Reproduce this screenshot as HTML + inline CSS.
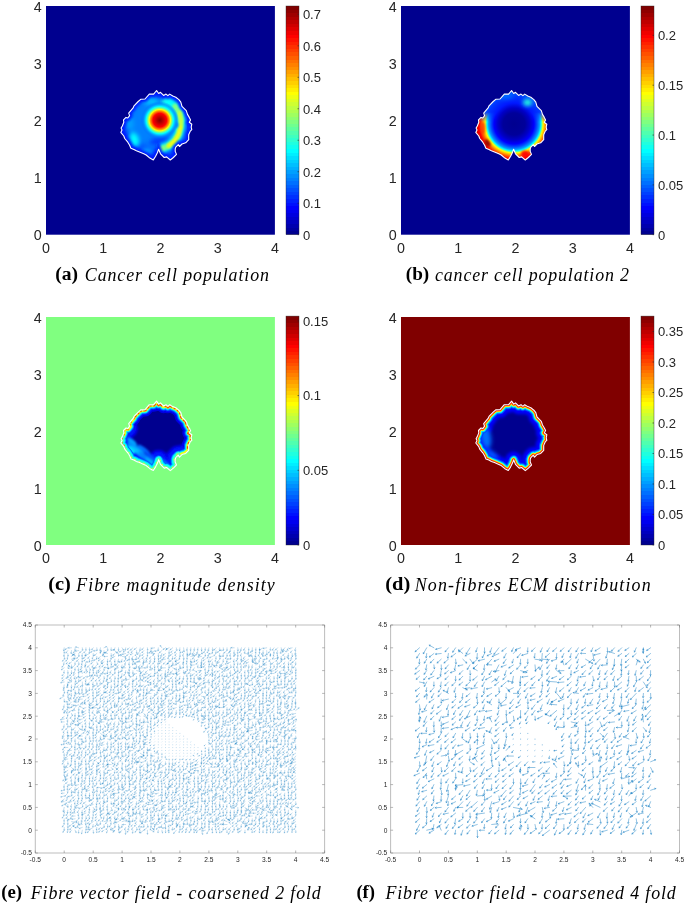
<!DOCTYPE html><html><head><meta charset="utf-8"><style>html,body{margin:0;padding:0;background:#fff;}svg{display:block}</style></head><body>
<svg width="685" height="904" viewBox="0 0 685 904">
<defs>
<linearGradient id="jet" x1="0" y1="0" x2="0" y2="1"><stop offset="0.00000" stop-color="#800000"/><stop offset="0.01562" stop-color="#800000"/><stop offset="0.01562" stop-color="#8f0000"/><stop offset="0.03125" stop-color="#8f0000"/><stop offset="0.03125" stop-color="#9f0000"/><stop offset="0.04688" stop-color="#9f0000"/><stop offset="0.04688" stop-color="#af0000"/><stop offset="0.06250" stop-color="#af0000"/><stop offset="0.06250" stop-color="#bf0000"/><stop offset="0.07812" stop-color="#bf0000"/><stop offset="0.07812" stop-color="#cf0000"/><stop offset="0.09375" stop-color="#cf0000"/><stop offset="0.09375" stop-color="#df0000"/><stop offset="0.10938" stop-color="#df0000"/><stop offset="0.10938" stop-color="#ef0000"/><stop offset="0.12500" stop-color="#ef0000"/><stop offset="0.12500" stop-color="#ff0000"/><stop offset="0.14062" stop-color="#ff0000"/><stop offset="0.14062" stop-color="#ff1000"/><stop offset="0.15625" stop-color="#ff1000"/><stop offset="0.15625" stop-color="#ff2000"/><stop offset="0.17188" stop-color="#ff2000"/><stop offset="0.17188" stop-color="#ff3000"/><stop offset="0.18750" stop-color="#ff3000"/><stop offset="0.18750" stop-color="#ff4000"/><stop offset="0.20312" stop-color="#ff4000"/><stop offset="0.20312" stop-color="#ff5000"/><stop offset="0.21875" stop-color="#ff5000"/><stop offset="0.21875" stop-color="#ff6000"/><stop offset="0.23438" stop-color="#ff6000"/><stop offset="0.23438" stop-color="#ff7000"/><stop offset="0.25000" stop-color="#ff7000"/><stop offset="0.25000" stop-color="#ff8000"/><stop offset="0.26562" stop-color="#ff8000"/><stop offset="0.26562" stop-color="#ff8f00"/><stop offset="0.28125" stop-color="#ff8f00"/><stop offset="0.28125" stop-color="#ff9f00"/><stop offset="0.29688" stop-color="#ff9f00"/><stop offset="0.29688" stop-color="#ffaf00"/><stop offset="0.31250" stop-color="#ffaf00"/><stop offset="0.31250" stop-color="#ffbf00"/><stop offset="0.32812" stop-color="#ffbf00"/><stop offset="0.32812" stop-color="#ffcf00"/><stop offset="0.34375" stop-color="#ffcf00"/><stop offset="0.34375" stop-color="#ffdf00"/><stop offset="0.35938" stop-color="#ffdf00"/><stop offset="0.35938" stop-color="#ffef00"/><stop offset="0.37500" stop-color="#ffef00"/><stop offset="0.37500" stop-color="#ffff00"/><stop offset="0.39062" stop-color="#ffff00"/><stop offset="0.39062" stop-color="#efff10"/><stop offset="0.40625" stop-color="#efff10"/><stop offset="0.40625" stop-color="#dfff20"/><stop offset="0.42188" stop-color="#dfff20"/><stop offset="0.42188" stop-color="#cfff30"/><stop offset="0.43750" stop-color="#cfff30"/><stop offset="0.43750" stop-color="#bfff40"/><stop offset="0.45312" stop-color="#bfff40"/><stop offset="0.45312" stop-color="#afff50"/><stop offset="0.46875" stop-color="#afff50"/><stop offset="0.46875" stop-color="#9fff60"/><stop offset="0.48438" stop-color="#9fff60"/><stop offset="0.48438" stop-color="#8fff70"/><stop offset="0.50000" stop-color="#8fff70"/><stop offset="0.50000" stop-color="#80ff80"/><stop offset="0.51562" stop-color="#80ff80"/><stop offset="0.51562" stop-color="#70ff8f"/><stop offset="0.53125" stop-color="#70ff8f"/><stop offset="0.53125" stop-color="#60ff9f"/><stop offset="0.54688" stop-color="#60ff9f"/><stop offset="0.54688" stop-color="#50ffaf"/><stop offset="0.56250" stop-color="#50ffaf"/><stop offset="0.56250" stop-color="#40ffbf"/><stop offset="0.57812" stop-color="#40ffbf"/><stop offset="0.57812" stop-color="#30ffcf"/><stop offset="0.59375" stop-color="#30ffcf"/><stop offset="0.59375" stop-color="#20ffdf"/><stop offset="0.60938" stop-color="#20ffdf"/><stop offset="0.60938" stop-color="#10ffef"/><stop offset="0.62500" stop-color="#10ffef"/><stop offset="0.62500" stop-color="#00ffff"/><stop offset="0.64062" stop-color="#00ffff"/><stop offset="0.64062" stop-color="#00efff"/><stop offset="0.65625" stop-color="#00efff"/><stop offset="0.65625" stop-color="#00dfff"/><stop offset="0.67188" stop-color="#00dfff"/><stop offset="0.67188" stop-color="#00cfff"/><stop offset="0.68750" stop-color="#00cfff"/><stop offset="0.68750" stop-color="#00bfff"/><stop offset="0.70312" stop-color="#00bfff"/><stop offset="0.70312" stop-color="#00afff"/><stop offset="0.71875" stop-color="#00afff"/><stop offset="0.71875" stop-color="#009fff"/><stop offset="0.73438" stop-color="#009fff"/><stop offset="0.73438" stop-color="#008fff"/><stop offset="0.75000" stop-color="#008fff"/><stop offset="0.75000" stop-color="#0080ff"/><stop offset="0.76562" stop-color="#0080ff"/><stop offset="0.76562" stop-color="#0070ff"/><stop offset="0.78125" stop-color="#0070ff"/><stop offset="0.78125" stop-color="#0060ff"/><stop offset="0.79688" stop-color="#0060ff"/><stop offset="0.79688" stop-color="#0050ff"/><stop offset="0.81250" stop-color="#0050ff"/><stop offset="0.81250" stop-color="#0040ff"/><stop offset="0.82812" stop-color="#0040ff"/><stop offset="0.82812" stop-color="#0030ff"/><stop offset="0.84375" stop-color="#0030ff"/><stop offset="0.84375" stop-color="#0020ff"/><stop offset="0.85938" stop-color="#0020ff"/><stop offset="0.85938" stop-color="#0010ff"/><stop offset="0.87500" stop-color="#0010ff"/><stop offset="0.87500" stop-color="#0000ff"/><stop offset="0.89062" stop-color="#0000ff"/><stop offset="0.89062" stop-color="#0000ef"/><stop offset="0.90625" stop-color="#0000ef"/><stop offset="0.90625" stop-color="#0000df"/><stop offset="0.92188" stop-color="#0000df"/><stop offset="0.92188" stop-color="#0000cf"/><stop offset="0.93750" stop-color="#0000cf"/><stop offset="0.93750" stop-color="#0000bf"/><stop offset="0.95312" stop-color="#0000bf"/><stop offset="0.95312" stop-color="#0000af"/><stop offset="0.96875" stop-color="#0000af"/><stop offset="0.96875" stop-color="#00009f"/><stop offset="0.98438" stop-color="#00009f"/><stop offset="0.98438" stop-color="#00008f"/><stop offset="1.00000" stop-color="#00008f"/></linearGradient>
<clipPath id="blob"><path d="M110.6,84.5 L112.7,87.5 L114.5,86.3 L117.6,89.4 L120.0,88.1 L121.9,89.7 L123.7,88.1 L126.8,90.0 L129.8,91.2 L132.9,93.6 L134.8,96.1 L136.0,100.4 L140.3,104.7 L141.5,108.4 L143.3,111.4 L144.6,113.9 L143.3,116.3 L145.8,118.2 L145.2,121.2 L145.8,123.7 L144.3,125.1 L142.7,128.8 L142.7,133.7 L139.7,136.8 L136.0,138.0 L133.5,140.5 L132.3,138.6 L129.8,141.1 L129.2,142.9 L129.2,145.4 L130.5,148.4 L127.4,151.5 L124.3,154.0 L120.6,150.9 L118.2,151.5 L114.5,147.8 L112.6,143.2 L111.5,146.5 L109.5,150.5 L107.3,153.9 L103.9,152.1 L100.2,149.0 L97.8,147.8 L93.5,146.0 L90.4,144.8 L87.9,143.5 L84.9,142.3 L83.6,139.2 L81.8,136.2 L78.7,132.5 L77.8,130.0 L74.8,126.4 L76.0,123.9 L75.1,122.1 L76.3,120.0 L77.8,116.3 L77.5,113.9 L80.0,111.4 L81.8,112.0 L83.6,109.6 L82.7,107.1 L87.3,101.6 L88.0,99.8 L92.2,95.5 L94.7,93.3 L99.0,93.0 L103.3,88.1 L107.6,88.1 Z"/></clipPath>
<filter id="b1" x="-20%" y="-20%" width="140%" height="140%"><feGaussianBlur stdDeviation="1"/></filter>
<filter id="b2" x="-30%" y="-30%" width="160%" height="160%"><feGaussianBlur stdDeviation="2"/></filter>
<filter id="b3" x="-30%" y="-30%" width="160%" height="160%"><feGaussianBlur stdDeviation="3"/></filter>
<filter id="b05" x="-20%" y="-20%" width="140%" height="140%"><feGaussianBlur stdDeviation="0.6"/></filter>
<radialGradient id="coreA" cx="0.5" cy="0.5" r="0.5"><stop offset="0" stop-color="#800000"/><stop offset="0.14" stop-color="#b00000"/><stop offset="0.36" stop-color="#ff0000"/><stop offset="0.43" stop-color="#ff5000"/><stop offset="0.5" stop-color="#ffa000"/><stop offset="0.56" stop-color="#ffff00"/><stop offset="0.63" stop-color="#80ff80"/><stop offset="0.72" stop-color="#00ffff"/><stop offset="0.86" stop-color="#0090ff" stop-opacity="0.7"/><stop offset="1" stop-color="#0060ff" stop-opacity="0"/></radialGradient>
<radialGradient id="coreB" cx="0.5" cy="0.5" r="0.5"><stop offset="0" stop-color="#00008f"/><stop offset="0.4" stop-color="#0000a0"/><stop offset="0.7" stop-color="#0010e0"/><stop offset="1" stop-color="#0030ff" stop-opacity="0"/></radialGradient>
</defs>
<rect width="685" height="904" fill="#fff"/>
<rect x="46" y="6" width="228.9" height="228.7" fill="#00008f"/>
<rect x="286" y="6" width="13" height="228.7" fill="url(#jet)" stroke="#262626" stroke-width="0.5" stroke-opacity="0.8"/>
<text x="41.6" y="240.30" font-family="Liberation Sans, sans-serif" font-size="14.3" fill="#262626" text-anchor="end">0</text>
<text x="46.00" y="252.60" font-family="Liberation Sans, sans-serif" font-size="14.3" fill="#262626" text-anchor="middle">0</text>
<text x="41.6" y="183.12" font-family="Liberation Sans, sans-serif" font-size="14.3" fill="#262626" text-anchor="end">1</text>
<text x="103.22" y="252.60" font-family="Liberation Sans, sans-serif" font-size="14.3" fill="#262626" text-anchor="middle">1</text>
<text x="41.6" y="125.95" font-family="Liberation Sans, sans-serif" font-size="14.3" fill="#262626" text-anchor="end">2</text>
<text x="160.45" y="252.60" font-family="Liberation Sans, sans-serif" font-size="14.3" fill="#262626" text-anchor="middle">2</text>
<text x="41.6" y="68.78" font-family="Liberation Sans, sans-serif" font-size="14.3" fill="#262626" text-anchor="end">3</text>
<text x="217.68" y="252.60" font-family="Liberation Sans, sans-serif" font-size="14.3" fill="#262626" text-anchor="middle">3</text>
<text x="41.6" y="11.60" font-family="Liberation Sans, sans-serif" font-size="14.3" fill="#262626" text-anchor="end">4</text>
<text x="274.90" y="252.60" font-family="Liberation Sans, sans-serif" font-size="14.3" fill="#262626" text-anchor="middle">4</text>
<line x1="297.5" x2="299" y1="234.70" y2="234.70" stroke="#262626" stroke-width="0.6"/>
<text x="302.9" y="239.50" font-family="Liberation Sans, sans-serif" font-size="13" fill="#262626">0</text>
<line x1="297.5" x2="299" y1="203.22" y2="203.22" stroke="#262626" stroke-width="0.6"/>
<text x="302.9" y="208.02" font-family="Liberation Sans, sans-serif" font-size="13" fill="#262626">0.1</text>
<line x1="297.5" x2="299" y1="171.74" y2="171.74" stroke="#262626" stroke-width="0.6"/>
<text x="302.9" y="176.54" font-family="Liberation Sans, sans-serif" font-size="13" fill="#262626">0.2</text>
<line x1="297.5" x2="299" y1="140.26" y2="140.26" stroke="#262626" stroke-width="0.6"/>
<text x="302.9" y="145.06" font-family="Liberation Sans, sans-serif" font-size="13" fill="#262626">0.3</text>
<line x1="297.5" x2="299" y1="108.78" y2="108.78" stroke="#262626" stroke-width="0.6"/>
<text x="302.9" y="113.58" font-family="Liberation Sans, sans-serif" font-size="13" fill="#262626">0.4</text>
<line x1="297.5" x2="299" y1="77.30" y2="77.30" stroke="#262626" stroke-width="0.6"/>
<text x="302.9" y="82.10" font-family="Liberation Sans, sans-serif" font-size="13" fill="#262626">0.5</text>
<line x1="297.5" x2="299" y1="45.82" y2="45.82" stroke="#262626" stroke-width="0.6"/>
<text x="302.9" y="50.62" font-family="Liberation Sans, sans-serif" font-size="13" fill="#262626">0.6</text>
<line x1="297.5" x2="299" y1="14.34" y2="14.34" stroke="#262626" stroke-width="0.6"/>
<text x="302.9" y="19.14" font-family="Liberation Sans, sans-serif" font-size="13" fill="#262626">0.7</text>
<rect x="401" y="6" width="228.9" height="228.7" fill="#00008f"/>
<rect x="641" y="6" width="13" height="228.7" fill="url(#jet)" stroke="#262626" stroke-width="0.5" stroke-opacity="0.8"/>
<text x="396.6" y="240.30" font-family="Liberation Sans, sans-serif" font-size="14.3" fill="#262626" text-anchor="end">0</text>
<text x="401.00" y="252.60" font-family="Liberation Sans, sans-serif" font-size="14.3" fill="#262626" text-anchor="middle">0</text>
<text x="396.6" y="183.12" font-family="Liberation Sans, sans-serif" font-size="14.3" fill="#262626" text-anchor="end">1</text>
<text x="458.23" y="252.60" font-family="Liberation Sans, sans-serif" font-size="14.3" fill="#262626" text-anchor="middle">1</text>
<text x="396.6" y="125.95" font-family="Liberation Sans, sans-serif" font-size="14.3" fill="#262626" text-anchor="end">2</text>
<text x="515.45" y="252.60" font-family="Liberation Sans, sans-serif" font-size="14.3" fill="#262626" text-anchor="middle">2</text>
<text x="396.6" y="68.78" font-family="Liberation Sans, sans-serif" font-size="14.3" fill="#262626" text-anchor="end">3</text>
<text x="572.67" y="252.60" font-family="Liberation Sans, sans-serif" font-size="14.3" fill="#262626" text-anchor="middle">3</text>
<text x="396.6" y="11.60" font-family="Liberation Sans, sans-serif" font-size="14.3" fill="#262626" text-anchor="end">4</text>
<text x="629.90" y="252.60" font-family="Liberation Sans, sans-serif" font-size="14.3" fill="#262626" text-anchor="middle">4</text>
<line x1="652.5" x2="654" y1="234.70" y2="234.70" stroke="#262626" stroke-width="0.6"/>
<text x="657.9" y="239.50" font-family="Liberation Sans, sans-serif" font-size="13" fill="#262626">0</text>
<line x1="652.5" x2="654" y1="184.87" y2="184.87" stroke="#262626" stroke-width="0.6"/>
<text x="657.9" y="189.67" font-family="Liberation Sans, sans-serif" font-size="13" fill="#262626">0.05</text>
<line x1="652.5" x2="654" y1="135.05" y2="135.05" stroke="#262626" stroke-width="0.6"/>
<text x="657.9" y="139.85" font-family="Liberation Sans, sans-serif" font-size="13" fill="#262626">0.1</text>
<line x1="652.5" x2="654" y1="85.22" y2="85.22" stroke="#262626" stroke-width="0.6"/>
<text x="657.9" y="90.02" font-family="Liberation Sans, sans-serif" font-size="13" fill="#262626">0.15</text>
<line x1="652.5" x2="654" y1="35.40" y2="35.40" stroke="#262626" stroke-width="0.6"/>
<text x="657.9" y="40.20" font-family="Liberation Sans, sans-serif" font-size="13" fill="#262626">0.2</text>
<rect x="46" y="317" width="228.9" height="228" fill="#80ff80"/>
<rect x="286" y="316.1" width="13" height="228.9" fill="url(#jet)" stroke="#262626" stroke-width="0.5" stroke-opacity="0.8"/>
<text x="41.6" y="550.60" font-family="Liberation Sans, sans-serif" font-size="14.3" fill="#262626" text-anchor="end">0</text>
<text x="46.00" y="562.90" font-family="Liberation Sans, sans-serif" font-size="14.3" fill="#262626" text-anchor="middle">0</text>
<text x="41.6" y="493.60" font-family="Liberation Sans, sans-serif" font-size="14.3" fill="#262626" text-anchor="end">1</text>
<text x="103.22" y="562.90" font-family="Liberation Sans, sans-serif" font-size="14.3" fill="#262626" text-anchor="middle">1</text>
<text x="41.6" y="436.60" font-family="Liberation Sans, sans-serif" font-size="14.3" fill="#262626" text-anchor="end">2</text>
<text x="160.45" y="562.90" font-family="Liberation Sans, sans-serif" font-size="14.3" fill="#262626" text-anchor="middle">2</text>
<text x="41.6" y="379.60" font-family="Liberation Sans, sans-serif" font-size="14.3" fill="#262626" text-anchor="end">3</text>
<text x="217.68" y="562.90" font-family="Liberation Sans, sans-serif" font-size="14.3" fill="#262626" text-anchor="middle">3</text>
<text x="41.6" y="322.60" font-family="Liberation Sans, sans-serif" font-size="14.3" fill="#262626" text-anchor="end">4</text>
<text x="274.90" y="562.90" font-family="Liberation Sans, sans-serif" font-size="14.3" fill="#262626" text-anchor="middle">4</text>
<line x1="297.5" x2="299" y1="545.00" y2="545.00" stroke="#262626" stroke-width="0.6"/>
<text x="302.9" y="549.80" font-family="Liberation Sans, sans-serif" font-size="13" fill="#262626">0</text>
<line x1="297.5" x2="299" y1="470.29" y2="470.29" stroke="#262626" stroke-width="0.6"/>
<text x="302.9" y="475.09" font-family="Liberation Sans, sans-serif" font-size="13" fill="#262626">0.05</text>
<line x1="297.5" x2="299" y1="395.59" y2="395.59" stroke="#262626" stroke-width="0.6"/>
<text x="302.9" y="400.39" font-family="Liberation Sans, sans-serif" font-size="13" fill="#262626">0.1</text>
<line x1="297.5" x2="299" y1="320.88" y2="320.88" stroke="#262626" stroke-width="0.6"/>
<text x="302.9" y="325.68" font-family="Liberation Sans, sans-serif" font-size="13" fill="#262626">0.15</text>
<rect x="401" y="317" width="228.9" height="228" fill="#800000"/>
<rect x="641" y="316.1" width="13" height="228.9" fill="url(#jet)" stroke="#262626" stroke-width="0.5" stroke-opacity="0.8"/>
<text x="396.6" y="550.60" font-family="Liberation Sans, sans-serif" font-size="14.3" fill="#262626" text-anchor="end">0</text>
<text x="401.00" y="562.90" font-family="Liberation Sans, sans-serif" font-size="14.3" fill="#262626" text-anchor="middle">0</text>
<text x="396.6" y="493.60" font-family="Liberation Sans, sans-serif" font-size="14.3" fill="#262626" text-anchor="end">1</text>
<text x="458.23" y="562.90" font-family="Liberation Sans, sans-serif" font-size="14.3" fill="#262626" text-anchor="middle">1</text>
<text x="396.6" y="436.60" font-family="Liberation Sans, sans-serif" font-size="14.3" fill="#262626" text-anchor="end">2</text>
<text x="515.45" y="562.90" font-family="Liberation Sans, sans-serif" font-size="14.3" fill="#262626" text-anchor="middle">2</text>
<text x="396.6" y="379.60" font-family="Liberation Sans, sans-serif" font-size="14.3" fill="#262626" text-anchor="end">3</text>
<text x="572.67" y="562.90" font-family="Liberation Sans, sans-serif" font-size="14.3" fill="#262626" text-anchor="middle">3</text>
<text x="396.6" y="322.60" font-family="Liberation Sans, sans-serif" font-size="14.3" fill="#262626" text-anchor="end">4</text>
<text x="629.90" y="562.90" font-family="Liberation Sans, sans-serif" font-size="14.3" fill="#262626" text-anchor="middle">4</text>
<line x1="652.5" x2="654" y1="545.00" y2="545.00" stroke="#262626" stroke-width="0.6"/>
<text x="657.9" y="549.80" font-family="Liberation Sans, sans-serif" font-size="13" fill="#262626">0</text>
<line x1="652.5" x2="654" y1="514.50" y2="514.50" stroke="#262626" stroke-width="0.6"/>
<text x="657.9" y="519.30" font-family="Liberation Sans, sans-serif" font-size="13" fill="#262626">0.05</text>
<line x1="652.5" x2="654" y1="483.99" y2="483.99" stroke="#262626" stroke-width="0.6"/>
<text x="657.9" y="488.79" font-family="Liberation Sans, sans-serif" font-size="13" fill="#262626">0.1</text>
<line x1="652.5" x2="654" y1="453.49" y2="453.49" stroke="#262626" stroke-width="0.6"/>
<text x="657.9" y="458.29" font-family="Liberation Sans, sans-serif" font-size="13" fill="#262626">0.15</text>
<line x1="652.5" x2="654" y1="422.99" y2="422.99" stroke="#262626" stroke-width="0.6"/>
<text x="657.9" y="427.79" font-family="Liberation Sans, sans-serif" font-size="13" fill="#262626">0.2</text>
<line x1="652.5" x2="654" y1="392.48" y2="392.48" stroke="#262626" stroke-width="0.6"/>
<text x="657.9" y="397.28" font-family="Liberation Sans, sans-serif" font-size="13" fill="#262626">0.25</text>
<line x1="652.5" x2="654" y1="361.98" y2="361.98" stroke="#262626" stroke-width="0.6"/>
<text x="657.9" y="366.78" font-family="Liberation Sans, sans-serif" font-size="13" fill="#262626">0.3</text>
<line x1="652.5" x2="654" y1="331.47" y2="331.47" stroke="#262626" stroke-width="0.6"/>
<text x="657.9" y="336.27" font-family="Liberation Sans, sans-serif" font-size="13" fill="#262626">0.35</text>
<g transform="translate(46,6)">
<g clip-path="url(#blob)">
<path d="M110.6,84.5 L112.7,87.5 L114.5,86.3 L117.6,89.4 L120.0,88.1 L121.9,89.7 L123.7,88.1 L126.8,90.0 L129.8,91.2 L132.9,93.6 L134.8,96.1 L136.0,100.4 L140.3,104.7 L141.5,108.4 L143.3,111.4 L144.6,113.9 L143.3,116.3 L145.8,118.2 L145.2,121.2 L145.8,123.7 L144.3,125.1 L142.7,128.8 L142.7,133.7 L139.7,136.8 L136.0,138.0 L133.5,140.5 L132.3,138.6 L129.8,141.1 L129.2,142.9 L129.2,145.4 L130.5,148.4 L127.4,151.5 L124.3,154.0 L120.6,150.9 L118.2,151.5 L114.5,147.8 L112.6,143.2 L111.5,146.5 L109.5,150.5 L107.3,153.9 L103.9,152.1 L100.2,149.0 L97.8,147.8 L93.5,146.0 L90.4,144.8 L87.9,143.5 L84.9,142.3 L83.6,139.2 L81.8,136.2 L78.7,132.5 L77.8,130.0 L74.8,126.4 L76.0,123.9 L75.1,122.1 L76.3,120.0 L77.8,116.3 L77.5,113.9 L80.0,111.4 L81.8,112.0 L83.6,109.6 L82.7,107.1 L87.3,101.6 L88.0,99.8 L92.2,95.5 L94.7,93.3 L99.0,93.0 L103.3,88.1 L107.6,88.1 Z" fill="#0040ff"/>
<g filter="url(#b3)">
<ellipse cx="109.0" cy="117.0" rx="27" ry="25" fill="#0080ff" opacity="1" transform="rotate(0 109.0 117.0)"/>
</g>
<g filter="url(#b2)">
<ellipse cx="114.0" cy="135.0" rx="11" ry="3.5" fill="#0038ff" opacity="1" transform="rotate(-8 114.0 135.0)"/>
<ellipse cx="88.5" cy="133.5" rx="4.5" ry="7.5" fill="#00ffff" opacity="1" transform="rotate(-20 88.5 133.5)"/>
<ellipse cx="105.0" cy="95.5" rx="8" ry="3.5" fill="#00c0ff" opacity="1" transform="rotate(0 105.0 95.5)"/>
<ellipse cx="84.0" cy="118.0" rx="4" ry="7" fill="#00a0ff" opacity="1" transform="rotate(0 84.0 118.0)"/>
<ellipse cx="101.0" cy="145.0" rx="6" ry="2.5" fill="#00b0ff" opacity="1" transform="rotate(0 101.0 145.0)"/>
<ellipse cx="122.0" cy="98.0" rx="7" ry="4.5" fill="#20ffe0" opacity="1" transform="rotate(30 122.0 98.0)"/>
</g>
<g filter="url(#b2)">
<path d="M122.5,96.5 L129.0,100.5 L133.5,107.0 L135.0,114.0 L134.5,121.0 L132.5,128.5 L128.5,135.0 L122.5,140.0 L116.0,142.5" fill="none" stroke="#00ffff" stroke-width="9" stroke-linecap="round" stroke-linejoin="round"/>
</g>
<g filter="url(#b1)">
<path d="M129.0,100.5 L133.5,107.0 L135.0,114.0 L134.5,121.0 L132.5,128.5 L128.5,135.0 L122.5,140.0 L116.0,142.5" fill="none" stroke="#80ff80" stroke-width="5.5" stroke-linecap="round" stroke-linejoin="round"/>
</g>
<g filter="url(#b1)">
<path d="M133.5,107.0 L135.0,114.0 L134.5,121.0 L132.5,128.5 L128.5,135.0 L122.5,140.0" fill="none" stroke="#c8ff38" stroke-width="3.6" stroke-linecap="round" stroke-linejoin="round"/>
</g>
<g filter="url(#b1)">
<path d="M134.5,121.0 L132.5,128.5 L128.5,135.0 L122.5,140.0" fill="none" stroke="#f8ff08" stroke-width="2.4" stroke-linecap="round" stroke-linejoin="round"/>
</g>
<g filter="url(#b1)">
<ellipse cx="130.3" cy="119.0" rx="2.2" ry="3" fill="#0090ff" opacity="1" transform="rotate(0 130.3 119.0)"/>
</g>
<circle cx="113.8" cy="114.2" r="19" fill="url(#coreA)"/>
<path d="M110.6,84.5 L112.7,87.5 L114.5,86.3 L117.6,89.4 L120.0,88.1 L121.9,89.7 L123.7,88.1 L126.8,90.0 L129.8,91.2 L132.9,93.6 L134.8,96.1 L136.0,100.4 L140.3,104.7 L141.5,108.4 L143.3,111.4 L144.6,113.9 L143.3,116.3 L145.8,118.2 L145.2,121.2 L145.8,123.7 L144.3,125.1 L142.7,128.8 L142.7,133.7 L139.7,136.8 L136.0,138.0 L133.5,140.5 L132.3,138.6 L129.8,141.1 L129.2,142.9 L129.2,145.4 L130.5,148.4 L127.4,151.5 L124.3,154.0 L120.6,150.9 L118.2,151.5 L114.5,147.8 L112.6,143.2 L111.5,146.5 L109.5,150.5 L107.3,153.9 L103.9,152.1 L100.2,149.0 L97.8,147.8 L93.5,146.0 L90.4,144.8 L87.9,143.5 L84.9,142.3 L83.6,139.2 L81.8,136.2 L78.7,132.5 L77.8,130.0 L74.8,126.4 L76.0,123.9 L75.1,122.1 L76.3,120.0 L77.8,116.3 L77.5,113.9 L80.0,111.4 L81.8,112.0 L83.6,109.6 L82.7,107.1 L87.3,101.6 L88.0,99.8 L92.2,95.5 L94.7,93.3 L99.0,93.0 L103.3,88.1 L107.6,88.1 Z" fill="none" stroke="#0018ff" stroke-width="5.5" opacity="0.9" filter="url(#b1)"/>
</g>
<path d="M110.6,84.5 L112.7,87.5 L114.5,86.3 L117.6,89.4 L120.0,88.1 L121.9,89.7 L123.7,88.1 L126.8,90.0 L129.8,91.2 L132.9,93.6 L134.8,96.1 L136.0,100.4 L140.3,104.7 L141.5,108.4 L143.3,111.4 L144.6,113.9 L143.3,116.3 L145.8,118.2 L145.2,121.2 L145.8,123.7 L144.3,125.1 L142.7,128.8 L142.7,133.7 L139.7,136.8 L136.0,138.0 L133.5,140.5 L132.3,138.6 L129.8,141.1 L129.2,142.9 L129.2,145.4 L130.5,148.4 L127.4,151.5 L124.3,154.0 L120.6,150.9 L118.2,151.5 L114.5,147.8 L112.6,143.2 L111.5,146.5 L109.5,150.5 L107.3,153.9 L103.9,152.1 L100.2,149.0 L97.8,147.8 L93.5,146.0 L90.4,144.8 L87.9,143.5 L84.9,142.3 L83.6,139.2 L81.8,136.2 L78.7,132.5 L77.8,130.0 L74.8,126.4 L76.0,123.9 L75.1,122.1 L76.3,120.0 L77.8,116.3 L77.5,113.9 L80.0,111.4 L81.8,112.0 L83.6,109.6 L82.7,107.1 L87.3,101.6 L88.0,99.8 L92.2,95.5 L94.7,93.3 L99.0,93.0 L103.3,88.1 L107.6,88.1 Z" fill="none" stroke="#fff" stroke-width="1.1" stroke-linejoin="round"/>
</g>
<g transform="translate(401,6)">
<g clip-path="url(#blob)">
<radialGradient id="radB0" gradientUnits="userSpaceOnUse" cx="113" cy="118" r="40"><stop offset="0.000" stop-color="#00008f"/><stop offset="0.275" stop-color="#00009a"/><stop offset="0.400" stop-color="#0000c8"/><stop offset="0.525" stop-color="#0018ff"/><stop offset="0.700" stop-color="#0038ff"/><stop offset="0.825" stop-color="#0060ff"/><stop offset="1.000" stop-color="#0080ff"/></radialGradient>
<radialGradient id="radB1" gradientUnits="userSpaceOnUse" cx="113" cy="118" r="40"><stop offset="0.000" stop-color="#00008f"/><stop offset="0.275" stop-color="#00009a"/><stop offset="0.400" stop-color="#0000c8"/><stop offset="0.500" stop-color="#0000ff"/><stop offset="0.575" stop-color="#0050ff"/><stop offset="0.637" stop-color="#00a0ff"/><stop offset="0.675" stop-color="#00ffff"/><stop offset="0.700" stop-color="#80ff80"/><stop offset="0.725" stop-color="#ffff00"/><stop offset="0.800" stop-color="#ff7000"/><stop offset="0.875" stop-color="#ff0000"/><stop offset="0.988" stop-color="#c00000"/><stop offset="1.050" stop-color="#900000"/></radialGradient>
<linearGradient id="mB" gradientUnits="userSpaceOnUse" x1="0" y1="106" x2="0" y2="116"><stop offset="0" stop-color="#fff" stop-opacity="0"/><stop offset="1" stop-color="#fff"/></linearGradient>
<mask id="maskB" maskUnits="userSpaceOnUse" x="0" y="0" width="229" height="229"><rect width="229" height="229" fill="url(#mB)"/></mask>
<path d="M110.6,84.5 L112.7,87.5 L114.5,86.3 L117.6,89.4 L120.0,88.1 L121.9,89.7 L123.7,88.1 L126.8,90.0 L129.8,91.2 L132.9,93.6 L134.8,96.1 L136.0,100.4 L140.3,104.7 L141.5,108.4 L143.3,111.4 L144.6,113.9 L143.3,116.3 L145.8,118.2 L145.2,121.2 L145.8,123.7 L144.3,125.1 L142.7,128.8 L142.7,133.7 L139.7,136.8 L136.0,138.0 L133.5,140.5 L132.3,138.6 L129.8,141.1 L129.2,142.9 L129.2,145.4 L130.5,148.4 L127.4,151.5 L124.3,154.0 L120.6,150.9 L118.2,151.5 L114.5,147.8 L112.6,143.2 L111.5,146.5 L109.5,150.5 L107.3,153.9 L103.9,152.1 L100.2,149.0 L97.8,147.8 L93.5,146.0 L90.4,144.8 L87.9,143.5 L84.9,142.3 L83.6,139.2 L81.8,136.2 L78.7,132.5 L77.8,130.0 L74.8,126.4 L76.0,123.9 L75.1,122.1 L76.3,120.0 L77.8,116.3 L77.5,113.9 L80.0,111.4 L81.8,112.0 L83.6,109.6 L82.7,107.1 L87.3,101.6 L88.0,99.8 L92.2,95.5 L94.7,93.3 L99.0,93.0 L103.3,88.1 L107.6,88.1 Z" fill="url(#radB0)"/>
<path d="M110.6,84.5 L112.7,87.5 L114.5,86.3 L117.6,89.4 L120.0,88.1 L121.9,89.7 L123.7,88.1 L126.8,90.0 L129.8,91.2 L132.9,93.6 L134.8,96.1 L136.0,100.4 L140.3,104.7 L141.5,108.4 L143.3,111.4 L144.6,113.9 L143.3,116.3 L145.8,118.2 L145.2,121.2 L145.8,123.7 L144.3,125.1 L142.7,128.8 L142.7,133.7 L139.7,136.8 L136.0,138.0 L133.5,140.5 L132.3,138.6 L129.8,141.1 L129.2,142.9 L129.2,145.4 L130.5,148.4 L127.4,151.5 L124.3,154.0 L120.6,150.9 L118.2,151.5 L114.5,147.8 L112.6,143.2 L111.5,146.5 L109.5,150.5 L107.3,153.9 L103.9,152.1 L100.2,149.0 L97.8,147.8 L93.5,146.0 L90.4,144.8 L87.9,143.5 L84.9,142.3 L83.6,139.2 L81.8,136.2 L78.7,132.5 L77.8,130.0 L74.8,126.4 L76.0,123.9 L75.1,122.1 L76.3,120.0 L77.8,116.3 L77.5,113.9 L80.0,111.4 L81.8,112.0 L83.6,109.6 L82.7,107.1 L87.3,101.6 L88.0,99.8 L92.2,95.5 L94.7,93.3 L99.0,93.0 L103.3,88.1 L107.6,88.1 Z" fill="url(#radB1)" mask="url(#maskB)"/>
<g filter="url(#b2)">
<ellipse cx="126.5" cy="96.5" rx="4.5" ry="3.5" fill="#20ffe0" opacity="1" transform="rotate(0 126.5 96.5)"/>
<ellipse cx="105.0" cy="90.0" rx="8" ry="3" fill="#0080ff" opacity="0.7" transform="rotate(0 105.0 90.0)"/>
</g>
<g filter="url(#b1)">
<ellipse cx="86.5" cy="137.0" rx="2.5" ry="4" fill="#900000" opacity="0.9" transform="rotate(-30 86.5 137.0)"/>
<ellipse cx="124.0" cy="148.0" rx="4" ry="3.5" fill="#ff0000" opacity="0.9" transform="rotate(0 124.0 148.0)"/>
<ellipse cx="82.0" cy="122.0" rx="2.5" ry="6" fill="#ff3000" opacity="0.7" transform="rotate(0 82.0 122.0)"/>
</g>
</g>
<path d="M110.6,84.5 L112.7,87.5 L114.5,86.3 L117.6,89.4 L120.0,88.1 L121.9,89.7 L123.7,88.1 L126.8,90.0 L129.8,91.2 L132.9,93.6 L134.8,96.1 L136.0,100.4 L140.3,104.7 L141.5,108.4 L143.3,111.4 L144.6,113.9 L143.3,116.3 L145.8,118.2 L145.2,121.2 L145.8,123.7 L144.3,125.1 L142.7,128.8 L142.7,133.7 L139.7,136.8 L136.0,138.0 L133.5,140.5 L132.3,138.6 L129.8,141.1 L129.2,142.9 L129.2,145.4 L130.5,148.4 L127.4,151.5 L124.3,154.0 L120.6,150.9 L118.2,151.5 L114.5,147.8 L112.6,143.2 L111.5,146.5 L109.5,150.5 L107.3,153.9 L103.9,152.1 L100.2,149.0 L97.8,147.8 L93.5,146.0 L90.4,144.8 L87.9,143.5 L84.9,142.3 L83.6,139.2 L81.8,136.2 L78.7,132.5 L77.8,130.0 L74.8,126.4 L76.0,123.9 L75.1,122.1 L76.3,120.0 L77.8,116.3 L77.5,113.9 L80.0,111.4 L81.8,112.0 L83.6,109.6 L82.7,107.1 L87.3,101.6 L88.0,99.8 L92.2,95.5 L94.7,93.3 L99.0,93.0 L103.3,88.1 L107.6,88.1 Z" fill="none" stroke="#fff" stroke-width="1.1" stroke-linejoin="round"/>
</g>
<g transform="translate(46,316.6)">
<g clip-path="url(#blob)">
<path d="M110.6,84.5 L112.7,87.5 L114.5,86.3 L117.6,89.4 L120.0,88.1 L121.9,89.7 L123.7,88.1 L126.8,90.0 L129.8,91.2 L132.9,93.6 L134.8,96.1 L136.0,100.4 L140.3,104.7 L141.5,108.4 L143.3,111.4 L144.6,113.9 L143.3,116.3 L145.8,118.2 L145.2,121.2 L145.8,123.7 L144.3,125.1 L142.7,128.8 L142.7,133.7 L139.7,136.8 L136.0,138.0 L133.5,140.5 L132.3,138.6 L129.8,141.1 L129.2,142.9 L129.2,145.4 L130.5,148.4 L127.4,151.5 L124.3,154.0 L120.6,150.9 L118.2,151.5 L114.5,147.8 L112.6,143.2 L111.5,146.5 L109.5,150.5 L107.3,153.9 L103.9,152.1 L100.2,149.0 L97.8,147.8 L93.5,146.0 L90.4,144.8 L87.9,143.5 L84.9,142.3 L83.6,139.2 L81.8,136.2 L78.7,132.5 L77.8,130.0 L74.8,126.4 L76.0,123.9 L75.1,122.1 L76.3,120.0 L77.8,116.3 L77.5,113.9 L80.0,111.4 L81.8,112.0 L83.6,109.6 L82.7,107.1 L87.3,101.6 L88.0,99.8 L92.2,95.5 L94.7,93.3 L99.0,93.0 L103.3,88.1 L107.6,88.1 Z" fill="#00008f"/>
<g filter="url(#b05)">
<path d="M110.6,84.5 L112.7,87.5 L114.5,86.3 L117.6,89.4 L120.0,88.1 L121.9,89.7 L123.7,88.1 L126.8,90.0 L129.8,91.2 L132.9,93.6 L134.8,96.1 L136.0,100.4 L140.3,104.7 L141.5,108.4 L143.3,111.4 L144.6,113.9 L143.3,116.3 L145.8,118.2 L145.2,121.2 L145.8,123.7 L144.3,125.1 L142.7,128.8 L142.7,133.7 L139.7,136.8 L136.0,138.0 L133.5,140.5 L132.3,138.6 L129.8,141.1 L129.2,142.9 L129.2,145.4 L130.5,148.4 L127.4,151.5 L124.3,154.0 L120.6,150.9 L118.2,151.5 L114.5,147.8 L112.6,143.2 L111.5,146.5 L109.5,150.5 L107.3,153.9 L103.9,152.1 L100.2,149.0 L97.8,147.8 L93.5,146.0 L90.4,144.8 L87.9,143.5 L84.9,142.3 L83.6,139.2 L81.8,136.2 L78.7,132.5 L77.8,130.0 L74.8,126.4 L76.0,123.9 L75.1,122.1 L76.3,120.0 L77.8,116.3 L77.5,113.9 L80.0,111.4 L81.8,112.0 L83.6,109.6 L82.7,107.1 L87.3,101.6 L88.0,99.8 L92.2,95.5 L94.7,93.3 L99.0,93.0 L103.3,88.1 L107.6,88.1 Z" fill="none" stroke="#0000e0" stroke-width="14" stroke-linejoin="round"/>
<path d="M110.6,84.5 L112.7,87.5 L114.5,86.3 L117.6,89.4 L120.0,88.1 L121.9,89.7 L123.7,88.1 L126.8,90.0 L129.8,91.2 L132.9,93.6 L134.8,96.1 L136.0,100.4 L140.3,104.7 L141.5,108.4 L143.3,111.4 L144.6,113.9 L143.3,116.3 L145.8,118.2 L145.2,121.2 L145.8,123.7 L144.3,125.1 L142.7,128.8 L142.7,133.7 L139.7,136.8 L136.0,138.0 L133.5,140.5 L132.3,138.6 L129.8,141.1 L129.2,142.9 L129.2,145.4 L130.5,148.4 L127.4,151.5 L124.3,154.0 L120.6,150.9 L118.2,151.5 L114.5,147.8 L112.6,143.2 L111.5,146.5 L109.5,150.5 L107.3,153.9 L103.9,152.1 L100.2,149.0 L97.8,147.8 L93.5,146.0 L90.4,144.8 L87.9,143.5 L84.9,142.3 L83.6,139.2 L81.8,136.2 L78.7,132.5 L77.8,130.0 L74.8,126.4 L76.0,123.9 L75.1,122.1 L76.3,120.0 L77.8,116.3 L77.5,113.9 L80.0,111.4 L81.8,112.0 L83.6,109.6 L82.7,107.1 L87.3,101.6 L88.0,99.8 L92.2,95.5 L94.7,93.3 L99.0,93.0 L103.3,88.1 L107.6,88.1 Z" fill="none" stroke="#0010ff" stroke-width="11" stroke-linejoin="round"/>
</g>
<g filter="url(#b1)">
<path d="M136.0,138.0 L133.5,140.5 L132.3,138.6 L129.8,141.1 L129.2,142.9 L129.2,145.4 L130.5,148.4 L127.4,151.5 L124.3,154.0 L120.6,150.9 L118.2,151.5 L114.5,147.8 L112.6,143.2 L111.5,146.5 L109.5,150.5 L107.3,153.9 L103.9,152.1 L100.2,149.0 L97.8,147.8 L93.5,146.0 L90.4,144.8 L87.9,143.5 L84.9,142.3 L83.6,139.2 L81.8,136.2 L78.7,132.5 L77.8,130.0 L74.8,126.4 L76.0,123.9 L75.1,122.1 L76.3,120.0 L77.8,116.3 L77.5,113.9 L80.0,111.4 L81.8,112.0" fill="none" stroke="#0000e8" stroke-width="20" stroke-linecap="round" stroke-linejoin="round"/>
<path d="M136.0,138.0 L133.5,140.5 L132.3,138.6 L129.8,141.1 L129.2,142.9 L129.2,145.4 L130.5,148.4 L127.4,151.5 L124.3,154.0 L120.6,150.9 L118.2,151.5 L114.5,147.8 L112.6,143.2 L111.5,146.5 L109.5,150.5 L107.3,153.9 L103.9,152.1 L100.2,149.0 L97.8,147.8 L93.5,146.0 L90.4,144.8 L87.9,143.5 L84.9,142.3 L83.6,139.2 L81.8,136.2 L78.7,132.5 L77.8,130.0 L74.8,126.4 L76.0,123.9 L75.1,122.1 L76.3,120.0 L77.8,116.3 L77.5,113.9 L80.0,111.4 L81.8,112.0" fill="none" stroke="#0018ff" stroke-width="15" stroke-linecap="round" stroke-linejoin="round"/>
</g>
<g filter="url(#b1)">
<ellipse cx="90.0" cy="132.0" rx="11" ry="3" fill="#0090ff" opacity="1" transform="rotate(38 90.0 132.0)"/>
<ellipse cx="94.0" cy="137.0" rx="12" ry="2.5" fill="#00c0ff" opacity="1" transform="rotate(38 94.0 137.0)"/>
<ellipse cx="101.0" cy="142.0" rx="11" ry="2.5" fill="#0080ff" opacity="1" transform="rotate(38 101.0 142.0)"/>
<ellipse cx="106.0" cy="146.0" rx="8" ry="2.2" fill="#00b0ff" opacity="1" transform="rotate(38 106.0 146.0)"/>
<ellipse cx="86.0" cy="125.0" rx="6" ry="2.2" fill="#00a0ff" opacity="1" transform="rotate(38 86.0 125.0)"/>
<ellipse cx="98.0" cy="133.0" rx="8" ry="2" fill="#0070ff" opacity="1" transform="rotate(38 98.0 133.0)"/>
<ellipse cx="111.0" cy="146.0" rx="7" ry="2" fill="#0060ff" opacity="1" transform="rotate(38 111.0 146.0)"/>
<ellipse cx="119.0" cy="146.0" rx="5" ry="1.8" fill="#0070ff" opacity="1" transform="rotate(38 119.0 146.0)"/>
<ellipse cx="84.0" cy="133.0" rx="6" ry="2.5" fill="#00e0ff" opacity="1" transform="rotate(38 84.0 133.0)"/>
<ellipse cx="104.0" cy="139.0" rx="8" ry="1.6" fill="#0050ff" opacity="1" transform="rotate(38 104.0 139.0)"/>
</g>
<g filter="url(#b05)">
<path d="M110.6,84.5 L112.7,87.5 L114.5,86.3 L117.6,89.4 L120.0,88.1 L121.9,89.7 L123.7,88.1 L126.8,90.0 L129.8,91.2 L132.9,93.6 L134.8,96.1 L136.0,100.4 L140.3,104.7 L141.5,108.4 L143.3,111.4 L144.6,113.9 L143.3,116.3 L145.8,118.2 L145.2,121.2 L145.8,123.7 L144.3,125.1 L142.7,128.8 L142.7,133.7 L139.7,136.8 L136.0,138.0 L133.5,140.5 L132.3,138.6 L129.8,141.1 L129.2,142.9 L129.2,145.4 L130.5,148.4 L127.4,151.5 L124.3,154.0 L120.6,150.9 L118.2,151.5 L114.5,147.8 L112.6,143.2 L111.5,146.5 L109.5,150.5 L107.3,153.9 L103.9,152.1 L100.2,149.0 L97.8,147.8 L93.5,146.0 L90.4,144.8 L87.9,143.5 L84.9,142.3 L83.6,139.2 L81.8,136.2 L78.7,132.5 L77.8,130.0 L74.8,126.4 L76.0,123.9 L75.1,122.1 L76.3,120.0 L77.8,116.3 L77.5,113.9 L80.0,111.4 L81.8,112.0 L83.6,109.6 L82.7,107.1 L87.3,101.6 L88.0,99.8 L92.2,95.5 L94.7,93.3 L99.0,93.0 L103.3,88.1 L107.6,88.1 Z" fill="none" stroke="#0060ff" stroke-width="9" stroke-linejoin="round"/>
<path d="M110.6,84.5 L112.7,87.5 L114.5,86.3 L117.6,89.4 L120.0,88.1 L121.9,89.7 L123.7,88.1 L126.8,90.0 L129.8,91.2 L132.9,93.6 L134.8,96.1 L136.0,100.4 L140.3,104.7 L141.5,108.4 L143.3,111.4 L144.6,113.9 L143.3,116.3 L145.8,118.2 L145.2,121.2 L145.8,123.7 L144.3,125.1 L142.7,128.8 L142.7,133.7 L139.7,136.8 L136.0,138.0 L133.5,140.5 L132.3,138.6 L129.8,141.1 L129.2,142.9 L129.2,145.4 L130.5,148.4 L127.4,151.5 L124.3,154.0 L120.6,150.9 L118.2,151.5 L114.5,147.8 L112.6,143.2 L111.5,146.5 L109.5,150.5 L107.3,153.9 L103.9,152.1 L100.2,149.0 L97.8,147.8 L93.5,146.0 L90.4,144.8 L87.9,143.5 L84.9,142.3 L83.6,139.2 L81.8,136.2 L78.7,132.5 L77.8,130.0 L74.8,126.4 L76.0,123.9 L75.1,122.1 L76.3,120.0 L77.8,116.3 L77.5,113.9 L80.0,111.4 L81.8,112.0 L83.6,109.6 L82.7,107.1 L87.3,101.6 L88.0,99.8 L92.2,95.5 L94.7,93.3 L99.0,93.0 L103.3,88.1 L107.6,88.1 Z" fill="none" stroke="#00c0ff" stroke-width="7.4" stroke-linejoin="round"/>
<path d="M110.6,84.5 L112.7,87.5 L114.5,86.3 L117.6,89.4 L120.0,88.1 L121.9,89.7 L123.7,88.1 L126.8,90.0 L129.8,91.2 L132.9,93.6 L134.8,96.1 L136.0,100.4 L140.3,104.7 L141.5,108.4 L143.3,111.4 L144.6,113.9 L143.3,116.3 L145.8,118.2 L145.2,121.2 L145.8,123.7 L144.3,125.1 L142.7,128.8 L142.7,133.7 L139.7,136.8 L136.0,138.0 L133.5,140.5 L132.3,138.6 L129.8,141.1 L129.2,142.9 L129.2,145.4 L130.5,148.4 L127.4,151.5 L124.3,154.0 L120.6,150.9 L118.2,151.5 L114.5,147.8 L112.6,143.2 L111.5,146.5 L109.5,150.5 L107.3,153.9 L103.9,152.1 L100.2,149.0 L97.8,147.8 L93.5,146.0 L90.4,144.8 L87.9,143.5 L84.9,142.3 L83.6,139.2 L81.8,136.2 L78.7,132.5 L77.8,130.0 L74.8,126.4 L76.0,123.9 L75.1,122.1 L76.3,120.0 L77.8,116.3 L77.5,113.9 L80.0,111.4 L81.8,112.0 L83.6,109.6 L82.7,107.1 L87.3,101.6 L88.0,99.8 L92.2,95.5 L94.7,93.3 L99.0,93.0 L103.3,88.1 L107.6,88.1 Z" fill="none" stroke="#00ffff" stroke-width="6.2" stroke-linejoin="round"/>
</g>
<g filter="url(#b05)">
<path d="M76.3,120.0 L77.8,116.3 L77.5,113.9 L80.0,111.4 L81.8,112.0 L83.6,109.6 L82.7,107.1 L87.3,101.6 L88.0,99.8 L92.2,95.5 L94.7,93.3 L99.0,93.0 L103.3,88.1 L107.6,88.1 L110.6,84.5 L112.7,87.5 L114.5,86.3 L117.6,89.4 L120.0,88.1 L121.9,89.7 L123.7,88.1 L126.8,90.0 L129.8,91.2 L132.9,93.6 L134.8,96.1 L136.0,100.4 L140.3,104.7 L141.5,108.4 L143.3,111.4 L144.6,113.9 L143.3,116.3 L145.8,118.2 L145.2,121.2 L145.8,123.7 L144.3,125.1 L142.7,128.8 L142.7,133.7 L139.7,136.8 L136.0,138.0 L133.5,140.5 L132.3,138.6" fill="none" stroke="#80ff80" stroke-width="5.2" stroke-linecap="round" stroke-linejoin="round"/>
<path d="M76.3,120.0 L77.8,116.3 L77.5,113.9 L80.0,111.4 L81.8,112.0 L83.6,109.6 L82.7,107.1 L87.3,101.6 L88.0,99.8 L92.2,95.5 L94.7,93.3 L99.0,93.0 L103.3,88.1 L107.6,88.1 L110.6,84.5 L112.7,87.5 L114.5,86.3 L117.6,89.4 L120.0,88.1 L121.9,89.7 L123.7,88.1 L126.8,90.0 L129.8,91.2 L132.9,93.6 L134.8,96.1 L136.0,100.4 L140.3,104.7 L141.5,108.4 L143.3,111.4 L144.6,113.9 L143.3,116.3 L145.8,118.2 L145.2,121.2 L145.8,123.7 L144.3,125.1 L142.7,128.8 L142.7,133.7 L139.7,136.8 L136.0,138.0 L133.5,140.5 L132.3,138.6" fill="none" stroke="#ffff00" stroke-width="4" stroke-linecap="round" stroke-linejoin="round"/>
</g>
<g filter="url(#b05)">
<path d="M132.3,138.6 L129.8,141.1 L129.2,142.9 L129.2,145.4 L130.5,148.4 L127.4,151.5 L124.3,154.0 L120.6,150.9 L118.2,151.5 L114.5,147.8 L112.6,143.2 L111.5,146.5 L109.5,150.5 L107.3,153.9 L103.9,152.1 L100.2,149.0 L97.8,147.8 L93.5,146.0 L90.4,144.8 L87.9,143.5 L84.9,142.3 L83.6,139.2 L81.8,136.2 L78.7,132.5 L77.8,130.0 L74.8,126.4 L76.0,123.9 L75.1,122.1 L76.3,120.0" fill="none" stroke="#40ffc0" stroke-width="4.2" stroke-linecap="round" stroke-linejoin="round"/>
</g>
<path d="M88.0,99.8 L92.2,95.5 L94.7,93.3 L99.0,93.0 L103.3,88.1 L107.6,88.1 L110.6,84.5 L112.7,87.5 L114.5,86.3 L117.6,89.4 L120.0,88.1 L121.9,89.7 L123.7,88.1 L126.8,90.0 L129.8,91.2 L132.9,93.6 L134.8,96.1 L136.0,100.4 L140.3,104.7 L141.5,108.4 L143.3,111.4 L144.6,113.9 L143.3,116.3 L145.8,118.2 L145.2,121.2 L145.8,123.7 L144.3,125.1 L142.7,128.8 L142.7,133.7" fill="none" stroke="#ff4000" stroke-width="3.6" stroke-dasharray="2.5 1.5" filter="url(#b05)"/>
<path d="M77.8,130.0 L74.8,126.4 L76.0,123.9 L75.1,122.1 L76.3,120.0 L77.8,116.3 L77.5,113.9 L80.0,111.4 L81.8,112.0 L83.6,109.6 L82.7,107.1 L87.3,101.6 L88.0,99.8" fill="none" stroke="#ff8000" stroke-width="3.4" stroke-dasharray="1.5 3" filter="url(#b05)"/>
<path d="M132.3,138.6 L129.8,141.1 L129.2,142.9 L129.2,145.4 L130.5,148.4 L127.4,151.5 L124.3,154.0 L120.6,150.9 L118.2,151.5 L114.5,147.8 L112.6,143.2 L111.5,146.5 L109.5,150.5 L107.3,153.9 L103.9,152.1 L100.2,149.0 L97.8,147.8 L93.5,146.0 L90.4,144.8 L87.9,143.5 L84.9,142.3 L83.6,139.2 L81.8,136.2 L78.7,132.5 L77.8,130.0" fill="none" stroke="#e0ff20" stroke-width="3.2" stroke-dasharray="1.5 3.5" filter="url(#b05)"/>
<path d="M110.6,84.5 L112.7,87.5 L114.5,86.3 L117.6,89.4 L120.0,88.1 L121.9,89.7 L123.7,88.1 L126.8,90.0 L129.8,91.2 L132.9,93.6 L134.8,96.1 L136.0,100.4 L140.3,104.7 L141.5,108.4 L143.3,111.4 L144.6,113.9 L143.3,116.3 L145.8,118.2 L145.2,121.2 L145.8,123.7 L144.3,125.1 L142.7,128.8 L142.7,133.7 L139.7,136.8 L136.0,138.0 L133.5,140.5 L132.3,138.6 L129.8,141.1 L129.2,142.9 L129.2,145.4 L130.5,148.4 L127.4,151.5 L124.3,154.0 L120.6,150.9 L118.2,151.5 L114.5,147.8 L112.6,143.2 L111.5,146.5 L109.5,150.5 L107.3,153.9 L103.9,152.1 L100.2,149.0 L97.8,147.8 L93.5,146.0 L90.4,144.8 L87.9,143.5 L84.9,142.3 L83.6,139.2 L81.8,136.2 L78.7,132.5 L77.8,130.0 L74.8,126.4 L76.0,123.9 L75.1,122.1 L76.3,120.0 L77.8,116.3 L77.5,113.9 L80.0,111.4 L81.8,112.0 L83.6,109.6 L82.7,107.1 L87.3,101.6 L88.0,99.8 L92.2,95.5 L94.7,93.3 L99.0,93.0 L103.3,88.1 L107.6,88.1 Z" fill="none" stroke="#80ff80" stroke-width="1.4"/>
</g>
<path d="M110.6,84.5 L112.7,87.5 L114.5,86.3 L117.6,89.4 L120.0,88.1 L121.9,89.7 L123.7,88.1 L126.8,90.0 L129.8,91.2 L132.9,93.6 L134.8,96.1 L136.0,100.4 L140.3,104.7 L141.5,108.4 L143.3,111.4 L144.6,113.9 L143.3,116.3 L145.8,118.2 L145.2,121.2 L145.8,123.7 L144.3,125.1 L142.7,128.8 L142.7,133.7 L139.7,136.8 L136.0,138.0 L133.5,140.5 L132.3,138.6 L129.8,141.1 L129.2,142.9 L129.2,145.4 L130.5,148.4 L127.4,151.5 L124.3,154.0 L120.6,150.9 L118.2,151.5 L114.5,147.8 L112.6,143.2 L111.5,146.5 L109.5,150.5 L107.3,153.9 L103.9,152.1 L100.2,149.0 L97.8,147.8 L93.5,146.0 L90.4,144.8 L87.9,143.5 L84.9,142.3 L83.6,139.2 L81.8,136.2 L78.7,132.5 L77.8,130.0 L74.8,126.4 L76.0,123.9 L75.1,122.1 L76.3,120.0 L77.8,116.3 L77.5,113.9 L80.0,111.4 L81.8,112.0 L83.6,109.6 L82.7,107.1 L87.3,101.6 L88.0,99.8 L92.2,95.5 L94.7,93.3 L99.0,93.0 L103.3,88.1 L107.6,88.1 Z" fill="none" stroke="#fff" stroke-width="1.1" stroke-linejoin="round"/>
</g>
<g transform="translate(401,316.6)">
<g clip-path="url(#blob)">
<path d="M110.6,84.5 L112.7,87.5 L114.5,86.3 L117.6,89.4 L120.0,88.1 L121.9,89.7 L123.7,88.1 L126.8,90.0 L129.8,91.2 L132.9,93.6 L134.8,96.1 L136.0,100.4 L140.3,104.7 L141.5,108.4 L143.3,111.4 L144.6,113.9 L143.3,116.3 L145.8,118.2 L145.2,121.2 L145.8,123.7 L144.3,125.1 L142.7,128.8 L142.7,133.7 L139.7,136.8 L136.0,138.0 L133.5,140.5 L132.3,138.6 L129.8,141.1 L129.2,142.9 L129.2,145.4 L130.5,148.4 L127.4,151.5 L124.3,154.0 L120.6,150.9 L118.2,151.5 L114.5,147.8 L112.6,143.2 L111.5,146.5 L109.5,150.5 L107.3,153.9 L103.9,152.1 L100.2,149.0 L97.8,147.8 L93.5,146.0 L90.4,144.8 L87.9,143.5 L84.9,142.3 L83.6,139.2 L81.8,136.2 L78.7,132.5 L77.8,130.0 L74.8,126.4 L76.0,123.9 L75.1,122.1 L76.3,120.0 L77.8,116.3 L77.5,113.9 L80.0,111.4 L81.8,112.0 L83.6,109.6 L82.7,107.1 L87.3,101.6 L88.0,99.8 L92.2,95.5 L94.7,93.3 L99.0,93.0 L103.3,88.1 L107.6,88.1 Z" fill="#00008f"/>
<g filter="url(#b1)">
<path d="M110.6,84.5 L112.7,87.5 L114.5,86.3 L117.6,89.4 L120.0,88.1 L121.9,89.7 L123.7,88.1 L126.8,90.0 L129.8,91.2 L132.9,93.6 L134.8,96.1 L136.0,100.4 L140.3,104.7 L141.5,108.4 L143.3,111.4 L144.6,113.9 L143.3,116.3 L145.8,118.2 L145.2,121.2 L145.8,123.7 L144.3,125.1 L142.7,128.8 L142.7,133.7 L139.7,136.8 L136.0,138.0 L133.5,140.5 L132.3,138.6 L129.8,141.1 L129.2,142.9 L129.2,145.4 L130.5,148.4 L127.4,151.5 L124.3,154.0 L120.6,150.9 L118.2,151.5 L114.5,147.8 L112.6,143.2 L111.5,146.5 L109.5,150.5 L107.3,153.9 L103.9,152.1 L100.2,149.0 L97.8,147.8 L93.5,146.0 L90.4,144.8 L87.9,143.5 L84.9,142.3 L83.6,139.2 L81.8,136.2 L78.7,132.5 L77.8,130.0 L74.8,126.4 L76.0,123.9 L75.1,122.1 L76.3,120.0 L77.8,116.3 L77.5,113.9 L80.0,111.4 L81.8,112.0 L83.6,109.6 L82.7,107.1 L87.3,101.6 L88.0,99.8 L92.2,95.5 L94.7,93.3 L99.0,93.0 L103.3,88.1 L107.6,88.1 Z" fill="none" stroke="#0000c8" stroke-width="18" stroke-linejoin="round"/>
<path d="M110.6,84.5 L112.7,87.5 L114.5,86.3 L117.6,89.4 L120.0,88.1 L121.9,89.7 L123.7,88.1 L126.8,90.0 L129.8,91.2 L132.9,93.6 L134.8,96.1 L136.0,100.4 L140.3,104.7 L141.5,108.4 L143.3,111.4 L144.6,113.9 L143.3,116.3 L145.8,118.2 L145.2,121.2 L145.8,123.7 L144.3,125.1 L142.7,128.8 L142.7,133.7 L139.7,136.8 L136.0,138.0 L133.5,140.5 L132.3,138.6 L129.8,141.1 L129.2,142.9 L129.2,145.4 L130.5,148.4 L127.4,151.5 L124.3,154.0 L120.6,150.9 L118.2,151.5 L114.5,147.8 L112.6,143.2 L111.5,146.5 L109.5,150.5 L107.3,153.9 L103.9,152.1 L100.2,149.0 L97.8,147.8 L93.5,146.0 L90.4,144.8 L87.9,143.5 L84.9,142.3 L83.6,139.2 L81.8,136.2 L78.7,132.5 L77.8,130.0 L74.8,126.4 L76.0,123.9 L75.1,122.1 L76.3,120.0 L77.8,116.3 L77.5,113.9 L80.0,111.4 L81.8,112.0 L83.6,109.6 L82.7,107.1 L87.3,101.6 L88.0,99.8 L92.2,95.5 L94.7,93.3 L99.0,93.0 L103.3,88.1 L107.6,88.1 Z" fill="none" stroke="#0000ff" stroke-width="14" stroke-linejoin="round"/>
</g>
<g filter="url(#b2)">
<ellipse cx="85.0" cy="121.0" rx="5" ry="11" fill="#0070ff" opacity="1" transform="rotate(-10 85.0 121.0)"/>
<ellipse cx="91.0" cy="138.0" rx="7" ry="3" fill="#0060ff" opacity="1" transform="rotate(35 91.0 138.0)"/>
</g>
<g filter="url(#b05)">
<path d="M110.6,84.5 L112.7,87.5 L114.5,86.3 L117.6,89.4 L120.0,88.1 L121.9,89.7 L123.7,88.1 L126.8,90.0 L129.8,91.2 L132.9,93.6 L134.8,96.1 L136.0,100.4 L140.3,104.7 L141.5,108.4 L143.3,111.4 L144.6,113.9 L143.3,116.3 L145.8,118.2 L145.2,121.2 L145.8,123.7 L144.3,125.1 L142.7,128.8 L142.7,133.7 L139.7,136.8 L136.0,138.0 L133.5,140.5 L132.3,138.6 L129.8,141.1 L129.2,142.9 L129.2,145.4 L130.5,148.4 L127.4,151.5 L124.3,154.0 L120.6,150.9 L118.2,151.5 L114.5,147.8 L112.6,143.2 L111.5,146.5 L109.5,150.5 L107.3,153.9 L103.9,152.1 L100.2,149.0 L97.8,147.8 L93.5,146.0 L90.4,144.8 L87.9,143.5 L84.9,142.3 L83.6,139.2 L81.8,136.2 L78.7,132.5 L77.8,130.0 L74.8,126.4 L76.0,123.9 L75.1,122.1 L76.3,120.0 L77.8,116.3 L77.5,113.9 L80.0,111.4 L81.8,112.0 L83.6,109.6 L82.7,107.1 L87.3,101.6 L88.0,99.8 L92.2,95.5 L94.7,93.3 L99.0,93.0 L103.3,88.1 L107.6,88.1 Z" fill="none" stroke="#0040ff" stroke-width="9.5" stroke-linejoin="round"/>
<path d="M110.6,84.5 L112.7,87.5 L114.5,86.3 L117.6,89.4 L120.0,88.1 L121.9,89.7 L123.7,88.1 L126.8,90.0 L129.8,91.2 L132.9,93.6 L134.8,96.1 L136.0,100.4 L140.3,104.7 L141.5,108.4 L143.3,111.4 L144.6,113.9 L143.3,116.3 L145.8,118.2 L145.2,121.2 L145.8,123.7 L144.3,125.1 L142.7,128.8 L142.7,133.7 L139.7,136.8 L136.0,138.0 L133.5,140.5 L132.3,138.6 L129.8,141.1 L129.2,142.9 L129.2,145.4 L130.5,148.4 L127.4,151.5 L124.3,154.0 L120.6,150.9 L118.2,151.5 L114.5,147.8 L112.6,143.2 L111.5,146.5 L109.5,150.5 L107.3,153.9 L103.9,152.1 L100.2,149.0 L97.8,147.8 L93.5,146.0 L90.4,144.8 L87.9,143.5 L84.9,142.3 L83.6,139.2 L81.8,136.2 L78.7,132.5 L77.8,130.0 L74.8,126.4 L76.0,123.9 L75.1,122.1 L76.3,120.0 L77.8,116.3 L77.5,113.9 L80.0,111.4 L81.8,112.0 L83.6,109.6 L82.7,107.1 L87.3,101.6 L88.0,99.8 L92.2,95.5 L94.7,93.3 L99.0,93.0 L103.3,88.1 L107.6,88.1 Z" fill="none" stroke="#00a0ff" stroke-width="7.6" stroke-linejoin="round"/>
<path d="M110.6,84.5 L112.7,87.5 L114.5,86.3 L117.6,89.4 L120.0,88.1 L121.9,89.7 L123.7,88.1 L126.8,90.0 L129.8,91.2 L132.9,93.6 L134.8,96.1 L136.0,100.4 L140.3,104.7 L141.5,108.4 L143.3,111.4 L144.6,113.9 L143.3,116.3 L145.8,118.2 L145.2,121.2 L145.8,123.7 L144.3,125.1 L142.7,128.8 L142.7,133.7 L139.7,136.8 L136.0,138.0 L133.5,140.5 L132.3,138.6 L129.8,141.1 L129.2,142.9 L129.2,145.4 L130.5,148.4 L127.4,151.5 L124.3,154.0 L120.6,150.9 L118.2,151.5 L114.5,147.8 L112.6,143.2 L111.5,146.5 L109.5,150.5 L107.3,153.9 L103.9,152.1 L100.2,149.0 L97.8,147.8 L93.5,146.0 L90.4,144.8 L87.9,143.5 L84.9,142.3 L83.6,139.2 L81.8,136.2 L78.7,132.5 L77.8,130.0 L74.8,126.4 L76.0,123.9 L75.1,122.1 L76.3,120.0 L77.8,116.3 L77.5,113.9 L80.0,111.4 L81.8,112.0 L83.6,109.6 L82.7,107.1 L87.3,101.6 L88.0,99.8 L92.2,95.5 L94.7,93.3 L99.0,93.0 L103.3,88.1 L107.6,88.1 Z" fill="none" stroke="#00ffff" stroke-width="6.2" stroke-linejoin="round"/>
<path d="M110.6,84.5 L112.7,87.5 L114.5,86.3 L117.6,89.4 L120.0,88.1 L121.9,89.7 L123.7,88.1 L126.8,90.0 L129.8,91.2 L132.9,93.6 L134.8,96.1 L136.0,100.4 L140.3,104.7 L141.5,108.4 L143.3,111.4 L144.6,113.9 L143.3,116.3 L145.8,118.2 L145.2,121.2 L145.8,123.7 L144.3,125.1 L142.7,128.8 L142.7,133.7 L139.7,136.8 L136.0,138.0 L133.5,140.5 L132.3,138.6 L129.8,141.1 L129.2,142.9 L129.2,145.4 L130.5,148.4 L127.4,151.5 L124.3,154.0 L120.6,150.9 L118.2,151.5 L114.5,147.8 L112.6,143.2 L111.5,146.5 L109.5,150.5 L107.3,153.9 L103.9,152.1 L100.2,149.0 L97.8,147.8 L93.5,146.0 L90.4,144.8 L87.9,143.5 L84.9,142.3 L83.6,139.2 L81.8,136.2 L78.7,132.5 L77.8,130.0 L74.8,126.4 L76.0,123.9 L75.1,122.1 L76.3,120.0 L77.8,116.3 L77.5,113.9 L80.0,111.4 L81.8,112.0 L83.6,109.6 L82.7,107.1 L87.3,101.6 L88.0,99.8 L92.2,95.5 L94.7,93.3 L99.0,93.0 L103.3,88.1 L107.6,88.1 Z" fill="none" stroke="#ffff00" stroke-width="4.6" stroke-linejoin="round"/>
<path d="M110.6,84.5 L112.7,87.5 L114.5,86.3 L117.6,89.4 L120.0,88.1 L121.9,89.7 L123.7,88.1 L126.8,90.0 L129.8,91.2 L132.9,93.6 L134.8,96.1 L136.0,100.4 L140.3,104.7 L141.5,108.4 L143.3,111.4 L144.6,113.9 L143.3,116.3 L145.8,118.2 L145.2,121.2 L145.8,123.7 L144.3,125.1 L142.7,128.8 L142.7,133.7 L139.7,136.8 L136.0,138.0 L133.5,140.5 L132.3,138.6 L129.8,141.1 L129.2,142.9 L129.2,145.4 L130.5,148.4 L127.4,151.5 L124.3,154.0 L120.6,150.9 L118.2,151.5 L114.5,147.8 L112.6,143.2 L111.5,146.5 L109.5,150.5 L107.3,153.9 L103.9,152.1 L100.2,149.0 L97.8,147.8 L93.5,146.0 L90.4,144.8 L87.9,143.5 L84.9,142.3 L83.6,139.2 L81.8,136.2 L78.7,132.5 L77.8,130.0 L74.8,126.4 L76.0,123.9 L75.1,122.1 L76.3,120.0 L77.8,116.3 L77.5,113.9 L80.0,111.4 L81.8,112.0 L83.6,109.6 L82.7,107.1 L87.3,101.6 L88.0,99.8 L92.2,95.5 L94.7,93.3 L99.0,93.0 L103.3,88.1 L107.6,88.1 Z" fill="none" stroke="#ff6000" stroke-width="3.3" stroke-linejoin="round"/>
<path d="M110.6,84.5 L112.7,87.5 L114.5,86.3 L117.6,89.4 L120.0,88.1 L121.9,89.7 L123.7,88.1 L126.8,90.0 L129.8,91.2 L132.9,93.6 L134.8,96.1 L136.0,100.4 L140.3,104.7 L141.5,108.4 L143.3,111.4 L144.6,113.9 L143.3,116.3 L145.8,118.2 L145.2,121.2 L145.8,123.7 L144.3,125.1 L142.7,128.8 L142.7,133.7 L139.7,136.8 L136.0,138.0 L133.5,140.5 L132.3,138.6 L129.8,141.1 L129.2,142.9 L129.2,145.4 L130.5,148.4 L127.4,151.5 L124.3,154.0 L120.6,150.9 L118.2,151.5 L114.5,147.8 L112.6,143.2 L111.5,146.5 L109.5,150.5 L107.3,153.9 L103.9,152.1 L100.2,149.0 L97.8,147.8 L93.5,146.0 L90.4,144.8 L87.9,143.5 L84.9,142.3 L83.6,139.2 L81.8,136.2 L78.7,132.5 L77.8,130.0 L74.8,126.4 L76.0,123.9 L75.1,122.1 L76.3,120.0 L77.8,116.3 L77.5,113.9 L80.0,111.4 L81.8,112.0 L83.6,109.6 L82.7,107.1 L87.3,101.6 L88.0,99.8 L92.2,95.5 L94.7,93.3 L99.0,93.0 L103.3,88.1 L107.6,88.1 Z" fill="none" stroke="#e00000" stroke-width="2" stroke-linejoin="round"/>
<path d="M110.6,84.5 L112.7,87.5 L114.5,86.3 L117.6,89.4 L120.0,88.1 L121.9,89.7 L123.7,88.1 L126.8,90.0 L129.8,91.2 L132.9,93.6 L134.8,96.1 L136.0,100.4 L140.3,104.7 L141.5,108.4 L143.3,111.4 L144.6,113.9 L143.3,116.3 L145.8,118.2 L145.2,121.2 L145.8,123.7 L144.3,125.1 L142.7,128.8 L142.7,133.7 L139.7,136.8 L136.0,138.0 L133.5,140.5 L132.3,138.6 L129.8,141.1 L129.2,142.9 L129.2,145.4 L130.5,148.4 L127.4,151.5 L124.3,154.0 L120.6,150.9 L118.2,151.5 L114.5,147.8 L112.6,143.2 L111.5,146.5 L109.5,150.5 L107.3,153.9 L103.9,152.1 L100.2,149.0 L97.8,147.8 L93.5,146.0 L90.4,144.8 L87.9,143.5 L84.9,142.3 L83.6,139.2 L81.8,136.2 L78.7,132.5 L77.8,130.0 L74.8,126.4 L76.0,123.9 L75.1,122.1 L76.3,120.0 L77.8,116.3 L77.5,113.9 L80.0,111.4 L81.8,112.0 L83.6,109.6 L82.7,107.1 L87.3,101.6 L88.0,99.8 L92.2,95.5 L94.7,93.3 L99.0,93.0 L103.3,88.1 L107.6,88.1 Z" fill="none" stroke="#900000" stroke-width="1" stroke-linejoin="round"/>
</g>
</g>
<path d="M110.6,84.5 L112.7,87.5 L114.5,86.3 L117.6,89.4 L120.0,88.1 L121.9,89.7 L123.7,88.1 L126.8,90.0 L129.8,91.2 L132.9,93.6 L134.8,96.1 L136.0,100.4 L140.3,104.7 L141.5,108.4 L143.3,111.4 L144.6,113.9 L143.3,116.3 L145.8,118.2 L145.2,121.2 L145.8,123.7 L144.3,125.1 L142.7,128.8 L142.7,133.7 L139.7,136.8 L136.0,138.0 L133.5,140.5 L132.3,138.6 L129.8,141.1 L129.2,142.9 L129.2,145.4 L130.5,148.4 L127.4,151.5 L124.3,154.0 L120.6,150.9 L118.2,151.5 L114.5,147.8 L112.6,143.2 L111.5,146.5 L109.5,150.5 L107.3,153.9 L103.9,152.1 L100.2,149.0 L97.8,147.8 L93.5,146.0 L90.4,144.8 L87.9,143.5 L84.9,142.3 L83.6,139.2 L81.8,136.2 L78.7,132.5 L77.8,130.0 L74.8,126.4 L76.0,123.9 L75.1,122.1 L76.3,120.0 L77.8,116.3 L77.5,113.9 L80.0,111.4 L81.8,112.0 L83.6,109.6 L82.7,107.1 L87.3,101.6 L88.0,99.8 L92.2,95.5 L94.7,93.3 L99.0,93.0 L103.3,88.1 L107.6,88.1 Z" fill="none" stroke="#fff" stroke-width="1.1" stroke-linejoin="round"/>
</g>
<path d="M64.2 830.2l-1.3 2.1m0-.7l0 .7l.7-.4M64.2 827.4l0 2.9m-.5-.7l.5 .7l.4-.7M64.2 824.5l-1.9 2.4m.1-.9l-.1 .9l.8-.3M64.2 821.6l-.2 2.5m-.3-.7l.3 .7l.4-.6M64.2 818.8l-.2 2.4m-.3-.6l.3 .6l.4-.6M64.2 816l-2.1 2m.2-.8l-.2 .8l.8-.2M64.2 813.1l-.5 2.6m-.3-.8l.3 .8l.5-.6M64.2 810.2l0 2.3m-.4-.6l.4 .6l.4-.6M64.2 807.4l-1 4.3m-.3-.9l.3 .9l.6-.6M64.2 804.5l-2.4 1.3m.4-.7l-.4 .7l.8 0M64.2 801.7l-3.1 .2m.7-.5l-.7 .5l.8 .4M64.2 798.9l-2 2.3m.1-.9l-.1 .9l.9-.3M64.2 796l-3.4 1m.6-.7l-.6 .7l.9 .2M64.2 793.1l-2.9 .3m.7-.5l-.7 .5l.8 .4M64.2 790.3l-3.2 .5m.7-.6l-.7 .6l.8 .3M64.2 787.5l0 2.8m-.4-.7l.4 .7l.4-.7M64.2 784.6l-.3 2.7m-.3-.7l.3 .7l.5-.7M64.2 781.8l1.9-2.1m-.2 .8l.2-.8l-.8 .2M64.2 778.9l-1.3 2m0-.7l0 .7l.6-.3M64.2 776l1.7 2.6m-.8-.4l.8 .4l0-.9M64.2 773.2l0 2.4m-.4-.6l.4 .6l.4-.6M64.2 770.4l.1 2.4m-.4-.6l.4 .6l.3-.6M64.2 767.5l0 2.4m-.4-.6l.4 .6l.4-.6M64.2 764.6l-.2 2.6m-.3-.7l.3 .7l.4-.6M64.2 761.8l-2 2.3m.2-.9l-.2 .9l.9-.3M64.2 759l-1.4 2.5m0-.9l0 .9l.8-.4M64.2 756.1l0 2.4m-.4-.6l.4 .6l.4-.6M64.2 753.2l-.1 2.3m-.3-.6l.3 .6l.4-.6M64.2 750.4l-1.2 2.1m0-.7l0 .7l.6-.4M64.2 747.5l-1.6 2.3m.1-.8l-.1 .8l.8-.3M64.2 744.7l-3.2-.1m.8-.4l-.8 .4l.7 .5M64.2 741.9l-.4 2.4m-.3-.7l.3 .7l.5-.5M64.2 739l-.3 2.7m-.3-.7l.3 .7l.5-.6M64.2 736.1l-1.9 2.4m.1-.9l-.1 .9l.8-.3M64.2 733.3l-1.8 3.6m-.1-.9l.1 .9l.8-.5M64.2 730.5l-.9 2.2m-.1-.7l.1 .7l.6-.4M64.2 727.6l-2.3 2.2m.2-.9l-.2 .9l.9-.2M64.2 724.8l-.5 2.5m-.3-.7l.3 .7l.5-.6M64.2 721.9l-3.2 .1m.8-.5l-.8 .5l.8 .4M64.2 719l-3.7 .7m.7-.6l-.7 .6l.8 .3M64.2 716.2l-1.9 2m.2-.8l-.2 .8l.8-.2M64.2 713.4l1.1-2.8m.1 .9l-.1-.9l-.7 .5M64.2 710.5l-.2 2.5m-.4-.7l.4 .7l.4-.6M64.2 707.6l-1.8 2.2m.1-.8l-.1 .8l.8-.3M64.2 704.8l-.5 2.5m-.3-.7l.3 .7l.5-.6M64.2 702l3.1-.3m-.7 .5l.7-.5l-.8-.4M64.2 699.1l.2 2.7m-.5-.7l.5 .7l.4-.7M64.2 696.2l-4.3 2.5m.4-.8l-.4 .8l.9 0M64.2 693.4l-1.3 2.4m0-.8l0 .8l.7-.4M64.2 690.5l.3 2.5m-.5-.6l.5 .6l.3-.7M64.2 687.7l-.8 2.7m-.2-.8l.2 .8l.6-.6M64.2 684.9l-.5 3.6m-.4-.8l.4 .8l.6-.7M64.2 682l-3.5 .7m.7-.6l-.7 .6l.8 .3M64.2 679.1l-1.9 1.9m.2-.8l-.2 .8l.8-.2M64.2 676.3l-2.4 2.3m.2-.9l-.2 .9l.9-.2M64.2 673.5l-2.2 2.2m.2-.9l-.2 .9l.9-.2M64.2 670.6l-.3 2.4m-.3-.7l.3 .7l.4-.6M64.2 667.8l-2.8 2m.4-.8l-.4 .8l.9-.1M64.2 664.9l-2.3 2.2m.2-.9l-.2 .9l.9-.2M64.2 662l-.6 2.5m-.2-.7l.2 .7l.5-.5M64.2 659.2l-1.7 2m.1-.8l-.1 .8l.8-.3M64.2 656.4l.5 2.7m-.6-.6l.6 .6l.3-.8M64.2 653.5l-.3 2.7m-.4-.7l.4 .7l.5-.7M64.2 650.6l0 2.3m-.3-.6l.3 .6l.4-.6M64.2 647.8l-.5 2.9m-.3-.8l.3 .8l.6-.7M67.8 830.2l-.4 2.3m-.3-.6l.3 .6l.4-.5M67.8 827.4l.1 2.5m-.4-.6l.4 .6l.4-.7M67.8 824.5l.2 2.9m-.5-.7l.5 .7l.4-.8M67.8 821.6l0 2.7m-.4-.7l.4 .7l.4-.7M67.8 818.8l-.3 2.3m-.3-.6l.3 .6l.4-.5M67.8 816l-1.7 2.5m0-.9l0 .9l.8-.4M67.8 813.1l-1.7 2.4m.1-.9l-.1 .9l.8-.4M67.8 810.2l-.4 2.9m-.4-.8l.4 .8l.6-.7M67.8 807.4l-3.1-3.4m.9 .3l-.9-.3l.2 .9M67.8 804.5l0 2.7m-.4-.7l.4 .7l.4-.7M67.8 801.7l-2.1 2.1m.2-.9l-.2 .9l.9-.2M67.8 798.9l-1.9 1.7m.2-.7l-.2 .7l.8-.2M67.8 796l-.9 2.3m-.1-.7l.1 .7l.6-.5M67.8 793.1l-3 3.2m.2-.9l-.2 .9l.9-.2M67.8 790.3l-.2 2.3m-.3-.6l.3 .6l.4-.6M67.8 787.5l-.6 2.2m-.2-.7l.2 .7l.5-.5M67.8 784.6l-.4 2.3m-.3-.6l.3 .6l.5-.5M67.8 781.8l-2.2 1.7m.3-.8l-.3 .8l.8-.1M67.8 778.9l-2.7 .9m.6-.7l-.6 .7l.8 .2M67.8 776l-3.3 .9m.6-.6l-.6 .6l.9 .3M67.8 773.2l-.9 2.5m-.2-.8l.2 .8l.6-.5M67.8 770.4l-2.8 1.8m.4-.8l-.4 .8l.9 0M67.8 767.5l-3.1 .2m.7-.5l-.7 .5l.8 .4M67.8 764.6l-2 2.2m.2-.9l-.2 .9l.9-.3M67.8 761.8l.2 2.3m-.4-.6l.4 .6l.3-.6M67.8 759l-3.3 .8m.6-.6l-.6 .6l.9 .3M67.8 756.1l-2.4 2m.3-.8l-.3 .8l.9-.1M67.8 753.2l-1.4 2.2m0-.8l0 .8l.7-.4M67.8 750.4l-.6 2.9m-.3-.8l.3 .8l.6-.7M67.8 747.5l-3.7-.1m.8-.4l-.8 .4l.8 .5M67.8 744.7l1.1-2.5m.1 .8l-.1-.8l-.7 .5M67.8 741.9l-1.7 1.9m.1-.7l-.1 .7l.7-.2M67.8 739l-2.2 2.4m.2-.9l-.2 .9l.9-.3M67.8 736.1l.1 2.6m-.4-.6l.4 .6l.4-.7M67.8 733.3l-.2 3m-.4-.8l.4 .8l.5-.7M67.8 730.5l-.4 2.4m-.3-.7l.3 .7l.5-.6M67.8 727.6l-2.1 1.9m.2-.8l-.2 .8l.8-.2M67.8 724.8l.2 2.3m-.4-.6l.4 .6l.3-.6M67.8 721.9l-1 2.7m-.2-.8l.2 .8l.7-.5M67.8 719l-.5 2.5m-.3-.7l.3 .7l.5-.6M67.8 716.2l-1.4 2.4m0-.8l0 .8l.7-.4M67.8 713.4l-.2 2.4m-.3-.6l.3 .6l.4-.6M67.8 710.5l-1.4 2.6m0-.9l0 .9l.8-.5M67.8 707.6l-.9 2.3m-.1-.7l.1 .7l.6-.4M67.8 704.8l-.2 2.7m-.4-.7l.4 .7l.5-.7M67.8 702l-.5 2.6m-.3-.8l.3 .8l.5-.6M67.8 699.1l1.9 1.9m-.8-.2l.8 .2l-.2-.8M67.8 696.2l2-2.3m-.1 .9l.1-.9l-.9 .3M67.8 693.4l.3 4.4m-.5-.7l.5 .7l.4-.8M67.8 690.5l-.4 2.5m-.3-.7l.3 .7l.5-.6M67.8 687.7l-.3-2.8m.5 .7l-.5-.7l-.3 .8M67.8 684.9l-1 2.7m-.2-.8l.2 .8l.7-.5M67.8 682l-.1 2.8m-.4-.7l.4 .7l.5-.7M67.8 679.1l2.4 1.3m-.8 0l.8 0l-.4-.7M67.8 676.3l-1.7 2.2m.1-.8l-.1 .8l.8-.3M67.8 673.5l.1 4.2m-.5-.8l.5 .8l.4-.8M67.8 670.6l.2 2.6m-.5-.6l.5 .6l.3-.7M67.8 667.8l.9-2.6m.2 .8l-.2-.8l-.6 .5M67.8 664.9l2.1 1.7m-.8-.1l.8 .1l-.3-.8M67.8 662l-1.6 1.9m.1-.7l-.1 .7l.7-.2M67.8 659.2l-2 1.9m.2-.8l-.2 .8l.8-.2M67.8 656.4l-.5 2.3m-.2-.7l.2 .7l.5-.5M67.8 653.5l.3 2.5m-.4-.6l.4 .6l.3-.7M67.8 650.6l-1.9 2.4m.1-.9l-.1 .9l.8-.3M67.8 647.8l-2.8 1.8m.4-.8l-.4 .8l.9 0M71.5 830.2l-1.7 2.2m.1-.8l-.1 .8l.8-.3M71.5 827.4l-1.7 2.4m0-.9l0 .9l.8-.4M71.5 824.5l-2.1 1.7m.3-.8l-.3 .8l.8-.1M71.5 821.6l5.6 .9m-.8 .3l.8-.3l-.7-.6M71.5 818.8l-3.5 .9m.6-.6l-.6 .6l.9 .3M71.5 816l-.7 2.6m-.2-.8l.2 .8l.6-.6M71.5 813.1l-1.2 2.1m0-.7l0 .7l.6-.4M71.5 810.2l-1.3 2.7m-.1-.9l.1 .9l.8-.5M71.5 807.4l-1.1 2.3m-.1-.7l.1 .7l.6-.4M71.5 804.5l-.6 2.3m-.2-.7l.2 .7l.5-.5M71.5 801.7l-2.9 .6m.6-.6l-.6 .6l.8 .3M71.5 798.9l-1.3 2.2m0-.8l0 .8l.7-.4M71.5 796l-3.2 .6m.7-.6l-.7 .6l.8 .3M71.5 793.1l.3 2.6m-.5-.6l.5 .6l.3-.7M71.5 790.3l0 2.5m-.4-.6l.4 .6l.4-.7M71.5 787.5l-2.6 2.2m.3-.9l-.3 .9l.9-.2M71.5 784.6l-3.1 .5m.7-.6l-.7 .6l.8 .3M71.5 781.8l.2 2.4m-.4-.6l.4 .6l.3-.6M71.5 778.9l-.4 2.4m-.3-.7l.3 .7l.5-.6M71.5 776l-1 2.1m-.1-.7l.1 .7l.6-.4M71.5 773.2l.4-2.3m.2 .7l-.2-.7l-.5 .5M71.5 770.4l0 2.5m-.4-.6l.4 .6l.4-.6M71.5 767.5l2.4 2.2m-.9-.2l.9 .2l-.2-.9M71.5 764.6l-1.7 1.9m.1-.7l-.1 .7l.7-.2M71.5 761.8l-.8 3.8m-.3-.8l.3 .8l.6-.7M71.5 759l-.1 2.4m-.3-.6l.3 .6l.4-.6M71.5 756.1l.1 2.9m-.5-.7l.5 .7l.4-.8M71.5 753.2l-2 2m.2-.8l-.2 .8l.8-.2M71.5 750.4l-3.3 .4m.7-.6l-.7 .6l.8 .4M71.5 747.5l-2.4 2.3m.2-.9l-.2 .9l.9-.2M71.5 744.7l.2 2.5m-.4-.6l.4 .6l.3-.7M71.5 741.9l-1.7 2.6m0-.9l0 .9l.8-.4M71.5 739l-.1 2.3m-.3-.6l.3 .6l.4-.6M71.5 736.1l-3.6-.3m.8-.4l-.8 .4l.7 .5M71.5 733.3l-.1 2.9m-.4-.7l.4 .7l.5-.7M71.5 730.5l-.3 2.8m-.4-.8l.4 .8l.5-.7M71.5 727.6l.2 2.5m-.4-.6l.4 .6l.3-.7M71.5 724.8l-1.8 2.2m.1-.8l-.1 .8l.8-.3M71.5 721.9l-.8 2.7m-.2-.8l.2 .8l.6-.6M71.5 719l1.9 2.5m-.8-.3l.8 .3l-.1-.9M71.5 716.2l-1.3 2.2m0-.8l0 .8l.7-.4M71.5 713.4l1 2.3m-.6-.4l.6 .4l.1-.8M71.5 710.5l-2.7 1.9m.4-.8l-.4 .8l.9-.1M71.5 707.6l-3.1 .2m.7-.5l-.7 .5l.8 .4M71.5 704.8l2.8 .6m-.8 .3l.8-.3l-.6-.6M71.5 702l-2.7 2.7m.2-.9l-.2 .9l.9-.2M71.5 699.1l-3.1-.2m.8-.4l-.8 .4l.7 .5M71.5 696.2l-1.3 2.3m0-.8l0 .8l.7-.4M71.5 693.4l-.3 2.3m-.3-.6l.3 .6l.4-.5M71.5 690.5l-3.5 0m.8-.5l-.8 .5l.8 .5M71.5 687.7l-.5 4.2m-.4-.8l.4 .8l.6-.7M71.5 684.9l-.1 2.8m-.4-.7l.4 .7l.5-.7M71.5 682l-3.1 .4m.7-.5l-.7 .5l.8 .4M71.5 679.1l-.3 2.3m-.3-.6l.3 .6l.4-.5M71.5 676.3l-1.2 2.1m0-.7l0 .7l.6-.3M71.5 673.5l-1.8 2.3m.1-.9l-.1 .9l.8-.3M71.5 670.6l0 3m-.5-.8l.5 .8l.5-.8M71.5 667.8l-3.4 .5m.7-.6l-.7 .6l.8 .4M71.5 664.9l.2 2.4m-.4-.6l.4 .6l.3-.7M71.5 662l-2.5 1.6m.4-.8l-.4 .8l.9 0M71.5 659.2l2.7-1m-.5 .7l.5-.7l-.9-.2M71.5 656.4l2.3-2.4m-.2 .9l.2-.9l-.9 .2M71.5 653.5l3.6 1.9m-.9 0l.9 0l-.5-.8M71.5 650.6l-.4 2.8m-.3-.8l.3 .8l.5-.7M71.5 647.8l-3.2 .1m.8-.5l-.8 .5l.8 .4M75.1 830.2l1.1 2.4m-.7-.5l.7 .5l.1-.8M75.1 827.4l-2.4-1.5m.8 0l-.8 0l.4 .7M75.1 824.5l-1.8 1.8m.2-.8l-.2 .8l.8-.2M75.1 821.6l-2.5 2.1m.3-.9l-.3 .9l.9-.1M75.1 818.8l-3.2 .5m.7-.6l-.7 .6l.8 .3M75.1 816l-2.9 0m.7-.5l-.7 .5l.8 .4M75.1 813.1l-2.9-.2m.8-.4l-.8 .4l.7 .5M75.1 810.2l-1 2.1m-.1-.7l.1 .7l.6-.4M75.1 807.4l-1.1 2.7m-.1-.9l.1 .9l.7-.5M75.1 804.5l-.1 2.8m-.4-.7l.4 .7l.5-.7M75.1 801.7l-.5 2.3m-.2-.7l.2 .7l.5-.5M75.1 798.9l-1.9 2.1m.2-.8l-.2 .8l.8-.3M75.1 796l-2.5 2.1m.3-.9l-.3 .9l.9-.1M75.1 793.1l-2.5-1.2m.8-.1l-.8 .1l.5 .7M75.1 790.3l-.2 2.3m-.3-.6l.3 .6l.4-.6M75.1 787.5l-.1 2.8m-.4-.7l.4 .7l.4-.7M75.1 784.6l-3.5 .9m.6-.6l-.6 .6l.9 .3M75.1 781.8l-.2 2.4m-.3-.7l.3 .7l.4-.6M75.1 778.9l-.2 3.9m-.4-.8l.4 .8l.5-.7M75.1 776l.3 2.5m-.5-.6l.5 .6l.3-.7M75.1 773.2l-2.1 1.9m.2-.8l-.2 .8l.8-.2M75.1 770.4l-2.9 .3m.7-.5l-.7 .5l.8 .4M75.1 767.5l.4 2.7m-.5-.6l.5 .6l.3-.7M75.1 764.6l.2 2.7m-.5-.7l.5 .7l.4-.7M75.1 761.8l.1 2.6m-.4-.7l.4 .7l.4-.7M75.1 759l-.1 3m-.4-.8l.4 .8l.5-.7M75.1 756.1l-3.8 .1m.8-.5l-.8 .5l.8 .4M75.1 753.2l-1.8 2.3m.1-.9l-.1 .9l.8-.3M75.1 750.4l-.6 2.5m-.2-.7l.2 .7l.5-.6M75.1 747.5l-.2 2.4m-.3-.6l.3 .6l.4-.6M75.1 744.7l-.4 3m-.3-.8l.3 .8l.6-.7M75.1 741.9l.6 2.3m-.5-.5l.5 .5l.2-.7M75.1 739l-.1 2.5m-.4-.7l.4 .7l.4-.6M75.1 736.1l-4.1 2.8m.4-.8l-.4 .8l.9-.1M75.1 733.3l.3 2.7m-.5-.7l.5 .7l.3-.7M75.1 730.5l-.1 2.6m-.4-.7l.4 .7l.4-.6M75.1 727.6l-2.4 2.3m.2-.9l-.2 .9l.9-.2M75.1 724.8l3.3 .8m-.9 .3l.9-.3l-.6-.6M75.1 721.9l-2.8 1.8m.4-.8l-.4 .8l.9 0M75.1 719l-1.3 2.4m0-.8l0 .8l.7-.4M75.1 716.2l-.2 3m-.4-.8l.4 .8l.5-.7M75.1 713.4l-.2 2.8m-.4-.8l.4 .8l.5-.7M75.1 710.5l-3.1 .2m.7-.5l-.7 .5l.8 .4M75.1 707.6l-1.4 2.2m0-.8l0 .8l.7-.3M75.1 704.8l-4.2 2.6m.4-.8l-.4 .8l.9 0M75.1 702l.9-2.5m.2 .8l-.2-.8l-.6 .5M75.1 699.1l-1 2.9m-.2-.9l.2 .9l.7-.6M75.1 696.2l-1.6 2.4m0-.9l0 .9l.8-.4M75.1 693.4l-.5 2.7m-.3-.8l.3 .8l.5-.6M75.1 690.5l.1 2.5m-.4-.6l.4 .6l.4-.6M75.1 687.7l-1.9 2.2m.2-.9l-.2 .9l.8-.3M75.1 684.9l-.5 2.6m-.3-.8l.3 .8l.5-.6M75.1 682l.2 2.7m-.5-.7l.5 .7l.4-.7M75.1 679.1l.8 2.9m-.6-.6l.6 .6l.3-.9M75.1 676.3l-.9 2.5m-.2-.8l.2 .8l.6-.5M75.1 673.5l-1.9 1.9m.2-.8l-.2 .8l.8-.2M75.1 670.6l-1.5 2.7m0-.9l0 .9l.8-.4M75.1 667.8l-.2 2.3m-.3-.6l.3 .6l.4-.6M75.1 664.9l-3.6 3.4m.2-.9l-.2 .9l.9-.2M75.1 662l-.1 2.4m-.3-.6l.3 .6l.4-.6M75.1 659.2l-2.7 1.2m.5-.7l-.5 .7l.9 .1M75.1 656.4l-.4 2.5m-.3-.7l.3 .7l.5-.6M75.1 653.5l-2.9 1.9m.4-.8l-.4 .8l.9 0M75.1 650.6l-1.6 2.1m.1-.8l-.1 .8l.7-.3M75.1 647.8l-.1 2.7m-.4-.7l.4 .7l.5-.7M78.7 830.2l-.1 2.9m-.4-.8l.4 .8l.5-.7M78.7 827.4l-3.6 .3m.7-.5l-.7 .5l.8 .4M78.7 824.5l-1.5 2.1m.1-.8l-.1 .8l.7-.3M78.7 821.6l-.3 2.8m-.4-.8l.4 .8l.5-.7M78.7 818.8l-2.6 2.8m.2-.9l-.2 .9l.9-.2M78.7 816l.1 2.7m-.4-.7l.4 .7l.4-.7M78.7 813.1l-.5 2.6m-.3-.7l.3 .7l.5-.6M78.7 810.2l-1.4 2.4m0-.8l0 .8l.7-.4M78.7 807.4l-3.3 .6m.7-.6l-.7 .6l.8 .3M78.7 804.5l-2.5 1.4m.4-.8l-.4 .8l.9 0M78.7 801.7l-1.5 2.1m.1-.8l-.1 .8l.7-.3M78.7 798.9l-1.3 2.6m-.1-.9l.1 .9l.7-.5M78.7 796l-.1 3m-.4-.8l.4 .8l.5-.7M78.7 793.1l-.9 2.6m-.2-.8l.2 .8l.6-.5M78.7 790.3l-.6 2.8m-.3-.8l.3 .8l.6-.6M78.7 787.5l-2.5 2.2m.3-.9l-.3 .9l.9-.2M78.7 784.6l-3.4 1m.6-.7l-.6 .7l.9 .2M78.7 781.8l-.7-2.9m.6 .6l-.6-.6l-.3 .9M78.7 778.9l-.3 2.6m-.3-.7l.3 .7l.5-.6M78.7 776l-.1 2.9m-.4-.8l.4 .8l.5-.7M78.7 773.2l-2.6 2m.3-.8l-.3 .8l.9-.1M78.7 770.4l0 2.7m-.4-.7l.4 .7l.4-.7M78.7 767.5l-1.2 2.7m-.1-.9l.1 .9l.7-.5M78.7 764.6l-.1 2.7m-.4-.7l.4 .7l.4-.7M78.7 761.8l.1 2.3m-.4-.6l.4 .6l.3-.6M78.7 759l.8-2.3m.1 .7l-.1-.7l-.6 .5M78.7 756.1l-1.9 2.1m.2-.8l-.2 .8l.8-.3M78.7 753.2l-1.4 2.3m0-.8l0 .8l.7-.4M78.7 750.4l.4 2.7m-.5-.6l.5 .6l.3-.8M78.7 747.5l-1.8 1.8m.2-.7l-.2 .7l.7-.2M78.7 744.7l1.1 3.3m-.7-.6l.7 .6l.2-.9M78.7 741.9l-.8 2.6m-.2-.8l.2 .8l.6-.5M78.7 739l3.2 .2m-.8 .4l.8-.4l-.7-.5M78.7 736.1l-.9 2.2m-.1-.7l.1 .7l.6-.4M78.7 733.3l-2.3 1.7m.3-.8l-.3 .8l.9-.1M78.7 730.5l-1.8 2.4m.1-.9l-.1 .9l.8-.3M78.7 727.6l1.8 1.9m-.8-.2l.8 .2l-.2-.8M78.7 724.8l-3.8-.1m.8-.4l-.8 .4l.8 .5M78.7 721.9l-.4 2.8m-.3-.8l.3 .8l.5-.7M78.7 719l-1.3 2.6m-.1-.9l.1 .9l.7-.5M78.7 716.2l-1.2 2.7m-.1-.9l.1 .9l.7-.5M78.7 713.4l-.1 2.9m-.4-.8l.4 .8l.5-.7M78.7 710.5l-.1 2.7m-.4-.7l.4 .7l.4-.7M78.7 707.6l.1 2.6m-.4-.6l.4 .6l.4-.7M78.7 704.8l-3.4 1.2m.6-.7l-.6 .7l.9 .2M78.7 702l-3.4 0m.8-.5l-.8 .5l.8 .5M78.7 699.1l-.2 2.3m-.3-.6l.3 .6l.4-.6M78.7 696.2l-2.2 2m.3-.9l-.3 .9l.9-.2M78.7 693.4l-3.4 .4m.7-.6l-.7 .6l.8 .4M78.7 690.5l0 2.3m-.4-.6l.4 .6l.3-.6M78.7 687.7l.4 2.5m-.5-.6l.5 .6l.3-.7M78.7 684.9l-1.9 2.5m.1-.9l-.1 .9l.8-.3M78.7 682l-2.2 1.5m.3-.7l-.3 .7l.8 0M78.7 679.1l.1 2.5m-.4-.6l.4 .6l.3-.7M78.7 676.3l-2.7 2m.3-.8l-.3 .8l.9-.1M78.7 673.5l-.2 3.8m-.4-.8l.4 .8l.5-.7M78.7 670.6l-.2 2.5m-.3-.7l.3 .7l.4-.6M78.7 667.8l-.4 2.6m-.3-.7l.3 .7l.5-.6M78.7 664.9l-1.6 1.9m.1-.7l-.1 .7l.7-.2M78.7 662l.1 2.5m-.4-.6l.4 .6l.4-.7M78.7 659.2l-2.1 2.2m.2-.9l-.2 .9l.9-.2M78.7 656.4l-2 2m.2-.8l-.2 .8l.8-.2M78.7 653.5l.3 2.8m-.5-.7l.5 .7l.4-.8M78.7 650.6l-3.2 .5m.7-.6l-.7 .6l.8 .3M78.7 647.8l-3.1-.9m.9-.2l-.9 .2l.6 .7M82.3 830.2l-.7 3.6m-.3-.8l.3 .8l.6-.7M82.3 827.4l-3.1 1.2m.5-.7l-.5 .7l.9 .2M82.3 824.5l-3.3 .3m.7-.5l-.7 .5l.8 .4M82.3 821.6l-1.3 2.1m0-.8l0 .8l.7-.4M82.3 818.8l-1 2.7m-.1-.8l.1 .8l.7-.5M82.3 816l-.2 2.5m-.3-.7l.3 .7l.4-.6M82.3 813.1l-.2 2.4m-.3-.7l.3 .7l.4-.6M82.3 810.2l-.4 2.9m-.4-.8l.4 .8l.5-.7M82.3 807.4l-3.5 1.2m.6-.7l-.6 .7l.9 .2M82.3 804.5l.5 2.3m-.5-.5l.5 .5l.2-.7M82.3 801.7l-2.2 2.1m.2-.9l-.2 .9l.9-.2M82.3 798.9l-.9 2.1m-.1-.7l.1 .7l.6-.4M82.3 796l-.2 2.9m-.4-.8l.4 .8l.5-.7M82.3 793.1l-1 2.5m-.1-.8l.1 .8l.6-.5M82.3 790.3l-.8 2.2m-.1-.7l.1 .7l.6-.4M82.3 787.5l-.1 2.4m-.4-.6l.4 .6l.4-.6M82.3 784.6l-1.5 1.9m.1-.7l-.1 .7l.7-.3M82.3 781.8l-1.4 2.6m0-.9l0 .9l.8-.5M82.3 778.9l-.3 2.6m-.3-.7l.3 .7l.5-.6M82.3 776l-.8 2.2m-.1-.7l.1 .7l.5-.5M82.3 773.2l-.1 2.7m-.4-.7l.4 .7l.4-.7M82.3 770.4l-3.4 3m.3-.9l-.3 .9l.9-.2M82.3 767.5l-2.2 1.7m.3-.8l-.3 .8l.8-.1M82.3 764.6l-2.8 1m.6-.7l-.6 .7l.9 .2M82.3 761.8l-1.5 2.6m0-.9l0 .9l.8-.4M82.3 759l-.9 2.9m-.2-.9l.2 .9l.7-.6M82.3 756.1l-3.3 3.3m.2-.9l-.2 .9l.9-.2M82.3 753.2l-1.2 2.3m-.1-.8l.1 .8l.7-.4M82.3 750.4l-.7 2.3m-.2-.7l.2 .7l.5-.5M82.3 747.5l-2.3 1.6m.3-.8l-.3 .8l.8-.1M82.3 744.7l-3.5 .2m.7-.5l-.7 .5l.8 .4M82.3 741.9l-.7 2.2m-.2-.7l.2 .7l.5-.5M82.3 739l-.2 2.7m-.4-.7l.4 .7l.5-.7M82.3 736.1l-3.3-.3m.8-.4l-.8 .4l.7 .5M82.3 733.3l-2.7 3m.2-.9l-.2 .9l.9-.3M82.3 730.5l3.1-.5m-.7 .6l.7-.6l-.8-.3M82.3 727.6l-.5 2.5m-.3-.7l.3 .7l.5-.6M82.3 724.8l.1 2.3m-.4-.6l.4 .6l.3-.6M82.3 721.9l-2.9 1.9m.4-.8l-.4 .8l.9 0M82.3 719l-3 .8m.6-.6l-.6 .6l.9 .2M82.3 716.2l-3.5 0m.8-.5l-.8 .5l.8 .5M82.3 713.4l-.1-2.7m.4 .7l-.4-.7l-.4 .7M82.3 710.5l-.3 2.6m-.3-.7l.3 .7l.5-.6M82.3 707.6l-2.8-1.4m.9-.1l-.9 .1l.5 .8M82.3 704.8l.1-2.3m.3 .6l-.3-.6l-.4 .6M82.3 702l-1.6 2.4m.1-.9l-.1 .9l.8-.4M82.3 699.1l-3.7 .2m.7-.5l-.7 .5l.8 .4M82.3 696.2l-2.9 1.4m.5-.8l-.5 .8l.9 .1M82.3 693.4l-3.3 .6m.7-.6l-.7 .6l.8 .3M82.3 690.5l-.4 2.2m-.2-.6l.2 .6l.5-.5M82.3 687.7l-.4 2.7m-.3-.7l.3 .7l.5-.6M82.3 684.9l-2 2.1m.2-.9l-.2 .9l.8-.2M82.3 682l.2 4.4m-.5-.7l.5 .7l.4-.8M82.3 679.1l-2.5 1.8m.4-.8l-.4 .8l.9-.1M82.3 676.3l-2.9 1.4m.5-.7l-.5 .7l.9 .1M82.3 673.5l-1-2.5m.7 .5l-.7-.5l-.1 .8M82.3 670.6l-2.7 1.4m.5-.8l-.5 .8l.9 .1M82.3 667.8l-2 1.9m.2-.8l-.2 .8l.8-.2M82.3 664.9l-1.2 2.5m-.1-.8l.1 .8l.7-.5M82.3 662l-.8 2.7m-.2-.8l.2 .8l.6-.6M82.3 659.2l-.2 2.7m-.4-.7l.4 .7l.5-.7M82.3 656.4l-.1 2.4m-.4-.6l.4 .6l.4-.6M82.3 653.5l-.3 2.7m-.4-.7l.4 .7l.5-.7M82.3 650.6l-2.7 2m.3-.8l-.3 .8l.9-.1M82.3 647.8l.4 2.4m-.5-.5l.5 .5l.3-.7M85.9 830.2l-.4 2.8m-.3-.8l.3 .8l.5-.7M85.9 827.4l.3 2.5m-.5-.6l.5 .6l.3-.7M85.9 824.5l.6 2.6m-.6-.6l.6 .6l.2-.8M85.9 821.6l-.2 2.9m-.4-.8l.4 .8l.5-.7M85.9 818.8l-1.1 2.4m-.1-.8l.1 .8l.6-.4M85.9 816l.4 2.7m-.5-.6l.5 .6l.3-.8M85.9 813.1l-4 1.6m.5-.7l-.5 .7l.9 .1M85.9 810.2l-1.5 1.9m.1-.7l-.1 .7l.7-.3M85.9 807.4l-1.9 1.8m.2-.8l-.2 .8l.8-.2M85.9 804.5l.5 3.5m-.6-.7l.6 .7l.3-.8M85.9 801.7l-2.5 1.7m.4-.8l-.4 .8l.9 0M85.9 798.9l2.6-1.3m-.5 .7l.5-.7l-.9-.1M85.9 796l0 2.3m-.4-.6l.4 .6l.3-.6M85.9 793.1l-.5 2.9m-.3-.8l.3 .8l.6-.7M85.9 790.3l-1.4-2.6m.8 .4l-.8-.4l0 .9M85.9 787.5l-2.4 2m.3-.8l-.3 .8l.9-.1M85.9 784.6l-1.4 2.2m0-.8l0 .8l.7-.3M85.9 781.8l-2 1.8m.2-.8l-.2 .8l.8-.2M85.9 778.9l-1.8 2.5m.1-.9l-.1 .9l.8-.4M85.9 776l-.7 2.6m-.2-.8l.2 .8l.6-.6M85.9 773.2l.2 2.4m-.4-.6l.4 .6l.3-.7M85.9 770.4l-.1 3m-.4-.8l.4 .8l.5-.7M85.9 767.5l.2 2.6m-.5-.6l.5 .6l.3-.7M85.9 764.6l.3 4.4m-.5-.7l.5 .7l.4-.8M85.9 761.8l0 2.8m-.4-.7l.4 .7l.4-.7M85.9 759l-.4 2.7m-.3-.8l.3 .8l.5-.6M85.9 756.1l-2.1 1.7m.3-.8l-.3 .8l.8-.1M85.9 753.2l-.4 2.4m-.3-.7l.3 .7l.5-.6M85.9 750.4l-.3 2.6m-.3-.7l.3 .7l.5-.6M85.9 747.5l-2.6 1.5m.4-.8l-.4 .8l.9 0M85.9 744.7l-.2 2.7m-.4-.7l.4 .7l.5-.7M85.9 741.9l-3 .3m.7-.5l-.7 .5l.8 .4M85.9 739l0 2.5m-.4-.6l.4 .6l.4-.6M85.9 736.1l-.5 2.5m-.3-.7l.3 .7l.5-.6M85.9 733.3l1.9-2.3m-.1 .9l.1-.9l-.8 .3M85.9 730.5l-2.8 2.8m.2-.9l-.2 .9l.9-.2M85.9 727.6l-1.5 2.1m0-.8l0 .8l.7-.3M85.9 724.8l-.3 2.2m-.3-.6l.3 .6l.4-.5M85.9 721.9l-.9 2.3m-.1-.7l.1 .7l.6-.5M85.9 719l-1.2 2.1m0-.7l0 .7l.6-.3M85.9 716.2l-2.6 1.7m.4-.8l-.4 .8l.9 0M85.9 713.4l-3.3 1.5m.5-.7l-.5 .7l.9 .1M85.9 710.5l-2.9 1.9m.4-.8l-.4 .8l.9 0M85.9 707.6l-2.9 1.1m.6-.7l-.6 .7l.9 .2M85.9 704.8l-1.7-2.5m.8 .4l-.8-.4l.1 .9M85.9 702l-1.8 2m.2-.8l-.2 .8l.8-.2M85.9 699.1l-1.6 2.3m.1-.8l-.1 .8l.8-.3M85.9 696.2l-3 .2m.7-.5l-.7 .5l.8 .4M85.9 693.4l-3.2 1m.6-.7l-.6 .7l.9 .2M85.9 690.5l.3 2.5m-.5-.6l.5 .6l.3-.7M85.9 687.7l.3 2.6m-.5-.6l.5 .6l.3-.7M85.9 684.9l3.3-.7m-.7 .6l.7-.6l-.9-.3M85.9 682l-.4 2.3m-.3-.7l.3 .7l.5-.5M85.9 679.1l-.4 2.5m-.3-.7l.3 .7l.5-.6M85.9 676.3l-2.5 2.1m.3-.8l-.3 .8l.9-.1M85.9 673.5l1.6-2.3m-.1 .8l.1-.8l-.8 .3M85.9 670.6l-1.9 2.1m.2-.8l-.2 .8l.8-.2M85.9 667.8l.5 2.6m-.5-.6l.5 .6l.3-.7M85.9 664.9l-1.1 2.2m-.1-.7l.1 .7l.6-.4M85.9 662l-.8 3.9m-.3-.9l.3 .9l.6-.7M85.9 659.2l-1.9 1.8m.2-.8l-.2 .8l.8-.2M85.9 656.4l-2.6 2.1m.3-.8l-.3 .8l.9-.1M85.9 653.5l-1 2.4m-.1-.8l.1 .8l.6-.5M85.9 650.6l-2.1 2.2m.2-.9l-.2 .9l.9-.2M85.9 647.8l0 2.4m-.4-.6l.4 .6l.4-.6M89.5 830.2l-2.1 2.4m.2-.9l-.2 .9l.9-.3M89.5 827.4l-1.7 2.4m.1-.9l-.1 .9l.8-.4M89.5 824.5l-1.4 3.3m-.1-.9l.1 .9l.7-.5M89.5 821.6l-2 2.2m.2-.9l-.2 .9l.9-.3M89.5 818.8l-2.2 1.9m.3-.8l-.3 .8l.9-.2M89.5 816l-.2 2.7m-.4-.7l.4 .7l.5-.7M89.5 813.1l-1.7 2.5m.1-.9l-.1 .9l.8-.4M89.5 810.2l-.4 2.4m-.3-.7l.3 .7l.5-.5M89.5 807.4l-.2 2.7m-.4-.7l.4 .7l.5-.7M89.5 804.5l-2.1 2m.2-.8l-.2 .8l.8-.2M89.5 801.7l1.2-2.1m0 .7l0-.7l-.6 .3M89.5 798.9l-.3 2.4m-.3-.7l.3 .7l.5-.6M89.5 796l-.2 2.8m-.4-.8l.4 .8l.5-.7M89.5 793.1l0 3m-.4-.8l.4 .8l.5-.8M89.5 790.3l-3.5 1.1m.6-.7l-.6 .7l.9 .2M89.5 787.5l-3.3 2.7m.3-.9l-.3 .9l.9-.1M89.5 784.6l-1.7 2.2m.1-.8l-.1 .8l.8-.3M89.5 781.8l.1 2.9m-.5-.7l.5 .7l.4-.8M89.5 778.9l.1 2.5m-.4-.6l.4 .6l.4-.7M89.5 776l0 2.9m-.4-.7l.4 .7l.5-.7M89.5 773.2l-2.1 1.7m.3-.8l-.3 .8l.8-.1M89.5 770.4l-2.6 1.7m.4-.8l-.4 .8l.9 0M89.5 767.5l.5 2.4m-.5-.5l.5 .5l.2-.7M89.5 764.6l-.4 2.7m-.3-.8l.3 .8l.5-.6M89.5 761.8l-1.5 2.5m0-.9l0 .9l.8-.4M89.5 759l-.4 2.8m-.3-.8l.3 .8l.5-.7M89.5 756.1l.6 2.7m-.6-.6l.6 .6l.3-.8M89.5 753.2l-2.2 1.6m.3-.7l-.3 .7l.8-.1M89.5 750.4l.4 2.3m-.5-.5l.5 .5l.2-.7M89.5 747.5l-1.8 2.5m.1-.9l-.1 .9l.8-.3M89.5 744.7l-.3 2.3m-.3-.6l.3 .6l.4-.5M89.5 741.9l-.2 2.3m-.3-.6l.3 .6l.4-.6M89.5 739l1.3 2.6m-.7-.5l.7 .5l.1-.9M89.5 736.1l.3 2.5m-.5-.6l.5 .6l.3-.7M89.5 733.3l-2.5 1.6m.4-.8l-.4 .8l.9 0M89.5 730.5l-1 2.3m-.1-.7l.1 .7l.6-.4M89.5 727.6l2.8 .6m-.8 .3l.8-.3l-.6-.6M89.5 724.8l-.2 2.9m-.4-.8l.4 .8l.5-.7M89.5 721.9l-.1 2.4m-.3-.6l.3 .6l.4-.6M89.5 719l2.1 1.7m-.8-.1l.8 .1l-.3-.8M89.5 716.2l0 2.8m-.4-.7l.4 .7l.4-.7M89.5 713.4l.2 2.7m-.5-.7l.5 .7l.4-.7M89.5 710.5l-.4 2.2m-.2-.6l.2 .6l.4-.5M89.5 707.6l-.4 2.8m-.3-.8l.3 .8l.5-.7M89.5 704.8l-.3 2.9m-.4-.8l.4 .8l.5-.7M89.5 702l-.3 2.9m-.4-.8l.4 .8l.5-.7M89.5 699.1l-1.7 2.1m.1-.8l-.1 .8l.8-.3M89.5 696.2l-1.4 2m0-.7l0 .7l.7-.3M89.5 693.4l-2.5 1.7m.4-.8l-.4 .8l.9 0M89.5 690.5l-2.9 .9m.6-.7l-.6 .7l.9 .2M89.5 687.7l-.1 2.7m-.4-.7l.4 .7l.5-.7M89.5 684.9l-2.9 0m.7-.4l-.7 .4l.7 .5M89.5 682l-1.9 2.5m.1-.9l-.1 .9l.8-.3M89.5 679.1l2.4-3.6m0 .9l0-.9l-.8 .4M89.5 676.3l-2.9 .6m.7-.6l-.7 .6l.9 .3M89.5 673.5l.5 2.6m-.5-.6l.5 .6l.3-.7M89.5 670.6l.2 2.4m-.4-.6l.4 .6l.3-.7M89.5 667.8l.9 2.3m-.6-.5l.6 .5l.1-.7M89.5 664.9l-2 2.3m.2-.9l-.2 .9l.9-.3M89.5 662l-3-.1m.8-.4l-.8 .4l.8 .5M89.5 659.2l.1 2.5m-.4-.6l.4 .6l.3-.7M89.5 656.4l-1.6 2m.1-.8l-.1 .8l.7-.3M89.5 653.5l-4 2m.5-.8l-.5 .8l.9 .1M89.5 650.6l-.2 2.6m-.3-.7l.3 .7l.4-.6M89.5 647.8l.1 2.4m-.4-.6l.4 .6l.4-.6M93.2 830.2l.3 3m-.5-.7l.5 .7l.4-.8M93.2 827.4l-4 2.4m.4-.8l-.4 .8l.9 0M93.2 824.5l-.3 2.3m-.3-.6l.3 .6l.4-.5M93.2 821.6l-4.2 2.9m.4-.8l-.4 .8l.9-.1M93.2 818.8l-1.6 2.5m0-.9l0 .9l.8-.4M93.2 816l-.8 2.4m-.2-.7l.2 .7l.6-.5M93.2 813.1l0 2.4m-.4-.6l.4 .6l.4-.6M93.2 810.2l.1 2.4m-.4-.6l.4 .6l.3-.6M93.2 807.4l1.6 2.5m-.8-.4l.8 .4l0-.9M93.2 804.5l-3.3 .9m.6-.7l-.6 .7l.9 .2M93.2 801.7l-1.7 2.3m.1-.8l-.1 .8l.8-.3M93.2 798.9l-2.3 1.5m.4-.7l-.4 .7l.8 0M93.2 796l0 2.8m-.4-.7l.4 .7l.4-.7M93.2 793.1l.2 2.4m-.4-.6l.4 .6l.3-.7M93.2 790.3l-.7 2.3m-.2-.7l.2 .7l.5-.5M93.2 787.5l.5 2.8m-.6-.7l.6 .7l.3-.8M93.2 784.6l-.8 2.9m-.2-.9l.2 .9l.7-.6M93.2 781.8l-.1 2.4m-.3-.6l.3 .6l.4-.6M93.2 778.9l-1.3 2.7m-.1-.9l.1 .9l.7-.5M93.2 776l-.6 2.6m-.2-.8l.2 .8l.6-.6M93.2 773.2l-3 1.6m.5-.8l-.5 .8l.9 0M93.2 770.4l-1.8 2.4m.1-.9l-.1 .9l.8-.3M93.2 767.5l-2.1 2.3m.2-.9l-.2 .9l.9-.3M93.2 764.6l-1.6 1.9m.1-.7l-.1 .7l.7-.2M93.2 761.8l0 2.6m-.4-.7l.4 .7l.4-.7M93.2 759l-2.7 1.8m.4-.8l-.4 .8l.9-.1M93.2 756.1l-3.5 1.1m.6-.7l-.6 .7l.9 .2M93.2 753.2l-2.2 2.4m.2-.9l-.2 .9l.9-.2M93.2 750.4l0 4.2m-.5-.8l.5 .8l.5-.8M93.2 747.5l-1.9 2.3m.1-.9l-.1 .9l.8-.3M93.2 744.7l-.2 2.7m-.3-.7l.3 .7l.5-.6M93.2 741.9l-1.3 2.6m-.1-.9l.1 .9l.7-.5M93.2 739l0 2.3m-.4-.6l.4 .6l.4-.6M93.2 736.1l0 2.5m-.4-.7l.4 .7l.4-.6M93.2 733.3l0 2.6m-.4-.7l.4 .7l.4-.7M93.2 730.5l-.3 2.8m-.3-.8l.3 .8l.5-.7M93.2 727.6l.4 2.6m-.5-.6l.5 .6l.3-.7M93.2 724.8l-3.1 3.7m.1-.9l-.1 .9l.8-.3M93.2 721.9l.2 2.9m-.5-.7l.5 .7l.4-.8M93.2 719l-1.4 2.2m0-.8l0 .8l.7-.3M93.2 716.2l0 2.9m-.5-.7l.5 .7l.4-.7M93.2 713.4l1.8 2m-.8-.2l.8 .2l-.2-.8M93.2 710.5l-1 2.7m-.2-.9l.2 .9l.7-.5M93.2 707.6l-2.8 .7m.6-.6l-.6 .6l.8 .3M93.2 704.8l-3.6 .8m.6-.6l-.6 .6l.9 .3M93.2 702l-2.7 1.8m.4-.8l-.4 .8l.9 0M93.2 699.1l-.2 2.6m-.4-.7l.4 .7l.4-.7M93.2 696.2l.2 3m-.5-.7l.5 .7l.4-.8M93.2 693.4l-.4 2.6m-.3-.7l.3 .7l.5-.6M93.2 690.5l-.3 2.8m-.4-.7l.4 .7l.5-.7M93.2 687.7l-1.3 2.4m0-.8l0 .8l.7-.4M93.2 684.9l-.4 2.3m-.2-.7l.2 .7l.5-.5M93.2 682l-.5 2.8m-.3-.8l.3 .8l.6-.6M93.2 679.1l-2.2 1.8m.3-.8l-.3 .8l.8-.1M93.2 676.3l-.1 2.6m-.4-.7l.4 .7l.4-.6M93.2 673.5l-1.4 2.1m0-.8l0 .8l.7-.3M93.2 670.6l.3 2.5m-.5-.6l.5 .6l.3-.7M93.2 667.8l-.1 2.7m-.4-.7l.4 .7l.4-.7M93.2 664.9l-1.1 2.4m-.1-.8l.1 .8l.6-.4M93.2 662l-2.3 1.8m.3-.8l-.3 .8l.9-.1M93.2 659.2l-1.5 2m.1-.7l-.1 .7l.7-.3M93.2 656.4l-1 2.3m-.1-.7l.1 .7l.6-.4M93.2 653.5l.2 2.3m-.4-.6l.4 .6l.3-.6M93.2 650.6l-2.5 1.7m.4-.8l-.4 .8l.9-.1M93.2 647.8l-1.5 2m.1-.8l-.1 .8l.7-.3M96.8 830.2l0 2.5m-.4-.6l.4 .6l.4-.6M96.8 827.4l-.3 2.5m-.3-.7l.3 .7l.5-.6M96.8 824.5l-1.8 1.8m.2-.7l-.2 .7l.7-.2M96.8 821.6l.1 3m-.5-.8l.5 .8l.4-.8M96.8 818.8l-1.7 2m.1-.8l-.1 .8l.7-.3M96.8 816l-1.4 2m0-.7l0 .7l.7-.3M96.8 813.1l-1.3 2m0-.7l0 .7l.6-.3M96.8 810.2l-2.5 1.5m.4-.8l-.4 .8l.9 0M96.8 807.4l-.3 2.9m-.4-.8l.4 .8l.5-.7M96.8 804.5l-.7 2.7m-.2-.8l.2 .8l.6-.6M96.8 801.7l-.4 3m-.4-.8l.4 .8l.6-.7M96.8 798.9l1 2.7m-.7-.5l.7 .5l.2-.9M96.8 796l.4 2.6m-.5-.6l.5 .6l.3-.7M96.8 793.1l-.2 2.6m-.3-.7l.3 .7l.5-.6M96.8 790.3l-3 2.5m.3-.9l-.3 .9l.9-.1M96.8 787.5l.3 4.4m-.5-.7l.5 .7l.4-.8M96.8 784.6l-2.4 1.6m.4-.8l-.4 .8l.8 0M96.8 781.8l-.4 2.4m-.3-.7l.3 .7l.5-.6M96.8 778.9l-2.4 1.7m.4-.8l-.4 .8l.9-.1M96.8 776l-1.5 1.9m.1-.7l-.1 .7l.7-.3M96.8 773.2l.1-2.7m.4 .7l-.4-.7l-.4 .7M96.8 770.4l0 4.4m-.5-.8l.5 .8l.5-.8M96.8 767.5l.1 2.9m-.5-.7l.5 .7l.4-.8M96.8 764.6l-.1 2.4m-.3-.7l.3 .7l.4-.6M96.8 761.8l1.7 1.9m-.7-.2l.7 .2l-.2-.8M96.8 759l-2.8 1.9m.4-.8l-.4 .8l.9-.1M96.8 756.1l-2.4 1.7m.3-.8l-.3 .8l.9-.1M96.8 753.2l-2.8 .7m.6-.6l-.6 .6l.8 .3M96.8 750.4l-.4 2.9m-.3-.8l.3 .8l.6-.7M96.8 747.5l-.5 2.6m-.3-.8l.3 .8l.5-.6M96.8 744.7l-.4 2.6m-.3-.7l.3 .7l.5-.6M96.8 741.9l.4 3.6m-.5-.7l.5 .7l.4-.8M96.8 739l-.8 2.3m-.2-.7l.2 .7l.5-.5M96.8 736.1l-1.6 1.9m.1-.7l-.1 .7l.7-.2M96.8 733.3l-1.7 2.2m.1-.8l-.1 .8l.8-.3M96.8 730.5l-.4 2.8m-.3-.8l.3 .8l.5-.7M96.8 727.6l.2 2.9m-.5-.7l.5 .7l.4-.8M96.8 724.8l0 2.7m-.4-.7l.4 .7l.4-.7M96.8 721.9l2.9 1.6m-.9 0l.9 0l-.5-.8M96.8 719l-.8 2.6m-.2-.8l.2 .8l.6-.6M96.8 716.2l-1.4 2.2m0-.8l0 .8l.7-.4M96.8 713.4l2.8-1.3m-.5 .7l.5-.7l-.9-.1M96.8 710.5l.3 2.8m-.5-.7l.5 .7l.4-.8M96.8 707.6l-4.7 .5m.7-.6l-.7 .6l.8 .4M96.8 704.8l-4.3 2.8m.4-.8l-.4 .8l.9 0M96.8 702l-.3 2.9m-.4-.8l.4 .8l.5-.7M96.8 699.1l-.6 2.5m-.2-.7l.2 .7l.5-.5M96.8 696.2l-1.8 1.9m.2-.8l-.2 .8l.8-.2M96.8 693.4l.2 2.7m-.5-.7l.5 .7l.4-.7M96.8 690.5l0 2.7m-.4-.7l.4 .7l.4-.7M96.8 687.7l-1.8 1.9m.2-.8l-.2 .8l.8-.2M96.8 684.9l-3.2 1.2m.6-.7l-.6 .7l.9 .2M96.8 682l.2 2.3m-.4-.6l.4 .6l.3-.6M96.8 679.1l-1.5 2m.1-.7l-.1 .7l.7-.3M96.8 676.3l-2.6-1.3m.9-.1l-.9 .1l.5 .7M96.8 673.5l.6 2.8m-.6-.6l.6 .6l.3-.8M96.8 670.6l-.4 2.8m-.3-.8l.3 .8l.5-.6M96.8 667.8l-3.7 .4m.7-.5l-.7 .5l.8 .4M96.8 664.9l-2.4 3.5m0-.9l0 .9l.8-.4M96.8 662l1 2.5m-.6-.5l.6 .5l.1-.8M96.8 659.2l-3.1 1.2m.6-.7l-.6 .7l.9 .2M96.8 656.4l-.2 2.4m-.3-.6l.3 .6l.4-.6M96.8 653.5l-2.5 2m.3-.8l-.3 .8l.9-.1M96.8 650.6l-3.1 .3m.7-.5l-.7 .5l.8 .4M96.8 647.8l.2 2.7m-.5-.6l.5 .6l.3-.7M100.4 830.2l-1.6 2m.1-.8l-.1 .8l.7-.3M100.4 827.4l-1.7 2m.1-.8l-.1 .8l.8-.2M100.4 824.5l-2.9 .9m.6-.7l-.6 .7l.9 .2M100.4 821.6l-.1 2.5m-.4-.7l.4 .7l.4-.6M100.4 818.8l-2 2.2m.2-.9l-.2 .9l.9-.3M100.4 816l1.1 2.2m-.6-.4l.6 .4l.1-.7M100.4 813.1l0 2.7m-.4-.7l.4 .7l.4-.7M100.4 810.2l-.1 2.4m-.3-.6l.3 .6l.4-.6M100.4 807.4l-.5 2.4m-.2-.7l.2 .7l.5-.5M100.4 804.5l-.4 4.4m-.4-.8l.4 .8l.5-.7M100.4 801.7l-1.2 2.2m0-.7l0 .7l.6-.4M100.4 798.9l-3.8 .1m.8-.5l-.8 .5l.8 .5M100.4 796l-.8 2.5m-.2-.8l.2 .8l.6-.5M100.4 793.1l-1.5 2.5m0-.9l0 .9l.8-.4M100.4 790.3l.2 2.4m-.4-.6l.4 .6l.3-.6M100.4 787.5l-3.3 0m.8-.5l-.8 .5l.8 .5M100.4 784.6l3-1.5m-.5 .8l.5-.8l-.9-.1M100.4 781.8l0 2.6m-.4-.7l.4 .7l.4-.7M100.4 778.9l-1.5 2.2m.1-.8l-.1 .8l.7-.3M100.4 776l0 2.9m-.5-.8l.5 .8l.5-.8M100.4 773.2l0 2.7m-.4-.7l.4 .7l.4-.7M100.4 770.4l-1.2 2.3m0-.8l0 .8l.7-.4M100.4 767.5l-2.2 2.2m.2-.9l-.2 .9l.9-.2M100.4 764.6l-2.8 1.4m.5-.8l-.5 .8l.9 .1M100.4 761.8l-2.4 1.9m.3-.8l-.3 .8l.9-.1M100.4 759l.2 2.7m-.5-.7l.5 .7l.4-.7M100.4 756.1l-2.3 2.2m.2-.9l-.2 .9l.9-.2M100.4 753.2l.7 3.9m-.6-.7l.6 .7l.3-.8M100.4 750.4l0 2.8m-.4-.7l.4 .7l.4-.7M100.4 747.5l-1.8 2.2m.1-.8l-.1 .8l.8-.3M100.4 744.7l-1.9 2.5m.1-.9l-.1 .9l.8-.3M100.4 741.9l-.8 2.5m-.2-.8l.2 .8l.6-.5M100.4 739l-1.6 2.3m.1-.8l-.1 .8l.8-.3M100.4 736.1l0 2.6m-.4-.7l.4 .7l.4-.7M100.4 733.3l3.7 2.9m-.9-.1l.9 .1l-.3-.8M100.4 730.5l-2.1 1.8m.3-.8l-.3 .8l.8-.1M100.4 727.6l0 2.8m-.4-.7l.4 .7l.4-.7M100.4 724.8l.1 2.3m-.4-.6l.4 .6l.3-.6M100.4 721.9l-2.1 1.5m.3-.7l-.3 .7l.8-.1M100.4 719l-.6 2.6m-.2-.8l.2 .8l.6-.6M100.4 716.2l-.2 2.4m-.3-.6l.3 .6l.4-.6M100.4 713.4l.1 3m-.5-.8l.5 .8l.4-.8M100.4 710.5l-2.7 .9m.5-.7l-.5 .7l.8 .2M100.4 707.6l-3 1.5m.5-.8l-.5 .8l.9 .1M100.4 704.8l-.7 3.5m-.3-.8l.3 .8l.6-.7M100.4 702l-3.4 3.1m.3-.9l-.3 .9l.9-.2M100.4 699.1l0 2.5m-.4-.6l.4 .6l.4-.6M100.4 696.2l.1 3m-.5-.7l.5 .7l.4-.8M100.4 693.4l-2.5 2m.3-.8l-.3 .8l.9-.1M100.4 690.5l-2.2 1.9m.3-.8l-.3 .8l.9-.2M100.4 687.7l-2 1.7m.3-.7l-.3 .7l.8-.1M100.4 684.9l-3 1.5m.5-.8l-.5 .8l.9 .1M100.4 682l-.3 2.3m-.3-.6l.3 .6l.4-.5M100.4 679.1l-1.4 2m0-.7l0 .7l.7-.3M100.4 676.3l-2 1.8m.2-.8l-.2 .8l.8-.2M100.4 673.5l-.3 2.6m-.3-.7l.3 .7l.5-.6M100.4 670.6l-2.4 2.1m.3-.9l-.3 .9l.9-.2M100.4 667.8l-2.4 3.3m.1-.9l-.1 .9l.8-.3M100.4 664.9l-1.2 2.3m0-.8l0 .8l.7-.4M100.4 662l2.1 1.8m-.8-.1l.8 .1l-.3-.8M100.4 659.2l-2 1.6m.3-.7l-.3 .7l.8-.1M100.4 656.4l-2.2 2.4m.2-.9l-.2 .9l.9-.3M100.4 653.5l.9-2.8m.2 .9l-.2-.9l-.7 .6M100.4 650.6l-.2 2.4m-.3-.7l.3 .7l.4-.6M100.4 647.8l-.3 2.9m-.4-.8l.4 .8l.5-.7M104 830.2l-2.2 1.4m.4-.7l-.4 .7l.8 0M104 827.4l-2.6 1.2m.5-.7l-.5 .7l.9 .1M104 824.5l.2 2.8m-.5-.7l.5 .7l.4-.8M104 821.6l3.5-.9m-.6 .6l.6-.6l-.9-.3M104 818.8l-1.8 2.5m.1-.9l-.1 .9l.8-.4M104 816l-.5 2.5m-.2-.7l.2 .7l.5-.6M104 813.1l-2.9 1.4m.5-.7l-.5 .7l.9 .1M104 810.2l-3.3 .9m.6-.6l-.6 .6l.9 .3M104 807.4l-1 2.2m-.1-.7l.1 .7l.6-.4M104 804.5l-1.3 2.1m0-.7l0 .7l.7-.3M104 801.7l-.7 2.2m-.2-.7l.2 .7l.5-.5M104 798.9l-.2 2.8m-.4-.7l.4 .7l.5-.7M104 796l-1.7 2.5m.1-.9l-.1 .9l.8-.4M104 793.1l.2 2.7m-.5-.7l.5 .7l.4-.7M104 790.3l-1.3 2.6m-.1-.9l.1 .9l.8-.5M104 787.5l-3.2 .8m.6-.6l-.6 .6l.9 .3M104 784.6l.1 3.5m-.5-.8l.5 .8l.4-.8M104 781.8l-1.8 2.1m.1-.8l-.1 .8l.8-.3M104 778.9l-.4 2.5m-.3-.7l.3 .7l.5-.6M104 776l-.6 2.7m-.3-.8l.3 .8l.6-.6M104 773.2l.1 2.3m-.4-.6l.4 .6l.3-.6M104 770.4l.1 2.3m-.4-.6l.4 .6l.3-.6M104 767.5l3.1-2.8m-.3 .9l.3-.9l-.9 .2M104 764.6l-1 2.6m-.1-.8l.1 .8l.6-.5M104 761.8l-1.2 2.7m-.1-.9l.1 .9l.7-.5M104 759l.1 2.5m-.4-.6l.4 .6l.4-.7M104 756.1l.8 2.9m-.6-.6l.6 .6l.2-.9M104 753.2l.1 2.9m-.5-.7l.5 .7l.4-.7M104 750.4l-1.6 1.9m.1-.7l-.1 .7l.7-.2M104 747.5l-.3 3m-.4-.8l.4 .8l.5-.7M104 744.7l-2.9 .6m.6-.6l-.6 .6l.8 .3M104 741.9l-2.3 1.4m.4-.7l-.4 .7l.8 0M104 739l-3.4 .8m.6-.6l-.6 .6l.9 .3M104 736.1l0 2.9m-.4-.8l.4 .8l.5-.7M104 733.3l-.3 2.9m-.4-.8l.4 .8l.5-.7M104 730.5l-1 2.4m-.1-.8l.1 .8l.6-.5M104 727.6l-1.6 2.1m.1-.8l-.1 .8l.7-.3M104 724.8l1.5 2.5m-.8-.4l.8 .4l0-.9M104 721.9l-3.4 .1m.8-.5l-.8 .5l.8 .4M104 719l-3.2 1.1m.6-.7l-.6 .7l.9 .2M104 716.2l.2 2.3m-.4-.6l.4 .6l.3-.6M104 713.4l-.8 2.2m-.1-.7l.1 .7l.5-.4M104 710.5l3.3 1.3m-.9 .2l.9-.2l-.6-.7M104 707.6l.2 2.9m-.5-.7l.5 .7l.4-.8M104 704.8l-1.4 2.2m0-.8l0 .8l.7-.3M104 702l-.3 2.7m-.3-.7l.3 .7l.5-.6M104 699.1l.3 2.9m-.5-.7l.5 .7l.4-.8M104 696.2l-1.8 2.6m.1-.9l-.1 .9l.8-.4M104 693.4l-2.7 2.1m.3-.8l-.3 .8l.9-.1M104 690.5l0 2.4m-.4-.6l.4 .6l.4-.6M104 687.7l1.3-2.3m0 .8l0-.8l-.7 .4M104 684.9l-.3 2.6m-.3-.7l.3 .7l.5-.6M104 682l-2.7 1.9m.4-.8l-.4 .8l.9-.1M104 679.1l-.6 2.4m-.2-.7l.2 .7l.5-.5M104 676.3l.3 2.3m-.4-.5l.4 .5l.3-.6M104 673.5l-2.8 .5m.6-.6l-.6 .6l.8 .3M104 670.6l-1.6 2.3m.1-.8l-.1 .8l.8-.3M104 667.8l.1 2.5m-.4-.6l.4 .6l.4-.6M104 664.9l-2.1 1.8m.3-.8l-.3 .8l.8-.1M104 662l-2.7 1.4m.5-.8l-.5 .8l.9 .1M104 659.2l-2.4 2.2m.3-.9l-.3 .9l.9-.2M104 656.4l-1-2.6m.7 .5l-.7-.5l-.2 .8M104 653.5l-1.7 2.4m.1-.9l-.1 .9l.8-.3M104 650.6l.1 2.5m-.4-.6l.4 .6l.4-.7M104 647.8l2.6-1.2m-.5 .7l.5-.7l-.9-.1M107.6 830.2l-1 2.6m-.2-.8l.2 .8l.6-.5M107.6 827.4l-1.5 2.2m0-.8l0 .8l.7-.3M107.6 824.5l.1 2.4m-.4-.6l.4 .6l.3-.6M107.6 821.6l-2.1 2.1m.2-.8l-.2 .8l.8-.2M107.6 818.8l3-1m-.6 .7l.6-.7l-.9-.2M107.6 816l-.5 3.8m-.4-.8l.4 .8l.6-.7M107.6 813.1l-1.3 2.3m0-.8l0 .8l.7-.4M107.6 810.2l.2 3.9m-.5-.7l.5 .7l.4-.8M107.6 807.4l-.5 2.7m-.3-.8l.3 .8l.6-.6M107.6 804.5l-.7 2.7m-.2-.8l.2 .8l.6-.6M107.6 801.7l-3.6 .8m.7-.6l-.7 .6l.9 .3M107.6 798.9l-.4 2.7m-.3-.8l.3 .8l.5-.6M107.6 796l-.1 2.8m-.4-.7l.4 .7l.5-.7M107.6 793.1l-1.8 2.3m.1-.9l-.1 .9l.8-.3M107.6 790.3l-2.5 1.1m.5-.7l-.5 .7l.8 .1M107.6 787.5l-2.3 2.1m.3-.9l-.3 .9l.9-.2M107.6 784.6l-1.9 1.7m.2-.7l-.2 .7l.7-.1M107.6 781.8l0 3.5m-.5-.8l.5 .8l.5-.8M107.6 778.9l-2.4 2.1m.3-.9l-.3 .9l.9-.2M107.6 776l-1.9 2.3m.1-.9l-.1 .9l.8-.3M107.6 773.2l-2.9 .5m.7-.6l-.7 .6l.8 .3M107.6 770.4l-.2 2.7m-.4-.7l.4 .7l.5-.7M107.6 767.5l-2.6 1.9m.3-.8l-.3 .8l.9-.1M107.6 764.6l.3 2.6m-.5-.6l.5 .6l.3-.7M107.6 761.8l.1 3m-.5-.8l.5 .8l.4-.8M107.6 759l-.9 2.3m-.1-.7l.1 .7l.6-.4M107.6 756.1l-2.8 1.7m.4-.8l-.4 .8l.9 0M107.6 753.2l-.8 3.4m-.3-.9l.3 .9l.6-.6M107.6 750.4l-3 .1m.7-.5l-.7 .5l.8 .4M107.6 747.5l-1.2 2.3m-.1-.8l.1 .8l.7-.4M107.6 744.7l.2 2.8m-.5-.7l.5 .7l.4-.8M107.6 741.9l-.5 2.4m-.2-.7l.2 .7l.5-.5M107.6 739l2.9 .7m-.9 .3l.9-.3l-.6-.6M107.6 736.1l-2.8 .5m.7-.6l-.7 .6l.8 .3M107.6 733.3l-1.7 1.9m.2-.8l-.2 .8l.7-.2M107.6 730.5l-2.9 .8m.6-.7l-.6 .7l.9 .2M107.6 727.6l0 2.7m-.4-.7l.4 .7l.4-.7M107.6 724.8l.9 2.9m-.7-.6l.7 .6l.2-.9M107.6 721.9l-.9 2.3m-.1-.7l.1 .7l.6-.5M107.6 719l-2.9 .4m.7-.6l-.7 .6l.8 .3M107.6 716.2l-2.3 2m.3-.9l-.3 .9l.9-.2M107.6 713.4l-2.1 2.3m.2-.9l-.2 .9l.9-.3M107.6 710.5l.2 2.3m-.4-.6l.4 .6l.3-.6M107.6 707.6l.2 3.4m-.5-.7l.5 .7l.4-.8M107.6 704.8l-1.8 2.4m.1-.9l-.1 .9l.8-.3M107.6 702l-2 1.6m.3-.7l-.3 .7l.8-.1M107.6 699.1l0 3m-.4-.8l.4 .8l.5-.8M107.6 696.2l-2.6 1.3m.5-.7l-.5 .7l.9 .1M107.6 693.4l-3.1-1.2m.9-.1l-.9 .1l.5 .7M107.6 690.5l-2.3 1.9m.3-.8l-.3 .8l.9-.1M107.6 687.7l-2.7 1.3m.5-.7l-.5 .7l.9 .1M107.6 684.9l-.1 2.7m-.4-.7l.4 .7l.4-.7M107.6 682l-.2 2.9m-.4-.8l.4 .8l.5-.7M107.6 679.1l-1.5 2.4m0-.9l0 .9l.8-.4M107.6 676.3l-.8 3.8m-.3-.9l.3 .9l.6-.7M107.6 673.5l-3.1 .3m.7-.5l-.7 .5l.8 .4M107.6 670.6l-.2 2.9m-.4-.8l.4 .8l.5-.7M107.6 667.8l-3.2-.4m.8-.4l-.8 .4l.7 .6M107.6 664.9l.7 3.9m-.6-.7l.6 .7l.3-.8M107.6 662l-.3 2.9m-.4-.8l.4 .8l.5-.7M107.6 659.2l-.1 2.9m-.4-.8l.4 .8l.5-.7M107.6 656.4l-3.6 .2m.7-.5l-.7 .5l.8 .4M107.6 653.5l-3.3-.9m.9-.2l-.9 .2l.6 .7M107.6 650.6l-2.2 2.3m.2-.9l-.2 .9l.9-.2M107.6 647.8l.1 2.6m-.4-.6l.4 .6l.4-.7M111.2 830.2l3.3 .6m-.8 .3l.8-.3l-.7-.6M111.2 827.4l-.6 2.6m-.2-.8l.2 .8l.6-.6M111.2 824.5l-2 2.4m.1-.9l-.1 .9l.8-.3M111.2 821.6l-.4 2.6m-.3-.7l.3 .7l.5-.6M111.2 818.8l-1.1 2.3m-.1-.8l.1 .8l.7-.4M111.2 816l-1.8 2.1m.2-.8l-.2 .8l.8-.2M111.2 813.1l-2.3 1.5m.4-.8l-.4 .8l.8 0M111.2 810.2l-3.2 3.5m.2-.9l-.2 .9l.9-.2M111.2 807.4l.9 3.4m-.6-.6l.6 .6l.3-.9M111.2 804.5l3.5-.8m-.6 .6l.6-.6l-.9-.3M111.2 801.7l.1 2.3m-.4-.6l.4 .6l.3-.6M111.2 798.9l-.8-2.2m.5 .5l-.5-.5l-.1 .7M111.2 796l2.2-2.3m-.2 .9l.2-.9l-.9 .2M111.2 793.1l-.4 2.4m-.3-.7l.3 .7l.5-.5M111.2 790.3l-2.6 1.4m.4-.8l-.4 .8l.9 0M111.2 787.5l-2.5 1.3m.5-.7l-.5 .7l.8 .1M111.2 784.6l-.4 2.9m-.3-.8l.3 .8l.6-.7M111.2 781.8l-1.8 2.4m.1-.9l-.1 .9l.8-.3M111.2 778.9l-.4 2.6m-.3-.7l.3 .7l.5-.6M111.2 776l-.8 2.7m-.2-.8l.2 .8l.6-.6M111.2 773.2l-1.8 2.1m.1-.8l-.1 .8l.8-.3M111.2 770.4l-2.9 0m.8-.5l-.8 .5l.8 .5M111.2 767.5l1.8 2.1m-.8-.3l.8 .3l-.1-.8M111.2 764.6l-3.7-.1m.8-.5l-.8 .5l.8 .5M111.2 761.8l1.9 2.1m-.8-.2l.8 .2l-.2-.8M111.2 759l-2.1 1.8m.3-.8l-.3 .8l.8-.1M111.2 756.1l.8 2.7m-.6-.6l.6 .6l.2-.8M111.2 753.2l-1.9 2.5m.1-.9l-.1 .9l.8-.3M111.2 750.4l-.1 2.6m-.4-.7l.4 .7l.4-.7M111.2 747.5l-.9 2.2m-.1-.7l.1 .7l.6-.4M111.2 744.7l-.2 2.7m-.4-.7l.4 .7l.5-.7M111.2 741.9l-.1 2.8m-.4-.7l.4 .7l.5-.7M111.2 739l-.7-2.9m.6 .6l-.6-.6l-.3 .9M111.2 736.1l.2 2.4m-.4-.6l.4 .6l.3-.6M111.2 733.3l-.2 2.6m-.4-.7l.4 .7l.5-.7M111.2 730.5l-2.3 1.7m.3-.8l-.3 .8l.8-.1M111.2 727.6l-.2 2.3m-.3-.6l.3 .6l.4-.6M111.2 724.8l-3.3 .3m.7-.5l-.7 .5l.8 .4M111.2 721.9l-1.2 2.1m0-.7l0 .7l.6-.4M111.2 719l-3.3 1.3m.5-.7l-.5 .7l.9 .1M111.2 716.2l.5 2.9m-.6-.7l.6 .7l.3-.8M111.2 713.4l-.3 2.6m-.3-.7l.3 .7l.5-.6M111.2 710.5l1.8 1.8m-.7-.2l.7 .2l-.2-.7M111.2 707.6l-1.7 2m.1-.8l-.1 .8l.7-.3M111.2 704.8l.4 3.4m-.6-.7l.6 .7l.4-.8M111.2 702l-.8 2.2m-.1-.7l.1 .7l.6-.4M111.2 699.1l-2.5 2m.3-.8l-.3 .8l.9-.1M111.2 696.2l-1.7 2m.1-.8l-.1 .8l.7-.2M111.2 693.4l-2.2 2.1m.2-.9l-.2 .9l.9-.2M111.2 690.5l-2 2.2m.2-.9l-.2 .9l.9-.3M111.2 687.7l-.5 2.6m-.3-.7l.3 .7l.5-.6M111.2 684.9l.1 2.6m-.4-.6l.4 .6l.4-.7M111.2 682l-3.6 1m.6-.6l-.6 .6l.9 .2M111.2 679.1l.2 2.4m-.4-.6l.4 .6l.3-.7M111.2 676.3l-1.6 2.3m0-.8l0 .8l.8-.3M111.2 673.5l-4.2 2.5m.4-.8l-.4 .8l.9 0M111.2 670.6l-1.3 2.3m0-.8l0 .8l.7-.4M111.2 667.8l-3.5 .8m.7-.6l-.7 .6l.9 .3M111.2 664.9l0 2.4m-.4-.6l.4 .6l.4-.6M111.2 662l.2 2.7m-.5-.6l.5 .6l.4-.7M111.2 659.2l-1.5 2.4m0-.9l0 .9l.8-.4M111.2 656.4l-.2 2.7m-.4-.7l.4 .7l.5-.7M111.2 653.5l.1 2.7m-.4-.7l.4 .7l.4-.7M111.2 650.6l2.8-.9m-.6 .7l.6-.7l-.9-.2M111.2 647.8l-.1 2.5m-.4-.6l.4 .6l.4-.6M114.9 830.2l-1.9 2m.2-.8l-.2 .8l.8-.2M114.9 827.4l-3.1 1.7m.5-.8l-.5 .8l.9 0M114.9 824.5l.1 2.7m-.5-.7l.5 .7l.4-.7M114.9 821.6l-1.2 2.1m0-.7l0 .7l.6-.3M114.9 818.8l.2 3.9m-.5-.7l.5 .7l.4-.8M114.9 816l-.4 2.5m-.3-.7l.3 .7l.5-.6M114.9 813.1l-2.3 1.4m.4-.7l-.4 .7l.8 0M114.9 810.2l-.2 2.8m-.4-.8l.4 .8l.5-.7M114.9 807.4l4.1 1.4m-.9 .2l.9-.2l-.6-.7M114.9 804.5l-1.8 1.9m.2-.8l-.2 .8l.7-.2M114.9 801.7l-1.7 2m.1-.8l-.1 .8l.7-.2M114.9 798.9l-.1 2.4m-.4-.6l.4 .6l.4-.6M114.9 796l-2 2.3m.2-.9l-.2 .9l.9-.3M114.9 793.1l-1.3 2.6m-.1-.9l.1 .9l.7-.5M114.9 790.3l-2.9 1.4m.5-.8l-.5 .8l.9 .1M114.9 787.5l-2.1 2.3m.2-.9l-.2 .9l.9-.2M114.9 784.6l-4.3 2.1m.5-.8l-.5 .8l.9 .1M114.9 781.8l-.5 2.5m-.3-.7l.3 .7l.5-.6M114.9 778.9l-1.9 1.9m.2-.8l-.2 .8l.8-.2M114.9 776l-.3 2.3m-.3-.6l.3 .6l.4-.5M114.9 773.2l-2.1 2.4m.2-.9l-.2 .9l.9-.3M114.9 770.4l-.4 2.6m-.3-.7l.3 .7l.5-.6M114.9 767.5l2.5 1.6m-.9 0l.9 0l-.4-.8M114.9 764.6l-1.7 1.9m.1-.8l-.1 .8l.7-.2M114.9 761.8l-.4 3m-.4-.8l.4 .8l.6-.7M114.9 759l-2.4 1.6m.4-.8l-.4 .8l.9 0M114.9 756.1l-.7 2.2m-.2-.7l.2 .7l.5-.5M114.9 753.2l3.1-.1m-.8 .5l.8-.5l-.8-.4M114.9 750.4l-1.8 2m.1-.8l-.1 .8l.8-.2M114.9 747.5l-.1 2.3m-.3-.6l.3 .6l.4-.6M114.9 744.7l-1.9 2.3m.1-.9l-.1 .9l.8-.3M114.9 741.9l-1.8 1.7m.2-.7l-.2 .7l.7-.2M114.9 739l.5 2.3m-.5-.5l.5 .5l.2-.7M114.9 736.1l-2.1 2.5m.1-.9l-.1 .9l.9-.3M114.9 733.3l.6 3.7m-.6-.7l.6 .7l.3-.8M114.9 730.5l0 2.3m-.4-.6l.4 .6l.4-.6M114.9 727.6l-2.2 1.8m.3-.8l-.3 .8l.8-.1M114.9 724.8l-1.6 2.3m.1-.8l-.1 .8l.8-.3M114.9 721.9l-1.1 2.6m-.1-.8l.1 .8l.7-.5M114.9 719l-3.1 .4m.7-.6l-.7 .6l.8 .4M114.9 716.2l.2 2.3m-.4-.5l.4 .5l.3-.6M114.9 713.4l0 2.4m-.4-.6l.4 .6l.4-.6M114.9 710.5l-2.5 2.1m.3-.9l-.3 .9l.9-.1M114.9 707.6l-.6-2.4m.5 .5l-.5-.5l-.2 .7M114.9 704.8l-.1 2.7m-.4-.7l.4 .7l.4-.7M114.9 702l-.2 2.4m-.3-.6l.3 .6l.4-.6M114.9 699.1l-2.2 2.3m.2-.9l-.2 .9l.9-.2M114.9 696.2l-1.9 2.1m.2-.8l-.2 .8l.8-.2M114.9 693.4l-2.4 2.1m.3-.9l-.3 .9l.9-.1M114.9 690.5l-1.8 2.4m.1-.9l-.1 .9l.8-.3M114.9 687.7l-1.8 2.6m.1-.9l-.1 .9l.8-.4M114.9 684.9l-.2 2.7m-.4-.7l.4 .7l.5-.7M114.9 682l-.5 2.6m-.3-.8l.3 .8l.5-.6M114.9 679.1l-.8 2.4m-.2-.7l.2 .7l.6-.5M114.9 676.3l.2 2.5m-.4-.6l.4 .6l.3-.7M114.9 673.5l-2.7 1.6m.4-.8l-.4 .8l.9 0M114.9 670.6l0 2.8m-.4-.7l.4 .7l.4-.7M114.9 667.8l-.2 2.4m-.3-.7l.3 .7l.4-.6M114.9 664.9l-2.4 2.1m.3-.9l-.3 .9l.9-.2M114.9 662l.1 3m-.5-.7l.5 .7l.4-.8M114.9 659.2l-.2 2.7m-.4-.7l.4 .7l.5-.7M114.9 656.4l-2.5 1.2m.4-.7l-.4 .7l.8 .1M114.9 653.5l-2 1.8m.2-.8l-.2 .8l.8-.1M114.9 650.6l1.6 2m-.7-.3l.7 .3l-.1-.8M114.9 647.8l-.8 2.4m-.2-.7l.2 .7l.6-.5M118.5 830.2l.8 2.8m-.6-.6l.6 .6l.2-.9M118.5 827.4l.2 2.5m-.4-.6l.4 .6l.3-.7M118.5 824.5l.3 2.3m-.4-.5l.4 .5l.3-.6M118.5 821.6l-2.8 1.1m.5-.7l-.5 .7l.9 .2M118.5 818.8l-2.8 .6m.6-.6l-.6 .6l.8 .3M118.5 816l-2.7 3.9m0-.9l0 .9l.8-.4M118.5 813.1l-.8 2.5m-.2-.8l.2 .8l.6-.5M118.5 810.2l-2.6 2m.3-.8l-.3 .8l.9-.1M118.5 807.4l.1 2.4m-.4-.6l.4 .6l.3-.6M118.5 804.5l-2.3 1.4m.4-.7l-.4 .7l.8 0M118.5 801.7l-.1 2.9m-.4-.8l.4 .8l.5-.7M118.5 798.9l-2.3 1.6m.3-.8l-.3 .8l.9-.1M118.5 796l-.2 2.6m-.3-.7l.3 .7l.5-.6M118.5 793.1l-5.1 .6m.7-.6l-.7 .6l.8 .4M118.5 790.3l.3 2.7m-.5-.7l.5 .7l.4-.7M118.5 787.5l-.6 2.7m-.3-.8l.3 .8l.6-.6M118.5 784.6l.3 2.7m-.5-.7l.5 .7l.3-.8M118.5 781.8l-1.3 2.2m0-.8l0 .8l.7-.4M118.5 778.9l-2.9 .4m.7-.5l-.7 .5l.8 .4M118.5 776l-.2 2.4m-.3-.7l.3 .7l.4-.6M118.5 773.2l-.5 2.5m-.3-.7l.3 .7l.5-.6M118.5 770.4l-1.9 2.4m.1-.9l-.1 .9l.8-.3M118.5 767.5l-2 2.3m.2-.9l-.2 .9l.9-.3M118.5 764.6l-2.4 1.3m.4-.7l-.4 .7l.8 .1M118.5 761.8l-1.1 2.4m-.1-.8l.1 .8l.7-.5M118.5 759l.2-2.4m.3 .6l-.3-.6l-.4 .6M118.5 756.1l-3.3 .8m.6-.6l-.6 .6l.9 .3M118.5 753.2l-1.8 1.9m.2-.8l-.2 .8l.8-.2M118.5 750.4l.1 2.6m-.4-.7l.4 .7l.4-.7M118.5 747.5l-.6 2.9m-.3-.8l.3 .8l.6-.7M118.5 744.7l-.2 2.9m-.4-.8l.4 .8l.5-.7M118.5 741.9l-.4 2.5m-.3-.7l.3 .7l.5-.6M118.5 739l-2.7 2.1m.3-.8l-.3 .8l.9-.1M118.5 736.1l-.5 2.6m-.3-.7l.3 .7l.5-.6M118.5 733.3l-2.4 2.1m.3-.9l-.3 .9l.9-.2M118.5 730.5l-3.1 1.2m.6-.7l-.6 .7l.9 .2M118.5 727.6l-1.3 2.7m-.1-.9l.1 .9l.8-.5M118.5 724.8l-1.7 2.5m.1-.9l-.1 .9l.8-.4M118.5 721.9l.3 2.7m-.5-.6l.5 .6l.3-.7M118.5 719l2.4 2.3m-.9-.2l.9 .2l-.2-.9M118.5 716.2l.5 2.9m-.6-.7l.6 .7l.3-.8M118.5 713.4l-2.4 2.1m.3-.9l-.3 .9l.9-.2M118.5 710.5l-2.4 1.9m.3-.8l-.3 .8l.9-.1M118.5 707.6l-.1 3m-.4-.8l.4 .8l.5-.7M118.5 704.8l-2.1 2m.2-.9l-.2 .9l.9-.2M118.5 702l-2.2 3.6m0-.9l0 .9l.8-.4M118.5 699.1l0 2.8m-.4-.7l.4 .7l.5-.7M118.5 696.2l.4 2.9m-.6-.7l.6 .7l.3-.8M118.5 693.4l-2.9 .2m.7-.5l-.7 .5l.8 .4M118.5 690.5l0 2.7m-.4-.7l.4 .7l.4-.7M118.5 687.7l-.7 2.7m-.2-.8l.2 .8l.6-.6M118.5 684.9l-1.9 2.1m.2-.8l-.2 .8l.8-.2M118.5 682l-.9 4.1m-.3-.9l.3 .9l.6-.7M118.5 679.1l-.5 2.8m-.3-.8l.3 .8l.6-.6M118.5 676.3l-.5 2.8m-.3-.8l.3 .8l.6-.7M118.5 673.5l-.1 2.3m-.3-.6l.3 .6l.4-.6M118.5 670.6l.1 2.4m-.4-.6l.4 .6l.3-.6M118.5 667.8l-3.4 1.2m.6-.7l-.6 .7l.9 .2M118.5 664.9l-1.6 2.5m0-.9l0 .9l.8-.4M118.5 662l-2.9 3.6m.1-.9l-.1 .9l.8-.3M118.5 659.2l-.4 2.6m-.3-.7l.3 .7l.5-.6M118.5 656.4l2.1-1.9m-.3 .8l.3-.8l-.8 .2M118.5 653.5l.2 2.3m-.4-.6l.4 .6l.3-.6M118.5 650.6l-1.5 2.7m0-.9l0 .9l.8-.4M118.5 647.8l0 2.5m-.4-.6l.4 .6l.4-.7M122.1 830.2l-2.2 2.2m.2-.9l-.2 .9l.9-.2M122.1 827.4l-3 .6m.7-.6l-.7 .6l.8 .3M122.1 824.5l-.3 2.6m-.3-.7l.3 .7l.5-.6M122.1 821.6l5-1.5m-.6 .7l.6-.7l-.9-.2M122.1 818.8l-2.3 1.8m.3-.8l-.3 .8l.9-.1M122.1 816l-.1 2.9m-.4-.8l.4 .8l.5-.7M122.1 813.1l-1.8 1.9m.2-.8l-.2 .8l.8-.2M122.1 810.2l3.6-.7m-.7 .6l.7-.6l-.8-.3M122.1 807.4l-.5 2.3m-.2-.7l.2 .7l.5-.5M122.1 804.5l-2 2.2m.2-.9l-.2 .9l.8-.3M122.1 801.7l-.1 2.3m-.3-.6l.3 .6l.4-.6M122.1 798.9l-.8 3.4m-.3-.9l.3 .9l.6-.6M122.1 796l-.8 2.9m-.2-.9l.2 .9l.6-.6M122.1 793.1l-.6 2.3m-.2-.7l.2 .7l.5-.5M122.1 790.3l-3.2-1.6m.9-.1l-.9 .1l.5 .8M122.1 787.5l.7 2.7m-.6-.6l.6 .6l.2-.8M122.1 784.6l-.3 2.7m-.3-.7l.3 .7l.5-.6M122.1 781.8l0 3.7m-.5-.8l.5 .8l.5-.8M122.1 778.9l-2.2 2.3m.2-.9l-.2 .9l.9-.2M122.1 776l0 2.7m-.4-.7l.4 .7l.4-.7M122.1 773.2l.1 2.6m-.4-.7l.4 .7l.4-.7M122.1 770.4l-2.1 2.2m.2-.9l-.2 .9l.9-.2M122.1 767.5l.5 2.8m-.6-.6l.6 .6l.3-.8M122.1 764.6l-.3 4.3m-.4-.8l.4 .8l.5-.7M122.1 761.8l.4 2.4m-.5-.6l.5 .6l.3-.7M122.1 759l-2.2 2.2m.2-.9l-.2 .9l.9-.2M122.1 756.1l-1.8 2.6m.1-.9l-.1 .9l.8-.4M122.1 753.2l0 2.4m-.4-.6l.4 .6l.4-.6M122.1 750.4l-.2 2.8m-.4-.7l.4 .7l.5-.7M122.1 747.5l-1.5 2m.1-.8l-.1 .8l.7-.3M122.1 744.7l-1.1 2.3m-.1-.8l.1 .8l.6-.4M122.1 741.9l-1.7 2.1m.1-.8l-.1 .8l.8-.3M122.1 739l-3.1-.1m.8-.4l-.8 .4l.8 .5M122.1 736.1l.6 2.6m-.6-.6l.6 .6l.2-.8M122.1 733.3l-1.9 1.9m.2-.8l-.2 .8l.8-.2M122.1 730.5l-.8 2.4m-.2-.7l.2 .7l.6-.5M122.1 727.6l-.1 2.8m-.4-.7l.4 .7l.4-.7M122.1 724.8l-.4 2.4m-.3-.7l.3 .7l.5-.5M122.1 721.9l.2 2.5m-.4-.6l.4 .6l.3-.7M122.1 719l.1 2.9m-.5-.7l.5 .7l.4-.8M122.1 716.2l-.5 2.9m-.3-.8l.3 .8l.6-.7M122.1 713.4l.2 2.7m-.5-.7l.5 .7l.4-.7M122.1 710.5l-1.2 2.2m-.1-.8l.1 .8l.6-.4M122.1 707.6l-1.8 2.5m.1-.9l-.1 .9l.8-.4M122.1 704.8l-2.3 2.1m.3-.9l-.3 .9l.9-.2M122.1 702l.2 2.5m-.5-.6l.5 .6l.3-.7M122.1 699.1l-3.2-1.3m.9-.1l-.9 .1l.5 .7M122.1 696.2l-.1 2.6m-.4-.7l.4 .7l.4-.7M122.1 693.4l.2 2.6m-.4-.6l.4 .6l.4-.7M122.1 690.5l-2.5 2.1m.3-.9l-.3 .9l.9-.1M122.1 687.7l-1.4 2.3m0-.8l0 .8l.7-.4M122.1 684.9l-1.5 2.2m0-.8l0 .8l.7-.3M122.1 682l-.4 2.4m-.3-.7l.3 .7l.5-.6M122.1 679.1l-.3 2.8m-.3-.8l.3 .8l.5-.7M122.1 676.3l-2.1 1.9m.2-.8l-.2 .8l.8-.2M122.1 673.5l-.8 3.9m-.3-.9l.3 .9l.6-.7M122.1 670.6l-2.3 1.4m.4-.7l-.4 .7l.8 0M122.1 667.8l-.4 3.7m-.4-.8l.4 .8l.5-.7M122.1 664.9l-.6 2.7m-.3-.8l.3 .8l.6-.6M122.1 662l-3.1 0m.8-.5l-.8 .5l.8 .5M122.1 659.2l-.7 2.6m-.2-.8l.2 .8l.6-.6M122.1 656.4l3.5 .6m-.8 .3l.8-.3l-.7-.6M122.1 653.5l-1.3 2.4m0-.8l0 .8l.7-.4M122.1 650.6l-2.6 1.4m.4-.8l-.4 .8l.9 0M122.1 647.8l1.6 2.4m-.8-.4l.8 .4l0-.9M125.7 830.2l-.2 4.1m-.4-.8l.4 .8l.5-.7M125.7 827.4l-1.1 2.3m-.1-.8l.1 .8l.6-.4M125.7 824.5l-3 .1m.8-.5l-.8 .5l.8 .4M125.7 821.6l3.2 0m-.8 .5l.8-.5l-.8-.5M125.7 818.8l-3.1 .3m.7-.5l-.7 .5l.8 .4M125.7 816l-2.1 2.3m.2-.9l-.2 .9l.9-.3M125.7 813.1l3.3 .3m-.8 .4l.8-.4l-.7-.5M125.7 810.2l-3.4 3m.3-.9l-.3 .9l.9-.2M125.7 807.4l-2.4 1.6m.4-.8l-.4 .8l.9 0M125.7 804.5l.3 2.5m-.5-.6l.5 .6l.3-.7M125.7 801.7l-3.2 .2m.7-.5l-.7 .5l.8 .4M125.7 798.9l-1.7 1.8m.2-.7l-.2 .7l.7-.2M125.7 796l.1 3m-.5-.8l.5 .8l.4-.8M125.7 793.1l-2.7 2.1m.3-.8l-.3 .8l.9-.1M125.7 790.3l-1.7 2.4m.1-.9l-.1 .9l.8-.4M125.7 787.5l-2.5 1.7m.4-.8l-.4 .8l.9-.1M125.7 784.6l-3.3 3.1m.3-.9l-.3 .9l.9-.2M125.7 781.8l-.5 2.8m-.3-.8l.3 .8l.6-.6M125.7 778.9l-1.1 2.8m-.2-.9l.2 .9l.7-.6M125.7 776l-.4 2.6m-.3-.7l.3 .7l.5-.6M125.7 773.2l-1.8 3.2m0-.9l0 .9l.8-.5M125.7 770.4l2.6 1.1m-.8 .1l.8-.1l-.5-.7M125.7 767.5l.5 2.9m-.6-.7l.6 .7l.3-.8M125.7 764.6l0 2.5m-.4-.6l.4 .6l.4-.6M125.7 761.8l.6-2.5m.2 .7l-.2-.7l-.5 .6M125.7 759l-.3 2.6m-.3-.7l.3 .7l.5-.6M125.7 756.1l-3.3 .5m.7-.6l-.7 .6l.8 .4M125.7 753.2l.2 2.3m-.4-.6l.4 .6l.3-.6M125.7 750.4l-2.1 1.7m.3-.8l-.3 .8l.8-.1M125.7 747.5l-.1 2.4m-.4-.6l.4 .6l.4-.6M125.7 744.7l-.2 2.7m-.4-.7l.4 .7l.5-.7M125.7 741.9l-.2 2.5m-.3-.7l.3 .7l.4-.6M125.7 739l-1.9-1.9m.8 .2l-.8-.2l.2 .8M125.7 736.1l-.3 2.8m-.4-.8l.4 .8l.5-.7M125.7 733.3l.3 2.5m-.5-.6l.5 .6l.3-.7M125.7 730.5l-1.8 2.4m.1-.9l-.1 .9l.8-.3M125.7 727.6l-1.9 2.5m.1-.9l-.1 .9l.8-.3M125.7 724.8l0 2.6m-.4-.7l.4 .7l.4-.7M125.7 721.9l-2.7 1.5m.4-.8l-.4 .8l.9 0M125.7 719l-.2 2.7m-.4-.7l.4 .7l.5-.7M125.7 716.2l.1 2.5m-.4-.6l.4 .6l.4-.7M125.7 713.4l-3 .5m.7-.6l-.7 .6l.8 .3M125.7 710.5l-.2 2.5m-.3-.7l.3 .7l.4-.6M125.7 707.6l-2.3 1.8m.3-.8l-.3 .8l.9-.1M125.7 704.8l2.6-1.1m-.5 .7l.5-.7l-.8-.1M125.7 702l.1 2.3m-.4-.6l.4 .6l.3-.6M125.7 699.1l-1.7 2.1m.1-.8l-.1 .8l.8-.3M125.7 696.2l-2.1 1.8m.3-.8l-.3 .8l.8-.1M125.7 693.4l-3 1.8m.4-.8l-.4 .8l.9 0M125.7 690.5l-1.9 1.9m.2-.8l-.2 .8l.8-.2M125.7 687.7l-.8-2.3m.5 .5l-.5-.5l-.2 .7M125.7 684.9l-.2 2.7m-.4-.7l.4 .7l.5-.7M125.7 682l-3.5 3.2m.3-.9l-.3 .9l.9-.2M125.7 679.1l-2.5 1.2m.5-.7l-.5 .7l.8 .1M125.7 676.3l.2 2.8m-.5-.7l.5 .7l.4-.7M125.7 673.5l-1.9 1.8m.2-.8l-.2 .8l.8-.2M125.7 670.6l-.4 2.5m-.3-.7l.3 .7l.5-.6M125.7 667.8l-3.7 0m.8-.5l-.8 .5l.8 .5M125.7 664.9l-2.2 2.1m.2-.9l-.2 .9l.9-.2M125.7 662l-.9 2.5m-.1-.8l.1 .8l.6-.5M125.7 659.2l-1.6 2.2m.1-.8l-.1 .8l.7-.3M125.7 656.4l0 2.7m-.4-.7l.4 .7l.4-.7M125.7 653.5l-3.3 .9m.6-.6l-.6 .6l.9 .2M125.7 650.6l-2.5 1.5m.4-.8l-.4 .8l.9 0M125.7 647.8l-.5 2.3m-.2-.7l.2 .7l.5-.5M129.3 830.2l-2.3 1.9m.3-.8l-.3 .8l.9-.1M129.3 827.4l-1.4 2.3m0-.8l0 .8l.7-.4M129.3 824.5l-.7 2.4m-.2-.7l.2 .7l.6-.5M129.3 821.6l.5 2.9m-.6-.7l.6 .7l.3-.8M129.3 818.8l-.3 2.5m-.3-.7l.3 .7l.5-.6M129.3 816l-.1 2.9m-.4-.7l.4 .7l.5-.7M129.3 813.1l-1 2.7m-.2-.8l.2 .8l.7-.5M129.3 810.2l-2 2.5m.1-.9l-.1 .9l.8-.3M129.3 807.4l-.8 2.3m-.2-.7l.2 .7l.6-.5M129.3 804.5l-.1 2.4m-.3-.6l.3 .6l.4-.6M129.3 801.7l-1.2 2.4m-.1-.8l.1 .8l.7-.4M129.3 798.9l-.2 2.6m-.4-.7l.4 .7l.4-.6M129.3 796l-.9 2.6m-.2-.8l.2 .8l.6-.5M129.3 793.1l-2 2.2m.2-.9l-.2 .9l.9-.3M129.3 790.3l-3 .7m.6-.6l-.6 .6l.9 .3M129.3 787.5l-.2 2.6m-.3-.7l.3 .7l.5-.6M129.3 784.6l.2 2.4m-.4-.6l.4 .6l.3-.7M129.3 781.8l.2 2.2m-.4-.5l.4 .5l.3-.6M129.3 778.9l-.1 2.9m-.4-.8l.4 .8l.5-.7M129.3 776l0 2.7m-.4-.7l.4 .7l.4-.7M129.3 773.2l-1 4.4m-.3-.9l.3 .9l.6-.7M129.3 770.4l-.4 2.4m-.3-.7l.3 .7l.5-.5M129.3 767.5l-1.6 2.1m.1-.8l-.1 .8l.7-.3M129.3 764.6l-2.1 1.9m.2-.8l-.2 .8l.8-.2M129.3 761.8l-.4 3.6m-.4-.8l.4 .8l.5-.7M129.3 759l-1.2 2.1m0-.7l0 .7l.6-.4M129.3 756.1l-2.6 1.9m.4-.8l-.4 .8l.9-.1M129.3 753.2l-.9 3.5m-.3-.9l.3 .9l.6-.6M129.3 750.4l-.8 2.6m-.2-.8l.2 .8l.6-.5M129.3 747.5l-2 1.9m.2-.8l-.2 .8l.8-.2M129.3 744.7l-.8 2.7m-.2-.8l.2 .8l.6-.6M129.3 741.9l-2.1 2.4m.2-.9l-.2 .9l.9-.3M129.3 739l-3.1 .8m.6-.6l-.6 .6l.9 .3M129.3 736.1l-.3 2.7m-.3-.7l.3 .7l.5-.6M129.3 733.3l-1.6 1.9m.1-.8l-.1 .8l.7-.2M129.3 730.5l-1.8 2.6m.1-.9l-.1 .9l.8-.4M129.3 727.6l-2.9 .6m.6-.6l-.6 .6l.8 .3M129.3 724.8l.1 3.4m-.5-.8l.5 .8l.4-.8M129.3 721.9l-3.6 .6m.7-.6l-.7 .6l.8 .3M129.3 719l-3.4-.2m.8-.4l-.8 .4l.7 .5M129.3 716.2l-1.2 2.2m0-.8l0 .8l.7-.4M129.3 713.4l-.2 2.9m-.4-.8l.4 .8l.5-.7M129.3 710.5l-.2 2.5m-.3-.7l.3 .7l.4-.6M129.3 707.6l-1.6 2.1m.1-.8l-.1 .8l.7-.3M129.3 704.8l-2.5 2m.3-.8l-.3 .8l.9-.1M129.3 702l-1.1 2.4m-.1-.8l.1 .8l.7-.4M129.3 699.1l-3 .7m.7-.6l-.7 .6l.9 .3M129.3 696.2l-1 2.3m-.1-.7l.1 .7l.6-.4M129.3 693.4l-.6 2.5m-.2-.7l.2 .7l.5-.6M129.3 690.5l-1.6 1.9m.1-.7l-.1 .7l.7-.2M129.3 687.7l-1.9 2m.2-.8l-.2 .8l.8-.2M129.3 684.9l-2 2.1m.2-.8l-.2 .8l.8-.2M129.3 682l-.4 2.6m-.3-.7l.3 .7l.5-.6M129.3 679.1l-3.5 1.1m.6-.7l-.6 .7l.9 .2M129.3 676.3l-1.5-4.2m.7 .6l-.7-.6l-.2 .9M129.3 673.5l0 2.5m-.4-.6l.4 .6l.4-.6M129.3 670.6l-.1 2.8m-.4-.7l.4 .7l.5-.7M129.3 667.8l-.2 2.8m-.4-.8l.4 .8l.5-.7M129.3 664.9l.5 2.8m-.6-.6l.6 .6l.3-.8M129.3 662l-.4 2.8m-.3-.8l.3 .8l.5-.7M129.3 659.2l-2.4 1.4m.4-.7l-.4 .7l.8 0M129.3 656.4l-.2 3.9m-.4-.8l.4 .8l.5-.8M129.3 653.5l-2.7 2.1m.3-.8l-.3 .8l.9-.1M129.3 650.6l-1.4 2.1m0-.8l0 .8l.7-.3M129.3 647.8l-2 1.6m.3-.7l-.3 .7l.8-.1M132.9 830.2l-.3 3m-.4-.8l.4 .8l.5-.7M132.9 827.4l-1.2 2.2m0-.7l0 .7l.6-.4M132.9 824.5l-1.9 1.8m.2-.8l-.2 .8l.8-.2M132.9 821.6l-3.4 .2m.7-.5l-.7 .5l.8 .4M132.9 818.8l-.4 2.5m-.3-.7l.3 .7l.5-.6M132.9 816l-3 .1m.7-.5l-.7 .5l.8 .4M132.9 813.1l-.2 2.4m-.3-.7l.3 .7l.4-.6M132.9 810.2l.3 2.6m-.5-.6l.5 .6l.3-.7M132.9 807.4l-.2 2.5m-.3-.7l.3 .7l.4-.6M132.9 804.5l-3.9 3.1m.3-.8l-.3 .8l.9-.1M132.9 801.7l-2.4 1.4m.4-.7l-.4 .7l.8 0M132.9 798.9l-3.2 .6m.7-.6l-.7 .6l.8 .3M132.9 796l-.2 2.7m-.4-.7l.4 .7l.5-.7M132.9 793.1l-1.9 2.4m.1-.9l-.1 .9l.8-.3M132.9 790.3l-2.6 1.6m.4-.8l-.4 .8l.9 0M132.9 787.5l3 .4m-.8 .4l.8-.4l-.7-.6M132.9 784.6l-3.4-.1m.8-.4l-.8 .4l.8 .5M132.9 781.8l.3 2.6m-.5-.6l.5 .6l.3-.7M132.9 778.9l-2.5 1.7m.4-.8l-.4 .8l.9-.1M132.9 776l-1.1 2.7m-.1-.9l.1 .9l.7-.5M132.9 773.2l-.9 2.8m-.2-.9l.2 .9l.7-.6M132.9 770.4l.6 2.3m-.5-.5l.5 .5l.2-.7M132.9 767.5l-3.1 1.5m.5-.8l-.5 .8l.9 .1M132.9 764.6l-.5 2.6m-.3-.7l.3 .7l.5-.6M132.9 761.8l-1.5 2.2m0-.8l0 .8l.7-.3M132.9 759l-1 2.6m-.1-.8l.1 .8l.7-.5M132.9 756.1l-.5 2.7m-.3-.8l.3 .8l.5-.6M132.9 753.2l-.7 2.3m-.2-.7l.2 .7l.5-.5M132.9 750.4l-3.4 .5m.7-.6l-.7 .6l.8 .4M132.9 747.5l-5.3-.3m.8-.4l-.8 .4l.7 .5M132.9 744.7l-1 2.8m-.2-.9l.2 .9l.7-.6M132.9 741.9l-.6 2.9m-.3-.8l.3 .8l.6-.7M132.9 739l1.3 2.4m-.7-.4l.7 .4l0-.8M132.9 736.1l.2 2.4m-.4-.6l.4 .6l.3-.6M132.9 733.3l-2.1 1.9m.3-.8l-.3 .8l.8-.2M132.9 730.5l-3.1 .6m.7-.6l-.7 .6l.8 .3M132.9 727.6l2 1.7m-.8-.1l.8 .1l-.3-.7M132.9 724.8l-2.6 1.8m.4-.8l-.4 .8l.9-.1M132.9 721.9l.1 2.5m-.4-.6l.4 .6l.4-.6M132.9 719l-1.8 2.6m.1-.9l-.1 .9l.8-.4M132.9 716.2l-1.9 1.9m.2-.8l-.2 .8l.8-.2M132.9 713.4l-1.3 2.8m-.1-.9l.1 .9l.7-.5M132.9 710.5l-2.2 2m.3-.9l-.3 .9l.9-.2M132.9 707.6l-1.4 2.7m-.1-.9l.1 .9l.8-.5M132.9 704.8l-2.9 .4m.7-.5l-.7 .5l.8 .4M132.9 702l.1 3m-.5-.7l.5 .7l.4-.8M132.9 699.1l-1.2 2.6m-.1-.8l.1 .8l.7-.5M132.9 696.2l-3.2 3.1m.2-.9l-.2 .9l.9-.2M132.9 693.4l-1.9 1.8m.2-.8l-.2 .8l.8-.2M132.9 690.5l-1.3 2.6m-.1-.9l.1 .9l.7-.5M132.9 687.7l.3 3.5m-.5-.7l.5 .7l.4-.8M132.9 684.9l-.4 2.2m-.3-.6l.3 .6l.4-.5M132.9 682l-.4 2.4m-.3-.7l.3 .7l.5-.6M132.9 679.1l-.2 2.8m-.4-.7l.4 .7l.5-.7M132.9 676.3l-3.1 .7m.6-.6l-.6 .6l.9 .3M132.9 673.5l.5 2.4m-.5-.5l.5 .5l.2-.7M132.9 670.6l0 2.8m-.4-.7l.4 .7l.4-.7M132.9 667.8l2.9 .7m-.9 .3l.9-.3l-.6-.6M132.9 664.9l2.3-2.2m-.2 .9l.2-.9l-.9 .2M132.9 662l-.4 2.7m-.3-.8l.3 .8l.5-.6M132.9 659.2l.6 2.8m-.6-.6l.6 .6l.3-.8M132.9 656.4l-1.1 2.7m-.1-.9l.1 .9l.7-.5M132.9 653.5l-2.6 1.2m.5-.7l-.5 .7l.9 .1M132.9 650.6l-1.7 2m.1-.8l-.1 .8l.8-.3M132.9 647.8l-2.4 2.3m.2-.9l-.2 .9l.9-.2M136.6 830.2l-1.5 2m.1-.7l-.1 .7l.7-.3M136.6 827.4l.5 2.6m-.5-.6l.5 .6l.3-.8M136.6 824.5l-2.3 1.7m.3-.8l-.3 .8l.9-.1M136.6 821.6l-1.4 2.1m0-.8l0 .8l.7-.3M136.6 818.8l-2.2 2.4m.2-.9l-.2 .9l.9-.3M136.6 816l-.5 2.6m-.3-.8l.3 .8l.5-.6M136.6 813.1l-3.5 .7m.7-.6l-.7 .6l.8 .3M136.6 810.2l-.3 2.6m-.3-.7l.3 .7l.5-.6M136.6 807.4l-3.7 2.4m.4-.8l-.4 .8l.9 0M136.6 804.5l-1.5 2.7m0-.9l0 .9l.8-.4M136.6 801.7l-.3 2.6m-.3-.7l.3 .7l.5-.6M136.6 798.9l-2.9-1.8m.9 0l-.9 0l.4 .8M136.6 796l-3.1 .8m.6-.6l-.6 .6l.9 .3M136.6 793.1l-2.7 1.5m.5-.8l-.5 .8l.9 0M136.6 790.3l-1.9 2.3m.1-.9l-.1 .9l.8-.3M136.6 787.5l-2.3 2.1m.3-.9l-.3 .9l.9-.2M136.6 784.6l-1.5 2.2m0-.8l0 .8l.7-.3M136.6 781.8l-2.8 .2m.7-.5l-.7 .5l.8 .4M136.6 778.9l-1.4 2.3m0-.8l0 .8l.7-.4M136.6 776l-.2 2.5m-.3-.7l.3 .7l.4-.6M136.6 773.2l-2 1.7m.2-.7l-.2 .7l.8-.1M136.6 770.4l-2 2m.2-.8l-.2 .8l.8-.2M136.6 767.5l-.2 2.7m-.4-.7l.4 .7l.5-.7M136.6 764.6l.6-2.9m.3 .8l-.3-.8l-.6 .7M136.6 761.8l-2.4 1.3m.4-.7l-.4 .7l.8 .1M136.6 759l-1.1 2.3m-.1-.8l.1 .8l.7-.4M136.6 756.1l-2.4 3.3m.1-.9l-.1 .9l.8-.4M136.6 753.2l-1.9 2.1m.2-.8l-.2 .8l.8-.3M136.6 750.4l-1.8 2.6m.1-.9l-.1 .9l.8-.4M136.6 747.5l-3.3 1.2m.6-.7l-.6 .7l.9 .2M136.6 744.7l-2.2 1.7m.3-.8l-.3 .8l.8-.1M136.6 741.9l-2.3 2.3m.2-.9l-.2 .9l.9-.2M136.6 739l-.3 2.7m-.3-.7l.3 .7l.5-.6M136.6 736.1l-3.4 2.9m.3-.9l-.3 .9l.9-.2M136.6 733.3l-.5 2.7m-.3-.8l.3 .8l.5-.6M136.6 730.5l-.6 2.9m-.3-.8l.3 .8l.6-.6M136.6 727.6l-.8 2.9m-.2-.9l.2 .9l.6-.6M136.6 724.8l-.3 2.4m-.3-.7l.3 .7l.5-.6M136.6 721.9l-.4 2.5m-.3-.7l.3 .7l.5-.6M136.6 719l-.3 2.6m-.3-.7l.3 .7l.5-.6M136.6 716.2l-.5 2.8m-.3-.8l.3 .8l.6-.7M136.6 713.4l.3 2.4m-.4-.6l.4 .6l.3-.7M136.6 710.5l-2.9-.5m.8-.3l-.8 .3l.7 .6M136.6 707.6l-1 2.5m-.1-.8l.1 .8l.6-.5M136.6 704.8l-2.3 2.1m.3-.9l-.3 .9l.9-.2M136.6 702l-1.9 1.8m.2-.8l-.2 .8l.8-.2M136.6 699.1l.6 3.9m-.6-.7l.6 .7l.3-.8M136.6 696.2l-.2 2.3m-.3-.6l.3 .6l.4-.6M136.6 693.4l1-3.9m.3 .9l-.3-.9l-.6 .6M136.6 690.5l1.6 1.9m-.7-.2l.7 .2l-.1-.7M136.6 687.7l-1.6 2.1m.1-.8l-.1 .8l.7-.3M136.6 684.9l-1.8 1.8m.2-.7l-.2 .7l.7-.2M136.6 682l.2 2.8m-.5-.7l.5 .7l.4-.7M136.6 679.1l-3.7 2m.5-.8l-.5 .8l.9 0M136.6 676.3l-.2 2.9m-.4-.8l.4 .8l.5-.7M136.6 673.5l-2.9 .8m.6-.7l-.6 .7l.9 .2M136.6 670.6l3.4 .7m-.8 .3l.8-.3l-.7-.6M136.6 667.8l-2.8 .6m.6-.6l-.6 .6l.8 .3M136.6 664.9l-.2 2.4m-.3-.6l.3 .6l.4-.6M136.6 662l-1.7 2.5m0-.9l0 .9l.8-.4M136.6 659.2l-4.7 .7m.7-.6l-.7 .6l.8 .3M136.6 656.4l-.7 3.4m-.3-.8l.3 .8l.6-.7M136.6 653.5l-1.4 2.2m0-.8l0 .8l.7-.4M136.6 650.6l.1 2.5m-.4-.6l.4 .6l.4-.6M136.6 647.8l-2.4 1.7m.4-.8l-.4 .8l.9-.1M140.2 830.2l-.7 2.7m-.2-.8l.2 .8l.6-.6M140.2 827.4l-1 2.5m-.1-.8l.1 .8l.6-.5M140.2 824.5l-1.6 2.6m0-.9l0 .9l.8-.4M140.2 821.6l2.3 2.3m-.9-.2l.9 .2l-.2-.9M140.2 818.8l.1 2.7m-.4-.7l.4 .7l.4-.7M140.2 816l-.4-2.5m.5 .6l-.5-.6l-.3 .7M140.2 813.1l-5.4 1.2m.7-.6l-.7 .6l.9 .3M140.2 810.2l-.3 2.4m-.3-.7l.3 .7l.4-.6M140.2 807.4l-2 2m.2-.8l-.2 .8l.8-.2M140.2 804.5l-2 2.4m.1-.9l-.1 .9l.8-.3M140.2 801.7l-2.3 1.9m.3-.8l-.3 .8l.9-.1M140.2 798.9l-1.2 2.1m0-.7l0 .7l.6-.4M140.2 796l0 2.9m-.4-.8l.4 .8l.5-.7M140.2 793.1l-.9 2.9m-.2-.9l.2 .9l.7-.6M140.2 790.3l-.4 3m-.3-.8l.3 .8l.6-.7M140.2 787.5l-.1 2.9m-.4-.8l.4 .8l.5-.7M140.2 784.6l-.1 2.8m-.4-.7l.4 .7l.5-.7M140.2 781.8l-.9 2.5m-.2-.8l.2 .8l.6-.5M140.2 778.9l-.4 2.6m-.3-.7l.3 .7l.5-.6M140.2 776l.7 3.9m-.6-.7l.6 .7l.3-.8M140.2 773.2l.1 2.5m-.4-.6l.4 .6l.4-.7M140.2 770.4l.1 2.9m-.5-.7l.5 .7l.4-.8M140.2 767.5l0 2.9m-.4-.8l.4 .8l.5-.7M140.2 764.6l-.2 3m-.4-.8l.4 .8l.5-.7M140.2 761.8l-3.7 .1m.8-.5l-.8 .5l.8 .4M140.2 759l-2.3 3.6m0-.9l0 .9l.8-.4M140.2 756.1l-2.1 2.4m.2-.9l-.2 .9l.9-.3M140.2 753.2l3.9 2.5m-.9 0l.9 0l-.4-.8M140.2 750.4l-2.9 .8m.6-.7l-.6 .7l.9 .2M140.2 747.5l-1.6 3.7m-.1-.9l.1 .9l.7-.5M140.2 744.7l0 2.6m-.4-.7l.4 .7l.4-.7M140.2 741.9l-2.2 2m.2-.9l-.2 .9l.9-.2M140.2 739l-.8 2.9m-.2-.9l.2 .9l.6-.6M140.2 736.1l-.3 2.8m-.4-.8l.4 .8l.5-.7M140.2 733.3l.3 2.9m-.5-.7l.5 .7l.4-.8M140.2 730.5l-.7 2.4m-.2-.7l.2 .7l.5-.5M140.2 727.6l-1.9 2.3m.1-.9l-.1 .9l.8-.3M140.2 724.8l-3.7-.1m.8-.4l-.8 .4l.8 .5M140.2 721.9l-.8 4.1m-.3-.8l.3 .8l.6-.7M140.2 719l-.5 2.2m-.2-.7l.2 .7l.5-.5M140.2 716.2l-3.1-1.6m.9-.1l-.9 .1l.5 .8M140.2 713.4l-3.3 .8m.6-.6l-.6 .6l.9 .3M140.2 710.5l-1.6 2.3m.1-.8l-.1 .8l.8-.3M140.2 707.6l-3 .2m.7-.5l-.7 .5l.8 .4M140.2 704.8l-.3 2.3m-.3-.6l.3 .6l.4-.5M140.2 702l-1.2 2.4m-.1-.8l.1 .8l.7-.4M140.2 699.1l-.5 2.6m-.3-.7l.3 .7l.5-.6M140.2 696.2l-.2-2.3m.4 .6l-.4-.6l-.3 .6M140.2 693.4l-1.4 3.5m-.1-.9l.1 .9l.7-.5M140.2 690.5l-2.9 .5m.7-.6l-.7 .6l.8 .3M140.2 687.7l.6 2.6m-.6-.6l.6 .6l.3-.8M140.2 684.9l-1.7 1.9m.1-.8l-.1 .8l.7-.2M140.2 682l-.2 4.4m-.4-.8l.4 .8l.5-.8M140.2 679.1l-1.6 2.2m.1-.8l-.1 .8l.7-.3M140.2 676.3l.2 2.3m-.4-.6l.4 .6l.3-.6M140.2 673.5l-.3 2.7m-.3-.7l.3 .7l.5-.6M140.2 670.6l.8 2.2m-.5-.5l.5 .5l.2-.7M140.2 667.8l-1 2.1m-.1-.7l.1 .7l.6-.4M140.2 664.9l-1.8 2.5m.1-.9l-.1 .9l.8-.3M140.2 662l-3.4-.2m.8-.4l-.8 .4l.7 .5M140.2 659.2l-1.5 2.6m0-.9l0 .9l.8-.4M140.2 656.4l-2.3 2.2m.2-.9l-.2 .9l.9-.2M140.2 653.5l-.5 2.9m-.3-.8l.3 .8l.6-.7M140.2 650.6l-2.8 3.9m.1-.9l-.1 .9l.8-.3M140.2 647.8l-.3 2.7m-.3-.7l.3 .7l.5-.6M143.8 830.2l-3.6 2.8m.3-.8l-.3 .8l.9-.1M143.8 827.4l-3-.7m.9-.3l-.9 .3l.6 .6M143.8 824.5l.1 2.3m-.4-.6l.4 .6l.3-.6M143.8 821.6l-2.3 2.1m.3-.9l-.3 .9l.9-.2M143.8 818.8l-1.9 3.3m0-.9l0 .9l.8-.4M143.8 816l-2.7 1.3m.5-.7l-.5 .7l.9 .1M143.8 813.1l-2.2 1.9m.3-.8l-.3 .8l.9-.1M143.8 810.2l3.7-.3m-.7 .5l.7-.5l-.8-.4M143.8 807.4l-.5 2.3m-.2-.7l.2 .7l.5-.5M143.8 804.5l-1.3 2.6m-.1-.9l.1 .9l.7-.5M143.8 801.7l-3.7 .2m.7-.5l-.7 .5l.8 .4M143.8 798.9l-2.3 2.3m.2-.9l-.2 .9l.9-.2M143.8 796l-1.7 2.4m.1-.9l-.1 .9l.8-.3M143.8 793.1l-.1 2.6m-.4-.7l.4 .7l.4-.7M143.8 790.3l-3.4 .8m.6-.6l-.6 .6l.9 .3M143.8 787.5l-.1 2.9m-.4-.8l.4 .8l.5-.7M143.8 784.6l-.7 2.2m-.2-.7l.2 .7l.5-.5M143.8 781.8l-.7 2.6m-.2-.8l.2 .8l.6-.6M143.8 778.9l3.2-.5m-.7 .6l.7-.6l-.8-.3M143.8 776l-2 1.7m.3-.7l-.3 .7l.8-.1M143.8 773.2l-1.7 2.6m0-.9l0 .9l.8-.4M143.8 770.4l2.9 1.2m-.9 .1l.9-.1l-.5-.7M143.8 767.5l-.1 3m-.4-.8l.4 .8l.5-.8M143.8 764.6l-2.5 2.2m.3-.9l-.3 .9l.9-.2M143.8 761.8l-2.9 .9m.6-.7l-.6 .7l.9 .2M143.8 759l-2.3-2.2m.9 .2l-.9-.2l.2 .9M143.8 756.1l-3.3 .9m.6-.7l-.6 .7l.9 .2M143.8 753.2l-.3 2.9m-.4-.8l.4 .8l.5-.7M143.8 750.4l-.1 2.5m-.4-.7l.4 .7l.4-.6M143.8 747.5l-2.4 1.9m.3-.8l-.3 .8l.9-.1M143.8 744.7l.2 2.9m-.5-.7l.5 .7l.4-.8M143.8 741.9l-.1 2.8m-.4-.7l.4 .7l.5-.7M143.8 739l-.8 2.9m-.3-.9l.3 .9l.6-.6M143.8 736.1l2.2 1.8m-.8-.1l.8 .1l-.3-.8M143.8 733.3l-.9 2.4m-.1-.8l.1 .8l.6-.5M143.8 730.5l-1.4 2m0-.7l0 .7l.7-.3M143.8 727.6l-2.9 1.6m.5-.8l-.5 .8l.9 0M143.8 724.8l-2.5 2.2m.3-.9l-.3 .9l.9-.1M143.8 721.9l-2.7 .8m.6-.6l-.6 .6l.8 .2M143.8 719l.2 2.7m-.5-.7l.5 .7l.4-.7M143.8 716.2l3.2 1.2m-.9 .2l.9-.2l-.6-.7M143.8 713.4l1.5 2m-.7-.3l.7 .3l-.1-.7M143.8 710.5l-2.3 2.1m.3-.9l-.3 .9l.9-.2M143.8 707.6l-1.2 2.7m-.1-.9l.1 .9l.7-.5M143.8 704.8l.4 2.6m-.5-.6l.5 .6l.3-.7M143.8 702l-2.7 1.6m.4-.8l-.4 .8l.9 0M143.8 699.1l-3.1 1.5m.5-.7l-.5 .7l.9 .1M143.8 696.2l-.4 2.6m-.3-.7l.3 .7l.5-.6M143.8 693.4l-.7 2.7m-.2-.8l.2 .8l.6-.6M143.8 690.5l-.2 2.4m-.3-.6l.3 .6l.4-.6M143.8 687.7l-.3 2.7m-.4-.7l.4 .7l.5-.7M143.8 684.9l-2.5 1.7m.4-.8l-.4 .8l.9-.1M143.8 682l-1.8-1.8m.7 .2l-.7-.2l.2 .7M143.8 679.1l-3.4 .9m.6-.6l-.6 .6l.9 .2M143.8 676.3l-.1 2.2m-.3-.6l.3 .6l.4-.6M143.8 673.5l-1.7 2.6m0-.9l0 .9l.8-.4M143.8 670.6l-3.6 3.2m.3-.9l-.3 .9l.9-.2M143.8 667.8l-5 .4m.7-.5l-.7 .5l.8 .4M143.8 664.9l-2.4 1.9m.3-.8l-.3 .8l.9-.1M143.8 662l-.8 2.4m-.2-.7l.2 .7l.6-.5M143.8 659.2l-.1 2.4m-.4-.6l.4 .6l.4-.6M143.8 656.4l-1.6 2.1m.1-.8l-.1 .8l.7-.3M143.8 653.5l-1.9 2.1m.2-.8l-.2 .8l.8-.3M143.8 650.6l-1.9 2.1m.2-.8l-.2 .8l.8-.3M143.8 647.8l-2 1.8m.2-.8l-.2 .8l.8-.1M147.4 830.2l.1 4m-.5-.8l.5 .8l.4-.8M147.4 827.4l-3.4 2.7m.3-.8l-.3 .8l.9-.1M147.4 824.5l.7 2.6m-.6-.6l.6 .6l.2-.8M147.4 821.6l-2.8 .6m.6-.6l-.6 .6l.8 .3M147.4 818.8l-1.9 2.2m.1-.9l-.1 .9l.8-.3M147.4 816l-.1 2.7m-.4-.7l.4 .7l.4-.7M147.4 813.1l-1.7 2.1m.1-.8l-.1 .8l.8-.3M147.4 810.2l-.1 2.8m-.4-.7l.4 .7l.5-.7M147.4 807.4l-.3 2.7m-.4-.7l.4 .7l.5-.7M147.4 804.5l-2.7 2m.3-.8l-.3 .8l.9-.1M147.4 801.7l-1.5 2.1m.1-.8l-.1 .8l.7-.3M147.4 798.9l2.7 1.6m-.9 0l.9 0l-.4-.8M147.4 796l.2 2.3m-.4-.5l.4 .5l.3-.6M147.4 793.1l.1 2.3m-.4-.6l.4 .6l.3-.6M147.4 790.3l-3.4 .7m.7-.6l-.7 .6l.8 .3M147.4 787.5l-1.9 2.3m.1-.9l-.1 .9l.8-.3M147.4 784.6l-.5 2.2m-.2-.6l.2 .6l.5-.5M147.4 781.8l-2 1.6m.2-.7l-.2 .7l.8-.1M147.4 778.9l-3.7 3.4m.2-.9l-.2 .9l.9-.2M147.4 776l-.6 2.7m-.3-.8l.3 .8l.6-.6M147.4 773.2l-2.4 1.8m.3-.8l-.3 .8l.9-.1M147.4 770.4l.4 2.4m-.5-.6l.5 .6l.3-.7M147.4 767.5l0 3.5m-.5-.8l.5 .8l.5-.8M147.4 764.6l-.1 2.8m-.4-.7l.4 .7l.5-.7M147.4 761.8l-.2 2.7m-.4-.7l.4 .7l.5-.6M147.4 759l-2.5 2.2m.3-.9l-.3 .9l.9-.1M147.4 756.1l-2.3 2.4m.2-.9l-.2 .9l.9-.2M147.4 753.2l0 2.7m-.4-.7l.4 .7l.4-.7M147.4 750.4l-.5 2.9m-.3-.8l.3 .8l.6-.7M147.4 747.5l.1 2.8m-.5-.7l.5 .7l.4-.7M147.4 744.7l-3.3-.6m.8-.3l-.8 .3l.7 .6M147.4 741.9l-2.8 1.2m.5-.7l-.5 .7l.9 .1M147.4 739l-2.8 .9m.6-.7l-.6 .7l.9 .2M147.4 736.1l-3.6 .9m.6-.6l-.6 .6l.9 .3M147.4 733.3l-.2 2.6m-.3-.7l.3 .7l.4-.6M147.4 730.5l-.6 2.7m-.3-.8l.3 .8l.6-.6M147.4 727.6l-.4 2.6m-.3-.7l.3 .7l.5-.6M147.4 724.8l.6 2.3m-.5-.5l.5 .5l.2-.7M147.4 721.9l-4.2 .8m.7-.6l-.7 .6l.8 .3M147.4 719l.7 3.9m-.6-.7l.6 .7l.3-.8M147.4 716.2l-.1 2.8m-.4-.7l.4 .7l.5-.7M147.4 713.4l.3 2.4m-.5-.6l.5 .6l.3-.7M147.4 710.5l2-2.5m-.1 .9l.1-.9l-.8 .3M147.4 707.6l2-1.9m-.2 .8l.2-.8l-.8 .2M147.4 704.8l-.3 2.4m-.3-.7l.3 .7l.4-.6M147.4 702l-1.6 2.4m0-.9l0 .9l.8-.4M147.4 699.1l-1.6 2.2m.1-.8l-.1 .8l.7-.3M147.4 696.2l-1.6 2.2m.1-.8l-.1 .8l.8-.3M147.4 693.4l-2.1 2.2m.2-.9l-.2 .9l.9-.2M147.4 690.5l-.7 2.8m-.3-.8l.3 .8l.6-.6M147.4 687.7l-.8 2.6m-.2-.8l.2 .8l.6-.5M147.4 684.9l-2.8 2m.4-.8l-.4 .8l.9-.1M147.4 682l3.5 .9m-.9 .3l.9-.3l-.6-.6M147.4 679.1l-2.2 2.2m.2-.9l-.2 .9l.9-.2M147.4 676.3l-2.5 1.4m.4-.7l-.4 .7l.9 0M147.4 673.5l-3.4 1m.6-.7l-.6 .7l.9 .2M147.4 670.6l-1.9 1.9m.2-.8l-.2 .8l.8-.2M147.4 667.8l-3 .1m.8-.5l-.8 .5l.8 .4M147.4 664.9l-.2 2.5m-.3-.7l.3 .7l.4-.6M147.4 662l-4.6 .8m.7-.6l-.7 .6l.8 .3M147.4 659.2l-1.5 2.2m.1-.8l-.1 .8l.7-.3M147.4 656.4l-1.3 2.7m-.1-.9l.1 .9l.8-.5M147.4 653.5l0 2.4m-.4-.6l.4 .6l.4-.6M147.4 650.6l.3 2.6m-.5-.6l.5 .6l.3-.7M147.4 647.8l.3 2.2m-.4-.5l.4 .5l.3-.6M151 830.2l3 1.6m-.9 .1l.9-.1l-.5-.8M151 827.4l-.7 2.6m-.2-.8l.2 .8l.6-.6M151 824.5l0 2.7m-.4-.7l.4 .7l.4-.7M151 821.6l.1 2.5m-.4-.6l.4 .6l.4-.7M151 818.8l-1.3 2.6m-.1-.9l.1 .9l.7-.5M151 816l0 2.3m-.4-.6l.4 .6l.4-.6M151 813.1l-.2 2.8m-.4-.8l.4 .8l.5-.7M151 810.2l-.3 2.3m-.3-.6l.3 .6l.4-.5M151 807.4l-1.6 2m.1-.7l-.1 .7l.7-.3M151 804.5l-3.2-.1m.8-.4l-.8 .4l.8 .5M151 801.7l-2.9 .9m.6-.7l-.6 .7l.9 .2M151 798.9l1.3 2.5m-.7-.4l.7 .4l0-.9M151 796l-3-1.7m.9 0l-.9 0l.4 .8M151 793.1l-.5 3.7m-.4-.8l.4 .8l.6-.7M151 790.3l.2 2.3m-.4-.6l.4 .6l.3-.6M151 787.5l-.5 2.3m-.2-.7l.2 .7l.5-.5M151 784.6l-2.1 2.4m.2-.9l-.2 .9l.9-.3M151 781.8l.7 2.9m-.6-.6l.6 .6l.3-.8M151 778.9l-1.9 2.5m.1-.9l-.1 .9l.8-.3M151 776l-2 1.8m.2-.8l-.2 .8l.8-.2M151 773.2l-.6 2.9m-.3-.8l.3 .8l.6-.7M151 770.4l-2.2 1.6m.3-.7l-.3 .7l.8-.1M151 767.5l.2 2.4m-.4-.6l.4 .6l.3-.7M151 764.6l-3.5 1.1m.6-.7l-.6 .7l.9 .2M151 761.8l.1 2.9m-.5-.7l.5 .7l.4-.8M151 759l-.5 2.3m-.2-.7l.2 .7l.5-.5M151 756.1l-.1 2.3m-.3-.6l.3 .6l.4-.6M151 753.2l0 2.7m-.4-.7l.4 .7l.4-.7M151 750.4l-3.2 0m.8-.5l-.8 .5l.8 .5M151 747.5l-1.6 2.7m0-.9l0 .9l.8-.4M151 744.7l-.8 1.1m0-.4l0 .4l.4-.2M151 741.9l-1.8 1.1m.3-.6l-.3 .6l.6 0M151 739l-1.1 1.2m.1-.5l-.1 .5l.5-.1M151 736.1l0 1.2m-.2-.3l.2 .3l.2-.3M151 733.3l.2 1.3m-.2-.3l.2 .3l.2-.4M151 730.5l-1.1 .9m.2-.4l-.2 .4l.4 0M151 727.6l.4 2.3m-.5-.5l.5 .5l.3-.7M151 724.8l-.3 2.9m-.4-.8l.4 .8l.5-.7M151 721.9l-.6 2.6m-.2-.8l.2 .8l.6-.6M151 719l-.4 2.7m-.3-.8l.3 .8l.5-.6M151 716.2l.2 2.7m-.5-.7l.5 .7l.4-.7M151 713.4l2.9 1.8m-.9 0l.9 0l-.4-.8M151 710.5l-2.6 2.1m.3-.8l-.3 .8l.9-.1M151 707.6l.1 2.6m-.4-.7l.4 .7l.4-.7M151 704.8l-2.2 1.7m.3-.8l-.3 .8l.8-.1M151 702l.4 2.5m-.5-.6l.5 .6l.3-.7M151 699.1l-.3 2.8m-.3-.8l.3 .8l.5-.7M151 696.2l-.6 2.8m-.3-.8l.3 .8l.6-.6M151 693.4l-5 .3m.7-.5l-.7 .5l.8 .4M151 690.5l-2.3 1.9m.3-.8l-.3 .8l.9-.1M151 687.7l-.1 3m-.4-.8l.4 .8l.5-.8M151 684.9l-3 .2m.7-.5l-.7 .5l.8 .4M151 682l-.4 2.6m-.3-.7l.3 .7l.5-.6M151 679.1l-3.7 3m.3-.8l-.3 .8l.9-.1M151 676.3l-3.6 2.2m.4-.8l-.4 .8l.9 0M151 673.5l-2.8 1.9m.4-.8l-.4 .8l.9-.1M151 670.6l1.4-2.4m0 .8l0-.8l-.7 .4M151 667.8l-1.2 2.3m-.1-.8l.1 .8l.7-.4M151 664.9l-1 2.7m-.2-.9l.2 .9l.7-.5M151 662l-2 1.8m.2-.8l-.2 .8l.8-.2M151 659.2l-1.2 2.5m-.1-.8l.1 .8l.7-.5M151 656.4l-1.4 2.1m0-.8l0 .8l.7-.3M151 653.5l3.3 .2m-.8 .4l.8-.4l-.7-.5M151 650.6l-1.8 2.6m.1-.9l-.1 .9l.8-.4M151 647.8l0 4.2m-.5-.8l.5 .8l.5-.8M154.6 830.2l-2.2-1.9m.9 .2l-.9-.2l.3 .8M154.6 827.4l-1 2.4m-.1-.8l.1 .8l.6-.5M154.6 824.5l-.1 2.5m-.4-.7l.4 .7l.4-.6M154.6 821.6l-2 2.5m.1-.9l-.1 .9l.8-.3M154.6 818.8l-2.7 1.4m.5-.8l-.5 .8l.9 .1M154.6 816l-2.4 2.1m.3-.9l-.3 .9l.9-.2M154.6 813.1l-.4 2.8m-.3-.8l.3 .8l.5-.7M154.6 810.2l-2.4 2.1m.3-.9l-.3 .9l.9-.2M154.6 807.4l-.5 2.8m-.3-.8l.3 .8l.6-.6M154.6 804.5l-1.6 3.9m-.1-.9l.1 .9l.7-.5M154.6 801.7l-2 2.4m.1-.9l-.1 .9l.9-.3M154.6 798.9l-2.6 2m.3-.8l-.3 .8l.9-.1M154.6 796l-3 .9m.6-.7l-.6 .7l.9 .2M154.6 793.1l-2.7 1m.5-.7l-.5 .7l.8 .2M154.6 790.3l-1.7 2m.1-.8l-.1 .8l.7-.3M154.6 787.5l0 2.7m-.4-.7l.4 .7l.4-.7M154.6 784.6l-2.1 2.1m.2-.9l-.2 .9l.9-.2M154.6 781.8l-2.5-1.9m.9 .1l-.9-.1l.3 .8M154.6 778.9l-1.8 1.8m.2-.7l-.2 .7l.7-.2M154.6 776l-1.6 2.1m.1-.8l-.1 .8l.7-.3M154.6 773.2l0 2.6m-.4-.7l.4 .7l.4-.7M154.6 770.4l-2 2.5m.1-.9l-.1 .9l.8-.3M154.6 767.5l.1 2.4m-.4-.6l.4 .6l.3-.6M154.6 764.6l.6 2.6m-.5-.6l.5 .6l.3-.8M154.6 761.8l-.8 4m-.3-.8l.3 .8l.6-.7M154.6 759l-1.6 2.5m0-.9l0 .9l.8-.4M154.6 756.1l-3-.1m.8-.4l-.8 .4l.8 .5M154.6 753.2l2.8-.6m-.6 .6l.6-.6l-.8-.3M154.6 750.4l-.2 1.3m-.1-.4l.1 .4l.3-.3M154.6 747.5l-.9 1.3m0-.5l0 .5l.4-.2M154.6 744.7l-.9 .9m.1-.4l-.1 .4l.4-.1M154.6 741.9l-.1 .1M154.6 739l-.1 .1M154.6 736.1l-.1 .2M154.6 733.3l0 .2M154.6 730.5l-.2 1.4m-.2-.4l.2 .4l.3-.3M154.6 727.6l-1 1m.1-.4l-.1 .4l.4-.1M154.6 724.8l-.9 1.1m.1-.4l-.1 .4l.4-.2M154.6 721.9l.3 3m-.5-.7l.5 .7l.4-.8M154.6 719l2.1-2.4m-.2 .9l.2-.9l-.9 .3M154.6 716.2l-.4 2.9m-.3-.8l.3 .8l.6-.7M154.6 713.4l3.5 .1m-.8 .5l.8-.5l-.8-.5M154.6 710.5l-1.4 2.3m0-.8l0 .8l.7-.4M154.6 707.6l-2.8 3.2m.2-.9l-.2 .9l.9-.3M154.6 704.8l-.2 2.8m-.4-.7l.4 .7l.5-.7M154.6 702l-1.2 2.1m0-.7l0 .7l.6-.4M154.6 699.1l-.5 2.3m-.2-.7l.2 .7l.5-.5M154.6 696.2l-2 2.1m.2-.8l-.2 .8l.8-.2M154.6 693.4l-.2 2.7m-.4-.7l.4 .7l.5-.7M154.6 690.5l-3-.6m.9-.3l-.9 .3l.7 .6M154.6 687.7l1.7-2.6m0 .9l0-.9l-.8 .4M154.6 684.9l-.3 2.5m-.3-.7l.3 .7l.5-.6M154.6 682l-1.2 2.2m0-.8l0 .8l.7-.4M154.6 679.1l-1.2 2.5m-.1-.8l.1 .8l.7-.5M154.6 676.3l-4.6 .1m.8-.5l-.8 .5l.8 .4M154.6 673.5l-.4 2.4m-.3-.7l.3 .7l.5-.6M154.6 670.6l.5 3.4m-.6-.7l.6 .7l.3-.8M154.6 667.8l-.1 2.3m-.3-.6l.3 .6l.4-.6M154.6 664.9l.1 2.8m-.5-.7l.5 .7l.4-.7M154.6 662l-1.9 1.8m.2-.8l-.2 .8l.8-.2M154.6 659.2l-.2 2.8m-.4-.8l.4 .8l.5-.7M154.6 656.4l0 3m-.5-.8l.5 .8l.5-.8M154.6 653.5l-1.8 1.9m.2-.8l-.2 .8l.8-.2M154.6 650.6l-2.9 2m.4-.8l-.4 .8l.9-.1M154.6 647.8l-3.2 .5m.7-.6l-.7 .6l.8 .3M158.3 830.2l-.3 2.5m-.3-.7l.3 .7l.5-.6M158.3 827.4l-2 1.9m.2-.8l-.2 .8l.8-.2M158.3 824.5l-3.6 .3m.7-.5l-.7 .5l.8 .4M158.3 821.6l-2.2 1.8m.3-.8l-.3 .8l.9-.1M158.3 818.8l.2 2.9m-.5-.7l.5 .7l.4-.8M158.3 816l1 3.4m-.7-.6l.7 .6l.2-.9M158.3 813.1l-.1 2.7m-.4-.7l.4 .7l.4-.7M158.3 810.2l-2.8 1.5m.5-.8l-.5 .8l.9 0M158.3 807.4l-2 1.8m.2-.8l-.2 .8l.8-.2M158.3 804.5l-3.4 1.1m.6-.7l-.6 .7l.9 .2M158.3 801.7l-2.4 4m0-.9l0 .9l.8-.4M158.3 798.9l-1.9 2.3m.1-.9l-.1 .9l.9-.3M158.3 796l3-1.2m-.5 .7l.5-.7l-.9-.1M158.3 793.1l-2.8 .8m.6-.6l-.6 .6l.8 .2M158.3 790.3l-3.1 .1m.8-.5l-.8 .5l.8 .4M158.3 787.5l.4 2.9m-.6-.7l.6 .7l.4-.8M158.3 784.6l-.5 2.3m-.2-.7l.2 .7l.5-.5M158.3 781.8l.1 2.4m-.4-.6l.4 .6l.4-.6M158.3 778.9l-.2 3m-.4-.8l.4 .8l.5-.7M158.3 776l-3.2 .8m.6-.6l-.6 .6l.9 .3M158.3 773.2l2.4-1.3m-.4 .7l.4-.7l-.8 0M158.3 770.4l-3.4 3.5m.2-.9l-.2 .9l.9-.2M158.3 767.5l-.3 2.4m-.3-.7l.3 .7l.4-.6M158.3 764.6l1.1 2.6m-.7-.5l.7 .5l.1-.8M158.3 761.8l-2.9 .3m.7-.5l-.7 .5l.8 .4M158.3 759l-1.2 2.2m0-.7l0 .7l.6-.4M158.3 756.1l-.1 2.4m-.3-.6l.3 .6l.4-.6M158.3 753.2l0 1.2m-.2-.3l.2 .3l.2-.3M158.3 750.4l-1.1 1.1m.1-.5l-.1 .5l.5-.1M158.3 747.5l-.1 .2M158.3 744.7l0 .2M158.3 741.9l0 .2M158.3 739l0 .2M158.3 736.1l.2 0M158.3 733.3l-.2 .1M158.3 730.5l0 .2M158.3 727.6l-.1 .1M158.3 724.8l-1 1.3m.1-.5l-.1 .5l.5-.2M158.3 721.9l-1.3 1.1m.2-.5l-.2 .5l.5-.1M158.3 719l0 2.5m-.4-.7l.4 .7l.4-.7M158.3 716.2l-2.3 1.8m.3-.8l-.3 .8l.9-.1M158.3 713.4l-2.1 2m.2-.8l-.2 .8l.9-.2M158.3 710.5l.1 2.6m-.4-.7l.4 .7l.4-.7M158.3 707.6l-.1 2.6m-.4-.7l.4 .7l.4-.7M158.3 704.8l-.3 2.3m-.3-.6l.3 .6l.4-.5M158.3 702l-2.3 2m.3-.9l-.3 .9l.9-.2M158.3 699.1l-.4 2.8m-.3-.8l.3 .8l.5-.7M158.3 696.2l-.8 2.6m-.2-.8l.2 .8l.6-.6M158.3 693.4l-2.8 1.5m.5-.8l-.5 .8l.9 0M158.3 690.5l-1.4 2.5m0-.9l0 .9l.8-.4M158.3 687.7l-.2 2.9m-.4-.8l.4 .8l.5-.7M158.3 684.9l-1.6 2m.1-.8l-.1 .8l.7-.3M158.3 682l-1.6 2.2m.1-.8l-.1 .8l.7-.3M158.3 679.1l-.2 2.4m-.3-.6l.3 .6l.4-.6M158.3 676.3l-.8 2.5m-.2-.8l.2 .8l.6-.5M158.3 673.5l-.5 2.4m-.2-.7l.2 .7l.5-.5M158.3 670.6l-1.4 2.5m0-.8l0 .8l.7-.4M158.3 667.8l.5 2.6m-.5-.6l.5 .6l.3-.8M158.3 664.9l-.6 2.3m-.2-.7l.2 .7l.5-.5M158.3 662l-.4 2.3m-.3-.7l.3 .7l.5-.5M158.3 659.2l.6 2.5m-.5-.6l.5 .6l.2-.7M158.3 656.4l.3 3m-.5-.7l.5 .7l.4-.8M158.3 653.5l.2 2.9m-.5-.7l.5 .7l.4-.8M158.3 650.6l-3.4 .7m.7-.6l-.7 .6l.8 .3M158.3 647.8l-.1 2.7m-.4-.7l.4 .7l.4-.7M161.9 830.2l.6 2.7m-.6-.6l.6 .6l.3-.8M161.9 827.4l-3.2-.1m.8-.4l-.8 .4l.8 .5M161.9 824.5l-.9 2.8m-.2-.9l.2 .9l.7-.6M161.9 821.6l-2.5 1.5m.4-.8l-.4 .8l.9 0M161.9 818.8l-3.6 .6m.7-.6l-.7 .6l.8 .3M161.9 816l.2 2.2m-.4-.5l.4 .5l.3-.6M161.9 813.1l-.2 2.5m-.3-.7l.3 .7l.4-.6M161.9 810.2l-3 .5m.7-.6l-.7 .6l.8 .3M161.9 807.4l-.5 2.4m-.2-.7l.2 .7l.5-.5M161.9 804.5l.2 2.8m-.5-.7l.5 .7l.4-.7M161.9 801.7l-2.1 1.6m.3-.7l-.3 .7l.8-.1M161.9 798.9l-.6 2.3m-.2-.7l.2 .7l.5-.5M161.9 796l-.4 2.4m-.3-.7l.3 .7l.5-.6M161.9 793.1l.4 2.6m-.5-.6l.5 .6l.3-.7M161.9 790.3l-.1 2.5m-.4-.6l.4 .6l.4-.6M161.9 787.5l.1 2.5m-.4-.6l.4 .6l.4-.7M161.9 784.6l-.3 2.3m-.3-.6l.3 .6l.4-.5M161.9 781.8l-.2 2.3m-.3-.6l.3 .6l.4-.6M161.9 778.9l-.8 2.9m-.2-.9l.2 .9l.6-.6M161.9 776l-2.1 1.8m.3-.8l-.3 .8l.8-.1M161.9 773.2l-1.5 2.1m.1-.8l-.1 .8l.7-.3M161.9 770.4l0 2.5m-.4-.6l.4 .6l.4-.6M161.9 767.5l-3.4 .8m.6-.6l-.6 .6l.9 .3M161.9 764.6l-3 .5m.7-.6l-.7 .6l.8 .3M161.9 761.8l-2.1 2.3m.2-.9l-.2 .9l.9-.3M161.9 759l-2.4 2.1m.3-.9l-.3 .9l.9-.2M161.9 756.1l0 1.2m-.2-.3l.2 .3l.2-.3M161.9 753.2l0 1.3m-.2-.3l.2 .3l.2-.3M161.9 750.4l-.2 0M161.9 747.5l-.2 .1M161.9 744.7l-.1 .1M161.9 741.9l-.1 .1M161.9 739l0 .2M161.9 736.1l-.2 .1M161.9 733.3l0 .2M161.9 730.5l-.1 .2M161.9 727.6l-.2 .1M161.9 724.8l-.2 .1M161.9 721.9l-.9 1m.1-.4l-.1 .4l.4-.1M161.9 719l-.1 1.1m-.1-.3l.1 .3l.2-.3M161.9 716.2l0-2.9m.4 .8l-.4-.8l-.5 .7M161.9 713.4l-1.2 2.3m0-.8l0 .8l.7-.4M161.9 710.5l-2.7 1.2m.5-.7l-.5 .7l.9 .1M161.9 707.6l-3.4 .4m.7-.5l-.7 .5l.8 .4M161.9 704.8l.2 2.8m-.5-.7l.5 .7l.4-.7M161.9 702l-1.8 2.3m.1-.9l-.1 .9l.8-.3M161.9 699.1l-.3 2.8m-.4-.8l.4 .8l.5-.7M161.9 696.2l-1 2.8m-.2-.9l.2 .9l.7-.6M161.9 693.4l-.1 2.5m-.4-.7l.4 .7l.4-.6M161.9 690.5l-3.4-.2m.8-.4l-.8 .4l.7 .5M161.9 687.7l2.1 2.2m-.9-.2l.9 .2l-.2-.9M161.9 684.9l-2.7 3.6m.1-.9l-.1 .9l.8-.3M161.9 682l-.6 2.2m-.2-.7l.2 .7l.5-.5M161.9 679.1l-2.5 1.9m.3-.8l-.3 .8l.9-.1M161.9 676.3l.1 2.3m-.4-.6l.4 .6l.3-.6M161.9 673.5l-1.6 2.4m0-.9l0 .9l.8-.4M161.9 670.6l-3.4 0m.8-.5l-.8 .5l.8 .5M161.9 667.8l-2.1 2.3m.2-.9l-.2 .9l.9-.3M161.9 664.9l-1 2.3m-.1-.7l.1 .7l.6-.4M161.9 662l-3 1.7m.4-.8l-.4 .8l.9 0M161.9 659.2l-1.6 2.3m.1-.9l-.1 .9l.8-.3M161.9 656.4l-1.8 2m.2-.8l-.2 .8l.8-.2M161.9 653.5l-1.1 2.8m-.2-.9l.2 .9l.7-.6M161.9 650.6l-2.5 2.1m.3-.9l-.3 .9l.9-.1M161.9 647.8l-1.7-2.3m.8 .3l-.8-.3l.1 .9M165.5 830.2l.1 2.5m-.4-.6l.4 .6l.4-.7M165.5 827.4l-3.1 .8m.6-.6l-.6 .6l.9 .3M165.5 824.5l0 4.5m-.5-.8l.5 .8l.5-.8M165.5 821.6l-1.3 2.4m0-.8l0 .8l.7-.4M165.5 818.8l-.3 2.3m-.3-.6l.3 .6l.4-.5M165.5 816l-.4 3m-.3-.8l.3 .8l.6-.7M165.5 813.1l-2.2 2.4m.2-.9l-.2 .9l.9-.3M165.5 810.2l-2.4 2.3m.2-.9l-.2 .9l.9-.2M165.5 807.4l-3.4 1m.6-.7l-.6 .7l.9 .2M165.5 804.5l-2.2 1.5m.3-.7l-.3 .7l.8 0M165.5 801.7l-3.6-.2m.8-.4l-.8 .4l.7 .5M165.5 798.9l-.7 2.5m-.2-.8l.2 .8l.6-.5M165.5 796l.9 2.2m-.6-.4l.6 .4l.1-.7M165.5 793.1l-.2 2.4m-.3-.6l.3 .6l.4-.6M165.5 790.3l.2 3.6m-.5-.7l.5 .7l.4-.8M165.5 787.5l3.1 .7m-.9 .3l.9-.3l-.6-.6M165.5 784.6l-.3 2.7m-.3-.7l.3 .7l.5-.6M165.5 781.8l-1.5 2.1m0-.8l0 .8l.7-.3M165.5 778.9l-2.2 1.7m.3-.8l-.3 .8l.8-.1M165.5 776l-2 2.2m.2-.9l-.2 .9l.9-.3M165.5 773.2l.1 3.4m-.5-.8l.5 .8l.4-.8M165.5 770.4l-.7 2.6m-.2-.8l.2 .8l.6-.5M165.5 767.5l.7 2.6m-.6-.6l.6 .6l.2-.8M165.5 764.6l-3.2 1.6m.5-.8l-.5 .8l.9 .1M165.5 761.8l.2 2.5m-.4-.6l.4 .6l.3-.7M165.5 759l1.5 .3m-.4 .1l.4-.1l-.3-.3M165.5 756.1l-.2 1.4m-.2-.4l.2 .4l.3-.3M165.5 753.2l-.1 .2M165.5 750.4l0 .2M165.5 747.5l0 .2M165.5 744.7l0 .2M165.5 741.9l-.2-.1M165.5 739l0 .2M165.5 736.1l0 .2M165.5 733.3l0 .2M165.5 730.5l-.1 .2M165.5 727.6l0 .2M165.5 724.8l.2-.1M165.5 721.9l-.1 .2M165.5 719l-.8 1.1m0-.4l0 .4l.4-.2M165.5 716.2l-.7 1.4m0-.5l0 .5l.4-.3M165.5 713.4l-.9 2.3m-.1-.7l.1 .7l.6-.5M165.5 710.5l-2 2.1m.2-.8l-.2 .8l.8-.2M165.5 707.6l-3.4 2.7m.3-.8l-.3 .8l.9-.1M165.5 704.8l-4.8 .4m.7-.5l-.7 .5l.8 .4M165.5 702l-2.6 1.7m.4-.8l-.4 .8l.9 0M165.5 699.1l-2.6 2m.3-.8l-.3 .8l.9-.1M165.5 696.2l-.1 2.9m-.4-.8l.4 .8l.5-.7M165.5 693.4l-.1 2.8m-.4-.7l.4 .7l.5-.7M165.5 690.5l-1 2.5m-.1-.8l.1 .8l.7-.5M165.5 687.7l-2.1 1.7m.3-.8l-.3 .8l.8-.1M165.5 684.9l.5 2.9m-.6-.7l.6 .7l.3-.8M165.5 682l-2 2.4m.1-.9l-.1 .9l.8-.3M165.5 679.1l-.3 2.3m-.3-.6l.3 .6l.4-.5M165.5 676.3l-.9 2.7m-.2-.8l.2 .8l.7-.5M165.5 673.5l-.4 2.8m-.3-.8l.3 .8l.5-.7M165.5 670.6l-.4 4.1m-.4-.8l.4 .8l.5-.7M165.5 667.8l-4.9 .2m.8-.5l-.8 .5l.8 .4M165.5 664.9l2.9-1.7m-.4 .8l.4-.8l-.9 0M165.5 662l-2.1 2m.2-.8l-.2 .8l.9-.2M165.5 659.2l-3.6 .6m.7-.6l-.7 .6l.8 .3M165.5 656.4l-2.4 1.9m.3-.8l-.3 .8l.9-.1M165.5 653.5l-2.4 1.7m.3-.8l-.3 .8l.9-.1M165.5 650.6l1.5-2m-.1 .7l.1-.7l-.7 .3M165.5 647.8l-2.4 1.7m.3-.8l-.3 .8l.9-.1M169.1 830.2l-.3 2.6m-.3-.7l.3 .7l.5-.6M169.1 827.4l-.8 3.7m-.3-.9l.3 .9l.6-.6M169.1 824.5l-.8 2.3m-.1-.7l.1 .7l.6-.5M169.1 821.6l-3.4 .5m.7-.6l-.7 .6l.8 .4M169.1 818.8l.1 2.9m-.5-.7l.5 .7l.4-.8M169.1 816l-3.6-.1m.8-.4l-.8 .4l.8 .5M169.1 813.1l-3.5 2.4m.4-.8l-.4 .8l.9 0M169.1 810.2l5.5-.9m-.7 .6l.7-.6l-.8-.3M169.1 807.4l-.5 2.8m-.3-.8l.3 .8l.6-.7M169.1 804.5l-.5 2.4m-.3-.7l.3 .7l.5-.5M169.1 801.7l-.2 2.3m-.3-.6l.3 .6l.4-.6M169.1 798.9l-.3 2.8m-.4-.8l.4 .8l.5-.7M169.1 796l-2.6 1.9m.3-.8l-.3 .8l.9-.1M169.1 793.1l-1.5 2.2m0-.8l0 .8l.7-.3M169.1 790.3l-.4 2.6m-.3-.7l.3 .7l.5-.6M169.1 787.5l-1.6 2.4m0-.9l0 .9l.8-.4M169.1 784.6l0 2.7m-.4-.7l.4 .7l.4-.7M169.1 781.8l-.5 2.9m-.3-.8l.3 .8l.6-.7M169.1 778.9l.3 3m-.5-.7l.5 .7l.4-.8M169.1 776l-1.9 1.9m.2-.8l-.2 .8l.8-.2M169.1 773.2l-2.5 1.9m.3-.8l-.3 .8l.9-.1M169.1 770.4l-.5 3m-.3-.8l.3 .8l.6-.7M169.1 767.5l-.3 2.7m-.3-.7l.3 .7l.5-.6M169.1 764.6l-.2 2.4m-.3-.7l.3 .7l.4-.6M169.1 761.8l.3 2.5m-.5-.6l.5 .6l.3-.7M169.1 759l.1 1.1m-.2-.3l.2 .3l.2-.3M169.1 756.1l-.1 .2M169.1 753.2l0 .2M169.1 750.4l-.2 .1M169.1 747.5l-.2 0M169.1 744.7l0 .2M169.1 741.9l0 .2M169.1 739l0 .2M169.1 736.1l-.1 .2M169.1 733.3l-.2 .1M169.1 730.5l0 .2M169.1 727.6l0 .2M169.1 724.8l0 .2M169.1 716.2l-.8 1.2m0-.4l0 .4l.4-.2M169.1 713.4l.2 2.8m-.5-.7l.5 .7l.4-.7M169.1 710.5l-.7 2.8m-.2-.8l.2 .8l.6-.6M169.1 707.6l-.3 2.3m-.3-.6l.3 .6l.4-.5M169.1 704.8l-1.2 2.1m0-.7l0 .7l.6-.3M169.1 702l.1 2.3m-.4-.6l.4 .6l.3-.6M169.1 699.1l-.6 2.2m-.2-.7l.2 .7l.5-.5M169.1 696.2l-3 .4m.7-.6l-.7 .6l.8 .4M169.1 693.4l-2.8 1.9m.4-.8l-.4 .8l.9 0M169.1 690.5l-3 1.4m.5-.8l-.5 .8l.9 .1M169.1 687.7l.3 2.4m-.4-.6l.4 .6l.3-.7M169.1 684.9l-2.2 1.8m.3-.8l-.3 .8l.8-.1M169.1 682l-1.1-2.2m.6 .4l-.6-.4l0 .7M169.1 679.1l0 2.8m-.4-.7l.4 .7l.4-.7M169.1 676.3l-3.6 .5m.7-.6l-.7 .6l.8 .3M169.1 673.5l-2 1.9m.2-.8l-.2 .8l.8-.2M169.1 670.6l-1.6 2.3m.1-.8l-.1 .8l.8-.3M169.1 667.8l-.8 2.3m-.1-.7l.1 .7l.6-.5M169.1 664.9l0 2.9m-.4-.7l.4 .7l.4-.7M169.1 662l-2 1.9m.2-.8l-.2 .8l.8-.2M169.1 659.2l0 2.6m-.4-.7l.4 .7l.4-.7M169.1 656.4l-1.3 2.3m0-.8l0 .8l.7-.4M169.1 653.5l-.2 2.9m-.4-.8l.4 .8l.5-.7M169.1 650.6l0 2.7m-.4-.7l.4 .7l.4-.7M169.1 647.8l-3 1.5m.5-.8l-.5 .8l.9 .1M172.7 830.2l2-1.6m-.3 .7l.3-.7l-.8 .1M172.7 827.4l-.6 2.5m-.2-.7l.2 .7l.5-.5M172.7 824.5l-2.8 1.2m.5-.7l-.5 .7l.9 .1M172.7 821.6l-.2 2.8m-.4-.7l.4 .7l.5-.7M172.7 818.8l-1.8 2.4m.1-.9l-.1 .9l.8-.3M172.7 816l-.4 2.9m-.4-.8l.4 .8l.5-.7M172.7 813.1l.2 2.5m-.4-.6l.4 .6l.3-.7M172.7 810.2l.2 2.6m-.5-.7l.5 .7l.4-.7M172.7 807.4l-2.9 1.8m.4-.8l-.4 .8l.9 0M172.7 804.5l-.1 2.8m-.4-.7l.4 .7l.5-.7M172.7 801.7l-2.2 2.1m.2-.9l-.2 .9l.9-.2M172.7 798.9l-.4 2.7m-.3-.8l.3 .8l.5-.6M172.7 796l-.9 2.4m-.2-.8l.2 .8l.6-.5M172.7 793.1l-1.5 2m.1-.7l-.1 .7l.7-.3M172.7 790.3l.3 2.7m-.5-.7l.5 .7l.4-.7M172.7 787.5l-3.3-.8m.9-.3l-.9 .3l.6 .6M172.7 784.6l-2.7 1.5m.5-.8l-.5 .8l.9 0M172.7 781.8l-.7 2.9m-.3-.9l.3 .9l.6-.6M172.7 778.9l-2.3 1.5m.4-.7l-.4 .7l.8 0M172.7 776l.3 3.6m-.5-.7l.5 .7l.4-.8M172.7 773.2l-.1 2.4m-.4-.6l.4 .6l.4-.6M172.7 770.4l3 1.2m-.9 .2l.9-.2l-.6-.7M172.7 767.5l-1.7 2.6m0-.9l0 .9l.8-.4M172.7 764.6l-.9 2.8m-.2-.9l.2 .9l.7-.6M172.7 761.8l-.3 2.6m-.3-.7l.3 .7l.5-.6M172.7 759l-.2 1.2m-.1-.3l.1 .3l.2-.3M172.7 756.1l0 .2M172.7 753.2l-.1 .1M172.7 750.4l0 .2M172.7 747.5l0 .2M172.7 744.7l0 .2M172.7 741.9l-.1 .1M172.7 739l-.2 .1M172.7 736.1l0 .2M172.7 733.3l-.1 .2M172.7 730.5l-.1 .2M172.7 727.6l0 .2M172.7 716.2l-1.2 .9m.2-.4l-.2 .4l.4 0M172.7 713.4l-2.7 .8m.6-.6l-.6 .6l.8 .2M172.7 710.5l-1.4 2.7m-.1-.9l.1 .9l.8-.5M172.7 707.6l-2 2.2m.2-.9l-.2 .9l.9-.3M172.7 704.8l-1.7 2.3m.1-.9l-.1 .9l.8-.3M172.7 702l-2.4 2m.3-.8l-.3 .8l.9-.1M172.7 699.1l-2 1.8m.2-.8l-.2 .8l.8-.2M172.7 696.2l0 2.5m-.4-.6l.4 .6l.4-.6M172.7 693.4l-2.8 .9m.6-.7l-.6 .7l.9 .2M172.7 690.5l.1 2.9m-.5-.7l.5 .7l.4-.8M172.7 687.7l-1.3 2.7m-.1-.9l.1 .9l.7-.5M172.7 684.9l-.2 2.5m-.3-.7l.3 .7l.5-.6M172.7 682l-.2 2.8m-.4-.7l.4 .7l.5-.7M172.7 679.1l-.6 2.5m-.2-.7l.2 .7l.6-.6M172.7 676.3l-2.1 2.3m.2-.9l-.2 .9l.9-.3M172.7 673.5l-3.5 .8m.6-.6l-.6 .6l.9 .3M172.7 670.6l-2.3 2.2m.2-.9l-.2 .9l.9-.2M172.7 667.8l2.5 1.2m-.8 .1l.8-.1l-.5-.7M172.7 664.9l-1.9 1.8m.2-.8l-.2 .8l.8-.2M172.7 662l.2 2.4m-.4-.6l.4 .6l.3-.7M172.7 659.2l-2.6 2.2m.3-.9l-.3 .9l.9-.1M172.7 656.4l-.3 2.7m-.3-.7l.3 .7l.5-.6M172.7 653.5l-2.7 2m.3-.8l-.3 .8l.9-.1M172.7 650.6l-1.8 1.8m.2-.7l-.2 .7l.7-.2M172.7 647.8l-2.6 2m.3-.8l-.3 .8l.9-.1M176.3 830.2l-2.7 3.3m.1-.9l-.1 .9l.8-.3M176.3 827.4l1.3-2.5m0 .8l0-.8l-.7 .4M176.3 824.5l.3 2.7m-.5-.6l.5 .6l.3-.7M176.3 821.6l.1 2.5m-.4-.6l.4 .6l.4-.7M176.3 818.8l-3.8 3m.3-.8l-.3 .8l.9-.1M176.3 816l-.3 2.7m-.3-.8l.3 .8l.5-.7M176.3 813.1l.7 2.9m-.6-.6l.6 .6l.3-.9M176.3 810.2l-2.6 1.6m.4-.8l-.4 .8l.9 0M176.3 807.4l.2 2.3m-.4-.6l.4 .6l.3-.6M176.3 804.5l-.4 2.6m-.3-.7l.3 .7l.5-.6M176.3 801.7l1.5-2.4m0 .8l0-.8l-.8 .4M176.3 798.9l-2.8 2m.3-.8l-.3 .8l.9-.1M176.3 796l-2 2.1m.2-.9l-.2 .9l.8-.2M176.3 793.1l-2 2.2m.2-.9l-.2 .9l.8-.3M176.3 790.3l-.3 2.4m-.3-.7l.3 .7l.4-.6M176.3 787.5l-.4 2.8m-.3-.8l.3 .8l.6-.7M176.3 784.6l-1.8 1.9m.2-.8l-.2 .8l.8-.2M176.3 781.8l.1 2.4m-.4-.6l.4 .6l.4-.6M176.3 778.9l-1.8 1.8m.2-.7l-.2 .7l.7-.2M176.3 776l0 2.9m-.4-.7l.4 .7l.4-.7M176.3 773.2l-1.1 2.6m-.1-.9l.1 .9l.7-.5M176.3 770.4l-3.7 0m.8-.5l-.8 .5l.8 .5M176.3 767.5l-1.9 2.2m.1-.8l-.1 .8l.8-.3M176.3 764.6l-2.9 .9m.6-.7l-.6 .7l.9 .2M176.3 761.8l-1.3 1.9m0-.7l0 .7l.6-.3M176.3 759l-1.3 .6m.2-.4l-.2 .4l.4 0M176.3 756.1l-.1 .2M176.3 753.2l-.1 .2M176.3 750.4l-.1 .2M176.3 747.5l0 .2M176.3 744.7l-.2 .1M176.3 741.9l-.2 .1M176.3 739l0 .2M176.3 736.1l-.1 .1M176.3 733.3l0 .2M176.3 730.5l.1 .1M176.3 716.2l-1.9 1.4m.3-.6l-.3 .6l.7-.1M176.3 713.4l-.6 1.4m-.1-.4l.1 .4l.4-.3M176.3 710.5l-.1 2.9m-.4-.8l.4 .8l.5-.7M176.3 707.6l-3.1 1.2m.5-.7l-.5 .7l.9 .1M176.3 704.8l-2.9-1.4m.9-.1l-.9 .1l.5 .7M176.3 702l-.3 2.3m-.3-.6l.3 .6l.4-.6M176.3 699.1l-.3 2.7m-.3-.7l.3 .7l.5-.6M176.3 696.2l-.4 2.3m-.3-.7l.3 .7l.5-.5M176.3 693.4l.1 2.9m-.5-.7l.5 .7l.4-.8M176.3 690.5l-2.8 .8m.6-.6l-.6 .6l.8 .2M176.3 687.7l0 2.3m-.4-.6l.4 .6l.4-.6M176.3 684.9l-.2 2.5m-.3-.7l.3 .7l.4-.6M176.3 682l-.5 2.8m-.3-.8l.3 .8l.6-.6M176.3 679.1l-.8 2.9m-.2-.9l.2 .9l.6-.6M176.3 676.3l-.8 2.3m-.2-.7l.2 .7l.6-.5M176.3 673.5l-3.4 .7m.7-.6l-.7 .6l.9 .3M176.3 670.6l.2 3.9m-.5-.8l.5 .8l.4-.8M176.3 667.8l-.2 2.2m-.3-.6l.3 .6l.4-.5M176.3 664.9l-4.8 .5m.7-.5l-.7 .5l.8 .4M176.3 662l-.2 2.8m-.4-.8l.4 .8l.5-.7M176.3 659.2l-.9 2.5m-.2-.8l.2 .8l.6-.5M176.3 656.4l-2 2.4m.1-.9l-.1 .9l.9-.3M176.3 653.5l-1.3 2.1m0-.7l0 .7l.7-.3M176.3 650.6l-1.7 2.4m.1-.9l-.1 .9l.8-.4M176.3 647.8l.6 2.6m-.6-.6l.6 .6l.3-.8M179.9 830.2l-.9 2.3m-.1-.7l.1 .7l.6-.4M179.9 827.4l.2 2.6m-.5-.6l.5 .6l.3-.7M179.9 824.5l0 2.6m-.4-.7l.4 .7l.4-.7M179.9 821.6l-2.8 3.8m.1-.9l-.1 .9l.8-.3M179.9 818.8l-3.2 .6m.7-.6l-.7 .6l.8 .3M179.9 816l-2 2.1m.2-.9l-.2 .9l.8-.2M179.9 813.1l-.3 2.5m-.3-.7l.3 .7l.5-.6M179.9 810.2l.5 3m-.6-.7l.6 .7l.3-.8M179.9 807.4l-1.5 2m.1-.8l-.1 .8l.7-.3M179.9 804.5l0 2.5m-.4-.6l.4 .6l.4-.6M179.9 801.7l-1.2 2.3m-.1-.8l.1 .8l.6-.4M179.9 798.9l.3 2.3m-.4-.5l.4 .5l.3-.6M179.9 796l.1 2.9m-.5-.7l.5 .7l.4-.7M179.9 793.1l-1.8 2.3m.1-.9l-.1 .9l.8-.3M179.9 790.3l-4.7 2.3m.5-.8l-.5 .8l.9 .1M179.9 787.5l-3.4 .9m.6-.6l-.6 .6l.9 .3M179.9 784.6l-.9 2.2m-.1-.7l.1 .7l.6-.4M179.9 781.8l-.5 2.6m-.3-.7l.3 .7l.5-.6M179.9 778.9l-.5 2.5m-.3-.7l.3 .7l.5-.6M179.9 776l-.1 2.5m-.4-.7l.4 .7l.4-.6M179.9 773.2l-.9 2.4m-.1-.8l.1 .8l.6-.5M179.9 770.4l-1.9 2.1m.2-.8l-.2 .8l.8-.3M179.9 767.5l.1 2.7m-.5-.7l.5 .7l.4-.7M179.9 764.6l-1.8 2.4m.1-.9l-.1 .9l.8-.3M179.9 761.8l-1.3 .9m.2-.4l-.2 .4l.5 0M179.9 759l0 1.1m-.2-.3l.2 .3l.2-.3M179.9 756.1l0 .2M179.9 753.2l-.1 .1M179.9 750.4l-.2 .1M179.9 747.5l0 .2M179.9 744.7l-.1 .1M179.9 741.9l-.1 .1M179.9 739l0 .2M179.9 736.1l-.1 .1M179.9 733.3l0 .2M179.9 716.2l-.3 1.5m-.1-.4l.1 .4l.3-.3M179.9 713.4l-.1 1.2m-.2-.3l.2 .3l.2-.3M179.9 710.5l-.1 2.9m-.4-.8l.4 .8l.5-.7M179.9 707.6l-.1 2.9m-.4-.8l.4 .8l.5-.7M179.9 704.8l0 3m-.5-.8l.5 .8l.5-.8M179.9 702l-.9-2.7m.7 .5l-.7-.5l-.2 .8M179.9 699.1l-2.2 2.4m.2-.9l-.2 .9l.9-.3M179.9 696.2l-.1 3m-.4-.8l.4 .8l.5-.7M179.9 693.4l-.3 2.8m-.3-.8l.3 .8l.5-.7M179.9 690.5l-3 .2m.7-.5l-.7 .5l.8 .4M179.9 687.7l0 2.3m-.3-.6l.3 .6l.4-.6M179.9 684.9l-.6-2.9m.6 .7l-.6-.7l-.3 .8M179.9 682l-1.4 2m.1-.7l-.1 .7l.7-.3M179.9 679.1l-3 1.7m.4-.8l-.4 .8l.9 0M179.9 676.3l-.4 2.8m-.3-.8l.3 .8l.5-.7M179.9 673.5l-3.2 1.7m.5-.8l-.5 .8l.9 .1M179.9 670.6l-4.1 2.8m.4-.8l-.4 .8l.9 0M179.9 667.8l-1.6 2.3m.1-.9l-.1 .9l.8-.3M179.9 664.9l0 2.5m-.4-.6l.4 .6l.4-.6M179.9 662l-2.4 1.6m.4-.8l-.4 .8l.9 0M179.9 659.2l-4.7 2.3m.5-.8l-.5 .8l.9 .1M179.9 656.4l-.6 2.4m-.2-.7l.2 .7l.5-.5M179.9 653.5l.1 3m-.5-.7l.5 .7l.4-.8M179.9 650.6l.5 2.3m-.5-.5l.5 .5l.2-.7M179.9 647.8l-.4 2.8m-.3-.8l.3 .8l.5-.7M183.6 830.2l-1.7 2.1m.1-.8l-.1 .8l.8-.3M183.6 827.4l-1.8 1.9m.2-.8l-.2 .8l.7-.2M183.6 824.5l-.5 2.8m-.3-.8l.3 .8l.5-.6M183.6 821.6l-.1 2.7m-.4-.7l.4 .7l.4-.7M183.6 818.8l-2.3 1.4m.4-.7l-.4 .7l.8 0M183.6 816l-2.3 2.1m.2-.9l-.2 .9l.9-.2M183.6 813.1l-.2 2.8m-.4-.7l.4 .7l.5-.7M183.6 810.2l-1.8 1.8m.2-.7l-.2 .7l.7-.2M183.6 807.4l-.5 2.2m-.2-.6l.2 .6l.5-.5M183.6 804.5l-2 1.8m.2-.8l-.2 .8l.8-.2M183.6 801.7l.3 2.3m-.4-.6l.4 .6l.3-.6M183.6 798.9l-.1 2.9m-.4-.8l.4 .8l.5-.7M183.6 796l-.3 2.8m-.4-.8l.4 .8l.5-.7M183.6 793.1l-.9 2.6m-.2-.8l.2 .8l.6-.5M183.6 790.3l-.6 2.2m-.2-.7l.2 .7l.5-.5M183.6 787.5l-1.7 2m.1-.8l-.1 .8l.7-.3M183.6 784.6l-.5 2.5m-.3-.7l.3 .7l.5-.6M183.6 781.8l-1.6 2.1m.1-.8l-.1 .8l.7-.3M183.6 778.9l-.1 2.4m-.3-.6l.3 .6l.4-.6M183.6 776l-.3 3m-.4-.8l.4 .8l.5-.7M183.6 773.2l-.1 2.8m-.4-.7l.4 .7l.5-.7M183.6 770.4l-2.8 2m.4-.8l-.4 .8l.9-.1M183.6 767.5l-.1 2.6m-.4-.7l.4 .7l.4-.7M183.6 764.6l-1.4 2.2m0-.8l0 .8l.7-.3M183.6 761.8l.2 1.3m-.2-.3l.2 .3l.2-.4M183.6 759l-1.6 .4m.4-.4l-.4 .4l.5 .1M183.6 756.1l-.1 .2M183.6 753.2l.2 .1M183.6 750.4l0 .2M183.6 747.5l0 .2M183.6 744.7l0 .2M183.6 741.9l0 .2M183.6 739l-.1 .2M183.6 736.1l0 .2M183.6 716.2l-1.4 .9m.2-.5l-.2 .5l.5 0M183.6 713.4l0 1.4m-.2-.4l.2 .4l.2-.4M183.6 710.5l-1.5 2.3m0-.8l0 .8l.7-.4M183.6 707.6l-1.7 2.2m.1-.8l-.1 .8l.8-.3M183.6 704.8l-2.2 1.8m.3-.8l-.3 .8l.8-.1M183.6 702l-3.6 .5m.7-.6l-.7 .6l.8 .4M183.6 699.1l-.3 2.9m-.4-.8l.4 .8l.5-.7M183.6 696.2l.1 2.3m-.4-.6l.4 .6l.3-.6M183.6 693.4l0 2.9m-.4-.8l.4 .8l.5-.8M183.6 690.5l-.1 2.7m-.4-.7l.4 .7l.5-.7M183.6 687.7l-1.8 1.9m.2-.8l-.2 .8l.7-.2M183.6 684.9l-.3 2.7m-.4-.7l.4 .7l.5-.7M183.6 682l-2.3 1.5m.4-.7l-.4 .7l.8 0M183.6 679.1l-1.6 2.7m0-.9l0 .9l.8-.4M183.6 676.3l-.4 2.9m-.3-.8l.3 .8l.5-.7M183.6 673.5l2.3-2.1m-.3 .9l.3-.9l-.9 .2M183.6 670.6l.1 2.4m-.4-.6l.4 .6l.3-.6M183.6 667.8l-3.6 .5m.7-.6l-.7 .6l.8 .3M183.6 664.9l-.4 3m-.4-.8l.4 .8l.6-.7M183.6 662l-.7 2.5m-.2-.7l.2 .7l.6-.5M183.6 659.2l-.4 3.9m-.4-.8l.4 .8l.5-.7M183.6 656.4l.2 2.9m-.5-.7l.5 .7l.4-.8M183.6 653.5l-.9 2.3m-.1-.7l.1 .7l.6-.5M183.6 650.6l-1.6 2.1m.1-.8l-.1 .8l.7-.3M183.6 647.8l.5 4.1m-.6-.7l.6 .7l.4-.8M187.2 830.2l-1.8 2.4m.1-.9l-.1 .9l.8-.3M187.2 827.4l-1.4 2.6m0-.9l0 .9l.8-.5M187.2 824.5l-3.5-.5m.8-.3l-.8 .3l.7 .6M187.2 821.6l.4 2.7m-.5-.6l.5 .6l.3-.8M187.2 818.8l-2.7 2.1m.3-.8l-.3 .8l.9-.1M187.2 816l-.1 4.4m-.5-.8l.5 .8l.5-.8M187.2 813.1l-1.9 1.7m.2-.7l-.2 .7l.8-.2M187.2 810.2l-1.8 2.4m.1-.9l-.1 .9l.8-.4M187.2 807.4l-2.5 2.1m.3-.9l-.3 .9l.9-.1M187.2 804.5l-1.3 2.2m0-.8l0 .8l.7-.4M187.2 801.7l-2 2.3m.2-.9l-.2 .9l.9-.3M187.2 798.9l-.7 4m-.3-.8l.3 .8l.6-.7M187.2 796l-2.9-.6m.8-.3l-.8 .3l.6 .6M187.2 793.1l-.1 2.5m-.3-.7l.3 .7l.4-.6M187.2 790.3l-1.5 2.7m0-.9l0 .9l.8-.5M187.2 787.5l-.4 2.4m-.3-.7l.3 .7l.5-.6M187.2 784.6l.1 2.6m-.4-.6l.4 .6l.4-.7M187.2 781.8l-1.3 2.3m0-.8l0 .8l.7-.4M187.2 778.9l-3.7 .2m.7-.5l-.7 .5l.8 .4M187.2 776l-.7 2.3m-.2-.7l.2 .7l.5-.5M187.2 773.2l-2.8 .7m.6-.6l-.6 .6l.8 .2M187.2 770.4l2.7 2.1m-.9-.1l.9 .1l-.3-.8M187.2 767.5l-1.9 1.9m.2-.8l-.2 .8l.8-.2M187.2 764.6l-.3 2.4m-.3-.7l.3 .7l.5-.6M187.2 761.8l.4 2.6m-.5-.6l.5 .6l.3-.7M187.2 759l-1.4 1m.2-.5l-.2 .5l.5 0M187.2 756.1l-.1 .2M187.2 753.2l0 .2M187.2 750.4l-.1 .2M187.2 747.5l-.1 .2M187.2 744.7l.1 .2M187.2 741.9l0 .2M187.2 739l.2 0M187.2 716.2l-1.3-.5m.4-.1l-.4 .1l.3 .3M187.2 713.4l-.9 2.3m-.1-.7l.1 .7l.6-.4M187.2 710.5l-1.7 1.8m.2-.7l-.2 .7l.7-.2M187.2 707.6l-.1 2.6m-.4-.7l.4 .7l.4-.7M187.2 704.8l-2.9 .5m.7-.6l-.7 .6l.8 .3M187.2 702l.6 4.3m-.6-.7l.6 .7l.3-.8M187.2 699.1l-.5 2.3m-.2-.7l.2 .7l.5-.5M187.2 696.2l-4.1 1.2m.6-.7l-.6 .7l.9 .2M187.2 693.4l-3.1-.2m.8-.4l-.8 .4l.7 .5M187.2 690.5l-1.6 1.9m.1-.7l-.1 .7l.7-.2M187.2 687.7l-2.1-1.9m.9 .2l-.9-.2l.3 .8M187.2 684.9l-.2 2.4m-.3-.6l.3 .6l.4-.6M187.2 682l.3 2.5m-.5-.6l.5 .6l.3-.7M187.2 679.1l-.4 2.7m-.3-.8l.3 .8l.5-.6M187.2 676.3l.3 2.9m-.5-.7l.5 .7l.4-.8M187.2 673.5l-.6 2.8m-.3-.8l.3 .8l.6-.6M187.2 670.6l-2.7 3.3m.1-.9l-.1 .9l.8-.3M187.2 667.8l.1 2.6m-.4-.6l.4 .6l.4-.7M187.2 664.9l-.1 2.5m-.4-.7l.4 .7l.4-.6M187.2 662l-.8 2.1m-.1-.7l.1 .7l.5-.4M187.2 659.2l-.6 2.7m-.3-.8l.3 .8l.6-.6M187.2 656.4l-.2 2.5m-.3-.7l.3 .7l.4-.6M187.2 653.5l.2 2.7m-.5-.7l.5 .7l.4-.7M187.2 650.6l.1 4.4m-.5-.8l.5 .8l.4-.8M187.2 647.8l-.4 2.5m-.3-.7l.3 .7l.5-.6M190.8 830.2l-1.7 2.4m.1-.9l-.1 .9l.8-.4M190.8 827.4l.2 2.8m-.5-.7l.5 .7l.4-.8M190.8 824.5l-1.1 2.3m-.1-.8l.1 .8l.6-.4M190.8 821.6l-1.7 3.9m-.1-.9l.1 .9l.7-.5M190.8 818.8l.2 2.3m-.4-.6l.4 .6l.3-.6M190.8 816l-.9 2.4m-.1-.7l.1 .7l.6-.5M190.8 813.1l-3.3 1.1m.6-.7l-.6 .7l.9 .2M190.8 810.2l-3 .1m.8-.5l-.8 .5l.8 .4M190.8 807.4l-2.4 1.8m.3-.8l-.3 .8l.9-.1M190.8 804.5l-.1 2.7m-.4-.7l.4 .7l.5-.7M190.8 801.7l.1 2.2m-.4-.6l.4 .6l.3-.6M190.8 798.9l-1.2 2.1m0-.7l0 .7l.6-.3M190.8 796l-3.2 1.2m.6-.7l-.6 .7l.9 .2M190.8 793.1l.1 3m-.5-.7l.5 .7l.4-.8M190.8 790.3l-.7 2.6m-.2-.8l.2 .8l.6-.5M190.8 787.5l-3.6 2.7m.3-.8l-.3 .8l.9-.1M190.8 784.6l-2.1-1.9m.8 .2l-.8-.2l.2 .8M190.8 781.8l-3 .2m.7-.5l-.7 .5l.8 .4M190.8 778.9l-2.7 1m.5-.7l-.5 .7l.9 .2M190.8 776l-2.8 1.9m.4-.8l-.4 .8l.9-.1M190.8 773.2l0 2.8m-.4-.7l.4 .7l.4-.7M190.8 770.4l-2.2 1.5m.3-.7l-.3 .7l.8 0M190.8 767.5l0 2.7m-.4-.7l.4 .7l.4-.7M190.8 764.6l-.2 2.5m-.3-.7l.3 .7l.4-.6M190.8 761.8l-.2 2.6m-.4-.7l.4 .7l.5-.6M190.8 759l-1.2 .7m.2-.4l-.2 .4l.4 0M190.8 756.1l0 .2M190.8 753.2l0 .2M190.8 750.4l-.2 0M190.8 747.5l-.2 .1M190.8 744.7l.1 .2M190.8 741.9l-.1 .2M190.8 716.2l1.5 .7m-.5 0l.5 0l-.3-.4M190.8 713.4l-2.1 3.1m.1-.9l-.1 .9l.8-.4M190.8 710.5l.1 2.3m-.4-.6l.4 .6l.3-.6M190.8 707.6l-3.4-.2m.8-.4l-.8 .4l.7 .5M190.8 704.8l0 2.7m-.4-.7l.4 .7l.4-.7M190.8 702l-1.9 2.3m.1-.9l-.1 .9l.8-.3M190.8 699.1l-1.9 2m.2-.8l-.2 .8l.8-.2M190.8 696.2l-1.3 2m0-.7l0 .7l.6-.3M190.8 693.4l.3 2.3m-.4-.6l.4 .6l.3-.6M190.8 690.5l-2 2.1m.2-.8l-.2 .8l.8-.2M190.8 687.7l-.6 2.3m-.2-.7l.2 .7l.5-.5M190.8 684.9l-.2 2.9m-.4-.8l.4 .8l.5-.7M190.8 682l3.7 .5m-.8 .3l.8-.3l-.7-.6M190.8 679.1l-.4 2.9m-.3-.8l.3 .8l.6-.7M190.8 676.3l.1 2.7m-.4-.7l.4 .7l.4-.7M190.8 673.5l-.4 2.8m-.3-.8l.3 .8l.5-.7M190.8 670.6l-2.2 3m.1-.9l-.1 .9l.8-.3M190.8 667.8l-1.1 2.5m-.1-.8l.1 .8l.7-.5M190.8 664.9l-.1 2.8m-.4-.7l.4 .7l.5-.7M190.8 662l-.1 2.5m-.4-.7l.4 .7l.4-.6M190.8 659.2l-.1 2.8m-.4-.7l.4 .7l.5-.7M190.8 656.4l4.3-.8m-.7 .6l.7-.6l-.8-.3M190.8 653.5l-2 1.8m.2-.8l-.2 .8l.8-.1M190.8 650.6l-.8 3.9m-.3-.9l.3 .9l.6-.7M190.8 647.8l-.3 2.6m-.3-.7l.3 .7l.5-.6M194.4 830.2l-.3 2.6m-.3-.7l.3 .7l.5-.6M194.4 827.4l-.6 2.6m-.3-.8l.3 .8l.5-.6M194.4 824.5l-3.7 .6m.7-.6l-.7 .6l.8 .3M194.4 821.6l-1.1 2.7m-.1-.9l.1 .9l.7-.5M194.4 818.8l0 3.4m-.5-.8l.5 .8l.5-.8M194.4 816l-2.5 1.9m.3-.8l-.3 .8l.9-.1M194.4 813.1l1.8-1.9m-.2 .8l.2-.8l-.8 .2M194.4 810.2l-2.1 2.2m.2-.9l-.2 .9l.9-.2M194.4 807.4l-3.1-.8m.9-.2l-.9 .2l.6 .6M194.4 804.5l-2 2m.2-.8l-.2 .8l.8-.2M194.4 801.7l-2.6 2m.3-.8l-.3 .8l.9-.1M194.4 798.9l-1.9 2.2m.1-.9l-.1 .9l.8-.3M194.4 796l-2.2 2.2m.2-.9l-.2 .9l.9-.2M194.4 793.1l-.5 2.4m-.2-.7l.2 .7l.5-.5M194.4 790.3l-1.8 1.9m.2-.8l-.2 .8l.8-.2M194.4 787.5l-1.8 2.3m.1-.9l-.1 .9l.8-.3M194.4 784.6l.2 2.5m-.4-.6l.4 .6l.3-.7M194.4 781.8l.2 2.6m-.5-.6l.5 .6l.3-.7M194.4 778.9l-.7 2.7m-.3-.8l.3 .8l.6-.6M194.4 776l.1 2.8m-.5-.7l.5 .7l.4-.7M194.4 773.2l-3.5 .2m.7-.5l-.7 .5l.8 .4M194.4 770.4l-.6 2.8m-.3-.8l.3 .8l.6-.6M194.4 767.5l-2.2 2m.3-.9l-.3 .9l.9-.2M194.4 764.6l-2.1 1.8m.3-.8l-.3 .8l.8-.1M194.4 761.8l-2.6 1.4m.4-.8l-.4 .8l.9 0M194.4 759l-.9 1m.1-.4l-.1 .4l.4-.1M194.4 756.1l-1.3-.7m.5 0l-.5 0l.2 .4M194.4 753.2l-.2 .1M194.4 750.4l-.2 .1M194.4 747.5l-.2 .1M194.4 744.7l0 .2M194.4 719l-1.1 1.1m.1-.4l-.1 .4l.4-.1M194.4 716.2l-.1 1.4m-.2-.4l.2 .4l.3-.3M194.4 713.4l-2.2 1.7m.3-.8l-.3 .8l.8-.1M194.4 710.5l-.8 4.4m-.3-.8l.3 .8l.6-.7M194.4 707.6l-2.8 1.8m.4-.8l-.4 .8l.9 0M194.4 704.8l3.3 .2m-.8 .4l.8-.4l-.7-.5M194.4 702l.1 2.7m-.4-.7l.4 .7l.4-.7M194.4 699.1l-2.2 1.7m.3-.8l-.3 .8l.8-.1M194.4 696.2l-1.4 2.6m0-.9l0 .9l.8-.5M194.4 693.4l-.6 2.7m-.2-.8l.2 .8l.6-.6M194.4 690.5l-2.1 2.1m.2-.9l-.2 .9l.9-.2M194.4 687.7l.1-2.3m.3 .6l-.3-.6l-.4 .6M194.4 684.9l-1.8 1.9m.2-.8l-.2 .8l.7-.2M194.4 682l2.4 2m-.9-.1l.9 .1l-.3-.8M194.4 679.1l-.3 2.3m-.3-.6l.3 .6l.4-.5M194.4 676.3l-.5 2.8m-.3-.8l.3 .8l.6-.6M194.4 673.5l-2.6 1.9m.4-.8l-.4 .8l.9-.1M194.4 670.6l2.4 1.4m-.8 0l.8 0l-.4-.7M194.4 667.8l-1.5 2.6m0-.9l0 .9l.8-.4M194.4 664.9l-3.3 .3m.7-.5l-.7 .5l.8 .4M194.4 662l-3.3 .2m.7-.5l-.7 .5l.8 .4M194.4 659.2l0 2.6m-.4-.7l.4 .7l.4-.7M194.4 656.4l-1.9 2.6m.1-.9l-.1 .9l.8-.3M194.4 653.5l-1.5 2.1m.1-.8l-.1 .8l.7-.3M194.4 650.6l-2.2 3.8m0-.9l0 .9l.8-.4M194.4 647.8l-.3 2.5m-.3-.7l.3 .7l.5-.6M198 830.2l-1.6 2.5m0-.9l0 .9l.8-.4M198 827.4l-2.5 3.3m.1-.9l-.1 .9l.8-.3M198 824.5l-2.5 2.2m.3-.9l-.3 .9l.9-.1M198 821.6l-.7 2.5m-.2-.8l.2 .8l.6-.5M198 818.8l-.8 2.2m-.1-.7l.1 .7l.5-.4M198 816l-.2 2.8m-.4-.7l.4 .7l.5-.7M198 813.1l-3.2 .8m.6-.6l-.6 .6l.9 .3M198 810.2l-1.4 2m.1-.7l-.1 .7l.7-.3M198 807.4l-1.4 2.2m0-.8l0 .8l.7-.4M198 804.5l-.3 2.3m-.3-.6l.3 .6l.4-.5M198 801.7l-3.5 1.1m.6-.7l-.6 .7l.9 .2M198 798.9l-.2 4.4m-.4-.8l.4 .8l.5-.7M198 796l.3 2.9m-.5-.7l.5 .7l.4-.8M198 793.1l1.6-2.5m0 .9l0-.9l-.8 .4M198 790.3l-2.7 2m.3-.8l-.3 .8l.9-.1M198 787.5l.4 3.8m-.5-.7l.5 .7l.4-.8M198 784.6l.2 2.6m-.5-.6l.5 .6l.3-.7M198 781.8l.3 2.5m-.5-.6l.5 .6l.3-.7M198 778.9l0 3m-.5-.8l.5 .8l.5-.8M198 776l.1 2.6m-.4-.6l.4 .6l.4-.7M198 773.2l.1-2.7m.4 .7l-.4-.7l-.4 .7M198 770.4l-3.5 .1m.8-.5l-.8 .5l.8 .5M198 767.5l-3.4 .8m.6-.6l-.6 .6l.9 .3M198 764.6l-3.1 .5m.7-.6l-.7 .6l.8 .3M198 761.8l-2.6 3.5m.1-.9l-.1 .9l.8-.3M198 759l-2.2 2.2m.2-.9l-.2 .9l.9-.2M198 756.1l1.7-.5m-.4 .4l.4-.4l-.5-.1M198 753.2l-.7 1m0-.4l0 .4l.3-.2M198 750.4l-.1 .1M198 747.5l.1 .2M198 721.9l1.1-1m-.1 .4l.1-.4l-.4 .1M198 719l-.2 1.1m-.1-.3l.1 .3l.2-.3M198 716.2l0 2.7m-.4-.7l.4 .7l.4-.7M198 713.4l-1 2.4m-.1-.8l.1 .8l.6-.4M198 710.5l-1.4 2.5m0-.9l0 .9l.8-.4M198 707.6l-.7 2.8m-.2-.8l.2 .8l.6-.6M198 704.8l-3 1.8m.4-.8l-.4 .8l.9 0M198 702l-1.9 2.2m.1-.8l-.1 .8l.8-.3M198 699.1l-.2 2.3m-.3-.6l.3 .6l.4-.6M198 696.2l-1.5 2.1m.1-.8l-.1 .8l.7-.3M198 693.4l-2.1 1.9m.2-.8l-.2 .8l.8-.2M198 690.5l-2.1 1.9m.2-.8l-.2 .8l.8-.2M198 687.7l-2.3 2.1m.3-.9l-.3 .9l.9-.2M198 684.9l-.5 2.6m-.3-.8l.3 .8l.5-.6M198 682l-2.6 1.6m.4-.8l-.4 .8l.9 0M198 679.1l3.1-.6m-.7 .6l.7-.6l-.8-.3M198 676.3l.1 2.3m-.4-.6l.4 .6l.3-.6M198 673.5l-2.1 2m.2-.8l-.2 .8l.8-.2M198 670.6l2.9 0m-.7 .5l.7-.5l-.7-.4M198 667.8l3.6-.4m-.7 .5l.7-.5l-.8-.4M198 664.9l-.4 2.3m-.2-.6l.2 .6l.5-.5M198 662l-2 2.3m.2-.9l-.2 .9l.9-.3M198 659.2l-1.8 1.9m.2-.8l-.2 .8l.8-.2M198 656.4l1.1-2.1m0 .7l0-.7l-.6 .4M198 653.5l-2.4 1.5m.4-.8l-.4 .8l.9 0M198 650.6l-1.2 2.7m-.1-.9l.1 .9l.7-.5M198 647.8l-.5 2.3m-.2-.7l.2 .7l.5-.5M201.6 830.2l1 4.2m-.6-.7l.6 .7l.3-.9M201.6 827.4l-2.1 2.4m.2-.9l-.2 .9l.9-.3M201.6 824.5l.1 3.6m-.5-.8l.5 .8l.4-.8M201.6 821.6l.6 2.6m-.6-.6l.6 .6l.2-.8M201.6 818.8l-2.8 .6m.6-.6l-.6 .6l.8 .3M201.6 816l0 2.8m-.4-.7l.4 .7l.4-.7M201.6 813.1l.2 2.8m-.5-.7l.5 .7l.4-.7M201.6 810.2l-2 1.7m.3-.7l-.3 .7l.8-.1M201.6 807.4l-.8 2.5m-.2-.8l.2 .8l.6-.5M201.6 804.5l-.3 2.4m-.3-.7l.3 .7l.5-.6M201.6 801.7l3.5-.5m-.7 .6l.7-.6l-.8-.4M201.6 798.9l.4 2.5m-.5-.6l.5 .6l.3-.7M201.6 796l.4 2.9m-.5-.7l.5 .7l.4-.8M201.6 793.1l-.2 2.4m-.3-.6l.3 .6l.4-.6M201.6 790.3l-2.7-1.7m.9 0l-.9 0l.4 .8M201.6 787.5l-1.6 2.3m.1-.8l-.1 .8l.8-.3M201.6 784.6l-.2 2.7m-.4-.7l.4 .7l.5-.7M201.6 781.8l-2.2 1.9m.3-.8l-.3 .8l.9-.2M201.6 778.9l.1 2.6m-.4-.7l.4 .7l.4-.7M201.6 776l0 2.9m-.4-.7l.4 .7l.4-.7M201.6 773.2l-2 1.7m.3-.7l-.3 .7l.8-.1M201.6 770.4l-.1 2.4m-.3-.6l.3 .6l.4-.6M201.6 767.5l.2 2.7m-.5-.7l.5 .7l.4-.7M201.6 764.6l-1.4 2.2m0-.8l0 .8l.7-.4M201.6 761.8l-.2 2.3m-.3-.6l.3 .6l.4-.6M201.6 759l-.3 4.4m-.4-.8l.4 .8l.5-.7M201.6 756.1l.1 2.8m-.5-.7l.5 .7l.4-.7M201.6 753.2l.2 1.4m-.3-.3l.3 .3l.2-.4M201.6 750.4l0 1.4m-.2-.3l.2 .3l.2-.4M201.6 724.8l-.2 1.5m-.2-.4l.2 .4l.3-.3M201.6 721.9l-.1 1.3m-.2-.3l.2 .3l.2-.3M201.6 719l3.7-.5m-.7 .6l.7-.6l-.8-.4M201.6 716.2l2.9 1.2m-.9 .1l.9-.1l-.5-.7M201.6 713.4l-.1 2.9m-.4-.7l.4 .7l.5-.7M201.6 710.5l-3.7 .6m.7-.6l-.7 .6l.8 .3M201.6 707.6l-.4 2.8m-.3-.8l.3 .8l.5-.7M201.6 704.8l.8-2.9m.2 .9l-.2-.9l-.6 .6M201.6 702l-3.2 .7m.6-.6l-.6 .6l.9 .3M201.6 699.1l-2.2 1.6m.3-.7l-.3 .7l.8-.1M201.6 696.2l2.7 .8m-.8 .2l.8-.2l-.6-.6M201.6 693.4l-2.7 1.8m.4-.8l-.4 .8l.9 0M201.6 690.5l.6 2.2m-.5-.5l.5 .5l.2-.7M201.6 687.7l-.4 2.4m-.3-.7l.3 .7l.5-.6M201.6 684.9l-3.2 1.6m.5-.8l-.5 .8l.9 .1M201.6 682l-2.1 2.3m.2-.9l-.2 .9l.9-.3M201.6 679.1l-2.9 .7m.6-.6l-.6 .6l.9 .3M201.6 676.3l-2.4 2m.3-.9l-.3 .9l.9-.2M201.6 673.5l-2 2.1m.2-.9l-.2 .9l.8-.2M201.6 670.6l-2.5 1.9m.3-.8l-.3 .8l.9-.1M201.6 667.8l-.8-2.7m.6 .6l-.6-.6l-.2 .8M201.6 664.9l.2 2.5m-.4-.6l.4 .6l.3-.7M201.6 662l-.2 2.7m-.4-.7l.4 .7l.5-.7M201.6 659.2l-.3 4.2m-.4-.8l.4 .8l.5-.7M201.6 656.4l-3.6 .7m.7-.6l-.7 .6l.8 .3M201.6 653.5l-2.5 2.2m.3-.9l-.3 .9l.9-.2M201.6 650.6l.6 3.4m-.6-.7l.6 .7l.3-.8M201.6 647.8l0 2.8m-.4-.7l.4 .7l.4-.7M205.3 830.2l-2.9 .7m.6-.6l-.6 .6l.9 .3M205.3 827.4l-3.2 1.6m.5-.8l-.5 .8l.9 .1M205.3 824.5l-.7 2.7m-.2-.8l.2 .8l.6-.6M205.3 821.6l-.7 2.7m-.2-.8l.2 .8l.6-.6M205.3 818.8l-1.7 2.1m.1-.8l-.1 .8l.8-.3M205.3 816l-.2 2.6m-.4-.7l.4 .7l.4-.6M205.3 813.1l-2.1 2.4m.2-.9l-.2 .9l.9-.3M205.3 810.2l-.3 2.9m-.4-.8l.4 .8l.5-.7M205.3 807.4l0 2.6m-.4-.7l.4 .7l.4-.7M205.3 804.5l.6 2.3m-.5-.5l.5 .5l.2-.7M205.3 801.7l-.9 2.2m-.1-.7l.1 .7l.6-.4M205.3 798.9l0 2.5m-.4-.6l.4 .6l.4-.6M205.3 796l-1.3-2.3m.7 .4l-.7-.4l0 .8M205.3 793.1l-3.5 .9m.6-.6l-.6 .6l.9 .3M205.3 790.3l.2 2.9m-.5-.7l.5 .7l.4-.8M205.3 787.5l-2.1 3.6m0-.9l0 .9l.8-.4M205.3 784.6l-.1 2.6m-.4-.7l.4 .7l.4-.7M205.3 781.8l.1 2.4m-.4-.6l.4 .6l.3-.6M205.3 778.9l-2.5 2.2m.3-.9l-.3 .9l.9-.2M205.3 776l-3.5-.3m.8-.4l-.8 .4l.7 .5M205.3 773.2l.4 2.4m-.5-.6l.5 .6l.3-.7M205.3 770.4l-1.8 1.9m.2-.8l-.2 .8l.8-.2M205.3 767.5l-1.7 2.5m0-.9l0 .9l.8-.4M205.3 764.6l-1.9 2.1m.2-.8l-.2 .8l.8-.2M205.3 761.8l-1.9 1.9m.2-.8l-.2 .8l.8-.2M205.3 759l-2.1 1.8m.3-.8l-.3 .8l.8-.1M205.3 756.1l-1.9 1.8m.2-.8l-.2 .8l.8-.2M205.3 753.2l.1 2.6m-.4-.7l.4 .7l.4-.7M205.3 750.4l-.2 1.4m-.2-.4l.2 .4l.3-.3M205.3 747.5l0 1.3m-.2-.3l.2 .3l.2-.3M205.3 744.7l-1.1 1.1m.1-.4l-.1 .4l.4-.1M205.3 730.5l-1.6 1.7m.1-.7l-.1 .7l.7-.2M205.3 727.6l.1 1.2m-.2-.3l.2 .3l.2-.3M205.3 724.8l-.8 1.1m0-.4l0 .4l.4-.1M205.3 721.9l-3.1 1m.6-.7l-.6 .7l.9 .2M205.3 719l-2.7 1.1m.5-.7l-.5 .7l.9 .1M205.3 716.2l-3-.3m.8-.4l-.8 .4l.7 .5M205.3 713.4l0 3m-.5-.8l.5 .8l.5-.8M205.3 710.5l-.7 2.5m-.2-.7l.2 .7l.6-.5M205.3 707.6l-3 0m.8-.5l-.8 .5l.8 .5M205.3 704.8l-.3 2.9m-.4-.8l.4 .8l.5-.7M205.3 702l-1.9 1.9m.2-.8l-.2 .8l.8-.2M205.3 699.1l-1.9 2.2m.1-.9l-.1 .9l.8-.3M205.3 696.2l-.9 2.5m-.1-.8l.1 .8l.6-.5M205.3 693.4l2.8 1.7m-.9 0l.9 0l-.4-.8M205.3 690.5l-.3 2.2m-.3-.6l.3 .6l.4-.5M205.3 687.7l-3.2 .3m.7-.5l-.7 .5l.8 .4M205.3 684.9l-.3 2.4m-.3-.7l.3 .7l.5-.6M205.3 682l-2.3 2.3m.2-.9l-.2 .9l.9-.2M205.3 679.1l-1.8 2m.2-.8l-.2 .8l.8-.2M205.3 676.3l-1.7 2.5m.1-.9l-.1 .9l.8-.4M205.3 673.5l-.1 2.4m-.3-.6l.3 .6l.4-.6M205.3 670.6l.2 2.8m-.5-.7l.5 .7l.4-.7M205.3 667.8l-.4 2.3m-.3-.7l.3 .7l.5-.5M205.3 664.9l-1.9 2.4m.1-.9l-.1 .9l.8-.3M205.3 662l-1.9 2.5m.1-.9l-.1 .9l.8-.3M205.3 659.2l-2.4 1.6m.4-.8l-.4 .8l.9 0M205.3 656.4l-2.6 2m.3-.8l-.3 .8l.9-.1M205.3 653.5l0 2.5m-.4-.6l.4 .6l.4-.6M205.3 650.6l-1.7 2.1m.1-.8l-.1 .8l.8-.3M205.3 647.8l-.2 2.4m-.3-.6l.3 .6l.4-.6M208.9 830.2l-2.1 3.5m0-.9l0 .9l.8-.4M208.9 827.4l.3 2.5m-.4-.6l.4 .6l.3-.7M208.9 824.5l.1 2.8m-.5-.7l.5 .7l.4-.7M208.9 821.6l.2 2.9m-.5-.7l.5 .7l.4-.8M208.9 818.8l-.2 2.8m-.4-.7l.4 .7l.5-.7M208.9 816l1.2-2.5m.1 .8l-.1-.8l-.7 .5M208.9 813.1l-1.9 2.3m.1-.9l-.1 .9l.8-.3M208.9 810.2l-1.9 2.5m.1-.9l-.1 .9l.8-.3M208.9 807.4l-.8 2.6m-.2-.8l.2 .8l.6-.6M208.9 804.5l-2.3 1.8m.3-.8l-.3 .8l.9-.1M208.9 801.7l-1.6 2.1m.1-.8l-.1 .8l.7-.3M208.9 798.9l.4 2.6m-.5-.6l.5 .6l.3-.7M208.9 796l0 2.6m-.4-.7l.4 .7l.4-.7M208.9 793.1l-1.5 1.9m.1-.7l-.1 .7l.7-.3M208.9 790.3l-1.8 2.3m.1-.9l-.1 .9l.8-.3M208.9 787.5l-1.6 2.7m0-.9l0 .9l.8-.4M208.9 784.6l0 2.5m-.4-.6l.4 .6l.4-.6M208.9 781.8l-3.5 .6m.7-.6l-.7 .6l.8 .3M208.9 778.9l-2.8 1.4m.5-.8l-.5 .8l.9 .1M208.9 776l-3.1 1.3m.5-.7l-.5 .7l.9 .1M208.9 773.2l-1.5 2.3m0-.8l0 .8l.7-.4M208.9 770.4l.3 2.7m-.5-.6l.5 .6l.3-.7M208.9 767.5l0 2.8m-.4-.7l.4 .7l.4-.7M208.9 764.6l-2.8-1.2m.9-.1l-.9 .1l.5 .7M208.9 761.8l2.1 2.4m-.9-.3l.9 .3l-.2-.9M208.9 759l-1.5 2.5m0-.9l0 .9l.8-.4M208.9 756.1l-2.4 2.1m.3-.9l-.3 .9l.9-.2M208.9 753.2l.2 2.6m-.5-.6l.5 .6l.3-.7M208.9 750.4l-.1 2.9m-.4-.8l.4 .8l.5-.7M208.9 747.5l-.3 2.9m-.4-.8l.4 .8l.5-.7M208.9 744.7l.7-1.3m0 .4l0-.4l-.4 .2M208.9 741.9l-.1 1.2m-.2-.3l.2 .3l.2-.3M208.9 739l.1 1.8m-.3-.4l.3 .4l.2-.5M208.9 736.1l-.1 1.2m-.2-.3l.2 .3l.2-.3M208.9 733.3l-.4 2m-.2-.6l.2 .6l.4-.4M208.9 730.5l-1.4 1.9m.1-.7l-.1 .7l.6-.3M208.9 727.6l-3.3 1.3m.5-.7l-.5 .7l.9 .2M208.9 724.8l-.1 2.7m-.4-.7l.4 .7l.4-.7M208.9 721.9l-.3 2.6m-.3-.7l.3 .7l.5-.6M208.9 719l.3 2.3m-.4-.6l.4 .6l.3-.6M208.9 716.2l-.3 3.7m-.4-.8l.4 .8l.5-.7M208.9 713.4l-.6 2.7m-.3-.8l.3 .8l.6-.6M208.9 710.5l.3 2.6m-.5-.6l.5 .6l.3-.7M208.9 707.6l-1.3 2.4m0-.8l0 .8l.7-.4M208.9 704.8l1.9 2.5m-.8-.3l.8 .3l-.1-.9M208.9 702l0 2.8m-.4-.7l.4 .7l.4-.7M208.9 699.1l-.6 2.5m-.2-.7l.2 .7l.6-.5M208.9 696.2l-1 2.9m-.2-.9l.2 .9l.7-.6M208.9 693.4l-2.4 2.2m.3-.9l-.3 .9l.9-.2M208.9 690.5l-.4 2.9m-.3-.8l.3 .8l.6-.7M208.9 687.7l-.6 2.7m-.3-.8l.3 .8l.6-.6M208.9 684.9l.3-2.7m.4 .7l-.4-.7l-.5 .7M208.9 682l-5.4 1.2m.6-.6l-.6 .6l.9 .3M208.9 679.1l-.7 2.2m-.2-.7l.2 .7l.5-.5M208.9 676.3l1.8-2.1m-.2 .8l.2-.8l-.8 .2M208.9 673.5l-2.6 1.8m.4-.8l-.4 .8l.9 0M208.9 670.6l-1.7 2.2m.1-.8l-.1 .8l.8-.3M208.9 667.8l-.4 3.4m-.4-.8l.4 .8l.5-.7M208.9 664.9l0 2.3m-.4-.6l.4 .6l.4-.6M208.9 662l.5 2.9m-.6-.7l.6 .7l.3-.8M208.9 659.2l-.5 2.8m-.3-.8l.3 .8l.6-.6M208.9 656.4l-1.8 1.8m.2-.8l-.2 .8l.8-.2M208.9 653.5l-1 2.6m-.2-.8l.2 .8l.7-.5M208.9 650.6l-1.9 2.1m.2-.8l-.2 .8l.8-.2M208.9 647.8l-.7 2.8m-.3-.8l.3 .8l.6-.6M212.5 830.2l-.1 2.8m-.4-.7l.4 .7l.5-.7M212.5 827.4l-.7 2.5m-.2-.8l.2 .8l.6-.6M212.5 824.5l3.5-.6m-.7 .6l.7-.6l-.8-.3M212.5 821.6l-3.1 .5m.7-.6l-.7 .6l.8 .3M212.5 818.8l-.3 2.8m-.3-.8l.3 .8l.5-.7M212.5 816l-2.1 2.4m.2-.9l-.2 .9l.9-.3M212.5 813.1l-2.1 1.9m.3-.8l-.3 .8l.8-.1M212.5 810.2l.2 2.3m-.4-.6l.4 .6l.3-.6M212.5 807.4l0 2.6m-.4-.7l.4 .7l.4-.7M212.5 804.5l-.5 2.6m-.3-.8l.3 .8l.5-.6M212.5 801.7l.1 2.3m-.4-.6l.4 .6l.3-.6M212.5 798.9l-.3 2.8m-.4-.8l.4 .8l.5-.7M212.5 796l0 2.4m-.4-.6l.4 .6l.4-.6M212.5 793.1l-.6-2.8m.6 .6l-.6-.6l-.3 .8M212.5 790.3l-3.3 .6m.7-.6l-.7 .6l.8 .3M212.5 787.5l-1.3 2m0-.7l0 .7l.6-.3M212.5 784.6l-.1 2.3m-.3-.6l.3 .6l.4-.6M212.5 781.8l0 2.8m-.4-.7l.4 .7l.4-.7M212.5 778.9l-1 2.6m-.2-.8l.2 .8l.7-.5M212.5 776l.2 2.4m-.4-.6l.4 .6l.3-.7M212.5 773.2l-1.2 2.3m-.1-.8l.1 .8l.7-.4M212.5 770.4l.3 2.3m-.4-.5l.4 .5l.3-.7M212.5 767.5l2.8-.7m-.6 .6l.6-.6l-.8-.2M212.5 764.6l-1.5 2.7m0-.9l0 .9l.8-.5M212.5 761.8l-.8 2.7m-.2-.8l.2 .8l.6-.6M212.5 759l-3.3 .3m.7-.5l-.7 .5l.8 .4M212.5 756.1l-3.1 2.4m.3-.8l-.3 .8l.9-.1M212.5 753.2l.1 2.4m-.4-.6l.4 .6l.3-.6M212.5 750.4l-1.7 2.1m.1-.8l-.1 .8l.8-.3M212.5 747.5l.6 2.3m-.5-.5l.5 .5l.2-.7M212.5 744.7l-.6 2.2m-.2-.7l.2 .7l.5-.5M212.5 741.9l-2 2.4m.1-.9l-.1 .9l.8-.3M212.5 739l0 2.6m-.4-.7l.4 .7l.4-.7M212.5 736.1l-1.9 2m.2-.8l-.2 .8l.8-.2M212.5 733.3l-.5 2.5m-.3-.7l.3 .7l.5-.6M212.5 730.5l-1.6 2.4m0-.9l0 .9l.8-.4M212.5 727.6l-.3 2.6m-.3-.7l.3 .7l.5-.6M212.5 724.8l.1 3m-.5-.7l.5 .7l.4-.8M212.5 721.9l-1.7 2m.1-.8l-.1 .8l.7-.2M212.5 719l.6 2.4m-.5-.5l.5 .5l.2-.7M212.5 716.2l-2.5 3m.1-.9l-.1 .9l.9-.3M212.5 713.4l.4 2.3m-.5-.5l.5 .5l.3-.7M212.5 710.5l-1.3 2.3m0-.8l0 .8l.7-.4M212.5 707.6l-2.1 2.3m.2-.9l-.2 .9l.9-.3M212.5 704.8l-.1 2.4m-.4-.6l.4 .6l.4-.6M212.5 702l-2.5 1.9m.3-.8l-.3 .8l.9-.1M212.5 699.1l-.3 2.6m-.3-.7l.3 .7l.5-.6M212.5 696.2l-2 1.7m.2-.7l-.2 .7l.8-.1M212.5 693.4l-1.9 1.9m.2-.8l-.2 .8l.8-.2M212.5 690.5l-1.7 2.4m.1-.9l-.1 .9l.8-.4M212.5 687.7l-1.3-2.6m.7 .5l-.7-.5l-.1 .9M212.5 684.9l.2 3m-.5-.7l.5 .7l.4-.8M212.5 682l-.3 2.4m-.3-.7l.3 .7l.4-.6M212.5 679.1l-.3 3m-.4-.8l.4 .8l.5-.7M212.5 676.3l.3-2.4m.3 .6l-.3-.6l-.4 .6M212.5 673.5l-.3 3m-.4-.8l.4 .8l.5-.7M212.5 670.6l-.5 2.9m-.3-.8l.3 .8l.6-.7M212.5 667.8l-.4 2.7m-.3-.7l.3 .7l.5-.6M212.5 664.9l-1.9 2.1m.2-.8l-.2 .8l.8-.2M212.5 662l-.4 2.6m-.3-.7l.3 .7l.5-.6M212.5 659.2l-2.7 2.6m.2-.9l-.2 .9l.9-.2M212.5 656.4l-2.8 1.3m.5-.7l-.5 .7l.9 .1M212.5 653.5l-3.4 .4m.7-.6l-.7 .6l.8 .4M212.5 650.6l-.2 2.3m-.3-.6l.3 .6l.4-.6M212.5 647.8l.3 2.7m-.5-.7l.5 .7l.3-.8M216.1 830.2l.4 2.6m-.5-.6l.5 .6l.3-.7M216.1 827.4l-.5 2.4m-.2-.7l.2 .7l.5-.5M216.1 824.5l-1 2.3m-.1-.7l.1 .7l.6-.4M216.1 821.6l-3.6 .8m.7-.6l-.7 .6l.9 .3M216.1 818.8l-1.1 2.1m0-.7l0 .7l.6-.4M216.1 816l.4 3.4m-.6-.7l.6 .7l.4-.8M216.1 813.1l-2 2.1m.2-.8l-.2 .8l.8-.2M216.1 810.2l-2 1.9m.2-.8l-.2 .8l.8-.2M216.1 807.4l-.1 2.6m-.4-.7l.4 .7l.4-.7M216.1 804.5l-.4 2.4m-.3-.7l.3 .7l.5-.6M216.1 801.7l-1.4 2.4m0-.8l0 .8l.7-.4M216.1 798.9l-2.4 1.5m.4-.8l-.4 .8l.8 0M216.1 796l-2.9 1m.6-.7l-.6 .7l.9 .2M216.1 793.1l-1.4 2.2m0-.8l0 .8l.7-.4M216.1 790.3l.1 3.8m-.5-.8l.5 .8l.5-.8M216.1 787.5l-.6 2.8m-.3-.8l.3 .8l.6-.6M216.1 784.6l-2.1 2.2m.2-.9l-.2 .9l.9-.2M216.1 781.8l-2.6 1.7m.4-.8l-.4 .8l.9 0M216.1 778.9l-.5 2.3m-.2-.7l.2 .7l.5-.5M216.1 776l-2 1.8m.2-.8l-.2 .8l.8-.2M216.1 773.2l-2 2.4m.1-.9l-.1 .9l.8-.3M216.1 770.4l-2.3 1.5m.4-.8l-.4 .8l.8 0M216.1 767.5l2.3-1.8m-.3 .8l.3-.8l-.9 .1M216.1 764.6l3.4 .2m-.8 .4l.8-.4l-.7-.5M216.1 761.8l-1 2.3m-.1-.8l.1 .8l.6-.4M216.1 759l-3.3-.9m.9-.2l-.9 .2l.6 .6M216.1 756.1l-.4 2.4m-.3-.7l.3 .7l.5-.6M216.1 753.2l-2.3 3.5m0-.9l0 .9l.8-.4M216.1 750.4l-.2 2.9m-.4-.8l.4 .8l.5-.7M216.1 747.5l-.5 2.9m-.3-.8l.3 .8l.6-.7M216.1 744.7l-.1 2.6m-.4-.7l.4 .7l.4-.7M216.1 741.9l.1 2.5m-.4-.6l.4 .6l.4-.7M216.1 739l-1.9 1.7m.2-.7l-.2 .7l.7-.1M216.1 736.1l.4 2.3m-.5-.5l.5 .5l.2-.7M216.1 733.3l-3.1 .4m.7-.6l-.7 .6l.8 .4M216.1 730.5l-.3 2.9m-.4-.8l.4 .8l.5-.7M216.1 727.6l-.5 2.5m-.3-.7l.3 .7l.5-.6M216.1 724.8l.2 2.5m-.4-.6l.4 .6l.4-.7M216.1 721.9l.3 2.4m-.4-.6l.4 .6l.3-.7M216.1 719l-1.6 4m-.2-.9l.2 .9l.7-.5M216.1 716.2l-2.9 .4m.7-.6l-.7 .6l.8 .3M216.1 713.4l-.2 2.7m-.4-.7l.4 .7l.5-.7M216.1 710.5l0 2.8m-.4-.7l.4 .7l.4-.7M216.1 707.6l-2.1 1.7m.3-.8l-.3 .8l.8-.1M216.1 704.8l.1 2.9m-.5-.7l.5 .7l.4-.8M216.1 702l-2.9 .5m.7-.6l-.7 .6l.8 .3M216.1 699.1l-1.4 2.4m0-.8l0 .8l.7-.4M216.1 696.2l-.5 2.9m-.3-.8l.3 .8l.6-.7M216.1 693.4l-2.8 3.4m.1-.9l-.1 .9l.8-.3M216.1 690.5l-2.9 .6m.7-.6l-.7 .6l.8 .3M216.1 687.7l-1.7 1.8m.2-.7l-.2 .7l.7-.2M216.1 684.9l.3 3.7m-.5-.7l.5 .7l.4-.8M216.1 682l-1 2.1m-.1-.7l.1 .7l.6-.4M216.1 679.1l-3 1.7m.5-.8l-.5 .8l.9 0M216.1 676.3l-1.5 2.2m.1-.8l-.1 .8l.7-.3M216.1 673.5l-1.3 2.3m0-.8l0 .8l.7-.4M216.1 670.6l-2 1.7m.3-.7l-.3 .7l.8-.1M216.1 667.8l-2.6-2.8m.9 .3l-.9-.3l.2 .9M216.1 664.9l-2.1 1.8m.3-.8l-.3 .8l.8-.1M216.1 662l.6 4.1m-.6-.7l.6 .7l.4-.8M216.1 659.2l-1 2.1m-.1-.7l.1 .7l.6-.4M216.1 656.4l-.2 2.3m-.3-.6l.3 .6l.4-.6M216.1 653.5l-2.3 2.3m.2-.9l-.2 .9l.9-.2M216.1 650.6l-.3 2.8m-.4-.8l.4 .8l.5-.7M216.1 647.8l-2.2 2.3m.2-.9l-.2 .9l.9-.2M219.7 830.2l.1 2.8m-.5-.7l.5 .7l.4-.7M219.7 827.4l-1.3 2m0-.7l0 .7l.6-.3M219.7 824.5l-2.1 2.3m.2-.9l-.2 .9l.9-.3M219.7 821.6l-1.9 2.4m.1-.9l-.1 .9l.8-.3M219.7 818.8l-2.9 1.7m.4-.8l-.4 .8l.9 0M219.7 816l-1.8 2.3m.1-.9l-.1 .9l.8-.3M219.7 813.1l-1.6 2.3m.1-.9l-.1 .9l.8-.4M219.7 810.2l.2 3.6m-.5-.7l.5 .7l.4-.8M219.7 807.4l-1.8 2.2m.1-.8l-.1 .8l.8-.3M219.7 804.5l.4 2.7m-.5-.6l.5 .6l.3-.7M219.7 801.7l-.1 4.1m-.4-.8l.4 .8l.5-.8M219.7 798.9l.7-3.5m.3 .8l-.3-.8l-.6 .7M219.7 796l-4.8 2.2m.5-.7l-.5 .7l.9 .1M219.7 793.1l-4.1 2.3m.4-.8l-.4 .8l.9 0M219.7 790.3l2.6-1m-.5 .7l.5-.7l-.8-.1M219.7 787.5l-3 .3m.7-.5l-.7 .5l.8 .4M219.7 784.6l-1.9 2.1m.2-.8l-.2 .8l.8-.3M219.7 781.8l-.6 2.6m-.3-.8l.3 .8l.5-.6M219.7 778.9l-.6 2.9m-.3-.8l.3 .8l.6-.6M219.7 776l-2.1 1.5m.3-.7l-.3 .7l.8-.1M219.7 773.2l-1.3 2.8m-.1-.9l.1 .9l.8-.5M219.7 770.4l-2.2 1.5m.3-.7l-.3 .7l.8-.1M219.7 767.5l-.2 2.5m-.3-.7l.3 .7l.4-.6M219.7 764.6l-1.9 2.4m.1-.9l-.1 .9l.8-.3M219.7 761.8l-1.7 2.1m.1-.8l-.1 .8l.8-.3M219.7 759l.5 2.8m-.6-.6l.6 .6l.3-.8M219.7 756.1l-.1 2.8m-.4-.7l.4 .7l.5-.7M219.7 753.2l-.1 2.4m-.3-.6l.3 .6l.4-.6M219.7 750.4l-.9 2.7m-.2-.8l.2 .8l.7-.6M219.7 747.5l-1.9 2.5m.1-.9l-.1 .9l.8-.3M219.7 744.7l-1.9 2.2m.1-.9l-.1 .9l.8-.3M219.7 741.9l0 2.4m-.4-.6l.4 .6l.4-.6M219.7 739l-2.5 1.9m.3-.8l-.3 .8l.9-.1M219.7 736.1l-.4 2.7m-.3-.8l.3 .8l.5-.6M219.7 733.3l-.8 2.4m-.2-.7l.2 .7l.6-.5M219.7 730.5l-.8 2.7m-.2-.8l.2 .8l.6-.6M219.7 727.6l-3.4 .5m.7-.6l-.7 .6l.8 .3M219.7 724.8l-1.6 2.2m.1-.8l-.1 .8l.8-.3M219.7 721.9l-2.7 1.5m.4-.8l-.4 .8l.9 0M219.7 719l-1.5 2.3m0-.8l0 .8l.8-.4M219.7 716.2l-.2 2.5m-.3-.7l.3 .7l.4-.6M219.7 713.4l-1.8 1.8m.2-.7l-.2 .7l.7-.2M219.7 710.5l-1.4 2.8m-.1-.9l.1 .9l.8-.5M219.7 707.6l-4.7-1.5m.9-.2l-.9 .2l.6 .7M219.7 704.8l-2.5 1.8m.4-.8l-.4 .8l.9-.1M219.7 702l-.6 2.5m-.2-.7l.2 .7l.6-.5M219.7 699.1l-2.6 1.3m.5-.7l-.5 .7l.9 .1M219.7 696.2l2.3-1.7m-.3 .8l.3-.8l-.9 .1M219.7 693.4l-.4 2.9m-.3-.8l.3 .8l.6-.7M219.7 690.5l-1.8 2.5m.1-.9l-.1 .9l.8-.4M219.7 687.7l-.4 2.8m-.3-.8l.3 .8l.5-.7M219.7 684.9l-1.9 1.9m.2-.8l-.2 .8l.8-.2M219.7 682l-2 2.4m.1-.9l-.1 .9l.8-.3M219.7 679.1l-.7 2.7m-.2-.8l.2 .8l.6-.6M219.7 676.3l-2.5 1.9m.3-.8l-.3 .8l.9-.1M219.7 673.5l-.7 3.8m-.3-.8l.3 .8l.6-.7M219.7 670.6l-2.6 1.4m.4-.8l-.4 .8l.9 0M219.7 667.8l3.1 1.6m-.9 .1l.9-.1l-.5-.8M219.7 664.9l0 2.9m-.4-.8l.4 .8l.5-.7M219.7 662l-2.5 1.3m.4-.7l-.4 .7l.8 0M219.7 659.2l-2.5 3m.1-.9l-.1 .9l.9-.3M219.7 656.4l.3 2.6m-.5-.6l.5 .6l.3-.7M219.7 653.5l-.3 2.7m-.3-.7l.3 .7l.5-.6M219.7 650.6l-2.3 1.8m.3-.8l-.3 .8l.9-.1M219.7 647.8l0 2.8m-.4-.7l.4 .7l.4-.7M223.3 830.2l-2.1 2m.2-.8l-.2 .8l.8-.2M223.3 827.4l-.1 2.6m-.4-.7l.4 .7l.4-.6M223.3 824.5l-2.9-.3m.8-.4l-.8 .4l.7 .5M223.3 821.6l-.1 2.6m-.4-.7l.4 .7l.4-.7M223.3 818.8l-1.6 1.9m.1-.7l-.1 .7l.7-.3M223.3 816l-3.1 .4m.7-.6l-.7 .6l.8 .4M223.3 813.1l.1 2.9m-.5-.7l.5 .7l.4-.8M223.3 810.2l-.3 2.8m-.4-.8l.4 .8l.5-.7M223.3 807.4l-1.8 2m.1-.8l-.1 .8l.8-.2M223.3 804.5l0 2.4m-.4-.6l.4 .6l.4-.6M223.3 801.7l-.4-2.3m.4 .5l-.4-.5l-.3 .6M223.3 798.9l-3.5 .6m.7-.6l-.7 .6l.8 .3M223.3 796l-.5 2.9m-.3-.8l.3 .8l.6-.7M223.3 793.1l-.6 2.9m-.3-.8l.3 .8l.6-.7M223.3 790.3l0 2.4m-.4-.6l.4 .6l.4-.6M223.3 787.5l-2.6 1.3m.5-.7l-.5 .7l.9 .1M223.3 784.6l-1.9 2.4m.1-.9l-.1 .9l.8-.3M223.3 781.8l2.6 2.2m-.9-.1l.9 .1l-.3-.9M223.3 778.9l.2 2.5m-.4-.6l.4 .6l.3-.7M223.3 776l-2.7 2m.3-.8l-.3 .8l.9-.1M223.3 773.2l2.1 2.1m-.9-.2l.9 .2l-.2-.9M223.3 770.4l-.3 2.6m-.3-.7l.3 .7l.5-.6M223.3 767.5l.3 2.8m-.5-.7l.5 .7l.4-.7M223.3 764.6l-1.6 2.6m0-.9l0 .9l.8-.4M223.3 761.8l-1.7 2.1m.1-.8l-.1 .8l.8-.3M223.3 759l-3.3 .8m.6-.6l-.6 .6l.9 .3M223.3 756.1l-.6 2.9m-.3-.8l.3 .8l.6-.7M223.3 753.2l-1.8 1.7m.2-.7l-.2 .7l.7-.2M223.3 750.4l-2.9-.9m.9-.2l-.9 .2l.6 .7M223.3 747.5l.1 2.4m-.4-.6l.4 .6l.3-.6M223.3 744.7l-1.7 2m.1-.8l-.1 .8l.7-.3M223.3 741.9l-2.2 2.1m.2-.9l-.2 .9l.9-.2M223.3 739l-1.6 2.2m.1-.8l-.1 .8l.7-.3M223.3 736.1l-3.6 .5m.7-.6l-.7 .6l.8 .4M223.3 733.3l-1.8 2.4m.1-.9l-.1 .9l.8-.3M223.3 730.5l-1.9 1.9m.2-.8l-.2 .8l.8-.2M223.3 727.6l-2.1 1.6m.3-.7l-.3 .7l.8-.1M223.3 724.8l-1.4 2.1m0-.7l0 .7l.7-.3M223.3 721.9l-.3 2.8m-.4-.8l.4 .8l.5-.7M223.3 719l-.1 2.8m-.4-.7l.4 .7l.5-.7M223.3 716.2l-.6 2.2m-.2-.7l.2 .7l.5-.5M223.3 713.4l-1.7 1.9m.1-.7l-.1 .7l.7-.2M223.3 710.5l-.1 2.7m-.4-.7l.4 .7l.4-.7M223.3 707.6l-4.4-.1m.8-.4l-.8 .4l.8 .5M223.3 704.8l.4 2.3m-.4-.5l.4 .5l.3-.7M223.3 702l.7 2.8m-.6-.6l.6 .6l.3-.8M223.3 699.1l0 2.5m-.4-.6l.4 .6l.4-.6M223.3 696.2l-1.9 2.2m.1-.8l-.1 .8l.8-.3M223.3 693.4l0 2.7m-.4-.7l.4 .7l.4-.7M223.3 690.5l-1.6 2.1m.1-.8l-.1 .8l.7-.3M223.3 687.7l-.4 2.3m-.2-.7l.2 .7l.5-.5M223.3 684.9l.6 2.8m-.6-.6l.6 .6l.3-.8M223.3 682l-1.1 2.7m-.1-.9l.1 .9l.7-.5M223.3 679.1l.4 2.3m-.4-.5l.4 .5l.3-.6M223.3 676.3l-.3 3m-.4-.8l.4 .8l.5-.7M223.3 673.5l-1.4 2.6m0-.9l0 .9l.8-.4M223.3 670.6l-1.5 2m.1-.7l-.1 .7l.7-.3M223.3 667.8l3.7 0m-.8 .5l.8-.5l-.8-.5M223.3 664.9l-2.6 1.6m.4-.8l-.4 .8l.9 0M223.3 662l-2.6 3.4m.1-.9l-.1 .9l.8-.3M223.3 659.2l-.1 2.5m-.4-.7l.4 .7l.4-.6M223.3 656.4l-3.2-.1m.8-.4l-.8 .4l.7 .5M223.3 653.5l-.2 2.8m-.4-.7l.4 .7l.5-.7M223.3 650.6l-3-.3m.8-.4l-.8 .4l.7 .5M223.3 647.8l.2 2.4m-.4-.6l.4 .6l.3-.6M227 830.2l0 2.4m-.4-.6l.4 .6l.4-.6M227 827.4l-2.2 1.9m.3-.8l-.3 .8l.9-.1M227 824.5l-4.6 .1m.8-.5l-.8 .5l.8 .5M227 821.6l-3.2-1.5m.9-.1l-.9 .1l.5 .7M227 818.8l2.7 1.6m-.9 0l.9 0l-.4-.8M227 816l-.9 2.6m-.2-.8l.2 .8l.6-.5M227 813.1l-1.7 2.6m0-.9l0 .9l.8-.4M227 810.2l-.3 2.7m-.3-.7l.3 .7l.5-.6M227 807.4l-1.8 2.1m.1-.8l-.1 .8l.8-.3M227 804.5l-.3 2.4m-.3-.7l.3 .7l.4-.6M227 801.7l-2.8 .5m.7-.6l-.7 .6l.8 .3M227 798.9l-1.8 2.5m.1-.9l-.1 .9l.8-.3M227 796l-1.4 2.5m0-.9l0 .9l.8-.4M227 793.1l3 2.7m-.9-.2l.9 .2l-.3-.9M227 790.3l-1.8 2m.1-.8l-.1 .8l.8-.2M227 787.5l-.2 2.3m-.3-.6l.3 .6l.4-.6M227 784.6l-2.4 1.8m.3-.8l-.3 .8l.9-.1M227 781.8l-.4-2.7m.5 .6l-.5-.6l-.3 .8M227 778.9l-2.4 1.2m.4-.7l-.4 .7l.8 .1M227 776l-.4 2.5m-.3-.7l.3 .7l.5-.6M227 773.2l-1.8 2m.1-.8l-.1 .8l.8-.2M227 770.4l-.9 2.7m-.2-.8l.2 .8l.6-.6M227 767.5l-.4 4.4m-.4-.8l.4 .8l.5-.7M227 764.6l-2.2 2.4m.2-.9l-.2 .9l.9-.3M227 761.8l-.1-2.7m.5 .7l-.5-.7l-.4 .7M227 759l0 2.6m-.4-.7l.4 .7l.4-.7M227 756.1l-.4 2.9m-.3-.8l.3 .8l.6-.7M227 753.2l-.3 3.6m-.4-.8l.4 .8l.5-.7M227 750.4l-.2 2.4m-.3-.6l.3 .6l.4-.6M227 747.5l-.1 2.3m-.3-.6l.3 .6l.4-.6M227 744.7l.1 2.8m-.4-.7l.4 .7l.4-.7M227 741.9l-1.5 2.2m0-.8l0 .8l.7-.3M227 739l-.3 2.4m-.3-.7l.3 .7l.4-.6M227 736.1l-3.4 .9m.6-.6l-.6 .6l.9 .3M227 733.3l-1.9 2.3m.1-.9l-.1 .9l.8-.3M227 730.5l-2.1 2.2m.2-.9l-.2 .9l.9-.2M227 727.6l0 2.6m-.4-.7l.4 .7l.4-.7M227 724.8l-2.8 .4m.7-.5l-.7 .5l.8 .3M227 721.9l-2.2 1.5m.3-.7l-.3 .7l.8 0M227 719l-1.8 2.5m.1-.9l-.1 .9l.8-.3M227 716.2l-3.1 .4m.7-.6l-.7 .6l.8 .4M227 713.4l-.4 2.3m-.2-.6l.2 .6l.5-.5M227 710.5l-.1 2.7m-.4-.7l.4 .7l.4-.7M227 707.6l0 2.6m-.4-.7l.4 .7l.4-.7M227 704.8l-3.5 2.5m.4-.8l-.4 .8l.9-.1M227 702l-1.1-2.4m.7 .5l-.7-.5l-.1 .8M227 699.1l-2.2 2.3m.2-.9l-.2 .9l.9-.2M227 696.2l-3.5 1.1m.6-.7l-.6 .7l.9 .2M227 693.4l.4 3m-.6-.7l.6 .7l.4-.8M227 690.5l-.1 3m-.4-.8l.4 .8l.5-.8M227 687.7l-2.5 2.1m.3-.9l-.3 .9l.9-.1M227 684.9l-1.2 2.7m-.1-.9l.1 .9l.7-.5M227 682l-.3 2.7m-.4-.7l.4 .7l.5-.7M227 679.1l-1.3 2.3m0-.8l0 .8l.7-.4M227 676.3l-3.1 .1m.8-.5l-.8 .5l.8 .4M227 673.5l-.2 3m-.4-.8l.4 .8l.5-.7M227 670.6l-3.3 .4m.7-.6l-.7 .6l.8 .4M227 667.8l-2.3 1.7m.3-.8l-.3 .8l.9-.1M227 664.9l.2 2.8m-.5-.7l.5 .7l.4-.8M227 662l-1.6 2.3m0-.8l0 .8l.8-.4M227 659.2l-.2 2.9m-.4-.8l.4 .8l.5-.7M227 656.4l-1.6 2.3m.1-.8l-.1 .8l.8-.3M227 653.5l.1 2.6m-.4-.7l.4 .7l.4-.7M227 650.6l-3.1 2.4m.3-.8l-.3 .8l.9-.1M227 647.8l0 2.7m-.4-.7l.4 .7l.4-.7M230.6 830.2l-2.2 4m0-.9l0 .9l.8-.5M230.6 827.4l-1.9 2.3m.1-.9l-.1 .9l.9-.3M230.6 824.5l-1.5-2.5m.8 .4l-.8-.4l0 .9M230.6 821.6l-1.9-2m.8 .2l-.8-.2l.2 .8M230.6 818.8l-3 .9m.6-.7l-.6 .7l.9 .2M230.6 816l.1 2.8m-.5-.7l.5 .7l.4-.7M230.6 813.1l-.3 2.8m-.4-.8l.4 .8l.5-.7M230.6 810.2l-.4 2.8m-.3-.8l.3 .8l.5-.7M230.6 807.4l2.8-2m-.4 .8l.4-.8l-.9 .1M230.6 804.5l.1 2.3m-.4-.6l.4 .6l.3-.6M230.6 801.7l-1.5 2m.1-.7l-.1 .7l.7-.3M230.6 798.9l-.2 2.7m-.4-.7l.4 .7l.5-.7M230.6 796l-.6 2.3m-.2-.7l.2 .7l.5-.5M230.6 793.1l4.5 1.5m-.9 .2l.9-.2l-.6-.7M230.6 790.3l-.9 2.1m-.1-.7l.1 .7l.6-.4M230.6 787.5l-3.7 .7m.7-.6l-.7 .6l.8 .3M230.6 784.6l-.1 2.3m-.3-.6l.3 .6l.4-.6M230.6 781.8l-.1 2.4m-.3-.6l.3 .6l.4-.6M230.6 778.9l-.2 2.5m-.3-.7l.3 .7l.4-.6M230.6 776l-3.1 2.7m.3-.9l-.3 .9l.9-.2M230.6 773.2l-.5 2.8m-.3-.8l.3 .8l.6-.6M230.6 770.4l-1.4 2.7m-.1-.9l.1 .9l.8-.5M230.6 767.5l-1.7 1.9m.1-.8l-.1 .8l.7-.2M230.6 764.6l.1 3.4m-.5-.8l.5 .8l.4-.8M230.6 761.8l-1.1 2.5m-.1-.8l.1 .8l.7-.5M230.6 759l-3.5 2m.4-.8l-.4 .8l.9 0M230.6 756.1l-.5 2.4m-.3-.7l.3 .7l.5-.5M230.6 753.2l-2 1.6m.3-.7l-.3 .7l.8-.1M230.6 750.4l-1.2 2.7m-.1-.9l.1 .9l.7-.5M230.6 747.5l-.2 2.3m-.3-.6l.3 .6l.4-.6M230.6 744.7l-.2 2.7m-.4-.7l.4 .7l.5-.7M230.6 741.9l-2 2.1m.2-.9l-.2 .9l.8-.2M230.6 739l-2 2.3m.2-.9l-.2 .9l.9-.3M230.6 736.1l-2.8 .6m.6-.6l-.6 .6l.8 .3M230.6 733.3l-1.7 2.6m0-.9l0 .9l.8-.4M230.6 730.5l-1.3 2.7m-.1-.9l.1 .9l.8-.5M230.6 727.6l-.4 2.2m-.2-.6l.2 .6l.5-.5M230.6 724.8l-3 .3m.7-.5l-.7 .5l.8 .4M230.6 721.9l-3 .3m.7-.5l-.7 .5l.8 .4M230.6 719l.1 2.3m-.4-.6l.4 .6l.3-.6M230.6 716.2l-1.2 2.1m0-.7l0 .7l.6-.4M230.6 713.4l-2.9 1m.6-.7l-.6 .7l.9 .2M230.6 710.5l-.2 2.4m-.3-.6l.3 .6l.4-.6M230.6 707.6l-1.7 2.5m.1-.9l-.1 .9l.8-.4M230.6 704.8l2.4 1.8m-.9-.1l.9 .1l-.3-.8M230.6 702l2.6-3.1m-.1 .9l.1-.9l-.8 .3M230.6 699.1l-1.7-2.1m.8 .3l-.8-.3l.1 .8M230.6 696.2l.1 2.9m-.5-.7l.5 .7l.4-.8M230.6 693.4l3.3-2.3m-.4 .8l.4-.8l-.9 .1M230.6 690.5l.1 2.9m-.5-.7l.5 .7l.4-.8M230.6 687.7l-3 .6m.7-.6l-.7 .6l.8 .3M230.6 684.9l-1.7 2.2m.1-.8l-.1 .8l.8-.3M230.6 682l-2.9 1.8m.4-.8l-.4 .8l.9 0M230.6 679.1l-.8 2.6m-.2-.8l.2 .8l.6-.5M230.6 676.3l-2.8 1.5m.5-.8l-.5 .8l.9 .1M230.6 673.5l.1 2.4m-.4-.6l.4 .6l.3-.6M230.6 670.6l-.7 2.8m-.3-.8l.3 .8l.6-.6M230.6 667.8l-2.9 1.9m.4-.8l-.4 .8l.9 0M230.6 664.9l.4 2.7m-.5-.6l.5 .6l.3-.7M230.6 662l-3.1 1.5m.5-.8l-.5 .8l.9 .1M230.6 659.2l-3.1-.2m.8-.4l-.8 .4l.7 .5M230.6 656.4l0 2.7m-.4-.7l.4 .7l.4-.7M230.6 653.5l-.8 2.5m-.2-.8l.2 .8l.6-.5M230.6 650.6l-2 2.5m.1-.9l-.1 .9l.8-.3M230.6 647.8l-.8 4.3m-.3-.8l.3 .8l.6-.7M234.2 830.2l-1.9 2.1m.2-.8l-.2 .8l.8-.2M234.2 827.4l-.1 2.6m-.4-.7l.4 .7l.4-.7M234.2 824.5l-2.1 2m.2-.8l-.2 .8l.9-.2M234.2 821.6l-2 1.8m.2-.8l-.2 .8l.8-.1M234.2 818.8l-2.5 1.2m.4-.7l-.4 .7l.8 .1M234.2 816l-.4 2.4m-.3-.7l.3 .7l.5-.6M234.2 813.1l-.2 2.4m-.3-.7l.3 .7l.4-.6M234.2 810.2l0 2.6m-.4-.7l.4 .7l.4-.7M234.2 807.4l-2.8 .7m.6-.6l-.6 .6l.8 .2M234.2 804.5l-.2 4m-.4-.8l.4 .8l.5-.7M234.2 801.7l-1.2 2.2m0-.7l0 .7l.7-.4M234.2 798.9l-.2 3m-.4-.8l.4 .8l.5-.7M234.2 796l-1.5 2m.1-.8l-.1 .8l.7-.3M234.2 793.1l-.9 2.6m-.2-.8l.2 .8l.6-.5M234.2 790.3l-1.8 2.2m.1-.9l-.1 .9l.8-.3M234.2 787.5l-1.2 2.2m0-.7l0 .7l.6-.4M234.2 784.6l-.8 2.9m-.2-.9l.2 .9l.6-.6M234.2 781.8l-3.2 .7m.7-.6l-.7 .6l.9 .3M234.2 778.9l.5 3.6m-.6-.7l.6 .7l.4-.8M234.2 776l-.3 2.3m-.3-.6l.3 .6l.4-.5M234.2 773.2l-1.7 2.1m.1-.8l-.1 .8l.8-.3M234.2 770.4l-2.2 1.8m.3-.8l-.3 .8l.8-.1M234.2 767.5l2 3.2m-.8-.4l.8 .4l0-.9M234.2 764.6l0 2.6m-.4-.7l.4 .7l.4-.7M234.2 761.8l-.2 2.9m-.4-.8l.4 .8l.5-.7M234.2 759l-.2 2.4m-.3-.7l.3 .7l.4-.6M234.2 756.1l-5.3-.7m.8-.4l-.8 .4l.7 .6M234.2 753.2l-2.1 2.3m.2-.9l-.2 .9l.9-.3M234.2 750.4l.3 2.9m-.5-.7l.5 .7l.4-.8M234.2 747.5l-3.4 .1m.8-.5l-.8 .5l.8 .4M234.2 744.7l2.6-2.2m-.3 .9l.3-.9l-.9 .1M234.2 741.9l-2.9 .4m.7-.5l-.7 .5l.8 .3M234.2 739l-.2 2.7m-.4-.7l.4 .7l.5-.7M234.2 736.1l-.5 2.8m-.3-.8l.3 .8l.6-.6M234.2 733.3l-1.8 2.1m.1-.8l-.1 .8l.8-.3M234.2 730.5l-.3 2.6m-.3-.7l.3 .7l.5-.6M234.2 727.6l-.1 2.5m-.3-.7l.3 .7l.4-.6M234.2 724.8l0 3.6m-.5-.8l.5 .8l.5-.8M234.2 721.9l-2 1.7m.3-.7l-.3 .7l.8-.1M234.2 719l-2 1.7m.3-.8l-.3 .8l.8-.1M234.2 716.2l-.5 2.7m-.3-.8l.3 .8l.5-.6M234.2 713.4l-2.5 2.9m.1-.9l-.1 .9l.9-.3M234.2 710.5l1 4.4m-.6-.6l.6 .6l.3-.9M234.2 707.6l-2.2 2.3m.2-.9l-.2 .9l.9-.2M234.2 704.8l-.5 2.3m-.2-.7l.2 .7l.5-.5M234.2 702l-2.8 3.5m.1-.9l-.1 .9l.8-.3M234.2 699.1l.9 2.9m-.7-.6l.7 .6l.2-.9M234.2 696.2l-.9 2.6m-.2-.8l.2 .8l.6-.5M234.2 693.4l.2 2.4m-.4-.6l.4 .6l.3-.7M234.2 690.5l-1.2 2.4m-.1-.8l.1 .8l.7-.4M234.2 687.7l-.2 2.9m-.4-.8l.4 .8l.5-.7M234.2 684.9l-.3 2.2m-.3-.6l.3 .6l.4-.5M234.2 682l0 2.3m-.4-.6l.4 .6l.3-.6M234.2 679.1l.3 2.9m-.5-.7l.5 .7l.4-.8M234.2 676.3l-1.4 2.7m0-.9l0 .9l.8-.5M234.2 673.5l-1.8 1.9m.2-.8l-.2 .8l.8-.2M234.2 670.6l2 1.9m-.8-.2l.8 .2l-.2-.8M234.2 667.8l.3 2.6m-.5-.6l.5 .6l.3-.7M234.2 664.9l-.8 2.7m-.2-.8l.2 .8l.6-.6M234.2 662l0 2.7m-.4-.7l.4 .7l.4-.7M234.2 659.2l-.7 2.7m-.2-.8l.2 .8l.6-.6M234.2 656.4l1.1-2.2m0 .7l0-.7l-.6 .4M234.2 653.5l-.4 2.9m-.3-.8l.3 .8l.6-.7M234.2 650.6l-.2 2.8m-.4-.8l.4 .8l.5-.7M234.2 647.8l-3.1-.1m.8-.5l-.8 .5l.8 .5M237.8 830.2l.4 2.7m-.5-.6l.5 .6l.3-.8M237.8 827.4l-.4 2.6m-.3-.7l.3 .7l.5-.6M237.8 824.5l-1.7 1.9m.1-.7l-.1 .7l.7-.2M237.8 821.6l-2.1 2.4m.2-.9l-.2 .9l.9-.3M237.8 818.8l0 2.8m-.4-.7l.4 .7l.4-.7M237.8 816l-3.3 .5m.7-.6l-.7 .6l.8 .3M237.8 813.1l-2.3 1.9m.3-.8l-.3 .8l.9-.1M237.8 810.2l-.7 2.6m-.2-.8l.2 .8l.6-.6M237.8 807.4l.1 3.5m-.5-.8l.5 .8l.4-.8M237.8 804.5l-2.3 2m.3-.9l-.3 .9l.9-.2M237.8 801.7l-1.6 2.6m0-.9l0 .9l.8-.4M237.8 798.9l.1 2.3m-.4-.6l.4 .6l.3-.6M237.8 796l.6 2.8m-.6-.6l.6 .6l.3-.8M237.8 793.1l-.6 2.4m-.2-.7l.2 .7l.5-.5M237.8 790.3l-.3 2.4m-.3-.7l.3 .7l.5-.6M237.8 787.5l-.4 2.7m-.3-.8l.3 .8l.5-.6M237.8 784.6l-2.7 1.7m.4-.8l-.4 .8l.9 0M237.8 781.8l-1.4 2.8m-.1-.9l.1 .9l.8-.5M237.8 778.9l0 2.5m-.4-.6l.4 .6l.4-.7M237.8 776l.1 2.4m-.4-.6l.4 .6l.3-.6M237.8 773.2l-.6 2.5m-.2-.7l.2 .7l.5-.6M237.8 770.4l.4 2.8m-.5-.7l.5 .7l.3-.8M237.8 767.5l0 2.3m-.4-.6l.4 .6l.4-.6M237.8 764.6l-1.7 2.5m.1-.9l-.1 .9l.8-.4M237.8 761.8l-3.2 .2m.7-.5l-.7 .5l.8 .4M237.8 759l-2.5 1.9m.3-.8l-.3 .8l.9-.1M237.8 756.1l-1.6 3.9m-.1-.9l.1 .9l.7-.5M237.8 753.2l-1.4 2.6m-.1-.9l.1 .9l.8-.5M237.8 750.4l3 .8m-.9 .2l.9-.2l-.6-.7M237.8 747.5l-.1 2.8m-.4-.7l.4 .7l.5-.7M237.8 744.7l-2.6-1m.8-.1l-.8 .1l.5 .7M237.8 741.9l-2.6 2m.3-.8l-.3 .8l.9-.1M237.8 739l-1.9 2.4m.1-.9l-.1 .9l.8-.3M237.8 736.1l-.7 2.6m-.2-.8l.2 .8l.6-.6M237.8 733.3l-1.3 2.5m0-.8l0 .8l.7-.4M237.8 730.5l-1.6 1.8m.1-.7l-.1 .7l.7-.2M237.8 727.6l-2.6 2m.3-.8l-.3 .8l.9-.1M237.8 724.8l-3.5 1m.6-.7l-.6 .7l.9 .2M237.8 721.9l-.2 2.3m-.3-.6l.3 .6l.4-.6M237.8 719l-2.4 1.5m.4-.8l-.4 .8l.8 0M237.8 716.2l-.2 2.2m-.3-.6l.3 .6l.4-.6M237.8 713.4l-.4 2.4m-.3-.7l.3 .7l.5-.6M237.8 710.5l-1.3 2.7m-.1-.9l.1 .9l.8-.5M237.8 707.6l0 2.8m-.4-.7l.4 .7l.4-.7M237.8 704.8l-3.6 .4m.7-.6l-.7 .6l.8 .4M237.8 702l-2.2 2m.3-.8l-.3 .8l.9-.2M237.8 699.1l-1.3 2.4m0-.8l0 .8l.7-.4M237.8 696.2l-1.9 1.8m.2-.8l-.2 .8l.8-.2M237.8 693.4l-2.4 1.3m.4-.7l-.4 .7l.8 0M237.8 690.5l1.4-2.7m.1 .9l-.1-.9l-.8 .5M237.8 687.7l-.6 2.7m-.3-.8l.3 .8l.6-.6M237.8 684.9l-3.1-.4m.8-.4l-.8 .4l.7 .6M237.8 682l.4 2.7m-.5-.6l.5 .6l.3-.7M237.8 679.1l-2 2.2m.2-.9l-.2 .9l.9-.2M237.8 676.3l-.1 2.3m-.3-.6l.3 .6l.4-.6M237.8 673.5l-.8 4.2m-.3-.8l.3 .8l.6-.7M237.8 670.6l-3.6 3.3m.3-.9l-.3 .9l.9-.2M237.8 667.8l0 3.9m-.5-.8l.5 .8l.5-.8M237.8 664.9l-1.1 2.8m-.2-.9l.2 .9l.7-.5M237.8 662l-.2 2.5m-.3-.7l.3 .7l.4-.6M237.8 659.2l-1.8 1.9m.2-.8l-.2 .8l.8-.2M237.8 656.4l-.5 2.8m-.3-.8l.3 .8l.6-.6M237.8 653.5l0 2.7m-.4-.7l.4 .7l.4-.7M237.8 650.6l-.2 2.6m-.4-.7l.4 .7l.5-.6M237.8 647.8l.2 2.8m-.5-.7l.5 .7l.4-.8M241.4 830.2l-2.1 1.7m.3-.8l-.3 .8l.8-.1M241.4 827.4l-3 1.8m.4-.8l-.4 .8l.9 0M241.4 824.5l-.3 2.4m-.3-.7l.3 .7l.5-.6M241.4 821.6l2 2m-.8-.2l.8 .2l-.2-.8M241.4 818.8l-2 2.3m.2-.9l-.2 .9l.9-.3M241.4 816l-.4 3.4m-.4-.8l.4 .8l.6-.7M241.4 813.1l-1.7 1.9m.1-.7l-.1 .7l.7-.2M241.4 810.2l-.1 2.7m-.4-.7l.4 .7l.5-.7M241.4 807.4l-.1 4.2m-.4-.8l.4 .8l.5-.8M241.4 804.5l.1 3.4m-.5-.8l.5 .8l.4-.8M241.4 801.7l.5 2.9m-.6-.7l.6 .7l.3-.8M241.4 798.9l-1.2 2.1m0-.7l0 .7l.6-.4M241.4 796l-.3 2.9m-.4-.8l.4 .8l.5-.7M241.4 793.1l-1.5 2.1m.1-.8l-.1 .8l.7-.3M241.4 790.3l-2 1.7m.3-.8l-.3 .8l.8-.1M241.4 787.5l0 2.5m-.4-.6l.4 .6l.4-.6M241.4 784.6l-1.9 2.3m.1-.9l-.1 .9l.8-.3M241.4 781.8l-3.3 .1m.8-.5l-.8 .5l.8 .4M241.4 778.9l-2.3 1.5m.3-.7l-.3 .7l.8 0M241.4 776l0 3.5m-.5-.8l.5 .8l.5-.8M241.4 773.2l.1 2.4m-.4-.6l.4 .6l.3-.6M241.4 770.4l-1.9 1.9m.2-.8l-.2 .8l.8-.2M241.4 767.5l-.4 2.5m-.3-.7l.3 .7l.5-.6M241.4 764.6l.2 4m-.5-.7l.5 .7l.4-.8M241.4 761.8l-.3 2.4m-.3-.7l.3 .7l.5-.6M241.4 759l-2.1 1.6m.3-.7l-.3 .7l.8-.1M241.4 756.1l-3.1 .3m.7-.5l-.7 .5l.8 .4M241.4 753.2l-3.3 1.5m.5-.7l-.5 .7l.9 .1M241.4 750.4l-1.8 2.4m.1-.9l-.1 .9l.8-.3M241.4 747.5l-3.1 2.6m.3-.9l-.3 .9l.9-.1M241.4 744.7l.3 2.9m-.5-.7l.5 .7l.4-.8M241.4 741.9l-1.3 3.5m-.2-.9l.2 .9l.7-.6M241.4 739l-3.2 0m.8-.5l-.8 .5l.8 .5M241.4 736.1l-.1 2.3m-.3-.6l.3 .6l.4-.6M241.4 733.3l-1.8 2.3m.1-.9l-.1 .9l.8-.3M241.4 730.5l.4 2.4m-.5-.6l.5 .6l.3-.7M241.4 727.6l-1.8 2.1m.1-.8l-.1 .8l.8-.3M241.4 724.8l-1.5-2.1m.7 .3l-.7-.3l0 .8M241.4 721.9l2-2.2m-.2 .9l.2-.9l-.9 .3M241.4 719l.2 2.3m-.4-.6l.4 .6l.3-.6M241.4 716.2l-.5 2.9m-.3-.8l.3 .8l.6-.7M241.4 713.4l-.2 2.5m-.3-.7l.3 .7l.4-.6M241.4 710.5l-1.7 2.4m.1-.9l-.1 .9l.8-.4M241.4 707.6l-.2 2.6m-.4-.7l.4 .7l.4-.6M241.4 704.8l-.9 2.3m-.1-.7l.1 .7l.6-.4M241.4 702l-2 2.1m.2-.9l-.2 .9l.8-.2M241.4 699.1l-3.2 .8m.6-.6l-.6 .6l.9 .3M241.4 696.2l-.4 2.5m-.3-.7l.3 .7l.5-.6M241.4 693.4l0 2.5m-.4-.6l.4 .6l.4-.6M241.4 690.5l-3.2 2.7m.3-.9l-.3 .9l.9-.1M241.4 687.7l-2.5 1.9m.3-.8l-.3 .8l.9-.1M241.4 684.9l-.2 2.8m-.4-.7l.4 .7l.5-.7M241.4 682l.1 2.3m-.4-.6l.4 .6l.3-.6M241.4 679.1l-2 2.3m.2-.9l-.2 .9l.9-.3M241.4 676.3l0 2.3m-.3-.6l.3 .6l.4-.6M241.4 673.5l-.2 2.6m-.4-.7l.4 .7l.4-.7M241.4 670.6l-2.3 2.3m.2-.9l-.2 .9l.9-.2M241.4 667.8l-.4 2.5m-.3-.7l.3 .7l.5-.6M241.4 664.9l-.6 2.5m-.2-.7l.2 .7l.5-.5M241.4 662l-1.5 2.4m0-.8l0 .8l.7-.4M241.4 659.2l0 2.5m-.4-.6l.4 .6l.4-.6M241.4 656.4l-.3 3.9m-.4-.8l.4 .8l.5-.7M241.4 653.5l-.9 2.3m-.1-.7l.1 .7l.6-.4M241.4 650.6l-2 1.9m.2-.8l-.2 .8l.8-.2M241.4 647.8l-.8 2.7m-.2-.8l.2 .8l.6-.6M245 830.2l-.1 2.8m-.4-.7l.4 .7l.5-.7M245 827.4l1.3-2.7m.1 .9l-.1-.9l-.7 .5M245 824.5l.5 2.3m-.5-.5l.5 .5l.2-.7M245 821.6l.1 2.4m-.4-.6l.4 .6l.3-.6M245 818.8l-2 3.5m0-.9l0 .9l.8-.4M245 816l-3.1-.5m.8-.3l-.8 .3l.7 .6M245 813.1l-.8 2.3m-.2-.7l.2 .7l.6-.5M245 810.2l1.2 4.2m-.7-.6l.7 .6l.2-.9M245 807.4l1.6 2m-.7-.3l.7 .3l-.1-.8M245 804.5l-2.3 2.1m.3-.9l-.3 .9l.9-.2M245 801.7l-2.3 1.8m.3-.8l-.3 .8l.9-.1M245 798.9l-1.4 2.5m0-.9l0 .9l.8-.4M245 796l-2.9 1.5m.5-.8l-.5 .8l.9 .1M245 793.1l-.2 2.7m-.4-.7l.4 .7l.5-.7M245 790.3l.4 2.8m-.5-.6l.5 .6l.3-.8M245 787.5l.1 2.7m-.5-.7l.5 .7l.4-.7M245 784.6l-1 2.6m-.2-.8l.2 .8l.7-.5M245 781.8l-.5 3.4m-.3-.8l.3 .8l.6-.7M245 778.9l-1.7 2.2m.1-.8l-.1 .8l.8-.3M245 776l-1.9 2.5m.1-.9l-.1 .9l.8-.3M245 773.2l-1.2 2.6m-.1-.9l.1 .9l.7-.5M245 770.4l-.2 3m-.4-.8l.4 .8l.5-.7M245 767.5l0 2.4m-.4-.6l.4 .6l.4-.6M245 764.6l2.3 2.1m-.9-.2l.9 .2l-.2-.9M245 761.8l.1 2.7m-.4-.7l.4 .7l.4-.7M245 759l-2.1 1.7m.3-.8l-.3 .8l.8-.1M245 756.1l-2.4 1.5m.4-.8l-.4 .8l.9 0M245 753.2l-.2 2.4m-.3-.7l.3 .7l.4-.6M245 750.4l-2.9-1.4m.9-.1l-.9 .1l.5 .8M245 747.5l-2.5 2m.3-.8l-.3 .8l.9-.1M245 744.7l-.6 2.8m-.3-.8l.3 .8l.6-.6M245 741.9l-2.8 1.8m.4-.8l-.4 .8l.9 0M245 739l.2 2.5m-.4-.6l.4 .6l.3-.7M245 736.1l-2.8 .2m.7-.5l-.7 .5l.8 .4M245 733.3l-1.5 2.3m0-.8l0 .8l.8-.4M245 730.5l-1.8 2.6m.1-.9l-.1 .9l.8-.4M245 727.6l2.8 1.6m-.9 0l.9 0l-.4-.8M245 724.8l-.3 2.8m-.4-.8l.4 .8l.5-.7M245 721.9l0 2.9m-.5-.8l.5 .8l.5-.8M245 719l-2.9 .7m.6-.6l-.6 .6l.9 .3M245 716.2l-1.9 1.9m.2-.8l-.2 .8l.8-.2M245 713.4l-1 2.3m-.1-.7l.1 .7l.6-.4M245 710.5l-.2 2.7m-.4-.7l.4 .7l.5-.7M245 707.6l-3.9 2.4m.4-.8l-.4 .8l.9 0M245 704.8l-.5 2.7m-.3-.8l.3 .8l.6-.6M245 702l-.4 2.4m-.3-.7l.3 .7l.5-.6M245 699.1l-2.1 1.7m.3-.8l-.3 .8l.8-.1M245 696.2l-.8 2.5m-.2-.8l.2 .8l.6-.5M245 693.4l-.1 3m-.4-.8l.4 .8l.5-.8M245 690.5l-.2 3m-.4-.8l.4 .8l.5-.7M245 687.7l-.3 2.9m-.4-.8l.4 .8l.5-.7M245 684.9l-1.6 2.5m0-.9l0 .9l.8-.4M245 682l.1 2.4m-.4-.6l.4 .6l.4-.6M245 679.1l-.3 2.3m-.3-.6l.3 .6l.4-.6M245 676.3l.7 2.8m-.6-.6l.6 .6l.2-.8M245 673.5l-.4 2.7m-.3-.8l.3 .8l.5-.6M245 670.6l-.3 2.2m-.3-.6l.3 .6l.4-.5M245 667.8l1.3-2.6m.1 .9l-.1-.9l-.7 .5M245 664.9l-1.5 2.7m0-.9l0 .9l.8-.5M245 662l-1.5 2.1m.1-.8l-.1 .8l.7-.3M245 659.2l-2.5 1.8m.3-.8l-.3 .8l.9-.1M245 656.4l-1.6 2.2m.1-.8l-.1 .8l.7-.3M245 653.5l3.4 .4m-.8 .4l.8-.4l-.7-.6M245 650.6l-.5 2.6m-.3-.8l.3 .8l.5-.6M245 647.8l-1.4 2.4m0-.8l0 .8l.7-.4M248.7 830.2l.2-2.9m.4 .8l-.4-.8l-.5 .7M248.7 827.4l-1.1 2.6m-.1-.8l.1 .8l.7-.5M248.7 824.5l-2.3 1.5m.4-.7l-.4 .7l.8 0M248.7 821.6l-2.1 1.9m.2-.8l-.2 .8l.8-.2M248.7 818.8l-.1 2.8m-.4-.7l.4 .7l.5-.7M248.7 816l-2.6 1.8m.4-.8l-.4 .8l.9-.1M248.7 813.1l.2 2.7m-.4-.7l.4 .7l.4-.7M248.7 810.2l-2.9 .6m.6-.6l-.6 .6l.8 .3M248.7 807.4l-.8 2.7m-.2-.8l.2 .8l.6-.6M248.7 804.5l0 2.3m-.4-.6l.4 .6l.4-.6M248.7 801.7l1.9 1.8m-.8-.2l.8 .2l-.2-.8M248.7 798.9l3.1-1.7m-.4 .8l.4-.8l-.9 0M248.7 796l.2 2.8m-.5-.7l.5 .7l.4-.8M248.7 793.1l3.1 .1m-.8 .4l.8-.4l-.8-.5M248.7 790.3l.1 2.9m-.5-.7l.5 .7l.4-.8M248.7 787.5l-2.3 2.3m.2-.9l-.2 .9l.9-.2M248.7 784.6l-2.9 2.5m.3-.9l-.3 .9l.9-.2M248.7 781.8l-.1 2.9m-.4-.8l.4 .8l.5-.7M248.7 778.9l.1 2.4m-.4-.6l.4 .6l.3-.6M248.7 776l-2.5 1.9m.3-.8l-.3 .8l.9-.1M248.7 773.2l.2 2.4m-.4-.6l.4 .6l.3-.6M248.7 770.4l.2 2.4m-.4-.6l.4 .6l.3-.6M248.7 767.5l-2.6 2m.3-.8l-.3 .8l.9-.1M248.7 764.6l-2.2 2.4m.2-.9l-.2 .9l.9-.3M248.7 761.8l.3 2.9m-.5-.7l.5 .7l.4-.8M248.7 759l0 2.6m-.4-.7l.4 .7l.4-.7M248.7 756.1l-2.9 .4m.7-.6l-.7 .6l.8 .3M248.7 753.2l-3.6 .7m.7-.6l-.7 .6l.8 .3M248.7 750.4l.2 2.3m-.4-.6l.4 .6l.3-.6M248.7 747.5l-.8 2.4m-.2-.8l.2 .8l.6-.5M248.7 744.7l2.4 1.7m-.9-.1l.9 .1l-.4-.8M248.7 741.9l-.1 2.3m-.3-.6l.3 .6l.4-.6M248.7 739l-2.3 1.9m.3-.8l-.3 .8l.9-.1M248.7 736.1l-.4 2.8m-.3-.8l.3 .8l.5-.7M248.7 733.3l-1.1-2.5m.7 .5l-.7-.5l-.1 .8M248.7 730.5l-2.3 1.5m.3-.7l-.3 .7l.8 0M248.7 727.6l-.5 2.8m-.3-.8l.3 .8l.6-.6M248.7 724.8l-.4 2.3m-.3-.7l.3 .7l.5-.5M248.7 721.9l-.3 2.5m-.3-.7l.3 .7l.5-.6M248.7 719l-.1 2.5m-.4-.7l.4 .7l.4-.6M248.7 716.2l-.5 2.9m-.3-.8l.3 .8l.6-.7M248.7 713.4l-1.8 2.4m.1-.9l-.1 .9l.8-.3M248.7 710.5l-4.1 2.9m.4-.8l-.4 .8l.9-.1M248.7 707.6l.2 2.6m-.5-.6l.5 .6l.3-.7M248.7 704.8l0 2.4m-.4-.6l.4 .6l.4-.6M248.7 702l-.5 2.6m-.3-.7l.3 .7l.5-.6M248.7 699.1l-1.5 2m.1-.7l-.1 .7l.7-.3M248.7 696.2l-1.8 2.2m.1-.8l-.1 .8l.8-.3M248.7 693.4l-.3 2.9m-.4-.8l.4 .8l.5-.7M248.7 690.5l-2.4 2m.3-.9l-.3 .9l.9-.1M248.7 687.7l0 2.5m-.4-.6l.4 .6l.4-.6M248.7 684.9l-2.8-1.6m.9 0l-.9 0l.4 .8M248.7 682l-1.6 2.6m0-.9l0 .9l.8-.4M248.7 679.1l.5 2.3m-.5-.5l.5 .5l.2-.7M248.7 676.3l-1.6 2m.1-.8l-.1 .8l.7-.3M248.7 673.5l-.6 2.9m-.3-.8l.3 .8l.6-.7M248.7 670.6l-.1 2.5m-.4-.6l.4 .6l.4-.6M248.7 667.8l-1 3.6m-.3-.9l.3 .9l.6-.6M248.7 664.9l.1 2.6m-.4-.7l.4 .7l.4-.7M248.7 662l-2.6 1.2m.5-.7l-.5 .7l.8 .1M248.7 659.2l-4 2.8m.4-.8l-.4 .8l.9-.1M248.7 656.4l3.4-.5m-.7 .6l.7-.6l-.8-.4M248.7 653.5l.4 2.8m-.5-.7l.5 .7l.3-.8M248.7 650.6l-.4 2.5m-.3-.7l.3 .7l.5-.6M248.7 647.8l0 2.3m-.3-.6l.3 .6l.4-.6M252.3 830.2l-.2 2.5m-.3-.7l.3 .7l.4-.6M252.3 827.4l-1.3 2.4m0-.8l0 .8l.7-.4M252.3 824.5l-2.9-.2m.8-.4l-.8 .4l.7 .5M252.3 821.6l-.8 2.6m-.2-.8l.2 .8l.6-.5M252.3 818.8l-.2 2.4m-.3-.6l.3 .6l.4-.6M252.3 816l-3.4 .2m.7-.5l-.7 .5l.8 .4M252.3 813.1l-2.9 .1m.7-.5l-.7 .5l.8 .4M252.3 810.2l-2.4 2.2m.3-.9l-.3 .9l.9-.2M252.3 807.4l-3 3.8m.1-.9l-.1 .9l.8-.3M252.3 804.5l-2.5 1.8m.4-.8l-.4 .8l.9-.1M252.3 801.7l-.1 2.4m-.3-.6l.3 .6l.4-.6M252.3 798.9l-2.4 1.6m.4-.8l-.4 .8l.8 0M252.3 796l0 2.5m-.4-.6l.4 .6l.4-.6M252.3 793.1l-3.7-.2m.8-.4l-.8 .4l.7 .5M252.3 790.3l-2.5 2.1m.3-.8l-.3 .8l.9-.1M252.3 787.5l0 3.9m-.5-.8l.5 .8l.5-.8M252.3 784.6l-2.6 2m.3-.8l-.3 .8l.9-.1M252.3 781.8l-2.1 2.3m.2-.9l-.2 .9l.9-.3M252.3 778.9l-2 2m.2-.8l-.2 .8l.8-.2M252.3 776l-2.2 1.7m.3-.8l-.3 .8l.8-.1M252.3 773.2l-2.2 2.1m.2-.9l-.2 .9l.9-.2M252.3 770.4l-1.4 2.6m-.1-.9l.1 .9l.8-.5M252.3 767.5l-.3 2.7m-.3-.7l.3 .7l.5-.6M252.3 764.6l.8-2.4m.2 .8l-.2-.8l-.6 .5M252.3 761.8l.4 2.5m-.5-.6l.5 .6l.3-.7M252.3 759l-2.5 2m.3-.8l-.3 .8l.9-.1M252.3 756.1l.1 2.7m-.4-.7l.4 .7l.4-.7M252.3 753.2l-.4 2.3m-.3-.7l.3 .7l.5-.5M252.3 750.4l0 2.5m-.4-.6l.4 .6l.4-.6M252.3 747.5l-.3 2.5m-.3-.7l.3 .7l.5-.6M252.3 744.7l-1.9 2.4m.1-.9l-.1 .9l.8-.3M252.3 741.9l-2 2.5m.1-.9l-.1 .9l.8-.3M252.3 739l.5-2.9m.3 .8l-.3-.8l-.6 .7M252.3 736.1l.4 2.9m-.6-.7l.6 .7l.3-.8M252.3 733.3l-2.1 1.8m.3-.8l-.3 .8l.8-.1M252.3 730.5l-5.2 .7m.7-.6l-.7 .6l.8 .4M252.3 727.6l-3 .5m.7-.6l-.7 .6l.8 .3M252.3 724.8l-.4 3.5m-.4-.8l.4 .8l.5-.7M252.3 721.9l1 3.8m-.6-.6l.6 .6l.3-.9M252.3 719l-2.9 .8m.6-.6l-.6 .6l.9 .3M252.3 716.2l2.9 .8m-.9 .3l.9-.3l-.6-.6M252.3 713.4l-2.9 .4m.7-.6l-.7 .6l.8 .3M252.3 710.5l-2.9-.9m.9-.2l-.9 .2l.6 .7M252.3 707.6l-1 2.1m-.1-.7l.1 .7l.6-.4M252.3 704.8l-2.9 1.2m.5-.7l-.5 .7l.9 .1M252.3 702l-2.2 1.8m.3-.8l-.3 .8l.9-.1M252.3 699.1l-2.6 1.5m.4-.8l-.4 .8l.9 0M252.3 696.2l-.1 2.3m-.3-.6l.3 .6l.4-.6M252.3 693.4l-2.3 2.3m.2-.9l-.2 .9l.9-.2M252.3 690.5l-2.9 1.6m.4-.8l-.4 .8l.9 0M252.3 687.7l1.8 2.1m-.8-.3l.8 .3l-.1-.8M252.3 684.9l-3 .6m.7-.6l-.7 .6l.8 .3M252.3 682l.1 2.9m-.5-.7l.5 .7l.4-.8M252.3 679.1l-1.6 1.8m.1-.7l-.1 .7l.7-.2M252.3 676.3l2.7 1m-.8 .2l.8-.2l-.6-.7M252.3 673.5l-1.9 2.5m.1-.9l-.1 .9l.8-.3M252.3 670.6l-.7 2.8m-.2-.8l.2 .8l.6-.6M252.3 667.8l-1.9 2.5m.1-.9l-.1 .9l.8-.3M252.3 664.9l-.3 2.6m-.3-.7l.3 .7l.5-.6M252.3 662l3.1 1.4m-.9 .1l.9-.1l-.5-.7M252.3 659.2l0 2.6m-.4-.7l.4 .7l.4-.7M252.3 656.4l.5 4.4m-.6-.7l.6 .7l.4-.8M252.3 653.5l-2.4 2.2m.3-.9l-.3 .9l.9-.2M252.3 650.6l-2 1.8m.2-.8l-.2 .8l.8-.1M252.3 647.8l-.1 3.8m-.4-.8l.4 .8l.5-.8M255.9 830.2l-1.9 2m.2-.8l-.2 .8l.8-.2M255.9 827.4l-2.2 1.6m.3-.7l-.3 .7l.8-.1M255.9 824.5l-2.3 1.4m.4-.7l-.4 .7l.8 0M255.9 821.6l-.5 3m-.3-.8l.3 .8l.6-.7M255.9 818.8l-1.8 2.3m.1-.9l-.1 .9l.8-.3M255.9 816l-.1 2.3m-.3-.6l.3 .6l.4-.6M255.9 813.1l-2.9 .2m.7-.5l-.7 .5l.8 .4M255.9 810.2l-3.6-.4m.8-.4l-.8 .4l.7 .5M255.9 807.4l.6 2.8m-.6-.6l.6 .6l.3-.8M255.9 804.5l.2 2.6m-.4-.6l.4 .6l.3-.7M255.9 801.7l-3.7 0m.8-.5l-.8 .5l.8 .5M255.9 798.9l-2.2 2m.3-.9l-.3 .9l.9-.2M255.9 796l-2 2m.2-.8l-.2 .8l.8-.2M255.9 793.1l-1.4 2.1m0-.7l0 .7l.7-.3M255.9 790.3l.1 2.9m-.5-.7l.5 .7l.4-.8M255.9 787.5l-1.4 2.1m0-.8l0 .8l.7-.3M255.9 784.6l-2.1 2.3m.2-.9l-.2 .9l.9-.2M255.9 781.8l.4 2.7m-.5-.6l.5 .6l.3-.7M255.9 778.9l-.6 2.8m-.3-.8l.3 .8l.6-.6M255.9 776l.1 2.3m-.4-.6l.4 .6l.3-.6M255.9 773.2l-1.1 2.1m-.1-.7l.1 .7l.6-.4M255.9 770.4l-3.9 2.9m.3-.8l-.3 .8l.9-.1M255.9 767.5l-3.1 1.5m.5-.8l-.5 .8l.9 .1M255.9 764.6l.3 2.3m-.4-.5l.4 .5l.3-.6M255.9 761.8l-.2 2.9m-.4-.8l.4 .8l.5-.7M255.9 759l-.3 2.8m-.3-.8l.3 .8l.5-.7M255.9 756.1l-.1 2.8m-.4-.7l.4 .7l.5-.7M255.9 753.2l-3.7-3.3m.9 .2l-.9-.2l.3 .9M255.9 750.4l-1.8 2.1m.1-.8l-.1 .8l.8-.3M255.9 747.5l-2.2 2.2m.2-.9l-.2 .9l.9-.2M255.9 744.7l1.2 2.8m-.7-.5l.7 .5l.1-.9M255.9 741.9l-1.6 2.2m.1-.8l-.1 .8l.8-.3M255.9 739l-3 2.9m.2-.9l-.2 .9l.9-.2M255.9 736.1l-.1 2.4m-.3-.6l.3 .6l.4-.6M255.9 733.3l-2.7 .9m.6-.6l-.6 .6l.8 .2M255.9 730.5l-.2 2.9m-.4-.8l.4 .8l.5-.7M255.9 727.6l.2 2.3m-.4-.6l.4 .6l.3-.6M255.9 724.8l-1.2 2.2m0-.7l0 .7l.6-.4M255.9 721.9l-.1 2.8m-.4-.7l.4 .7l.5-.7M255.9 719l5.6 .3m-.8 .4l.8-.4l-.7-.5M255.9 716.2l-1.8 2.2m.1-.8l-.1 .8l.8-.3M255.9 713.4l-2 1.9m.2-.8l-.2 .8l.8-.2M255.9 710.5l.1 2.6m-.4-.7l.4 .7l.4-.7M255.9 707.6l0 3m-.5-.8l.5 .8l.5-.8M255.9 704.8l-2.5 2m.3-.8l-.3 .8l.9-.1M255.9 702l-2.6 3.5m.1-.9l-.1 .9l.8-.3M255.9 699.1l-.5 2.4m-.2-.7l.2 .7l.5-.5M255.9 696.2l-3.1 .2m.7-.5l-.7 .5l.8 .4M255.9 693.4l.1 2.6m-.4-.7l.4 .7l.4-.7M255.9 690.5l-1.6 2.2m.1-.8l-.1 .8l.8-.3M255.9 687.7l-.3 2.8m-.3-.8l.3 .8l.5-.7M255.9 684.9l-1.6 2m.1-.8l-.1 .8l.7-.3M255.9 682l4 2.4m-.9 0l.9 0l-.4-.8M255.9 679.1l1.5 2.7m-.8-.4l.8 .4l0-.9M255.9 676.3l-4.2 2.4m.4-.8l-.4 .8l.9 0M255.9 673.5l-.4 2.8m-.3-.8l.3 .8l.5-.6M255.9 670.6l-.4 2.7m-.3-.8l.3 .8l.5-.6M255.9 667.8l-.3 2.3m-.3-.6l.3 .6l.4-.5M255.9 664.9l.1-2.3m.3 .6l-.3-.6l-.4 .6M255.9 662l-1.7-3.5m.8 .5l-.8-.5l-.1 .9M255.9 659.2l-3.2 3.3m.2-.9l-.2 .9l.9-.2M255.9 656.4l.1 2.4m-.4-.6l.4 .6l.3-.6M255.9 653.5l-.8 3.4m-.3-.9l.3 .9l.6-.6M255.9 650.6l-.3 2.4m-.3-.6l.3 .6l.4-.6M255.9 647.8l-.2 2.4m-.3-.6l.3 .6l.4-.6M259.5 830.2l-.1 2.5m-.4-.6l.4 .6l.4-.6M259.5 827.4l0 2.3m-.4-.6l.4 .6l.4-.6M259.5 824.5l-2 2m.2-.8l-.2 .8l.8-.2M259.5 821.6l-.1 2.4m-.3-.6l.3 .6l.4-.6M259.5 818.8l-.2 2.4m-.3-.6l.3 .6l.4-.6M259.5 816l-.5 4.1m-.4-.8l.4 .8l.6-.7M259.5 813.1l-2.4 1.7m.4-.8l-.4 .8l.9-.1M259.5 810.2l-1.9 2m.2-.8l-.2 .8l.8-.2M259.5 807.4l-2.8 .6m.6-.6l-.6 .6l.8 .3M259.5 804.5l-2.2 1.5m.3-.7l-.3 .7l.8-.1M259.5 801.7l-1.9 2m.2-.8l-.2 .8l.8-.2M259.5 798.9l1.2 2.5m-.7-.5l.7 .5l.1-.8M259.5 796l-3.2-.1m.8-.4l-.8 .4l.8 .5M259.5 793.1l1.1-2.1m0 .7l0-.7l-.6 .4M259.5 790.3l-1.9 2m.2-.8l-.2 .8l.8-.2M259.5 787.5l-.4 2.3m-.3-.7l.3 .7l.5-.5M259.5 784.6l-3.6 3.3m.2-.9l-.2 .9l.9-.2M259.5 781.8l-1.6 1.8m.1-.7l-.1 .7l.7-.2M259.5 778.9l-3.1 .8m.6-.6l-.6 .6l.9 .3M259.5 776l-.1 2.9m-.4-.8l.4 .8l.5-.7M259.5 773.2l-.5 2.4m-.2-.7l.2 .7l.5-.5M259.5 770.4l2.3 1.5m-.8 0l.8 0l-.4-.8M259.5 767.5l.3 2.5m-.5-.6l.5 .6l.3-.7M259.5 764.6l-.9 2.9m-.2-.9l.2 .9l.7-.6M259.5 761.8l-3.3 .7m.7-.6l-.7 .6l.8 .3M259.5 759l-.1 2.4m-.4-.6l.4 .6l.4-.6M259.5 756.1l-1.4-2.2m.7 .3l-.7-.3l0 .8M259.5 753.2l-1.4 2.4m0-.8l0 .8l.7-.4M259.5 750.4l.1 2.5m-.4-.6l.4 .6l.4-.6M259.5 747.5l.2 2.7m-.5-.7l.5 .7l.4-.7M259.5 744.7l-.6 2.5m-.2-.7l.2 .7l.5-.5M259.5 741.9l-2 3.3m0-.9l0 .9l.8-.4M259.5 739l-3.3 .8m.6-.6l-.6 .6l.9 .3M259.5 736.1l-3.2 .3m.7-.5l-.7 .5l.8 .4M259.5 733.3l-2.2 1.5m.3-.7l-.3 .7l.8-.1M259.5 730.5l-2.1 1.7m.3-.8l-.3 .8l.8-.1M259.5 727.6l.8 2.7m-.6-.6l.6 .6l.2-.8M259.5 724.8l-.9-2.8m.7 .6l-.7-.6l-.2 .9M259.5 721.9l-.1 2.4m-.3-.6l.3 .6l.4-.6M259.5 719l-1.7 2.5m0-.9l0 .9l.8-.4M259.5 716.2l2.5-1.4m-.4 .7l.4-.7l-.9 0M259.5 713.4l.3 2.5m-.5-.6l.5 .6l.3-.7M259.5 710.5l.1 2.7m-.4-.7l.4 .7l.4-.7M259.5 707.6l-.2 2.3m-.3-.6l.3 .6l.4-.6M259.5 704.8l-.3 2.6m-.3-.7l.3 .7l.5-.6M259.5 702l.1 2.6m-.4-.6l.4 .6l.4-.7M259.5 699.1l.3 2.8m-.5-.7l.5 .7l.3-.8M259.5 696.2l-1.6 2m.1-.8l-.1 .8l.7-.3M259.5 693.4l-3.8-.1m.8-.4l-.8 .4l.8 .5M259.5 690.5l-1.7 1.9m.1-.7l-.1 .7l.7-.2M259.5 687.7l.5 3m-.6-.7l.6 .7l.3-.8M259.5 684.9l-1.2 2.1m0-.7l0 .7l.6-.4M259.5 682l-2.7 2.8m.2-.9l-.2 .9l.9-.2M259.5 679.1l-1.6 2.1m.1-.8l-.1 .8l.7-.3M259.5 676.3l-2.2 2.3m.2-.9l-.2 .9l.9-.2M259.5 673.5l-.4 2.6m-.3-.7l.3 .7l.5-.6M259.5 670.6l-2.4 1.7m.4-.8l-.4 .8l.9-.1M259.5 667.8l-2.2 1.8m.3-.8l-.3 .8l.8-.1M259.5 664.9l0 2.4m-.4-.6l.4 .6l.4-.6M259.5 662l-2.6 2m.3-.8l-.3 .8l.9-.1M259.5 659.2l-.4 2.3m-.2-.7l.2 .7l.5-.5M259.5 656.4l1.3 2.3m-.7-.4l.7 .4l0-.8M259.5 653.5l-1.2 2.4m-.1-.8l.1 .8l.7-.4M259.5 650.6l0 2.5m-.4-.6l.4 .6l.4-.7M259.5 647.8l0 2.3m-.3-.6l.3 .6l.4-.6M263.1 830.2l-.1 2.5m-.3-.7l.3 .7l.4-.6M263.1 827.4l1.1-2.2m.1 .7l-.1-.7l-.6 .4M263.1 824.5l-.1 2.6m-.4-.7l.4 .7l.4-.6M263.1 821.6l0 2.6m-.4-.7l.4 .7l.4-.7M263.1 818.8l-2.9-.4m.8-.4l-.8 .4l.7 .5M263.1 816l-2 2m.2-.8l-.2 .8l.8-.2M263.1 813.1l-2.6 1.4m.5-.8l-.5 .8l.9 .1M263.1 810.2l-1.5 2.3m0-.8l0 .8l.8-.4M263.1 807.4l-3 1.3m.5-.7l-.5 .7l.9 .1M263.1 804.5l-.3 2.4m-.3-.7l.3 .7l.4-.6M263.1 801.7l-2.4 1.6m.4-.8l-.4 .8l.9 0M263.1 798.9l-.3 2.4m-.3-.7l.3 .7l.5-.6M263.1 796l-1.6 2.1m.1-.8l-.1 .8l.7-.3M263.1 793.1l-1.8 2m.1-.8l-.1 .8l.8-.2M263.1 790.3l.6-2.3m.2 .7l-.2-.7l-.5 .5M263.1 787.5l-1.9 2.2m.2-.9l-.2 .9l.8-.3M263.1 784.6l.1 2.6m-.4-.6l.4 .6l.4-.7M263.1 781.8l-1.8 2m.2-.8l-.2 .8l.8-.2M263.1 778.9l-.9 2.4m-.1-.8l.1 .8l.6-.5M263.1 776l-3.6 .4m.7-.5l-.7 .5l.8 .4M263.1 773.2l-.3 2.8m-.4-.8l.4 .8l.5-.7M263.1 770.4l.4 2.4m-.5-.6l.5 .6l.3-.7M263.1 767.5l-2.9 1.5m.5-.8l-.5 .8l.9 .1M263.1 764.6l-1.9 2.1m.2-.8l-.2 .8l.8-.3M263.1 761.8l-1.6 2.3m0-.8l0 .8l.8-.4M263.1 759l.1 2.6m-.4-.7l.4 .7l.4-.7M263.1 756.1l-2.7 .9m.5-.7l-.5 .7l.8 .2M263.1 753.2l-2.4 2m.3-.8l-.3 .8l.9-.1M263.1 750.4l-1.6 2.2m.1-.8l-.1 .8l.7-.3M263.1 747.5l-.2 2.8m-.4-.8l.4 .8l.5-.7M263.1 744.7l-.2 2.6m-.4-.7l.4 .7l.5-.6M263.1 741.9l-3.7-.1m.8-.4l-.8 .4l.8 .5M263.1 739l-1.3 2.2m0-.8l0 .8l.7-.4M263.1 736.1l-1.4 2.3m0-.8l0 .8l.7-.4M263.1 733.3l-.2 2.6m-.4-.7l.4 .7l.5-.6M263.1 730.5l.3 2.7m-.5-.7l.5 .7l.3-.7M263.1 727.6l-3.2 .1m.8-.5l-.8 .5l.8 .4M263.1 724.8l.3 2.5m-.5-.6l.5 .6l.3-.7M263.1 721.9l-2.8 1m.6-.7l-.6 .7l.9 .2M263.1 719l.9 2.6m-.6-.5l.6 .5l.2-.8M263.1 716.2l-2.1 2.1m.2-.9l-.2 .9l.9-.2M263.1 713.4l-3.8 0m.8-.5l-.8 .5l.8 .5M263.1 710.5l-.1 2.3m-.3-.6l.3 .6l.4-.6M263.1 707.6l-.1 2.8m-.4-.7l.4 .7l.5-.7M263.1 704.8l.3 2.7m-.5-.6l.5 .6l.3-.7M263.1 702l-2.3 2.3m.2-.9l-.2 .9l.9-.2M263.1 699.1l-.4 2.7m-.3-.8l.3 .8l.5-.6M263.1 696.2l-.2 2.5m-.3-.7l.3 .7l.4-.6M263.1 693.4l-.1 2.7m-.4-.7l.4 .7l.4-.7M263.1 690.5l-.1 3.8m-.4-.8l.4 .8l.5-.8M263.1 687.7l-3.2 3.2m.2-.9l-.2 .9l.9-.2M263.1 684.9l-2.9 1.7m.4-.8l-.4 .8l.9 0M263.1 682l-.5 2.9m-.3-.8l.3 .8l.6-.7M263.1 679.1l-.1 2.6m-.4-.7l.4 .7l.4-.6M263.1 676.3l-3.4 .3m.7-.5l-.7 .5l.8 .4M263.1 673.5l-3.5 0m.8-.5l-.8 .5l.8 .5M263.1 670.6l-2.1 1.7m.3-.8l-.3 .8l.8-.1M263.1 667.8l.2 2.9m-.5-.7l.5 .7l.4-.8M263.1 664.9l-2.2 2.2m.2-.9l-.2 .9l.9-.2M263.1 662l.1 2.7m-.4-.7l.4 .7l.4-.7M263.1 659.2l.2 2.7m-.5-.7l.5 .7l.4-.7M263.1 656.4l-1.5-2.7m.8 .5l-.8-.5l0 .9M263.1 653.5l-.2 2.9m-.4-.8l.4 .8l.5-.7M263.1 650.6l0 2.8m-.4-.7l.4 .7l.4-.7M263.1 647.8l-3.7 2.3m.4-.8l-.4 .8l.9 0M266.7 830.2l0 2.9m-.4-.7l.4 .7l.4-.7M266.7 827.4l.4 3m-.6-.7l.6 .7l.4-.8M266.7 824.5l.1 2.7m-.4-.7l.4 .7l.4-.7M266.7 821.6l-3.4 .8m.6-.6l-.6 .6l.9 .3M266.7 818.8l.2 2.8m-.5-.7l.5 .7l.4-.8M266.7 816l-2.5 2.1m.3-.9l-.3 .9l.9-.1M266.7 813.1l.2 2.8m-.5-.7l.5 .7l.4-.8M266.7 810.2l-3.5-.1m.8-.5l-.8 .5l.8 .5M266.7 807.4l-4.7 2.2m.5-.8l-.5 .8l.9 .1M266.7 804.5l-.1 2.8m-.4-.7l.4 .7l.5-.7M266.7 801.7l1 4.3m-.6-.6l.6 .6l.3-.9M266.7 798.9l0 2.7m-.4-.7l.4 .7l.4-.7M266.7 796l-.6 2.7m-.3-.8l.3 .8l.6-.6M266.7 793.1l.2 2.5m-.5-.6l.5 .6l.3-.7M266.7 790.3l-1.6 1.9m.1-.7l-.1 .7l.7-.2M266.7 787.5l2.4-2m-.3 .9l.3-.9l-.9 .1M266.7 784.6l-1.5 2.5m0-.9l0 .9l.8-.4M266.7 781.8l-2 2.5m.1-.9l-.1 .9l.8-.3M266.7 778.9l2.9-.1m-.7 .5l.7-.5l-.8-.4M266.7 776l.4 3.5m-.5-.7l.5 .7l.4-.8M266.7 773.2l-.1 2.8m-.4-.7l.4 .7l.5-.7M266.7 770.4l-2.4 2m.3-.8l-.3 .8l.9-.1M266.7 767.5l-1.8 1.9m.2-.8l-.2 .8l.8-.2M266.7 764.6l-1.8 2.2m.1-.9l-.1 .9l.8-.3M266.7 761.8l-.6 3.4m-.3-.8l.3 .8l.6-.7M266.7 759l.6 2.9m-.6-.7l.6 .7l.3-.8M266.7 756.1l-1.2 2.2m0-.8l0 .8l.7-.4M266.7 753.2l-1.6-2.4m.8 .4l-.8-.4l.1 .9M266.7 750.4l-.4 2.6m-.3-.7l.3 .7l.5-.6M266.7 747.5l-.8 2.2m-.1-.7l.1 .7l.6-.5M266.7 744.7l.1-2.9m.4 .7l-.4-.7l-.5 .7M266.7 741.9l-.4 2.2m-.2-.6l.2 .6l.5-.5M266.7 739l-.2 2.6m-.3-.7l.3 .7l.5-.6M266.7 736.1l-1.7 2.5m.1-.9l-.1 .9l.8-.4M266.7 733.3l-.6-2.3m.5 .5l-.5-.5l-.2 .7M266.7 730.5l-2.3 1.8m.3-.8l-.3 .8l.9-.1M266.7 727.6l2.1-2.3m-.2 .9l.2-.9l-.9 .3M266.7 724.8l-2 1.9m.2-.8l-.2 .8l.8-.2M266.7 721.9l-1.6 2.3m.1-.8l-.1 .8l.8-.3M266.7 719l-.8 2.9m-.2-.9l.2 .9l.7-.6M266.7 716.2l-.6 3m-.3-.8l.3 .8l.6-.7M266.7 713.4l-2 2.5m.1-.9l-.1 .9l.8-.3M266.7 710.5l.4 2.3m-.5-.5l.5 .5l.3-.7M266.7 707.6l.6 2.7m-.6-.6l.6 .6l.3-.8M266.7 704.8l3 .6m-.8 .3l.8-.3l-.7-.6M266.7 702l-4.5 2m.5-.7l-.5 .7l.9 .1M266.7 699.1l-.4 2.6m-.3-.7l.3 .7l.5-.6M266.7 696.2l-.6 2.6m-.2-.8l.2 .8l.6-.6M266.7 693.4l-.2 2.5m-.3-.7l.3 .7l.4-.6M266.7 690.5l-.1 2.3m-.3-.6l.3 .6l.4-.6M266.7 687.7l-3.4 1.2m.6-.7l-.6 .7l.9 .2M266.7 684.9l-.3 3.8m-.4-.8l.4 .8l.5-.7M266.7 682l-.1 2.7m-.4-.7l.4 .7l.4-.7M266.7 679.1l-2.1 2.4m.2-.9l-.2 .9l.9-.3M266.7 676.3l-.4 2.3m-.3-.7l.3 .7l.5-.5M266.7 673.5l-2.3 1.4m.4-.7l-.4 .7l.8 0M266.7 670.6l-.2 2.7m-.4-.7l.4 .7l.5-.7M266.7 667.8l-2.6 1.3m.5-.7l-.5 .7l.9 .1M266.7 664.9l-3.2 .1m.8-.5l-.8 .5l.8 .4M266.7 662l-2.6 2m.3-.8l-.3 .8l.9-.1M266.7 659.2l-2.9 .3m.7-.5l-.7 .5l.8 .4M266.7 656.4l.2 2.7m-.5-.7l.5 .7l.4-.7M266.7 653.5l-1.7 2.5m0-.9l0 .9l.8-.4M266.7 650.6l.3 4.4m-.5-.7l.5 .7l.4-.8M266.7 647.8l-3.5 .7m.7-.6l-.7 .6l.8 .3M270.4 830.2l.1 2.5m-.4-.6l.4 .6l.4-.7M270.4 827.4l.1 2.4m-.4-.6l.4 .6l.3-.6M270.4 824.5l-1.6 2.1m.1-.8l-.1 .8l.7-.3M270.4 821.6l-1.1 2.1m-.1-.7l.1 .7l.6-.4M270.4 818.8l.4 2.6m-.5-.6l.5 .6l.3-.7M270.4 816l2-4.1m.1 .9l-.1-.9l-.8 .5M270.4 813.1l-2.7-1.4m.9-.1l-.9 .1l.5 .8M270.4 810.2l0 2.7m-.4-.7l.4 .7l.4-.7M270.4 807.4l-1.1 2.4m-.1-.8l.1 .8l.6-.5M270.4 804.5l-2.5 3.4m.1-.9l-.1 .9l.8-.4M270.4 801.7l-.7 2.4m-.2-.7l.2 .7l.5-.5M270.4 798.9l-.4 2.7m-.3-.8l.3 .8l.5-.6M270.4 796l-2.3-1.7m.8 .1l-.8-.1l.3 .8M270.4 793.1l.4 2.7m-.5-.6l.5 .6l.3-.7M270.4 790.3l.4 2.6m-.5-.6l.5 .6l.3-.7M270.4 787.5l-2 1.9m.2-.8l-.2 .8l.8-.2M270.4 784.6l-.3 2.8m-.3-.8l.3 .8l.5-.7M270.4 781.8l-2.6 2.1m.3-.8l-.3 .8l.9-.1M270.4 778.9l-.3 2.4m-.3-.7l.3 .7l.4-.6M270.4 776l-3.4 2.6m.3-.8l-.3 .8l.9-.1M270.4 773.2l-.3 2.8m-.4-.8l.4 .8l.5-.7M270.4 770.4l-.2 3m-.4-.8l.4 .8l.5-.7M270.4 767.5l-.1 2.3m-.3-.6l.3 .6l.4-.6M270.4 764.6l-3.1 .2m.7-.5l-.7 .5l.8 .4M270.4 761.8l0 2.4m-.4-.6l.4 .6l.4-.6M270.4 759l-2.3 1.5m.4-.7l-.4 .7l.8 0M270.4 756.1l.5 2.8m-.6-.6l.6 .6l.3-.8M270.4 753.2l-2 2m.2-.8l-.2 .8l.8-.2M270.4 750.4l-3.1 .2m.7-.5l-.7 .5l.8 .4M270.4 747.5l-3.3 1.1m.6-.7l-.6 .7l.9 .2M270.4 744.7l0 2.8m-.4-.7l.4 .7l.4-.7M270.4 741.9l-4.1-1.3m.9-.2l-.9 .2l.6 .7M270.4 739l.2 2.8m-.5-.7l.5 .7l.4-.7M270.4 736.1l-2 2m.2-.8l-.2 .8l.8-.2M270.4 733.3l-1.2 2.3m0-.8l0 .8l.7-.4M270.4 730.5l-2.2 2.4m.2-.9l-.2 .9l.9-.2M270.4 727.6l.2 3m-.5-.7l.5 .7l.4-.8M270.4 724.8l-.6 2.7m-.3-.8l.3 .8l.6-.6M270.4 721.9l-2.8 1.7m.4-.8l-.4 .8l.9 0M270.4 719l.9 2.6m-.6-.5l.6 .5l.2-.8M270.4 716.2l0 2.6m-.4-.7l.4 .7l.4-.7M270.4 713.4l-.7 2.9m-.3-.9l.3 .9l.6-.6M270.4 710.5l-2.4 1.6m.4-.8l-.4 .8l.9 0M270.4 707.6l-2.6 2m.3-.8l-.3 .8l.9-.1M270.4 704.8l-3.6 .6m.7-.6l-.7 .6l.8 .3M270.4 702l-2.5-1.5m.9 0l-.9 0l.4 .8M270.4 699.1l-.1 2.6m-.4-.7l.4 .7l.4-.7M270.4 696.2l-1.4 2.2m0-.8l0 .8l.7-.4M270.4 693.4l-.8 2.4m-.1-.7l.1 .7l.6-.5M270.4 690.5l.2 2.6m-.4-.6l.4 .6l.4-.7M270.4 687.7l-2 2m.2-.8l-.2 .8l.8-.2M270.4 684.9l-2.4 3.7m0-.9l0 .9l.8-.4M270.4 682l-.1 2.9m-.4-.8l.4 .8l.5-.7M270.4 679.1l-.5 2.7m-.3-.8l.3 .8l.5-.6M270.4 676.3l-1.9 2.4m.1-.9l-.1 .9l.8-.3M270.4 673.5l-2 2.4m.1-.9l-.1 .9l.8-.3M270.4 670.6l-5 1.1m.7-.6l-.7 .6l.9 .3M270.4 667.8l-.8 2.9m-.2-.9l.2 .9l.7-.6M270.4 664.9l.2 2.6m-.5-.6l.5 .6l.3-.7M270.4 662l.3 2.4m-.4-.6l.4 .6l.3-.6M270.4 659.2l-1.4 2.3m0-.8l0 .8l.7-.4M270.4 656.4l.1-2.3m.3 .6l-.3-.6l-.4 .6M270.4 653.5l-.2 2.5m-.3-.7l.3 .7l.4-.6M270.4 650.6l-2 2.4m.1-.9l-.1 .9l.9-.3M270.4 647.8l-.2 2.3m-.3-.6l.3 .6l.4-.5M274 830.2l-1.2 2.8m-.1-.9l.1 .9l.7-.5M274 827.4l-.1 2.4m-.4-.6l.4 .6l.4-.6M274 824.5l.7 2.5m-.6-.6l.6 .6l.2-.8M274 821.6l-.9 2.9m-.2-.9l.2 .9l.7-.6M274 818.8l.1 3.6m-.5-.8l.5 .8l.4-.8M274 816l-1.9 2.2m.2-.9l-.2 .9l.8-.3M274 813.1l-1.5 2.7m0-.9l0 .9l.8-.5M274 810.2l-2.8 .5m.6-.6l-.6 .6l.8 .3M274 807.4l-.6 2.7m-.3-.8l.3 .8l.6-.6M274 804.5l.2 2.7m-.5-.7l.5 .7l.4-.7M274 801.7l-.6 2.6m-.2-.8l.2 .8l.6-.6M274 798.9l-.1 2.7m-.4-.7l.4 .7l.5-.7M274 796l1.5 2.2m-.7-.3l.7 .3l-.1-.8M274 793.1l-.8 2.6m-.2-.8l.2 .8l.6-.5M274 790.3l3.2-1.5m-.5 .7l.5-.7l-.9-.1M274 787.5l-.1-2.8m.5 .7l-.5-.7l-.4 .7M274 784.6l-1.9 2.1m.2-.8l-.2 .8l.8-.2M274 781.8l-.5 2.5m-.3-.7l.3 .7l.5-.6M274 778.9l1.1-2.2m.1 .7l-.1-.7l-.6 .4M274 776l0 2.6m-.4-.7l.4 .7l.4-.7M274 773.2l0 2.5m-.4-.6l.4 .6l.4-.6M274 770.4l-2.2 3.4m0-.9l0 .9l.8-.4M274 767.5l-1.1 2.6m-.1-.8l.1 .8l.7-.5M274 764.6l-1.3 2.5m0-.9l0 .9l.7-.4M274 761.8l-.1 2.4m-.3-.6l.3 .6l.4-.6M274 759l3.6-.2m-.7 .5l.7-.5l-.8-.4M274 756.1l-.4 2.7m-.3-.7l.3 .7l.5-.6M274 753.2l-.3 2.9m-.4-.8l.4 .8l.5-.7M274 750.4l-1.9 2.3m.1-.9l-.1 .9l.8-.3M274 747.5l-.3 2.5m-.3-.7l.3 .7l.5-.6M274 744.7l-.8 4m-.3-.8l.3 .8l.6-.7M274 741.9l3.2-.4m-.7 .6l.7-.6l-.8-.4M274 739l-.3 2.5m-.3-.7l.3 .7l.5-.6M274 736.1l-1.6 2m.1-.8l-.1 .8l.7-.3M274 733.3l-.7 2.6m-.2-.8l.2 .8l.6-.6M274 730.5l-.5 2.6m-.3-.7l.3 .7l.5-.6M274 727.6l.7 2.7m-.6-.6l.6 .6l.2-.8M274 724.8l-2.1 2.4m.2-.9l-.2 .9l.9-.3M274 721.9l.2 2.9m-.5-.7l.5 .7l.4-.8M274 719l-.5 2.6m-.3-.7l.3 .7l.5-.6M274 716.2l0 2.9m-.4-.7l.4 .7l.4-.7M274 713.4l-.3 2.4m-.3-.7l.3 .7l.5-.6M274 710.5l-2.4 2m.3-.9l-.3 .9l.9-.1M274 707.6l-2 1.7m.3-.8l-.3 .8l.8-.1M274 704.8l-.4 2.4m-.3-.7l.3 .7l.5-.6M274 702l-2.9 1.5m.5-.8l-.5 .8l.9 .1M274 699.1l-.8 2.6m-.2-.8l.2 .8l.6-.5M274 696.2l-.3 2.9m-.4-.8l.4 .8l.5-.7M274 693.4l-2.9 .6m.7-.6l-.7 .6l.8 .3M274 690.5l-.3 2.5m-.3-.7l.3 .7l.5-.6M274 687.7l-1.5 2.1m.1-.8l-.1 .8l.7-.3M274 684.9l.5 2.3m-.5-.5l.5 .5l.2-.7M274 682l-2.8 .4m.7-.5l-.7 .5l.8 .3M274 679.1l-.1 2.9m-.4-.8l.4 .8l.5-.7M274 676.3l.1 2.3m-.4-.6l.4 .6l.3-.6M274 673.5l-3.2-.1m.8-.4l-.8 .4l.8 .5M274 670.6l-3.2 1.1m.6-.7l-.6 .7l.9 .2M274 667.8l-3.5 2.8m.3-.8l-.3 .8l.9-.1M274 664.9l.2 2.3m-.4-.6l.4 .6l.3-.6M274 662l-2.4 2.1m.3-.9l-.3 .9l.9-.2M274 659.2l4.4-1.9m-.5 .7l.5-.7l-.9-.1M274 656.4l-1.5 2.7m0-.9l0 .9l.8-.4M274 653.5l-.6 2.3m-.2-.7l.2 .7l.5-.5M274 650.6l-.1 2.6m-.4-.7l.4 .7l.4-.6M274 647.8l-1.8 2.4m.1-.9l-.1 .9l.8-.3M277.6 830.2l.4 2.6m-.5-.6l.5 .6l.3-.7M277.6 827.4l-2 2.3m.1-.9l-.1 .9l.9-.3M277.6 824.5l-.1 2.7m-.4-.7l.4 .7l.5-.7M277.6 821.6l-1.2 2.1m0-.7l0 .7l.6-.4M277.6 818.8l-.1 3m-.4-.8l.4 .8l.5-.7M277.6 816l-2.3-1.4m.8 0l-.8 0l.4 .7M277.6 813.1l-1.1 2.3m-.1-.8l.1 .8l.7-.4M277.6 810.2l-.6 2.4m-.2-.7l.2 .7l.5-.5M277.6 807.4l-3.1 .6m.7-.6l-.7 .6l.8 .3M277.6 804.5l-2 2.3m.2-.9l-.2 .9l.9-.3M277.6 801.7l-.2 2.6m-.3-.7l.3 .7l.4-.6M277.6 798.9l-.3 2.8m-.4-.8l.4 .8l.5-.7M277.6 796l-2.7 1.3m.5-.7l-.5 .7l.9 .1M277.6 793.1l-.3 2.8m-.4-.8l.4 .8l.5-.7M277.6 790.3l-1.8 2.3m.1-.9l-.1 .9l.8-.3M277.6 787.5l-2 1.7m.3-.7l-.3 .7l.8-.1M277.6 784.6l-3 .5m.7-.6l-.7 .6l.8 .3M277.6 781.8l-.4 2.8m-.3-.8l.3 .8l.5-.7M277.6 778.9l-.3 3.5m-.4-.8l.4 .8l.5-.7M277.6 776l-2.9 0m.7-.5l-.7 .5l.7 .4M277.6 773.2l0 2.7m-.4-.7l.4 .7l.4-.7M277.6 770.4l-2.7 1.9m.4-.8l-.4 .8l.9-.1M277.6 767.5l-2.1 1.6m.3-.7l-.3 .7l.8-.1M277.6 764.6l-1.7 2.2m.1-.8l-.1 .8l.8-.3M277.6 761.8l-.1 2.9m-.4-.8l.4 .8l.5-.7M277.6 759l-1 2.8m-.2-.9l.2 .9l.7-.6M277.6 756.1l-2.2 2.2m.2-.9l-.2 .9l.9-.2M277.6 753.2l.1 2.3m-.4-.6l.4 .6l.3-.6M277.6 750.4l-.8 2.3m-.1-.7l.1 .7l.6-.5M277.6 747.5l-5.4-.3m.8-.4l-.8 .4l.7 .5M277.6 744.7l-.8 2.6m-.2-.8l.2 .8l.6-.5M277.6 741.9l-1.4-2.4m.7 .4l-.7-.4l0 .8M277.6 739l-2.8 1m.6-.7l-.6 .7l.9 .2M277.6 736.1l0 2.5m-.4-.7l.4 .7l.4-.7M277.6 733.3l-1.8 2.5m.1-.9l-.1 .9l.8-.3M277.6 730.5l1.9 1.9m-.8-.2l.8 .2l-.2-.8M277.6 727.6l-.5 2.5m-.3-.7l.3 .7l.5-.6M277.6 724.8l-1.7 2.1m.1-.8l-.1 .8l.8-.3M277.6 721.9l-2 2.2m.2-.9l-.2 .9l.9-.3M277.6 719l-3.2-.1m.8-.4l-.8 .4l.8 .5M277.6 716.2l0 2.3m-.3-.6l.3 .6l.4-.6M277.6 713.4l3 0m-.8 .5l.8-.5l-.8-.5M277.6 710.5l-.1 2.7m-.4-.7l.4 .7l.4-.7M277.6 707.6l.6 2.2m-.5-.5l.5 .5l.2-.7M277.6 704.8l.4 2.8m-.5-.7l.5 .7l.3-.8M277.6 702l0 2.7m-.4-.7l.4 .7l.4-.7M277.6 699.1l.1 2.3m-.4-.6l.4 .6l.3-.6M277.6 696.2l2.8 1.1m-.9 .1l.9-.1l-.5-.7M277.6 693.4l-1 2.7m-.2-.9l.2 .9l.7-.6M277.6 690.5l.1 2.4m-.4-.6l.4 .6l.3-.6M277.6 687.7l-3.1 1m.6-.7l-.6 .7l.9 .2M277.6 684.9l-2.4 1.8m.3-.8l-.3 .8l.9-.1M277.6 682l.1 2.4m-.4-.6l.4 .6l.4-.6M277.6 679.1l-.4 2.7m-.3-.7l.3 .7l.5-.6M277.6 676.3l-.4 2.3m-.2-.7l.2 .7l.5-.5M277.6 673.5l.2 2.5m-.4-.6l.4 .6l.3-.7M277.6 670.6l-2.6 2m.3-.8l-.3 .8l.9-.1M277.6 667.8l-2.4 2m.3-.8l-.3 .8l.9-.1M277.6 664.9l-.7 2.5m-.2-.7l.2 .7l.6-.5M277.6 662l-.5 2.5m-.3-.7l.3 .7l.5-.6M277.6 659.2l-1.6 2.1m.1-.8l-.1 .8l.7-.3M277.6 656.4l0 2.7m-.4-.7l.4 .7l.4-.7M277.6 653.5l-.3 2.3m-.3-.6l.3 .6l.4-.5M277.6 650.6l-.7 2.9m-.3-.9l.3 .9l.6-.6M277.6 647.8l-2.1 2.2m.2-.9l-.2 .9l.9-.2M281.2 830.2l-1.7 2.4m.1-.9l-.1 .9l.8-.4M281.2 827.4l-2.1 2.2m.2-.9l-.2 .9l.9-.3M281.2 824.5l-2.8 .6m.6-.6l-.6 .6l.8 .3M281.2 821.6l-.3 2.6m-.3-.7l.3 .7l.5-.6M281.2 818.8l-.2 2.6m-.4-.7l.4 .7l.5-.6M281.2 816l0 2.6m-.4-.7l.4 .7l.4-.7M281.2 813.1l-.5 2.3m-.2-.7l.2 .7l.5-.5M281.2 810.2l-1.3 2.5m0-.9l0 .9l.7-.4M281.2 807.4l-2.1 2m.2-.9l-.2 .9l.9-.2M281.2 804.5l-.4 2.7m-.3-.8l.3 .8l.5-.6M281.2 801.7l-1.3 2.6m-.1-.9l.1 .9l.7-.5M281.2 798.9l-3 1m.6-.7l-.6 .7l.9 .2M281.2 796l-.1 3m-.4-.8l.4 .8l.5-.7M281.2 793.1l-1.6 1.9m.1-.7l-.1 .7l.7-.2M281.2 790.3l3.3-.3m-.7 .5l.7-.5l-.8-.4M281.2 787.5l2.5-1.5m-.4 .8l.4-.8l-.9 0M281.2 784.6l-.7 2.9m-.3-.9l.3 .9l.6-.6M281.2 781.8l.4 2.8m-.5-.6l.5 .6l.3-.8M281.2 778.9l.1 2.2m-.4-.6l.4 .6l.3-.6M281.2 776l-1.4 2.7m-.1-.9l.1 .9l.8-.5M281.2 773.2l1.8 2.1m-.8-.3l.8 .3l-.1-.8M281.2 770.4l-.6 2.6m-.2-.8l.2 .8l.6-.6M281.2 767.5l-1.1-2.3m.6 .4l-.6-.4l-.1 .8M281.2 764.6l-.3 2.9m-.4-.8l.4 .8l.5-.7M281.2 761.8l-.7 2.8m-.3-.8l.3 .8l.6-.6M281.2 759l-3.8 2.8m.3-.8l-.3 .8l.9-.1M281.2 756.1l-2.2 2.4m.2-.9l-.2 .9l.9-.3M281.2 753.2l-3.1 1.2m.6-.7l-.6 .7l.9 .2M281.2 750.4l-2 2.3m.2-.9l-.2 .9l.9-.3M281.2 747.5l-2.6 2.9m.2-.9l-.2 .9l.9-.3M281.2 744.7l-3.6-.5m.8-.3l-.8 .3l.7 .6M281.2 741.9l-.4 2.8m-.3-.8l.3 .8l.5-.7M281.2 739l.3 2.3m-.4-.6l.4 .6l.3-.6M281.2 736.1l3.5 .7m-.8 .3l.8-.3l-.7-.6M281.2 733.3l-2.1 1.8m.3-.8l-.3 .8l.8-.1M281.2 730.5l-.7 2.6m-.2-.8l.2 .8l.6-.6M281.2 727.6l-.3 2.4m-.3-.7l.3 .7l.5-.6M281.2 724.8l-3.3 1m.6-.7l-.6 .7l.9 .2M281.2 721.9l-1.2 2.7m-.1-.9l.1 .9l.7-.5M281.2 719l-2.8 .6m.6-.6l-.6 .6l.8 .3M281.2 716.2l.5 2.7m-.5-.6l.5 .6l.3-.8M281.2 713.4l0 2.4m-.4-.6l.4 .6l.4-.6M281.2 710.5l-1.5 2.5m0-.9l0 .9l.8-.4M281.2 707.6l-1.4 2.1m0-.8l0 .8l.7-.3M281.2 704.8l-1.5 2.1m0-.8l0 .8l.7-.3M281.2 702l-.7 2.7m-.2-.8l.2 .8l.6-.6M281.2 699.1l-.2 4.4m-.4-.8l.4 .8l.5-.8M281.2 696.2l-1.6 2.3m.1-.8l-.1 .8l.8-.3M281.2 693.4l-2.2 2.1m.2-.9l-.2 .9l.9-.2M281.2 690.5l-2.4 2.1m.3-.9l-.3 .9l.9-.2M281.2 687.7l-3 .3m.7-.5l-.7 .5l.8 .4M281.2 684.9l-3 .1m.7-.5l-.7 .5l.8 .4M281.2 682l0 2.5m-.4-.6l.4 .6l.4-.6M281.2 679.1l0 2.7m-.4-.7l.4 .7l.4-.7M281.2 676.3l-2.2 1.5m.3-.7l-.3 .7l.8 0M281.2 673.5l-1.9 4.1m-.1-.9l.1 .9l.7-.5M281.2 670.6l-2.1 1.9m.3-.8l-.3 .8l.8-.2M281.2 667.8l3.3-.5m-.7 .6l.7-.6l-.8-.3M281.2 664.9l-1.5 2m.1-.7l-.1 .7l.7-.3M281.2 662l-2.5 1.8m.4-.8l-.4 .8l.9-.1M281.2 659.2l0 2.5m-.4-.7l.4 .7l.4-.6M281.2 656.4l-.1 2.7m-.4-.7l.4 .7l.4-.7M281.2 653.5l2-2.1m-.2 .9l.2-.9l-.8 .2M281.2 650.6l-.8 2.7m-.2-.8l.2 .8l.6-.6M281.2 647.8l.5 2.5m-.5-.6l.5 .6l.3-.7M284.8 830.2l-.4 2.8m-.3-.8l.3 .8l.5-.7M284.8 827.4l-1.9 2.1m.1-.8l-.1 .8l.8-.3M284.8 824.5l.2 3m-.5-.7l.5 .7l.4-.8M284.8 821.6l-.4 2.5m-.3-.7l.3 .7l.5-.6M284.8 818.8l-2.3 2m.3-.9l-.3 .9l.9-.2M284.8 816l-3.8 2.7m.4-.8l-.4 .8l.9-.1M284.8 813.1l-.1 2.8m-.4-.8l.4 .8l.5-.7M284.8 810.2l.5 2.8m-.6-.6l.6 .6l.3-.8M284.8 807.4l-.2 2.8m-.4-.8l.4 .8l.5-.7M284.8 804.5l1.6-2.1m-.1 .8l.1-.8l-.7 .3M284.8 801.7l-2.3 2.4m.2-.9l-.2 .9l.9-.2M284.8 798.9l-3.3 1.2m.6-.7l-.6 .7l.9 .2M284.8 796l-.3 2.9m-.4-.8l.4 .8l.5-.7M284.8 793.1l-.5 2.7m-.3-.8l.3 .8l.5-.6M284.8 790.3l-3-.7m.9-.3l-.9 .3l.6 .6M284.8 787.5l-2.8 .9m.6-.7l-.6 .7l.8 .2M284.8 784.6l-.1 2.3m-.3-.6l.3 .6l.4-.6M284.8 781.8l-.5 2.8m-.3-.8l.3 .8l.6-.6M284.8 778.9l-.4 2.9m-.3-.8l.3 .8l.5-.7M284.8 776l1.7 2.6m-.8-.4l.8 .4l0-.9M284.8 773.2l-5.6-.2m.8-.4l-.8 .4l.8 .5M284.8 770.4l-.3 2.7m-.3-.7l.3 .7l.5-.6M284.8 767.5l2.1-1.8m-.3 .8l.3-.8l-.8 .1M284.8 764.6l-3.4 1.3m.6-.7l-.6 .7l.9 .2M284.8 761.8l-1.4 2.1m0-.7l0 .7l.7-.3M284.8 759l.2 3m-.5-.7l.5 .7l.4-.8M284.8 756.1l-.9 2.6m-.2-.8l.2 .8l.6-.5M284.8 753.2l-2.2 1.8m.3-.8l-.3 .8l.8-.1M284.8 750.4l-1.8 2.3m.1-.9l-.1 .9l.8-.3M284.8 747.5l-2.6 1.8m.4-.8l-.4 .8l.9-.1M284.8 744.7l-1.9 2.1m.2-.8l-.2 .8l.8-.3M284.8 741.9l.2 2.7m-.5-.7l.5 .7l.4-.7M284.8 739l.3 2.4m-.5-.6l.5 .6l.3-.7M284.8 736.1l-.2 2.5m-.3-.7l.3 .7l.4-.6M284.8 733.3l.3 2.8m-.5-.7l.5 .7l.4-.8M284.8 730.5l-.4 2.8m-.3-.8l.3 .8l.5-.7M284.8 727.6l-3.3 .3m.7-.5l-.7 .5l.8 .4M284.8 724.8l-1.8 2.4m.1-.9l-.1 .9l.8-.3M284.8 721.9l-2 2m.2-.8l-.2 .8l.8-.2M284.8 719l-.7 3.9m-.3-.8l.3 .8l.6-.7M284.8 716.2l-1.9 1.9m.2-.8l-.2 .8l.8-.2M284.8 713.4l-3.1 1.7m.5-.8l-.5 .8l.9 0M284.8 710.5l.3 2.4m-.4-.6l.4 .6l.3-.7M284.8 707.6l2.9 1m-.9 .2l.9-.2l-.6-.7M284.8 704.8l.3 2.3m-.4-.5l.4 .5l.3-.6M284.8 702l.1 2.4m-.4-.6l.4 .6l.4-.6M284.8 699.1l-2-2.4m.8 .3l-.8-.3l.1 .9M284.8 696.2l0 2.9m-.5-.7l.5 .7l.4-.8M284.8 693.4l-.6 2.9m-.3-.8l.3 .8l.6-.6M284.8 690.5l-1.3 2.3m0-.8l0 .8l.7-.4M284.8 687.7l-3.1 .2m.7-.5l-.7 .5l.8 .4M284.8 684.9l-.3 2.6m-.3-.7l.3 .7l.5-.6M284.8 682l0 2.9m-.4-.7l.4 .7l.4-.7M284.8 679.1l-.1 2.4m-.3-.6l.3 .6l.4-.6M284.8 676.3l.2 2.7m-.5-.7l.5 .7l.4-.7M284.8 673.5l-5-.1m.8-.4l-.8 .4l.8 .5M284.8 670.6l.4 3.7m-.5-.7l.5 .7l.4-.8M284.8 667.8l-1.5 2.7m0-.9l0 .9l.8-.4M284.8 664.9l-1 2.2m-.1-.7l.1 .7l.6-.4M284.8 662l-1.2 2.1m0-.7l0 .7l.6-.4M284.8 659.2l-3.5 .6m.7-.6l-.7 .6l.8 .3M284.8 656.4l-.1 2.7m-.4-.7l.4 .7l.4-.7M284.8 653.5l-2 2m.2-.8l-.2 .8l.8-.2M284.8 650.6l-2.8 .5m.6-.6l-.6 .6l.8 .3M284.8 647.8l-1.8 2.4m.1-.9l-.1 .9l.8-.3M288.4 830.2l-1.1 2.1m-.1-.7l.1 .7l.6-.4M288.4 827.4l.1 2.2m-.4-.6l.4 .6l.3-.6M288.4 824.5l0 2.3m-.4-.6l.4 .6l.4-.6M288.4 821.6l-1.2 2.4m-.1-.8l.1 .8l.7-.4M288.4 818.8l-3.1 3.4m.2-.9l-.2 .9l.9-.3M288.4 816l-.5 3m-.3-.8l.3 .8l.6-.7M288.4 813.1l-1.6 2m.1-.8l-.1 .8l.7-.3M288.4 810.2l-.2 3.8m-.4-.8l.4 .8l.5-.7M288.4 807.4l-2.6-1.7m.9 0l-.9 0l.4 .8M288.4 804.5l-1.3 2.5m0-.8l0 .8l.7-.4M288.4 801.7l-.5 2.6m-.3-.7l.3 .7l.5-.6M288.4 798.9l-2.7 1.7m.4-.8l-.4 .8l.9 0M288.4 796l.3 2.8m-.5-.7l.5 .7l.4-.8M288.4 793.1l.1 2.9m-.5-.7l.5 .7l.4-.8M288.4 790.3l0 2.5m-.4-.6l.4 .6l.4-.6M288.4 787.5l-.8 2.7m-.2-.8l.2 .8l.6-.6M288.4 784.6l-.1 2.9m-.4-.8l.4 .8l.5-.7M288.4 781.8l-.1 2.4m-.3-.6l.3 .6l.4-.6M288.4 778.9l-2.5 2m.3-.8l-.3 .8l.9-.1M288.4 776l-2.9 .3m.7-.5l-.7 .5l.8 .4M288.4 773.2l-.1 2.3m-.3-.6l.3 .6l.4-.6M288.4 770.4l-.3 2.4m-.3-.7l.3 .7l.4-.6M288.4 767.5l.7 2.4m-.5-.5l.5 .5l.2-.7M288.4 764.6l2.6-1.5m-.4 .8l.4-.8l-.9 0M288.4 761.8l-2.8 1.3m.5-.8l-.5 .8l.9 .1M288.4 759l-.6 3.3m-.3-.8l.3 .8l.6-.7M288.4 756.1l-3.6 .8m.6-.6l-.6 .6l.9 .3M288.4 753.2l-1.4 3.5m-.1-.9l.1 .9l.7-.5M288.4 750.4l-1.8 2.4m.1-.9l-.1 .9l.8-.3M288.4 747.5l.3 2.5m-.5-.6l.5 .6l.3-.7M288.4 744.7l-1.3 2.3m0-.8l0 .8l.7-.4M288.4 741.9l-.3 2.6m-.3-.7l.3 .7l.5-.6M288.4 739l-.6 2.5m-.2-.7l.2 .7l.5-.6M288.4 736.1l.7 2.9m-.6-.6l.6 .6l.3-.9M288.4 733.3l-2.9 1.7m.4-.8l-.4 .8l.9 0M288.4 730.5l-3.7 .4m.7-.5l-.7 .5l.8 .4M288.4 727.6l-.4 2.2m-.2-.6l.2 .6l.5-.5M288.4 724.8l-3.5 3.2m.3-.9l-.3 .9l.9-.2M288.4 721.9l-.1 2.4m-.4-.6l.4 .6l.4-.6M288.4 719l0 2.5m-.4-.6l.4 .6l.4-.6M288.4 716.2l-2.4 2m.3-.8l-.3 .8l.9-.1M288.4 713.4l-1.6 2.3m.1-.8l-.1 .8l.8-.3M288.4 710.5l-.4 2.9m-.3-.8l.3 .8l.6-.7M288.4 707.6l-.2-2.7m.5 .7l-.5-.7l-.4 .7M288.4 704.8l-1.4 2.3m0-.8l0 .8l.7-.4M288.4 702l-2.1 2.2m.2-.9l-.2 .9l.9-.2M288.4 699.1l-1.9 2.6m.1-.9l-.1 .9l.8-.3M288.4 696.2l-.2 2.6m-.3-.7l.3 .7l.5-.6M288.4 693.4l-3.3 2.7m.3-.8l-.3 .8l.9-.1M288.4 690.5l1.5 2.5m-.8-.4l.8 .4l0-.9M288.4 687.7l-1.5 2.3m0-.8l0 .8l.7-.4M288.4 684.9l-2.6 2m.3-.8l-.3 .8l.9-.1M288.4 682l-1.3 2.8m-.1-.9l.1 .9l.7-.5M288.4 679.1l.5 2.6m-.5-.6l.5 .6l.3-.8M288.4 676.3l-3.3 1m.6-.7l-.6 .7l.9 .2M288.4 673.5l-4.2 1.9m.5-.7l-.5 .7l.9 .1M288.4 670.6l-2.1 2.4m.2-.9l-.2 .9l.9-.3M288.4 667.8l.3 2.4m-.5-.6l.5 .6l.3-.7M288.4 664.9l-.1 2.9m-.4-.8l.4 .8l.5-.7M288.4 662l.2 2.7m-.5-.7l.5 .7l.4-.7M288.4 659.2l-1.4-2.4m.7 .4l-.7-.4l0 .8M288.4 656.4l.2 2.7m-.5-.7l.5 .7l.4-.7M288.4 653.5l-.2 2.6m-.4-.7l.4 .7l.5-.6M288.4 650.6l-2.8 1m.6-.7l-.6 .7l.9 .2M288.4 647.8l-1.1 2.2m0-.7l0 .7l.6-.4M292.1 830.2l-.1 2.3m-.3-.6l.3 .6l.4-.6M292.1 827.4l.2 2.8m-.5-.7l.5 .7l.4-.7M292.1 824.5l-1.6 2.5m0-.9l0 .9l.8-.4M292.1 821.6l.1 2.5m-.4-.6l.4 .6l.3-.6M292.1 818.8l-3.5 .5m.7-.6l-.7 .6l.8 .4M292.1 816l-.1 2.4m-.3-.6l.3 .6l.4-.6M292.1 813.1l-2.1 1.9m.2-.8l-.2 .8l.8-.2M292.1 810.2l-2-2.1m.8 .2l-.8-.2l.2 .9M292.1 807.4l-.5 2.5m-.3-.7l.3 .7l.5-.6M292.1 804.5l-.3 2.8m-.3-.8l.3 .8l.5-.7M292.1 801.7l-1.9 1.9m.2-.8l-.2 .8l.8-.2M292.1 798.9l-2.9 .6m.6-.6l-.6 .6l.8 .3M292.1 796l-1.1 2.2m-.1-.7l.1 .7l.6-.4M292.1 793.1l-1.3 2.6m-.1-.9l.1 .9l.7-.5M292.1 790.3l-.3 2.9m-.4-.8l.4 .8l.5-.7M292.1 787.5l-2.8 1.2m.5-.7l-.5 .7l.9 .1M292.1 784.6l-.5 2.5m-.2-.7l.2 .7l.5-.6M292.1 781.8l-.5 2.5m-.3-.7l.3 .7l.5-.6M292.1 778.9l-1.8-1.9m.8 .2l-.8-.2l.2 .8M292.1 776l-3.7 .6m.7-.6l-.7 .6l.8 .3M292.1 773.2l.4 2.8m-.5-.7l.5 .7l.3-.8M292.1 770.4l-2 2.3m.2-.9l-.2 .9l.9-.3M292.1 767.5l-1.3 2.8m-.1-.9l.1 .9l.7-.5M292.1 764.6l-2.3 2.1m.3-.9l-.3 .9l.9-.2M292.1 761.8l-1.2 2.2m0-.7l0 .7l.6-.4M292.1 759l-1.9 1.8m.2-.8l-.2 .8l.8-.2M292.1 756.1l.2 2.9m-.5-.7l.5 .7l.4-.8M292.1 753.2l-2.4 2.2m.3-.9l-.3 .9l.9-.2M292.1 750.4l.4 2.5m-.5-.6l.5 .6l.3-.7M292.1 747.5l-2.2 2.3m.2-.9l-.2 .9l.9-.3M292.1 744.7l-.2 2.9m-.4-.8l.4 .8l.5-.7M292.1 741.9l-1 2.7m-.2-.9l.2 .9l.7-.6M292.1 739l3.2-.3m-.7 .5l.7-.5l-.8-.4M292.1 736.1l-3.2 1.5m.5-.7l-.5 .7l.9 .1M292.1 733.3l-1.2 2.3m0-.8l0 .8l.7-.4M292.1 730.5l-3.2 .6m.7-.6l-.7 .6l.8 .3M292.1 727.6l-.3 2.3m-.3-.6l.3 .6l.4-.6M292.1 724.8l1.6-2.2m-.1 .8l.1-.8l-.8 .3M292.1 721.9l-2.9 2.6m.3-.9l-.3 .9l.9-.2M292.1 719l-4.2 1.1m.6-.6l-.6 .6l.9 .3M292.1 716.2l.2 3m-.5-.7l.5 .7l.4-.8M292.1 713.4l-2.4 1.7m.4-.8l-.4 .8l.9-.1M292.1 710.5l-3.5 .2m.7-.5l-.7 .5l.8 .4M292.1 707.6l-2 2.3m.2-.9l-.2 .9l.9-.3M292.1 704.8l-.5 2.4m-.2-.7l.2 .7l.5-.5M292.1 702l-.2 2.3m-.3-.6l.3 .6l.4-.6M292.1 699.1l.4 2.6m-.5-.6l.5 .6l.3-.7M292.1 696.2l-3.3 .8m.6-.6l-.6 .6l.9 .3M292.1 693.4l2.1-3.6m0 .9l0-.9l-.8 .4M292.1 690.5l-1 2.3m-.1-.7l.1 .7l.6-.4M292.1 687.7l-3.6 .9m.6-.6l-.6 .6l.9 .3M292.1 684.9l-.3 2.6m-.3-.7l.3 .7l.5-.6M292.1 682l-1.2 2.6m-.1-.9l.1 .9l.7-.5M292.1 679.1l-2.2 2.3m.2-.9l-.2 .9l.9-.2M292.1 676.3l-.1 2.7m-.4-.7l.4 .7l.4-.7M292.1 673.5l-2.9 1.1m.6-.7l-.6 .7l.9 .2M292.1 670.6l.1 2.3m-.4-.6l.4 .6l.3-.6M292.1 667.8l-1.8 4.2m-.1-.9l.1 .9l.7-.5M292.1 664.9l0 2.7m-.4-.7l.4 .7l.4-.7M292.1 662l-1.5 2.5m0-.9l0 .9l.8-.4M292.1 659.2l-2.1 1.5m.3-.7l-.3 .7l.8-.1M292.1 656.4l-1.1 2.1m0-.7l0 .7l.6-.4M292.1 653.5l.4 3m-.6-.7l.6 .7l.4-.8M292.1 650.6l-1.5 1.9m.1-.7l-.1 .7l.7-.3M292.1 647.8l-2.8 .8m.6-.6l-.6 .6l.8 .2M295.7 830.2l.1 2.3m-.4-.6l.4 .6l.3-.6M295.7 827.4l-1.9 2.2m.1-.8l-.1 .8l.8-.3M295.7 824.5l-.2 2.5m-.3-.7l.3 .7l.4-.6M295.7 821.6l-2.7 1.9m.4-.8l-.4 .8l.9-.1M295.7 818.8l-2.3 2.2m.2-.9l-.2 .9l.9-.2M295.7 816l-3.3 2.4m.4-.8l-.4 .8l.9-.1M295.7 813.1l0 2.3m-.4-.6l.4 .6l.4-.6M295.7 810.2l0 2.6m-.4-.7l.4 .7l.4-.7M295.7 807.4l2.9 .3m-.8 .4l.8-.4l-.7-.5M295.7 804.5l-2.4 2m.3-.8l-.3 .8l.9-.1M295.7 801.7l.2 2.9m-.5-.7l.5 .7l.4-.8M295.7 798.9l-2.8 1m.6-.7l-.6 .7l.9 .2M295.7 796l0 2.7m-.4-.7l.4 .7l.4-.7M295.7 793.1l-.2 2.3m-.3-.6l.3 .6l.4-.6M295.7 790.3l-2.1 1.9m.3-.8l-.3 .8l.8-.2M295.7 787.5l.2 2.4m-.4-.6l.4 .6l.3-.6M295.7 784.6l-1.1 2.9m-.2-.9l.2 .9l.7-.6M295.7 781.8l-1.8 1.8m.2-.7l-.2 .7l.7-.2M295.7 778.9l-2 2.5m.1-.9l-.1 .9l.8-.3M295.7 776l-3.9 3.2m.3-.8l-.3 .8l.9-.1M295.7 773.2l-2.5-1.1m.8-.1l-.8 .1l.5 .7M295.7 770.4l-2.1 1.6m.3-.7l-.3 .7l.8-.1M295.7 767.5l-1.9 2.4m.1-.9l-.1 .9l.8-.3M295.7 764.6l-2.8 3.7m.1-.9l-.1 .9l.8-.3M295.7 761.8l-4.4 1.3m.6-.7l-.6 .7l.9 .2M295.7 759l-4.2 3m.4-.8l-.4 .8l.9-.1M295.7 756.1l-2.7 3.8m.1-.9l-.1 .9l.8-.4M295.7 753.2l-2.9 1.8m.4-.8l-.4 .8l.9 0M295.7 750.4l0-2.9m.4 .8l-.4-.8l-.5 .7M295.7 747.5l-2.1 1.8m.3-.8l-.3 .8l.8-.1M295.7 744.7l-.2 2.3m-.3-.6l.3 .6l.4-.6M295.7 741.9l-2.9 .9m.6-.7l-.6 .7l.9 .2M295.7 739l-1.3 2.1m0-.8l0 .8l.7-.3M295.7 736.1l.2 2.5m-.4-.6l.4 .6l.3-.7M295.7 733.3l-.1-3m.5 .7l-.5-.7l-.4 .8M295.7 730.5l-3.1-.3m.8-.4l-.8 .4l.7 .5M295.7 727.6l-2.1 2.4m.2-.9l-.2 .9l.9-.3M295.7 724.8l-2.3 1.9m.3-.8l-.3 .8l.9-.1M295.7 721.9l.6-2.9m.3 .9l-.3-.9l-.6 .7M295.7 719l-2.4 2.2m.3-.9l-.3 .9l.9-.2M295.7 716.2l-2.5 1.3m.4-.7l-.4 .7l.9 0M295.7 713.4l-3.4 .9m.6-.6l-.6 .6l.9 .3M295.7 710.5l3.4-2.7m-.3 .8l.3-.8l-.9 .1M295.7 707.6l-1.9 2.2m.1-.8l-.1 .8l.8-.3M295.7 704.8l-.2 2.5m-.3-.7l.3 .7l.4-.6M295.7 702l-.2 2.3m-.3-.6l.3 .6l.4-.5M295.7 699.1l-.4 4.3m-.4-.8l.4 .8l.5-.7M295.7 696.2l-2.8 1.9m.4-.8l-.4 .8l.9 0M295.7 693.4l-.7 2.6m-.2-.8l.2 .8l.6-.6M295.7 690.5l.1 2.3m-.4-.6l.4 .6l.3-.6M295.7 687.7l-2.5 1.5m.4-.8l-.4 .8l.9 0M295.7 684.9l-.2 4.1m-.4-.8l.4 .8l.5-.8M295.7 682l-2 2.2m.2-.9l-.2 .9l.9-.3M295.7 679.1l-2.1 2.4m.2-.9l-.2 .9l.9-.3M295.7 676.3l.2 2.9m-.5-.7l.5 .7l.4-.8M295.7 673.5l.1 2.5m-.4-.6l.4 .6l.4-.7M295.7 670.6l0 2.7m-.4-.7l.4 .7l.4-.7M295.7 667.8l.2 2.9m-.5-.7l.5 .7l.4-.8M295.7 664.9l-2.5 3.1m.1-.9l-.1 .9l.8-.3M295.7 662l-.1 2.5m-.4-.7l.4 .7l.4-.6M295.7 659.2l-3.4 3.4m.2-.9l-.2 .9l.9-.2M295.7 656.4l.3 2.7m-.5-.7l.5 .7l.3-.7M295.7 653.5l.1 2.7m-.5-.7l.5 .7l.4-.7M295.7 650.6l-.6 3.9m-.3-.8l.3 .8l.6-.7M295.7 647.8l-.7 2.8m-.3-.8l.3 .8l.6-.6" fill="none" stroke="#0072bd" stroke-width="0.32" stroke-opacity="0.75" stroke-linecap="round"/>
<path d="M35.3 625H324.6V853H35.3Z" fill="none" stroke="#a0a0a0" stroke-width="0.7"/>
<path d="M35.3 853v-2.5M35.3 625v2.5M35.3 853.0h2.5M324.6 853.0h-2.5M64.2 853v-2.5M64.2 625v2.5M35.3 830.2h2.5M324.6 830.2h-2.5M93.2 853v-2.5M93.2 625v2.5M35.3 807.4h2.5M324.6 807.4h-2.5M122.1 853v-2.5M122.1 625v2.5M35.3 784.6h2.5M324.6 784.6h-2.5M151.0 853v-2.5M151.0 625v2.5M35.3 761.8h2.5M324.6 761.8h-2.5M179.9 853v-2.5M179.9 625v2.5M35.3 739.0h2.5M324.6 739.0h-2.5M208.9 853v-2.5M208.9 625v2.5M35.3 716.2h2.5M324.6 716.2h-2.5M237.8 853v-2.5M237.8 625v2.5M35.3 693.4h2.5M324.6 693.4h-2.5M266.7 853v-2.5M266.7 625v2.5M35.3 670.6h2.5M324.6 670.6h-2.5M295.7 853v-2.5M295.7 625v2.5M35.3 647.8h2.5M324.6 647.8h-2.5M324.6 853v-2.5M324.6 625v2.5M35.3 625.0h2.5M324.6 625.0h-2.5" stroke="#707070" stroke-width="0.5" fill="none"/>
<text x="35.3" y="862.1" font-family="Liberation Sans, sans-serif" font-size="6.6" fill="#262626" text-anchor="middle">-0.5</text>
<text x="32" y="855.4" font-family="Liberation Sans, sans-serif" font-size="6.6" fill="#262626" text-anchor="end">-0.5</text>
<text x="64.2" y="862.1" font-family="Liberation Sans, sans-serif" font-size="6.6" fill="#262626" text-anchor="middle">0</text>
<text x="32" y="832.6" font-family="Liberation Sans, sans-serif" font-size="6.6" fill="#262626" text-anchor="end">0</text>
<text x="93.2" y="862.1" font-family="Liberation Sans, sans-serif" font-size="6.6" fill="#262626" text-anchor="middle">0.5</text>
<text x="32" y="809.8" font-family="Liberation Sans, sans-serif" font-size="6.6" fill="#262626" text-anchor="end">0.5</text>
<text x="122.1" y="862.1" font-family="Liberation Sans, sans-serif" font-size="6.6" fill="#262626" text-anchor="middle">1</text>
<text x="32" y="787.0" font-family="Liberation Sans, sans-serif" font-size="6.6" fill="#262626" text-anchor="end">1</text>
<text x="151.0" y="862.1" font-family="Liberation Sans, sans-serif" font-size="6.6" fill="#262626" text-anchor="middle">1.5</text>
<text x="32" y="764.2" font-family="Liberation Sans, sans-serif" font-size="6.6" fill="#262626" text-anchor="end">1.5</text>
<text x="179.9" y="862.1" font-family="Liberation Sans, sans-serif" font-size="6.6" fill="#262626" text-anchor="middle">2</text>
<text x="32" y="741.4" font-family="Liberation Sans, sans-serif" font-size="6.6" fill="#262626" text-anchor="end">2</text>
<text x="208.9" y="862.1" font-family="Liberation Sans, sans-serif" font-size="6.6" fill="#262626" text-anchor="middle">2.5</text>
<text x="32" y="718.6" font-family="Liberation Sans, sans-serif" font-size="6.6" fill="#262626" text-anchor="end">2.5</text>
<text x="237.8" y="862.1" font-family="Liberation Sans, sans-serif" font-size="6.6" fill="#262626" text-anchor="middle">3</text>
<text x="32" y="695.8" font-family="Liberation Sans, sans-serif" font-size="6.6" fill="#262626" text-anchor="end">3</text>
<text x="266.7" y="862.1" font-family="Liberation Sans, sans-serif" font-size="6.6" fill="#262626" text-anchor="middle">3.5</text>
<text x="32" y="673.0" font-family="Liberation Sans, sans-serif" font-size="6.6" fill="#262626" text-anchor="end">3.5</text>
<text x="295.7" y="862.1" font-family="Liberation Sans, sans-serif" font-size="6.6" fill="#262626" text-anchor="middle">4</text>
<text x="32" y="650.2" font-family="Liberation Sans, sans-serif" font-size="6.6" fill="#262626" text-anchor="end">4</text>
<text x="324.6" y="862.1" font-family="Liberation Sans, sans-serif" font-size="6.6" fill="#262626" text-anchor="middle">4.5</text>
<text x="32" y="627.4" font-family="Liberation Sans, sans-serif" font-size="6.6" fill="#262626" text-anchor="end">4.5</text>
<path d="M419.5 830.2l-4.2 3.8m.4-1.1l-.4 1.1l1.2-.2M419.5 824.5l-2.9 5.8m-.1-1.2l.1 1.2l1-.6M419.5 818.8l-3.9 3.5m.4-1.1l-.4 1.1l1.2-.2M419.5 813.1l-4 3.2m.4-1.1l-.4 1.1l1.2-.2M419.5 807.4l-2.3 4.1m0-1.2l0 1.2l1-.6M419.5 801.7l-3.5 4.3m.2-1.2l-.2 1.2l1.1-.4M419.5 796l-2.5 4.1m0-1.2l0 1.2l1.1-.6M419.5 790.3l-1 4.1m-.4-1.1l.4 1.1l.8-.8M419.5 784.6l-2.7 4.3m0-1.2l0 1.2l1.1-.5M419.5 778.9l-2.7 4.6m0-1.2l0 1.2l1.1-.6M419.5 773.2l-5.5 2.5m.7-1l-.7 1l1.2 .1M419.5 767.5l-2.3 4.2m0-1.2l0 1.2l1-.6M419.5 761.8l.5 4.8m-.7-1l.7 1l.5-1.1M419.5 756.1l-5.1 1.8m.8-.9l-.8 .9l1.2 .2M419.5 750.4l-3 3.8m.1-1.2l-.1 1.2l1.1-.4M419.5 744.7l-.3 4.7m-.5-1.1l.5 1.1l.7-1M419.5 739l.2 4.1m-.7-1l.7 1l.6-1.1M419.5 733.3l-2 4.3m-.1-1.2l.1 1.2l1-.7M419.5 727.6l-4.2 3.4m.4-1.1l-.4 1.1l1.2-.2M419.5 721.9l.9-4.8m.4 1.1l-.4-1.1l-.8 .9M419.5 716.2l-.4 5.1m-.5-1.1l.5 1.1l.7-1M419.5 710.5l-.6 3.9m-.5-1.1l.5 1.1l.8-.9M419.5 704.8l.6 5.2m-.7-1l.7 1l.5-1.1M419.5 699.1l-3.8 3.2m.4-1.1l-.4 1.1l1.2-.2M419.5 693.4l-3 3.4m.2-1.2l-.2 1.2l1.1-.4M419.5 687.7l-4.2 3.4m.4-1.1l-.4 1.1l1.2-.2M419.5 682l4.9 1m-1.1 .4l1.1-.4l-.9-.8M419.5 676.3l-3.3 3.1m.3-1.2l-.3 1.2l1.2-.2M419.5 670.6l-4.7 3.5m.5-1.1l-.5 1.1l1.2-.1M419.5 664.9l-4 4.2m.3-1.2l-.3 1.2l1.2-.3M419.5 659.2l-.2 4.7m-.6-1.1l.6 1.1l.7-1M419.5 653.5l-2.8 4.5m0-1.2l0 1.2l1.1-.5M419.5 647.8l-4.4 3.9m.4-1.1l-.4 1.1l1.2-.2M426.7 830.2l6.2-1.4m-.9 .8l.9-.8l-1.1-.4M426.7 824.5l-4.1 3.3m.4-1.1l-.4 1.1l1.2-.2M426.7 818.8l-.3 5.1m-.6-1.1l.6 1.1l.7-1M426.7 813.1l-.1 4.5m-.6-1l.6 1l.6-1M426.7 807.4l.2 5.2m-.7-1l.7 1l.6-1.1M426.7 801.7l-2.3 4.5m-.1-1.2l.1 1.2l1-.6M426.7 796l-3.9 3.6m.3-1.2l-.3 1.2l1.2-.2M426.7 790.3l-4.9 1.4m.8-.9l-.8 .9l1.2 .3M426.7 784.6l-4.3 3.5m.4-1.1l-.4 1.1l1.2-.2M426.7 778.9l-.6-4.2m.8 .9l-.8-.9l-.5 1.1M426.7 773.2l-3.5 4.4m.2-1.2l-.2 1.2l1.1-.4M426.7 767.5l-4.1 3.2m.4-1.1l-.4 1.1l1.2-.1M426.7 761.8l-2.9 3.4m.2-1.2l-.2 1.2l1.1-.4M426.7 756.1l-1.5 7.7m-.4-1.1l.4 1.1l.8-.9M426.7 750.4l-1.9 4.9m-.2-1.2l.2 1.2l.9-.7M426.7 744.7l-4.4 2.1m.7-1l-.7 1l1.2 .1M426.7 739l-.6 4.3m-.5-1.1l.5 1.1l.8-.9M426.7 733.3l-5.8 .1m1-.6l-1 .6l1 .6M426.7 727.6l-.5 4.2m-.5-1.1l.5 1.1l.7-.9M426.7 721.9l-3.4 4.4m.1-1.2l-.1 1.2l1.1-.4M426.7 716.2l-2.7 6.1m-.1-1.2l.1 1.2l1-.7M426.7 710.5l-5 1.4m.8-.9l-.8 .9l1.2 .3M426.7 704.8l-2.3 4.9m-.1-1.2l.1 1.2l1-.7M426.7 699.1l.2-4.7m.6 1l-.6-1l-.7 1M426.7 693.4l-2.5 3.7m.1-1.2l-.1 1.2l1.1-.5M426.7 687.7l-.5 4m-.5-1.1l.5 1.1l.7-.9M426.7 682l-2.4 4.4m0-1.2l0 1.2l1-.6M426.7 676.3l-3 3.5m.2-1.2l-.2 1.2l1.1-.4M426.7 670.6l-2.6 3.7m.1-1.2l-.1 1.2l1.1-.5M426.7 664.9l-.8 5m-.5-1.1l.5 1.1l.8-.9M426.7 659.2l-2.4 3.9m0-1.2l0 1.2l1.1-.6M426.7 653.5l-.5 4.3m-.5-1.1l.5 1.1l.7-1M426.7 647.8l-3.4 5.9m0-1.2l0 1.2l1.1-.6M433.9 830.2l-4.8 2.9m.6-1.1l-.6 1.1l1.2 0M433.9 824.5l-.9 4.9m-.4-1.1l.4 1.1l.8-.9M433.9 818.8l-3.7 2.7m.5-1.1l-.5 1.1l1.2-.1M433.9 813.1l-1.5 4m-.2-1.2l.2 1.2l.9-.7M433.9 807.4l-3.5 3m.4-1.1l-.4 1.1l1.2-.2M433.9 801.7l-2.4 3.9m0-1.2l0 1.2l1.1-.6M433.9 796l-.5 4.9m-.5-1.1l.5 1.1l.7-1M433.9 790.3l-2.5 3.6m.1-1.2l-.1 1.2l1.1-.5M433.9 784.6l-2 4.1m-.1-1.2l.1 1.2l1-.7M433.9 778.9l-5.5 2.7m.6-1l-.6 1l1.2 .1M433.9 773.2l-2.7 4.1m.1-1.2l-.1 1.2l1.1-.5M433.9 767.5l-1.9 4.4m-.2-1.2l.2 1.2l1-.7M433.9 761.8l-1.9 4.7m-.2-1.2l.2 1.2l1-.7M433.9 756.1l-3.1 4.3m.1-1.2l-.1 1.2l1.1-.5M433.9 750.4l-4.2 2.2m.6-1l-.6 1l1.2 .1M433.9 744.7l-5.9 1.1m.9-.8l-.9 .8l1.1 .4M433.9 739l-4.7 3.3m.5-1.1l-.5 1.1l1.2-.1M433.9 733.3l-4.9 1.3m.8-.9l-.8 .9l1.2 .3M433.9 727.6l.3 4.5m-.7-1l.7 1l.6-1.1M433.9 721.9l-.1 4.8m-.6-1l.6 1l.6-1M433.9 716.2l-3.3 3.4m.3-1.2l-.3 1.2l1.2-.3M433.9 710.5l-3.1 3.4m.2-1.2l-.2 1.2l1.1-.3M433.9 704.8l-1.8 4m-.1-1.2l.1 1.2l1-.7M433.9 699.1l-4.9 3.3m.5-1.1l-.5 1.1l1.2-.1M433.9 693.4l-2.4 4.4m-.1-1.2l.1 1.2l1-.6M433.9 687.7l-3.7 4.2m.2-1.2l-.2 1.2l1.1-.4M433.9 682l0 4.2m-.6-1l.6 1l.6-1M433.9 676.3l-5.5 2.6m.7-1l-.7 1l1.2 .1M433.9 670.6l-3.1 4.3m.1-1.2l-.1 1.2l1.1-.5M433.9 664.9l.5 3.9m-.7-.9l.7 .9l.5-1.1M433.9 659.2l-3.6 3.7m.3-1.2l-.3 1.2l1.2-.3M433.9 653.5l-4.5 3.6m.4-1.1l-.4 1.1l1.2-.2M433.9 647.8l-4.7-2.7m1.2 0l-1.2 0l.6 1.1M441.2 830.2l-2.2-4.6m1 .7l-1-.7l-.1 1.2M441.2 824.5l-4.3 3.2m.5-1.1l-.5 1.1l1.2-.1M441.2 818.8l-1.7 3.8m-.1-1.2l.1 1.2l1-.7M441.2 813.1l-2.7 3.4m.2-1.2l-.2 1.2l1.1-.4M441.2 807.4l-6 .4m1-.7l-1 .7l1.1 .6M441.2 801.7l-4.9 1.7m.8-.9l-.8 .9l1.2 .2M441.2 796l-.1 4.8m-.6-1l.6 1l.6-1M441.2 790.3l.6 4.4m-.8-.9l.8 .9l.5-1.1M441.2 784.6l-.6 4.7m-.5-1.1l.5 1.1l.8-.9M441.2 778.9l-.2 5m-.6-1.1l.6 1.1l.7-1M441.2 773.2l-3.4 3m.4-1.1l-.4 1.1l1.2-.2M441.2 767.5l.6 4.4m-.7-.9l.7 .9l.5-1.1M441.2 761.8l-3.9 2.8m.5-1.1l-.5 1.1l1.2-.1M441.2 756.1l5.5-1m-.9 .8l.9-.8l-1.1-.4M441.2 750.4l-4.2 3.7m.4-1.1l-.4 1.1l1.2-.2M441.2 744.7l-.3 4.7m-.5-1.1l.5 1.1l.7-1M441.2 739l-4.3 3.2m.5-1.1l-.5 1.1l1.2-.1M441.2 733.3l-2.7 4.3m0-1.2l0 1.2l1.1-.5M441.2 727.6l0 5.1m-.6-1l.6 1l.6-1M441.2 721.9l.2 4.5m-.7-1l.7 1l.6-1.1M441.2 716.2l-1.9 4.9m-.2-1.2l.2 1.2l.9-.7M441.2 710.5l-4.7 3.6m.4-1.1l-.4 1.1l1.2-.1M441.2 704.8l-3.5 2.8m.4-1.1l-.4 1.1l1.2-.2M441.2 699.1l.1 4m-.7-1l.7 1l.6-1M441.2 693.4l-3.2 3.1m.3-1.2l-.3 1.2l1.2-.3M441.2 687.7l-2.8 4.3m0-1.2l0 1.2l1.1-.5M441.2 682l-.7 4.8m-.5-1.1l.5 1.1l.8-.9M441.2 676.3l-4.1 2.4m.6-1.1l-.6 1.1l1.2 0M441.2 670.6l-.8 5.1m-.4-1.1l.4 1.1l.8-.9M441.2 664.9l.2 4.7m-.7-1l.7 1l.6-1.1M441.2 659.2l-4.1 3.8m.3-1.2l-.3 1.2l1.2-.2M441.2 653.5l-5.7 .6m1-.7l-1 .7l1.1 .5M441.2 647.8l-5.5 1.5m.8-.9l-.8 .9l1.2 .3M448.4 830.2l-3.3 4.2m.1-1.2l-.1 1.2l1.1-.4M448.4 824.5l-2.3 3.8m0-1.2l0 1.2l1.1-.6M448.4 818.8l-3.4 4.2m.2-1.2l-.2 1.2l1.1-.4M448.4 813.1l-5.2 1.1m.9-.8l-.9 .8l1.1 .4M448.4 807.4l-3.4 4.4m.1-1.2l-.1 1.2l1.1-.4M448.4 801.7l-.5 3.9m-.5-1.1l.5 1.1l.7-.9M448.4 796l-2.1 6.7m-.3-1.2l.3 1.2l.9-.8M448.4 790.3l-.3 4.9m-.6-1.1l.6 1.1l.7-1M448.4 784.6l-1.6 6.8m-.4-1.1l.4 1.1l.8-.9M448.4 778.9l-2.6 4m0-1.2l0 1.2l1.1-.5M448.4 773.2l-5.5 2.8m.6-1l-.6 1l1.2 .1M448.4 767.5l-4 4m.3-1.2l-.3 1.2l1.2-.3M448.4 761.8l-1.7 4.7m-.2-1.2l.2 1.2l.9-.8M448.4 756.1l.8 5.1m-.8-.9l.8 .9l.4-1.1M448.4 750.4l-.4 4.2m-.5-1.1l.5 1.1l.7-1M448.4 744.7l-3.3 4.2m.1-1.2l-.1 1.2l1.1-.4M448.4 739l-3.7 3.3m.4-1.1l-.4 1.1l1.2-.2M448.4 733.3l-3.4 3.2m.3-1.2l-.3 1.2l1.2-.2M448.4 727.6l-5.9 .8m.9-.7l-.9 .7l1.1 .5M448.4 721.9l-5.8 2.4m.7-1l-.7 1l1.2 .2M448.4 716.2l-6.1 1.1m.9-.8l-.9 .8l1.1 .4M448.4 710.5l-.4 4.8m-.5-1.1l.5 1.1l.7-1M448.4 704.8l-1.7 4.8m-.2-1.2l.2 1.2l.9-.8M448.4 699.1l-6.1 1.4m.9-.8l-.9 .8l1.1 .4M448.4 693.4l-5.2-3.1m1.2 0l-1.2 0l.6 1.1M448.4 687.7l-1.3 4.7m-.3-1.2l.3 1.2l.9-.8M448.4 682l-3.5 3.7m.3-1.2l-.3 1.2l1.2-.3M448.4 676.3l-3.4 3.2m.3-1.2l-.3 1.2l1.2-.2M448.4 670.6l-3.7 3.2m.4-1.1l-.4 1.1l1.2-.2M448.4 664.9l-3.2 3.9m.2-1.2l-.2 1.2l1.1-.4M448.4 659.2l-4.4 3.8m.4-1.1l-.4 1.1l1.2-.2M448.4 653.5l-.6 4.6m-.5-1.1l.5 1.1l.7-.9M448.4 647.8l-3.3 4m.2-1.2l-.2 1.2l1.1-.4M455.6 830.2l-.6 4.1m-.5-1.1l.5 1.1l.8-.9M455.6 824.5l-3.2 3.9m.2-1.2l-.2 1.2l1.1-.4M455.6 818.8l-.8 5.2m-.5-1.1l.5 1.1l.8-.9M455.6 813.1l-4.7 3.7m.4-1.1l-.4 1.1l1.2-.1M455.6 807.4l-1.8 3.8m-.1-1.2l.1 1.2l1-.7M455.6 801.7l-4.3 2.2m.6-1l-.6 1l1.2 .1M455.6 796l-3.9 3.4m.4-1.1l-.4 1.1l1.2-.2M455.6 790.3l1.3-4.1m.3 1.2l-.3-1.2l-.9 .8M455.6 784.6l-.1 4.7m-.6-1l.6 1l.6-1M455.6 778.9l-2.9 4.1m.1-1.2l-.1 1.2l1.1-.5M455.6 773.2l.2 5.1m-.7-1l.7 1l.6-1M455.6 767.5l-3.8 3.9m.3-1.2l-.3 1.2l1.2-.3M455.6 761.8l-1.8 4m-.2-1.2l.2 1.2l1-.7M455.6 756.1l-4.1 3.4m.4-1.1l-.4 1.1l1.2-.2M455.6 750.4l-.5 5.1m-.5-1.1l.5 1.1l.7-1M455.6 744.7l-2.9 3.7m.1-1.2l-.1 1.2l1.1-.4M455.6 739l-4.5 3.7m.4-1.1l-.4 1.1l1.2-.2M455.6 733.3l-2.6 4.4m0-1.2l0 1.2l1.1-.6M455.6 727.6l-4.5 2m.7-1l-.7 1l1.2 .1M455.6 721.9l-3.4 3.2m.3-1.2l-.3 1.2l1.2-.2M455.6 716.2l-3.7 3.2m.4-1.1l-.4 1.1l1.2-.2M455.6 710.5l-2 4m-.1-1.2l.1 1.2l1-.6M455.6 704.8l-3.7 3.1m.4-1.1l-.4 1.1l1.2-.2M455.6 699.1l-3.5 3.5m.3-1.2l-.3 1.2l1.2-.3M455.6 693.4l-.1 4m-.6-1l.6 1l.6-1M455.6 687.7l-1.4 4.5m-.3-1.2l.3 1.2l.9-.8M455.6 682l-3.7 3.6m.3-1.2l-.3 1.2l1.2-.3M455.6 676.3l0 4.5m-.6-1l.6 1l.6-1M455.6 670.6l-5.1 2.1m.7-1l-.7 1l1.2 .2M455.6 664.9l-1 5m-.4-1.1l.4 1.1l.8-.9M455.6 659.2l.4 4.6m-.7-1l.7 1l.5-1.1M455.6 653.5l-4.5 3.4m.4-1.1l-.4 1.1l1.2-.1M455.6 647.8l-2.9 4.4m0-1.2l0 1.2l1.1-.5M462.8 830.2l-1.7 5m-.3-1.2l.3 1.2l.9-.8M462.8 824.5l-4.6 3.2m.5-1.1l-.5 1.1l1.2-.1M462.8 818.8l-4.1 2.5m.6-1.1l-.6 1.1l1.2 0M462.8 813.1l0 4.9m-.6-1l.6 1l.6-1M462.8 807.4l-6 .2m1-.6l-1 .6l1 .6M462.8 801.7l-5.2 5.8m.2-1.2l-.2 1.2l1.1-.4M462.8 796l-2.2 4.2m-.1-1.2l.1 1.2l1-.6M462.8 790.3l-3.6 4.2m.2-1.2l-.2 1.2l1.1-.4M462.8 784.6l-7.5 .8m1-.7l-1 .7l1.1 .5M462.8 778.9l-.1 4.3m-.6-1l.6 1l.6-1M462.8 773.2l-4.8-1.8m1.2-.2l-1.2 .2l.7 .9M462.8 767.5l-1.1 5.1m-.4-1.1l.4 1.1l.8-.9M462.8 761.8l-3.6 3.4m.3-1.2l-.3 1.2l1.2-.3M462.8 756.1l-3.9 3.1m.4-1.1l-.4 1.1l1.2-.1M462.8 750.4l-7.1 4.2m.6-1.1l-.6 1.1l1.2 0M462.8 744.7l-5.1 1.1m.9-.8l-.9 .8l1.1 .4M462.8 739l4.2 3m-1.2-.1l1.2 .1l-.5-1.1M462.8 733.3l-.6 4.8m-.5-1.1l.5 1.1l.7-.9M462.8 727.6l-6.4 0m1-.6l-1 .6l1 .6M462.8 721.9l-1.9 4.6m-.2-1.2l.2 1.2l1-.7M462.8 716.2l-3.3 4.2m.1-1.2l-.1 1.2l1.1-.4M462.8 710.5l-3 4.7m0-1.2l0 1.2l1.1-.5M462.8 704.8l-4.8 3.5m.5-1.1l-.5 1.1l1.2-.1M462.8 699.1l-3.2 3.3m.3-1.2l-.3 1.2l1.2-.3M462.8 693.4l-.6 5m-.5-1.1l.5 1.1l.7-.9M462.8 687.7l4.5 2.2m-1.2 .1l1.2-.1l-.7-1M462.8 682l-3.8 3.1m.4-1.1l-.4 1.1l1.2-.2M462.8 676.3l-3.7 3.7m.3-1.2l-.3 1.2l1.2-.3M462.8 670.6l-3.5 3.7m.3-1.2l-.3 1.2l1.2-.3M462.8 664.9l-4.8 1m.9-.8l-.9 .8l1.1 .4M462.8 659.2l4 3.9m-1.2-.3l1.2 .3l-.3-1.2M462.8 653.5l-4.5-3.6m1.2 .2l-1.2-.2l.4 1.1M462.8 647.8l-4 4.1m.3-1.2l-.3 1.2l1.2-.3M470 830.2l-3 3.8m.2-1.2l-.2 1.2l1.1-.4M470 824.5l-3.3 3.6m.2-1.2l-.2 1.2l1.1-.3M470 818.8l-2.5 3.7m.1-1.2l-.1 1.2l1.1-.5M470 813.1l.2 4.5m-.7-1l.7 1l.6-1.1M470 807.4l-4.2 3.9m.3-1.2l-.3 1.2l1.2-.2M470 801.7l-3.1 4.4m.1-1.2l-.1 1.2l1.1-.5M470 796l-3.9 3.5m.3-1.1l-.3 1.1l1.2-.2M470 790.3l-3.5 5.7m0-1.2l0 1.2l1.1-.5M470 784.6l-6.3 1.4m.9-.8l-.9 .8l1.1 .4M470 778.9l-4.3 2.4m.6-1l-.6 1l1.2 0M470 773.2l-3.8 3.2m.4-1.1l-.4 1.1l1.2-.2M470 767.5l.7 4.2m-.8-.9l.8 .9l.4-1.1M470 761.8l4.3 2.8m-1.2 0l1.2 0l-.5-1.1M470 756.1l-.5 4.3m-.5-1.1l.5 1.1l.7-.9M470 750.4l-3.1 3.1m.3-1.2l-.3 1.2l1.2-.3M470 744.7l.3 5.2m-.7-1l.7 1l.6-1.1M470 739l-1.8 3.9m-.1-1.2l.1 1.2l1-.7M470 733.3l.5 4.9m-.7-1l.7 1l.5-1.1M470 727.6l-4.8 3.3m.5-1.1l-.5 1.1l1.2-.1M470 721.9l-2.7 4.5m0-1.2l0 1.2l1.1-.6M470 716.2l-5.5 2.6m.7-1l-.7 1l1.2 .1M470 710.5l-3.3 6.9m-.1-1.2l.1 1.2l1-.7M470 704.8l-5.3 2m.7-.9l-.7 .9l1.2 .2M470 699.1l-4.4 3.4m.4-1.1l-.4 1.1l1.2-.1M470 693.4l-3.9 3.2m.4-1.1l-.4 1.1l1.2-.2M470 687.7l-4.9 .9m.9-.8l-.9 .8l1.1 .4M470 682l-4.1 3.7m.4-1.1l-.4 1.1l1.2-.2M470 676.3l.1 4.7m-.6-1l.6 1l.6-1M470 670.6l.3 4.4m-.7-1l.7 1l.6-1.1M470 664.9l-2.7 4.5m0-1.2l0 1.2l1.1-.6M470 659.2l3.3 4.5m-1.1-.5l1.1 .5l-.1-1.2M470 653.5l-4.9 2.4m.7-1l-.7 1l1.2 .1M470 647.8l-3.9 6.2m0-1.2l0 1.2l1.1-.5M477.3 830.2l.2 7.3m-.6-1l.6 1l.6-1M477.3 824.5l-5.3 1.6m.8-.9l-.8 .9l1.2 .3M477.3 818.8l-3.6 4.2m.2-1.2l-.2 1.2l1.1-.4M477.3 813.1l-1 5.2m-.4-1.1l.4 1.1l.8-.9M477.3 807.4l-3.5 4m.2-1.2l-.2 1.2l1.1-.4M477.3 801.7l-6.4 5.7m.4-1.1l-.4 1.1l1.2-.2M477.3 796l6.5-.6m-1 .7l1-.7l-1.1-.5M477.3 790.3l-.9 5.1m-.4-1.1l.4 1.1l.8-.9M477.3 784.6l-2.8 3.7m.1-1.2l-.1 1.2l1.1-.4M477.3 778.9l-3.7 3m.4-1.1l-.4 1.1l1.2-.2M477.3 773.2l-2.8 3.6m.1-1.2l-.1 1.2l1.1-.4M477.3 767.5l-4.2 3.8m.3-1.1l-.3 1.1l1.2-.2M477.3 761.8l-3-4.6m1.1 .5l-1.1-.5l0 1.2M477.3 756.1l-4.8 3.1m.5-1.1l-.5 1.1l1.2 0M477.3 750.4l-1.9 4.6m-.2-1.2l.2 1.2l1-.7M477.3 744.7l.2-5.1m.6 1.1l-.6-1.1l-.7 1M477.3 739l-3.1 3.8m.2-1.2l-.2 1.2l1.1-.4M477.3 733.3l.3 4.1m-.7-1l.7 1l.5-1.1M477.3 727.6l-3.9 3.1m.4-1.1l-.4 1.1l1.2-.2M477.3 721.9l-2.2 3.7m0-1.2l0 1.2l1.1-.6M477.3 716.2l-.2 4.5m-.6-1.1l.6 1.1l.7-1M477.3 710.5l-2.7 4.5m0-1.2l0 1.2l1.1-.6M477.3 704.8l-3.7 3m.4-1.1l-.4 1.1l1.2-.2M477.3 699.1l.2 4.6m-.7-1l.7 1l.6-1.1M477.3 693.4l-.6 4.9m-.5-1.1l.5 1.1l.7-.9M477.3 687.7l-6.5 1m.9-.8l-.9 .8l1.1 .5M477.3 682l-2.9 4.4m0-1.2l0 1.2l1.1-.5M477.3 676.3l-4.5 3.8m.4-1.1l-.4 1.1l1.2-.2M477.3 670.6l-4.1-2.3m1.2 0l-1.2 0l.6 1M477.3 664.9l-3.9 3.5m.3-1.1l-.3 1.1l1.2-.2M477.3 659.2l-4.2 3.9m.3-1.2l-.3 1.2l1.2-.2M477.3 653.5l-.3 5.2m-.6-1.1l.6 1.1l.7-1M477.3 647.8l-1.4 4.1m-.2-1.2l.2 1.2l.9-.8M484.5 830.2l-5.1 .1m1-.6l-1 .6l1 .6M484.5 824.5l-.3 4m-.5-1.1l.5 1.1l.7-1M484.5 818.8l-2.9 3.8m.1-1.2l-.1 1.2l1.1-.4M484.5 813.1l-8.6 1.2m.9-.8l-.9 .8l1.1 .5M484.5 807.4l-2.9 4.3m.1-1.2l-.1 1.2l1.1-.5M484.5 801.7l-3 3.5m.2-1.2l-.2 1.2l1.1-.4M484.5 796l.3 4.4m-.7-1l.7 1l.5-1.1M484.5 790.3l-.4 4.6m-.5-1.1l.5 1.1l.7-1M484.5 784.6l-2.3 3.9m0-1.2l0 1.2l1.1-.6M484.5 778.9l-1.9 4.5m-.2-1.2l.2 1.2l1-.7M484.5 773.2l-4.8 3.4m.5-1.1l-.5 1.1l1.2-.1M484.5 767.5l-3.1 6.4m-.1-1.2l.1 1.2l1-.7M484.5 761.8l-3.5 3.5m.3-1.2l-.3 1.2l1.2-.3M484.5 756.1l-3.5 2.9m.4-1.1l-.4 1.1l1.2-.2M484.5 750.4l-2.6 3.7m.1-1.2l-.1 1.2l1.1-.5M484.5 744.7l-7.8 3.9m.6-1l-.6 1l1.2 .1M484.5 739l-1.2 4.6m-.3-1.2l.3 1.2l.9-.8M484.5 733.3l-.8 3.9m-.4-1.1l.4 1.1l.8-.9M484.5 727.6l-6.1 1.1m.9-.8l-.9 .8l1.1 .4M484.5 721.9l-4.4 3.4m.4-1.1l-.4 1.1l1.2-.1M484.5 716.2l-.5 4.2m-.5-1.1l.5 1.1l.7-.9M484.5 710.5l-5.6 .9m.9-.8l-.9 .8l1.1 .4M484.5 704.8l-1.5 4.3m-.2-1.2l.2 1.2l.9-.8M484.5 699.1l-2.3 3.8m0-1.2l0 1.2l1.1-.6M484.5 693.4l-3 3.2m.2-1.2l-.2 1.2l1.2-.3M484.5 687.7l-.8 5.1m-.5-1.1l.5 1.1l.8-.9M484.5 682l-2.4 4.5m-.1-1.2l.1 1.2l1-.6M484.5 676.3l-2.2 4.3m-.1-1.2l.1 1.2l1-.6M484.5 670.6l-2.7 4.1m0-1.2l0 1.2l1.1-.5M484.5 664.9l-.5 4.9m-.5-1.1l.5 1.1l.7-1M484.5 659.2l-6.2 1.6m.8-.9l-.8 .9l1.2 .3M484.5 653.5l-2.2 4.2m-.1-1.2l.1 1.2l1-.6M484.5 647.8l.1 5.2m-.6-1l.6 1l.6-1M491.7 830.2l-2.9 3.6m.2-1.2l-.2 1.2l1.1-.4M491.7 824.5l6.1-.7m-.9 .7l.9-.7l-1.1-.5M491.7 818.8l-5.2 2.8m.6-1l-.6 1l1.2 .1M491.7 813.1l-.4 5.2m-.5-1.1l.5 1.1l.7-1M491.7 807.4l-1.5 5m-.3-1.2l.3 1.2l.9-.8M491.7 801.7l-2 7.4m-.3-1.2l.3 1.2l.9-.8M491.7 796l-5.2 3.2m.6-1.1l-.6 1.1l1.2 0M491.7 790.3l-5.1-.2m1.1-.6l-1.1 .6l1 .7M491.7 784.6l-.2 5.1m-.6-1l.6 1l.7-1M491.7 778.9l-5.7 .1m1-.6l-1 .6l1 .6M491.7 773.2l-2.7 3.6m.1-1.2l-.1 1.2l1.1-.5M491.7 767.5l-5.3 3.2m.6-1.1l-.6 1.1l1.2 0M491.7 761.8l1 4.8m-.8-.9l.8 .9l.4-1.1M491.7 756.1l0 5.2m-.6-1l.6 1l.6-1M491.7 750.4l-1.1 5m-.4-1.1l.4 1.1l.8-.9M491.7 744.7l.3 4.3m-.7-1l.7 1l.5-1.1M491.7 739l2.7 4.8m-1-.6l1 .6l0-1.2M491.7 733.3l-5.7-2.6m1.2-.1l-1.2 .1l.7 1M491.7 727.6l-2.3 4.8m-.1-1.2l.1 1.2l1-.7M491.7 721.9l-2-4.2m1 .7l-1-.7l-.1 1.2M491.7 716.2l-4.8 2m.7-1l-.7 1l1.2 .2M491.7 710.5l-6.1 .9m.9-.8l-.9 .8l1.1 .5M491.7 704.8l-4.7-3.2m1.2 .1l-1.2-.1l.5 1.1M491.7 699.1l-2.2 3.8m0-1.2l0 1.2l1-.6M491.7 693.4l-4.8 3m.6-1.1l-.6 1.1l1.2 0M491.7 687.7l-5.2 1.3m.8-.9l-.8 .9l1.2 .3M491.7 682l4.2-3.1m-.5 1.1l.5-1.1l-1.2 .1M491.7 676.3l-6.1 3.4m.6-1l-.6 1l1.2 0M491.7 670.6l-2.5 4.1m0-1.2l0 1.2l1.1-.5M491.7 664.9l-5.1-.2m1-.6l-1 .6l1 .7M491.7 659.2l-4.4 5m.2-1.2l-.2 1.2l1.1-.4M491.7 653.5l-4.5 2.3m.6-1l-.6 1l1.2 .1M491.7 647.8l-1.7 4.6m-.2-1.2l.2 1.2l.9-.8M498.9 830.2l-4.3 3.6m.4-1.1l-.4 1.1l1.2-.2M498.9 824.5l-3.3 3.2m.3-1.2l-.3 1.2l1.2-.3M498.9 818.8l-2.5 3.4m.1-1.2l-.1 1.2l1.1-.5M498.9 813.1l-.6 4.4m-.5-1.1l.5 1.1l.7-.9M498.9 807.4l-1.8 3.8m-.1-1.2l.1 1.2l1-.7M498.9 801.7l-6 1.9m.8-.9l-.8 .9l1.2 .3M498.9 796l.7 4.3m-.8-.9l.8 .9l.4-1.1M498.9 790.3l-5 2.6m.6-1l-.6 1l1.2 .1M498.9 784.6l-2.9 4m.1-1.2l-.1 1.2l1.1-.5M498.9 778.9l-3.6 3.4m.3-1.2l-.3 1.2l1.2-.3M498.9 773.2l-3.8 3.9m.3-1.2l-.3 1.2l1.2-.3M498.9 767.5l.1 4.2m-.6-1l.6 1l.6-1M498.9 761.8l.6 4.1m-.8-.9l.8 .9l.5-1.1M498.9 756.1l-3.5 3.3m.3-1.2l-.3 1.2l1.2-.3M498.9 750.4l-4.5 3m.5-1.1l-.5 1.1l1.2 0M498.9 744.7l-.1 4.3m-.6-1l.6 1l.6-1M498.9 739l-3.1 4m.1-1.2l-.1 1.2l1.1-.4M498.9 733.3l-4.1 3.2m.4-1.1l-.4 1.1l1.2-.1M498.9 727.6l-3.3 3.4m.3-1.2l-.3 1.2l1.2-.3M498.9 721.9l-3.5 3.5m.3-1.2l-.3 1.2l1.2-.3M498.9 716.2l-3.9 5m.1-1.2l-.1 1.2l1.1-.4M498.9 710.5l-1.5 4.4m-.2-1.2l.2 1.2l.9-.8M498.9 704.8l-.6 4.1m-.5-1.1l.5 1.1l.8-.9M498.9 699.1l.2 4m-.7-1l.7 1l.6-1.1M498.9 693.4l-3.6 2.8m.4-1.1l-.4 1.1l1.2-.1M498.9 687.7l.5 4.8m-.7-1l.7 1l.5-1.1M498.9 682l-4.2 3.4m.4-1.1l-.4 1.1l1.2-.2M498.9 676.3l-2.8 4.6m0-1.2l0 1.2l1.1-.5M498.9 670.6l-5.5 .8m.9-.8l-.9 .8l1.1 .5M498.9 664.9l-3.7 7.3m-.1-1.2l.1 1.2l1-.6M498.9 659.2l-4.7 2m.7-1l-.7 1l1.2 .2M498.9 653.5l-6.7 3.1m.7-1l-.7 1l1.2 .1M498.9 647.8l-5 6.6m.1-1.2l-.1 1.2l1.1-.4M506.2 830.2l-.8 4.2m-.4-1.1l.4 1.1l.8-.9M506.2 824.5l-.9 4.6m-.4-1.1l.4 1.1l.8-.9M506.2 818.8l-2.6 4.1m0-1.2l0 1.2l1.1-.5M506.2 813.1l-2.1 4.5m-.1-1.2l.1 1.2l1-.7M506.2 807.4l-4.7 1.9m.7-1l-.7 1l1.2 .2M506.2 801.7l-4.5 2.9m.5-1.1l-.5 1.1l1.2 0M506.2 796l-2.6 3.7m.1-1.2l-.1 1.2l1.1-.5M506.2 790.3l-5.3 6.1m.2-1.2l-.2 1.2l1.1-.4M506.2 784.6l-4 4m.3-1.2l-.3 1.2l1.2-.3M506.2 778.9l-3.5 3.1m.4-1.1l-.4 1.1l1.2-.2M506.2 773.2l-3.5 3.5m.3-1.2l-.3 1.2l1.2-.3M506.2 767.5l-4.4 2.9m.5-1.1l-.5 1.1l1.2 0M506.2 761.8l-2.1-3.6m1.1 .6l-1.1-.6l0 1.2M506.2 756.1l-2.9 4.4m.1-1.2l-.1 1.2l1.1-.5M506.2 750.4l3.6-4.2m-.2 1.2l.2-1.2l-1.1 .4M506.2 744.7l-2.6 3.9m.1-1.2l-.1 1.2l1.1-.5M506.2 739l-1.7 6.8m-.3-1.1l.3 1.1l.9-.8M506.2 733.3l.2 4.4m-.7-1l.7 1l.6-1.1M506.2 727.6l-2.7 3.7m.1-1.2l-.1 1.2l1.1-.5M506.2 721.9l-3.9 2.7m.5-1.1l-.5 1.1l1.2-.1M506.2 716.2l.8 6.6m-.7-.9l.7 .9l.5-1.1M506.2 710.5l.2 5m-.7-1l.7 1l.6-1.1M506.2 704.8l-5.5 1m.9-.8l-.9 .8l1.1 .4M506.2 699.1l-6.1 5.1m.4-1.1l-.4 1.1l1.2-.2M506.2 693.4l-.2 4.8m-.6-1l.6 1l.7-1M506.2 687.7l3.5 4.2m-1.1-.4l1.1 .4l-.2-1.2M506.2 682l-5.2 4.6m.4-1.1l-.4 1.1l1.2-.2M506.2 676.3l-3.3 3.2m.3-1.2l-.3 1.2l1.2-.3M506.2 670.6l-1.6 4.8m-.3-1.2l.3 1.2l.9-.8M506.2 664.9l-5.1 2.1m.7-1l-.7 1l1.2 .2M506.2 659.2l-2.9 4.2m.1-1.2l-.1 1.2l1.1-.5M506.2 653.5l-2.3 4.5m-.1-1.2l.1 1.2l1-.6M506.2 647.8l-4.3 3.4m.4-1.1l-.4 1.1l1.2-.1M513.4 830.2l-3.3 4m.2-1.2l-.2 1.2l1.1-.4M513.4 824.5l-2.9 3.3m.2-1.2l-.2 1.2l1.1-.4M513.4 818.8l-4.9 2.3m.7-1l-.7 1l1.2 .1M513.4 813.1l.7 4.6m-.8-.9l.8 .9l.4-1.1M513.4 807.4l8.8 1.8m-1.1 .4l1.1-.4l-.9-.8M513.4 801.7l-4.5 5.3m.2-1.2l-.2 1.2l1.1-.4M513.4 796l-4.4 5.2m.2-1.2l-.2 1.2l1.1-.4M513.4 790.3l-3.6 3m.4-1.1l-.4 1.1l1.2-.2M513.4 784.6l-3.5 4.3m.2-1.2l-.2 1.2l1.1-.4M513.4 778.9l.1 4.6m-.6-1l.6 1l.6-1M513.4 773.2l-4.4 3.2m.5-1.1l-.5 1.1l1.2-.1M513.4 767.5l-3.3 3m.3-1.2l-.3 1.2l1.2-.2M513.4 761.8l-5 3.4m.5-1.1l-.5 1.1l1.2-.1M513.4 756.1l-6.3-.1m1-.6l-1 .6l1 .6M513.4 750.4l-1.6 2.2m.1-.8l-.1 .8l.8-.3M513.4 744.7l-.3 .2M513.4 739l-.4 .1M513.4 733.3l-1.4 2.1m.1-.8l-.1 .8l.7-.3M513.4 727.6l-3 .4m.7-.6l-.7 .6l.8 .3M513.4 721.9l-3.9 3.8m.3-1.2l-.3 1.2l1.2-.3M513.4 716.2l.8 5m-.8-.9l.8 .9l.5-1.1M513.4 710.5l-4.3 2.6m.6-1.1l-.6 1.1l1.2 0M513.4 704.8l-4.1 4m.3-1.2l-.3 1.2l1.2-.3M513.4 699.1l-3.3 4.4m.1-1.2l-.1 1.2l1.1-.4M513.4 693.4l5.4-.1m-1 .6l1-.6l-1-.6M513.4 687.7l-5.3 2.8m.6-1l-.6 1l1.2 .1M513.4 682l-5.7-.9m1.1-.5l-1.1 .5l.9 .8M513.4 676.3l-1.3 7.2m-.4-1.1l.4 1.1l.8-.9M513.4 670.6l-3.1 3.2m.3-1.2l-.3 1.2l1.2-.3M513.4 664.9l-4.6 3.1m.5-1.1l-.5 1.1l1.2-.1M513.4 659.2l-1.2 3.8m-.3-1.2l.3 1.2l.9-.8M513.4 653.5l3-3.5m-.2 1.2l.2-1.2l-1.1 .4M513.4 647.8l-1.7 3.7m-.1-1.2l.1 1.2l1-.7M520.6 830.2l.9-4.8m.4 1.1l-.4-1.1l-.8 .9M520.6 824.5l-1 4.5m-.4-1.1l.4 1.1l.8-.9M520.6 818.8l-.2 4.1m-.6-1.1l.6 1.1l.7-1M520.6 813.1l-3.7 3.3m.4-1.1l-.4 1.1l1.2-.2M520.6 807.4l-1.6 4.6m-.2-1.2l.2 1.2l.9-.8M520.6 801.7l-2.5 3.5m.1-1.2l-.1 1.2l1.1-.5M520.6 796l-3.3 3.5m.3-1.2l-.3 1.2l1.2-.3M520.6 790.3l-.7 4.6m-.5-1.1l.5 1.1l.8-.9M520.6 784.6l-.2 4.8m-.6-1.1l.6 1.1l.7-1M520.6 778.9l.2 5.2m-.7-1l.7 1l.6-1.1M520.6 773.2l-.3-4.1m.7 1l-.7-1l-.5 1.1M520.6 767.5l-.8 4.6m-.4-1.1l.4 1.1l.8-.9M520.6 761.8l-4.4 4.8m.2-1.2l-.2 1.2l1.2-.3M520.6 756.1l-2.2 1.6m.3-.7l-.3 .7l.8-.1M520.6 750.4l0 .3M520.6 744.7l-.1 .3M520.6 739l0 .3M520.6 733.3l-.3 .2M520.6 727.6l-.2 .3M520.6 721.9l-1.1 2.2m0-.7l0 .7l.6-.4M520.6 716.2l-3.3 3.1m.3-1.2l-.3 1.2l1.2-.3M520.6 710.5l-.1 7.6m-.6-1l.6 1l.6-1M520.6 704.8l-4.7 2.7m.6-1.1l-.6 1.1l1.2 0M520.6 699.1l-2.6 4.2m0-1.2l0 1.2l1.1-.6M520.6 693.4l-2.9 3.8m.1-1.2l-.1 1.2l1.1-.4M520.6 687.7l-2.9 4.6m0-1.2l0 1.2l1.1-.5M520.6 682l-.5 3.9m-.5-1.1l.5 1.1l.7-.9M520.6 676.3l-.6 6.9m-.5-1.1l.5 1.1l.7-1M520.6 670.6l6.2 1.9m-1.2 .3l1.2-.3l-.8-.9M520.6 664.9l-3.9 4.3m.2-1.2l-.2 1.2l1.2-.3M520.6 659.2l-.3 5m-.6-1.1l.6 1.1l.7-1M520.6 653.5l-3.4 4.2m.2-1.2l-.2 1.2l1.1-.4M520.6 647.8l-5.2 1.9m.8-.9l-.8 .9l1.2 .2M527.8 830.2l-3.4 4.1m.2-1.2l-.2 1.2l1.1-.4M527.8 824.5l.2 4.6m-.7-1l.7 1l.6-1.1M527.8 818.8l-2.8 4m.1-1.2l-.1 1.2l1.1-.5M527.8 813.1l-8.8 2.4m.8-.9l-.8 .9l1.2 .3M527.8 807.4l-2 5.9m-.3-1.2l.3 1.2l.9-.8M527.8 801.7l-1.9 4.3m-.2-1.2l.2 1.2l1-.7M527.8 796l-4.7 2.6m.6-1l-.6 1l1.2 .1M527.8 790.3l-5.2 2.7m.6-1l-.6 1l1.2 .1M527.8 784.6l-5.4 1.6m.8-.9l-.8 .9l1.2 .3M527.8 778.9l-2.9 4.7m0-1.2l0 1.2l1.1-.6M527.8 773.2l-5.3 1.9m.8-.9l-.8 .9l1.2 .2M527.8 767.5l.1 4.8m-.6-1l.6 1l.6-1M527.8 761.8l-3.4 3.9m.2-1.2l-.2 1.2l1.1-.4M527.8 756.1l-.2 .3M527.8 750.4l-.3 .2M527.8 744.7l-.2 .3M527.8 739l-.3 .2M527.8 733.3l0 .3M527.8 721.9l-1.7 1.8m.2-.7l-.2 .7l.7-.2M527.8 716.2l-2.2 4.5m-.1-1.2l.1 1.2l1-.7M527.8 710.5l-3 3.8m.1-1.2l-.1 1.2l1.1-.4M527.8 704.8l.4 4.2m-.7-1l.7 1l.5-1.1M527.8 699.1l.1 4.5m-.7-1l.7 1l.6-1M527.8 693.4l-2.3 4.7m-.1-1.2l.1 1.2l1-.6M527.8 687.7l-3.8 3.9m.3-1.2l-.3 1.2l1.2-.3M527.8 682l-3.4 3.5m.3-1.2l-.3 1.2l1.2-.3M527.8 676.3l-5.9 .8m.9-.8l-.9 .8l1.1 .5M527.8 670.6l-4.7 1.9m.7-1l-.7 1l1.2 .2M527.8 664.9l-3.3 3.1m.3-1.2l-.3 1.2l1.2-.2M527.8 659.2l-.1 4.4m-.6-1l.6 1l.6-1M527.8 653.5l-6 1.8m.8-.9l-.8 .9l1.2 .3M527.8 647.8l-.2 4.4m-.6-1.1l.6 1.1l.7-1M535 830.2l-4.8 3.2m.5-1.1l-.5 1.1l1.2 0M535 824.5l1 4.9m-.8-.9l.8 .9l.4-1.1M535 818.8l-4.8-3.3m1.2 .1l-1.2-.1l.5 1.1M535 813.1l-3.8 3.9m.3-1.2l-.3 1.2l1.2-.3M535 807.4l-6.8 3.9m.6-1l-.6 1l1.2 0M535 801.7l-4.6 2.1m.7-1l-.7 1l1.2 .1M535 796l-1.8 4.2m-.2-1.2l.2 1.2l1-.7M535 790.3l-3.2 3.1m.3-1.2l-.3 1.2l1.2-.3M535 784.6l-4.8 6.8m.1-1.2l-.1 1.2l1.1-.5M535 778.9l-1.9 3.8m-.1-1.2l.1 1.2l1-.6M535 773.2l-4.2 2.8m.5-1.1l-.5 1.1l1.2-.1M535 767.5l-6.6 0m1-.6l-1 .6l1 .6M535 761.8l-2.5 .1m.6-.4l-.6 .4l.7 .4M535 756.1l-.1 .3M535 750.4l-.3 .2M535 744.7l0-.3M535 739l0 .3M535 716.2l.3 4.1m-.7-1l.7 1l.5-1.1M535 710.5l-3.2 4.5m.1-1.2l-.1 1.2l1.1-.5M535 704.8l-3.4 4.4m.1-1.2l-.1 1.2l1.1-.4M535 699.1l-4.9 1.1m.9-.8l-.9 .8l1.1 .4M535 693.4l-4.5 2.9m.5-1.1l-.5 1.1l1.2 0M535 687.7l-5.1 .4m1-.7l-1 .7l1.1 .5M535 682l-3.1 3.7m.2-1.2l-.2 1.2l1.1-.4M535 676.3l-4.1 3m.5-1.1l-.5 1.1l1.2-.1M535 670.6l4.3-3.5m-.4 1.1l.4-1.1l-1.2 .2M535 664.9l.6 6.4m-.7-1l.7 1l.5-1.1M535 659.2l5.7 .8m-1.1 .5l1.1-.5l-.9-.8M535 653.5l-.6 4.5m-.5-1.1l.5 1.1l.8-.9M535 647.8l-3.4 3.6m.2-1.2l-.2 1.2l1.2-.3M542.3 830.2l-3.6 3.5m.3-1.2l-.3 1.2l1.2-.3M542.3 824.5l-.4 4.4m-.5-1.1l.5 1.1l.7-1M542.3 818.8l-2.8 4.6m0-1.2l0 1.2l1.1-.6M542.3 813.1l-.2 4.4m-.6-1.1l.6 1.1l.7-1M542.3 807.4l1 5m-.8-.9l.8 .9l.4-1.1M542.3 801.7l-5.3 .5m1-.7l-1 .7l1.1 .5M542.3 796l-4.2 3.4m.4-1.1l-.4 1.1l1.2-.2M542.3 790.3l-4.3 3.5m.4-1.1l-.4 1.1l1.2-.2M542.3 784.6l-2.6 3.4m.1-1.2l-.1 1.2l1.1-.4M542.3 778.9l2.3-3.8m0 1.2l0-1.2l-1.1 .5M542.3 773.2l-4.3 3.6m.4-1.1l-.4 1.1l1.2-.2M542.3 767.5l-3.9 3.5m.4-1.1l-.4 1.1l1.2-.2M542.3 761.8l-2.1 1.4m.3-.7l-.3 .7l.8 0M542.3 756.1l-.3 .2M542.3 750.4l0 .3M542.3 744.7l0 .3M542.3 716.2l-4.7 2.5m.6-1l-.6 1l1.2 .1M542.3 710.5l-4.9 1.3m.8-.9l-.8 .9l1.2 .3M542.3 704.8l-1.8 4.6m-.2-1.2l.2 1.2l.9-.7M542.3 699.1l-5.2 3.2m.6-1.1l-.6 1.1l1.2 0M542.3 693.4l-2.7 3.8m.1-1.2l-.1 1.2l1.1-.5M542.3 687.7l-1.1 4.8m-.4-1.1l.4 1.1l.8-.9M542.3 682l.1 4.3m-.6-1l.6 1l.6-1M542.3 676.3l-3.9 4.3m.2-1.2l-.2 1.2l1.1-.3M542.3 670.6l-.5 5.1m-.5-1.1l.5 1.1l.7-1M542.3 664.9l-2.5 4.6m-.1-1.2l.1 1.2l1-.6M542.3 659.2l5.9 .4m-1.1 .6l1.1-.6l-1-.7M542.3 653.5l-.7 7.8m-.5-1.1l.5 1.1l.7-1M542.3 647.8l-1.9 4.3m-.1-1.2l.1 1.2l1-.7M549.5 830.2l-7.1 5.3m.5-1.1l-.5 1.1l1.2-.1M549.5 824.5l-4.2 4m.3-1.2l-.3 1.2l1.2-.3M549.5 818.8l-3.9 3.1m.4-1.1l-.4 1.1l1.2-.2M549.5 813.1l.9 5m-.8-.9l.8 .9l.4-1.1M549.5 807.4l-5.2 .9m.9-.8l-.9 .8l1.1 .4M549.5 801.7l-1.6 4.7m-.3-1.2l.3 1.2l.9-.8M549.5 796l-1.2 4.5m-.3-1.2l.3 1.2l.9-.8M549.5 790.3l-4.6 3.6m.4-1.1l-.4 1.1l1.2-.2M549.5 784.6l-4.7 2.3m.6-1l-.6 1l1.2 .1M549.5 778.9l-3.5 2.9m.4-1.1l-.4 1.1l1.2-.2M549.5 773.2l-6.6 .2m1-.7l-1 .7l1 .6M549.5 767.5l-3.4 4.3m.1-1.2l-.1 1.2l1.1-.4M549.5 761.8l-5.6 .7m.9-.7l-.9 .7l1.1 .5M549.5 756.1l-.4 2.5m-.3-.7l.3 .7l.5-.6M549.5 750.4l-.3 .2M549.5 721.9l-1.4 1.7m.1-.6l-.1 .6l.6-.2M549.5 716.2l-4.5-2.2m1.2-.1l-1.2 .1l.7 1M549.5 710.5l-3.7 4.3m.2-1.2l-.2 1.2l1.1-.4M549.5 704.8l2.7-3.5m-.1 1.2l.1-1.2l-1.1 .4M549.5 699.1l-2.2 4.8m-.1-1.2l.1 1.2l1-.7M549.5 693.4l-3.5 3.5m.3-1.2l-.3 1.2l1.2-.3M549.5 687.7l-2 4.2m-.1-1.2l.1 1.2l1-.7M549.5 682l-2 3.8m-.1-1.2l.1 1.2l1-.6M549.5 676.3l-2.8 4.7m0-1.2l0 1.2l1.1-.6M549.5 670.6l-2.7 3.9m.1-1.2l-.1 1.2l1.1-.5M549.5 664.9l-2.6 3.5m.1-1.2l-.1 1.2l1.1-.5M549.5 659.2l-3 4m.1-1.2l-.1 1.2l1.1-.4M549.5 653.5l-4.2 3.8m.3-1.1l-.3 1.1l1.2-.2M549.5 647.8l-2.5 3.8m0-1.2l0 1.2l1.1-.5M556.7 830.2l-2.2 4.8m-.1-1.2l.1 1.2l1-.7M556.7 824.5l-3.1 4.1m.1-1.2l-.1 1.2l1.1-.4M556.7 818.8l-.6 4.5m-.5-1.1l.5 1.1l.7-.9M556.7 813.1l-5.8 1.9m.8-.9l-.8 .9l1.2 .3M556.7 807.4l-4 3.7m.3-1.2l-.3 1.2l1.2-.3M556.7 801.7l-.6 4.6m-.5-1.1l.5 1.1l.8-.9M556.7 796l-5.5 .5m1-.7l-1 .7l1.1 .5M556.7 790.3l-3.6 3.9m.3-1.2l-.3 1.2l1.2-.3M556.7 784.6l-4.6 3.5m.4-1.1l-.4 1.1l1.2-.1M556.7 778.9l-5.2 3m.6-1.1l-.6 1.1l1.2 0M556.7 773.2l-.6 4.4m-.5-1.1l.5 1.1l.7-.9M556.7 767.5l-3.1-4.1m1.1 .4l-1.1-.4l.1 1.2M556.7 761.8l-4.6-2.7m1.2 0l-1.2 0l.6 1.1M556.7 756.1l-1.4 4.1m-.3-1.2l.3 1.2l.9-.8M556.7 750.4l-2.8 .3m.7-.5l-.7 .5l.8 .4M556.7 727.6l-.6 2.1m-.2-.6l.2 .6l.5-.5M556.7 721.9l-2.2 4.7m-.1-1.2l.1 1.2l1-.7M556.7 716.2l-2.3 4m0-1.2l0 1.2l1-.6M556.7 710.5l-6.5 5.6m.4-1.1l-.4 1.1l1.2-.2M556.7 704.8l-6-.4m1.1-.6l-1.1 .6l1 .7M556.7 699.1l-5.1 3.1m.6-1.1l-.6 1.1l1.2 0M556.7 693.4l4.5 5.3m-1.1-.4l1.1 .4l-.2-1.2M556.7 687.7l-1 5.1m-.4-1.1l.4 1.1l.8-.9M556.7 682l-8.7-.6m1.1-.6l-1.1 .6l1 .7M556.7 676.3l-5 2.1m.7-1l-.7 1l1.2 .2M556.7 670.6l4.3 2.8m-1.2 0l1.2 0l-.5-1.1M556.7 664.9l-.7 4.4m-.5-1.1l.5 1.1l.8-.9M556.7 659.2l-5.3 1.8m.8-.9l-.8 .9l1.2 .3M556.7 653.5l-.3 4.9m-.6-1.1l.6 1.1l.7-1M556.7 647.8l-4 3.6m.4-1.1l-.4 1.1l1.2-.2M563.9 830.2l-4.7 3.3m.5-1.1l-.5 1.1l1.2-.1M563.9 824.5l0 5.2m-.6-1l.6 1l.6-1M563.9 818.8l-6.2 .4m1-.7l-1 .7l1.1 .6M563.9 813.1l-4.8 1.7m.8-.9l-.8 .9l1.2 .2M563.9 807.4l-1.3 4.1m-.3-1.2l.3 1.2l.9-.8M563.9 801.7l-5.6 2.1m.7-.9l-.7 .9l1.2 .2M563.9 796l3.7 2.9m-1.2-.1l1.2 .1l-.4-1.1M563.9 790.3l-2.8 3.4m.2-1.2l-.2 1.2l1.1-.4M563.9 784.6l-2.7 3.7m.1-1.2l-.1 1.2l1.1-.5M563.9 778.9l-3.7 5.4m.1-1.2l-.1 1.2l1.1-.5M563.9 773.2l-3.5 2.9m.4-1.1l-.4 1.1l1.2-.2M563.9 767.5l.2 4.9m-.7-1l.7 1l.6-1.1M563.9 761.8l.6 4.3m-.8-.9l.8 .9l.5-1.1M563.9 756.1l-5.5 2.8m.6-1l-.6 1l1.2 .1M563.9 750.4l-3 3.2m.3-1.2l-.3 1.2l1.2-.3M563.9 744.7l-1.7 2.2m.1-.8l-.1 .8l.8-.3M563.9 739l-2.3 1.8m.3-.8l-.3 .8l.9-.1M563.9 733.3l-2.3 4.2m-.1-1.2l.1 1.2l1-.6M563.9 727.6l-6.6-.5m1.1-.5l-1.1 .5l1 .7M563.9 721.9l.1 5.2m-.6-1l.6 1l.6-1M563.9 716.2l-3.8 3.1m.4-1.1l-.4 1.1l1.2-.2M563.9 710.5l-.5 4.6m-.5-1.1l.5 1.1l.7-.9M563.9 704.8l-.3 4.8m-.6-1.1l.6 1.1l.7-1M563.9 699.1l-5.6 2.3m.7-1l-.7 1l1.2 .2M563.9 693.4l-1.4 4.3m-.3-1.2l.3 1.2l.9-.8M563.9 687.7l-4.3 3.6m.4-1.1l-.4 1.1l1.2-.2M563.9 682l-6.3 .6m1-.7l-1 .7l1.1 .5M563.9 676.3l-4.6 3.4m.5-1.1l-.5 1.1l1.2-.1M563.9 670.6l-5.4 .3m1-.7l-1 .7l1.1 .6M563.9 664.9l-1.6-3.9m1 .7l-1-.7l-.2 1.2M563.9 659.2l-2.9 3.3m.2-1.2l-.2 1.2l1.1-.4M563.9 653.5l-1.9 4m-.1-1.2l.1 1.2l1-.7M563.9 647.8l-3.6 3.6m.3-1.2l-.3 1.2l1.2-.3M571.2 830.2l-3.1 4.2m.1-1.2l-.1 1.2l1.1-.5M571.2 824.5l-3.9 3.9m.3-1.2l-.3 1.2l1.2-.3M571.2 818.8l-1.6 4.8m-.3-1.2l.3 1.2l.9-.8M571.2 813.1l-6.5 1m.9-.8l-.9 .8l1.1 .5M571.2 807.4l-4.7 2.4m.6-1l-.6 1l1.2 .1M571.2 801.7l-3 3.4m.2-1.2l-.2 1.2l1.1-.4M571.2 796l-8.2 .2m1-.6l-1 .6l1 .6M571.2 790.3l-4.6 3.7m.4-1.1l-.4 1.1l1.2-.2M571.2 784.6l-4.4 1.8m.7-1l-.7 1l1.2 .2M571.2 778.9l-6.5 .6m1-.7l-1 .7l1.1 .5M571.2 773.2l-3.8 2.7m.5-1.1l-.5 1.1l1.2-.1M571.2 767.5l-3.1 4.5m.1-1.2l-.1 1.2l1.1-.5M571.2 761.8l-3.9 4.1m.3-1.2l-.3 1.2l1.2-.3M571.2 756.1l-1.1 7.6m-.5-1.1l.5 1.1l.8-.9M571.2 750.4l1.1 4.3m-.8-.8l.8 .8l.4-1.1M571.2 744.7l-.2 4.3m-.6-1.1l.6 1.1l.7-1M571.2 739l-.1 4.7m-.6-1l.6 1l.6-1M571.2 733.3l-2.3 4m0-1.2l0 1.2l1.1-.6M571.2 727.6l5.8-1.5m-.8 .9l.8-.9l-1.1-.3M571.2 721.9l5.8 1.4m-1.1 .4l1.1-.4l-.9-.8M571.2 716.2l-3.9 2.8m.5-1.1l-.5 1.1l1.2-.1M571.2 710.5l.2 4.2m-.7-1l.7 1l.6-1.1M571.2 704.8l-3.4 4.2m.2-1.2l-.2 1.2l1.1-.4M571.2 699.1l-.2 4.8m-.6-1.1l.6 1.1l.7-1M571.2 693.4l-3.7 4.2m.2-1.2l-.2 1.2l1.1-.4M571.2 687.7l-2.3 3.6m0-1.2l0 1.2l1.1-.5M571.2 682l-4.2 3.7m.4-1.1l-.4 1.1l1.2-.2M571.2 676.3l-3.8 3.5m.3-1.2l-.3 1.2l1.2-.3M571.2 670.6l-.3 4.6m-.5-1.1l.5 1.1l.7-1M571.2 664.9l-2.3 3.8m0-1.2l0 1.2l1.1-.6M571.2 659.2l-5.6 5.1m.3-1.2l-.3 1.2l1.2-.2M571.2 653.5l-1.1 4.1m-.3-1.2l.3 1.2l.9-.8M571.2 647.8l-2.9 3.9m.1-1.2l-.1 1.2l1.1-.5M578.4 830.2l-2.9 3.7m.2-1.2l-.2 1.2l1.1-.4M578.4 824.5l-.8 4.6m-.4-1.1l.4 1.1l.8-.9M578.4 818.8l-3.8 3.8m.3-1.2l-.3 1.2l1.2-.3M578.4 813.1l-4.4 3.8m.4-1.1l-.4 1.1l1.2-.2M578.4 807.4l-2.6 3.4m.1-1.2l-.1 1.2l1.1-.4M578.4 801.7l-3.1 3.5m.2-1.2l-.2 1.2l1.1-.4M578.4 796l-2.8 4m.1-1.2l-.1 1.2l1.1-.5M578.4 790.3l-2.7 4.5m0-1.2l0 1.2l1.1-.6M578.4 784.6l-2.1 6.6m-.3-1.2l.3 1.2l.9-.8M578.4 778.9l-2.3 4.3m-.1-1.2l.1 1.2l1-.6M578.4 773.2l4 2.4m-1.2 0l1.2 0l-.6-1.1M578.4 767.5l-2.7-4.7m1.1 .6l-1.1-.6l0 1.2M578.4 761.8l0 4.4m-.6-1l.6 1l.6-1M578.4 756.1l-3.8 2.6m.5-1.1l-.5 1.1l1.2-.1M578.4 750.4l-6.2-.4m1.1-.5l-1.1 .5l1 .7M578.4 744.7l-.1 4.8m-.6-1l.6 1l.6-1M578.4 739l-3.2 4.4m.1-1.2l-.1 1.2l1.1-.5M578.4 733.3l-3.8 2.7m.5-1.1l-.5 1.1l1.2-.1M578.4 727.6l-.8 4.7m-.4-1.1l.4 1.1l.8-.9M578.4 721.9l-4.1 3.9m.3-1.2l-.3 1.2l1.2-.3M578.4 716.2l-4.2 3.5m.4-1.1l-.4 1.1l1.2-.2M578.4 710.5l-3.5 3.9m.2-1.2l-.2 1.2l1.1-.3M578.4 704.8l-2.1 4.8m-.2-1.2l.2 1.2l1-.7M578.4 699.1l-1.7 4m-.2-1.2l.2 1.2l1-.7M578.4 693.4l-5.2-.8m1.1-.5l-1.1 .5l.9 .8M578.4 687.7l-2.6 4.5m0-1.2l0 1.2l1-.6M578.4 682l-2.3 3.8m0-1.2l0 1.2l1.1-.6M578.4 676.3l-1 4.8m-.4-1.1l.4 1.1l.8-.9M578.4 670.6l-4.5 2.2m.6-1l-.6 1l1.2 .1M578.4 664.9l-2.2 4m0-1.2l0 1.2l1-.6M578.4 659.2l-1.4 3.8m-.2-1.2l.2 1.2l.9-.7M578.4 653.5l-2.6 4.7m0-1.2l0 1.2l1-.6M578.4 647.8l-2.5 4m0-1.2l0 1.2l1.1-.5M585.6 830.2l-2.8 4.6m0-1.2l0 1.2l1.1-.6M585.6 824.5l-1.3 4.9m-.3-1.2l.3 1.2l.9-.8M585.6 818.8l-3 3.3m.2-1.2l-.2 1.2l1.1-.3M585.6 813.1l-2.5 4.8m-.1-1.2l.1 1.2l1-.6M585.6 807.4l-5.3 6.1m.2-1.2l-.2 1.2l1.1-.4M585.6 801.7l-5.6 1.2m.9-.8l-.9 .8l1.1 .4M585.6 796l-3.3 3m.4-1.1l-.4 1.1l1.2-.2M585.6 790.3l-.2-5.1m.7 1l-.7-1l-.6 1.1M585.6 784.6l-4.1 5.1m.2-1.2l-.2 1.2l1.1-.4M585.6 778.9l-1.5 3.9m-.2-1.2l.2 1.2l.9-.7M585.6 773.2l-2.1 4.5m-.1-1.2l.1 1.2l1-.7M585.6 767.5l-3.3 3.4m.3-1.2l-.3 1.2l1.2-.3M585.6 761.8l-3.7 2.7m.5-1.1l-.5 1.1l1.2-.1M585.6 756.1l.2 4.8m-.7-1l.7 1l.6-1.1M585.6 750.4l-3 3.2m.2-1.2l-.2 1.2l1.2-.3M585.6 744.7l-1.9 4.5m-.2-1.2l.2 1.2l1-.7M585.6 739l-.5 4.5m-.5-1.1l.5 1.1l.7-.9M585.6 733.3l-.3 4.1m-.5-1.1l.5 1.1l.7-1M585.6 727.6l.4 4.6m-.7-1l.7 1l.5-1.1M585.6 721.9l.1 4.2m-.6-1l.6 1l.6-1M585.6 716.2l-4 2.8m.5-1.1l-.5 1.1l1.2-.1M585.6 710.5l-3.8 2.9m.4-1.1l-.4 1.1l1.2-.1M585.6 704.8l-3.8 3m.4-1.1l-.4 1.1l1.2-.1M585.6 699.1l-.6 4.3m-.5-1.1l.5 1.1l.8-.9M585.6 693.4l-2.3 3.8m0-1.2l0 1.2l1.1-.6M585.6 687.7l-5.3 3.1m.6-1l-.6 1l1.2 0M585.6 682l-1.7 3.8m-.2-1.2l.2 1.2l1-.7M585.6 676.3l-5.8 .7m.9-.7l-.9 .7l1.1 .5M585.6 670.6l-3.5 4m.2-1.2l-.2 1.2l1.1-.4M585.6 664.9l-4.2 2.5m.6-1.1l-.6 1.1l1.2 0M585.6 659.2l7.1 4.2m-1.2 0l1.2 0l-.6-1.1M585.6 653.5l-5-.2m1-.6l-1 .6l1 .7M585.6 647.8l-4 2.9m.5-1.1l-.5 1.1l1.2-.1M592.8 830.2l-2 3.8m-.1-1.2l.1 1.2l1-.6M592.8 824.5l-5.7-.6m1.1-.5l-1.1 .5l1 .7M592.8 818.8l-4.6 3.3m.5-1.1l-.5 1.1l1.2-.1M592.8 813.1l-4.9 2.5m.6-1l-.6 1l1.2 .1M592.8 807.4l-3.7-4.2m1.1 .4l-1.1-.4l.2 1.2M592.8 801.7l-3 4.3m.1-1.2l-.1 1.2l1.1-.5M592.8 796l-1.8 3.8m-.1-1.2l.1 1.2l1-.7M592.8 790.3l-3.7 3m.4-1.1l-.4 1.1l1.2-.2M592.8 784.6l-3.9 3.7m.3-1.2l-.3 1.2l1.2-.2M592.8 778.9l-4.8 1.8m.7-.9l-.7 .9l1.2 .2M592.8 773.2l.7 4.6m-.8-.9l.8 .9l.4-1.1M592.8 767.5l0 5.1m-.6-1l.6 1l.6-1M592.8 761.8l-3.9 2.6m.5-1.1l-.5 1.1l1.2 0M592.8 756.1l4.5-2.6m-.6 1.1l.6-1.1l-1.2 0M592.8 750.4l.5 4.3m-.7-.9l.7 .9l.5-1.1M592.8 744.7l-2.1 4.2m-.1-1.2l.1 1.2l1-.6M592.8 739l-4.6 3.6m.4-1.1l-.4 1.1l1.2-.1M592.8 733.3l-2.5 3.4m.1-1.2l-.1 1.2l1.1-.5M592.8 727.6l-3.9 4.2m.2-1.2l-.2 1.2l1.2-.3M592.8 721.9l-5 3.2m.5-1.1l-.5 1.1l1.2 0M592.8 716.2l-3.2 4.5m.1-1.2l-.1 1.2l1.1-.5M592.8 710.5l-4.9 2.9m.6-1.1l-.6 1.1l1.2 0M592.8 704.8l-5.7 .8m.9-.8l-.9 .8l1.1 .5M592.8 699.1l-2.8 4.5m0-1.2l0 1.2l1.1-.5M592.8 693.4l-6.2 .7m1-.7l-1 .7l1.1 .5M592.8 687.7l-4.7 2.4m.6-1l-.6 1l1.2 .1M592.8 682l-.5 4m-.5-1.1l.5 1.1l.7-.9M592.8 676.3l1.1 4.7m-.8-.9l.8 .9l.4-1.1M592.8 670.6l-3.9 3.7m.3-1.2l-.3 1.2l1.2-.3M592.8 664.9l-2.5 3.9m0-1.2l0 1.2l1.1-.5M592.8 659.2l-3.9 3.5m.3-1.1l-.3 1.1l1.2-.2M592.8 653.5l1.2 7.4m-.8-.9l.8 .9l.5-1.1M592.8 647.8l-1.7 3.9m-.2-1.2l.2 1.2l1-.7M600.1 830.2l.3 4.8m-.7-1l.7 1l.5-1.1M600.1 824.5l-3.1 3.7m.2-1.2l-.2 1.2l1.1-.4M600.1 818.8l.7 4.5m-.8-.9l.8 .9l.5-1.1M600.1 813.1l-2.4 4.7m-.1-1.2l.1 1.2l1-.6M600.1 807.4l-8.1-3.9m1.2-.1l-1.2 .1l.7 1M600.1 801.7l-5.4-2.3m1.2-.2l-1.2 .2l.7 1M600.1 796l-1.9 3.8m-.1-1.2l.1 1.2l1-.7M600.1 790.3l-2.3 4.5m-.1-1.2l.1 1.2l1-.6M600.1 784.6l-.3 5m-.6-1.1l.6 1.1l.7-1M600.1 778.9l-1.1 5m-.4-1.1l.4 1.1l.8-.9M600.1 773.2l-3.2 4.2m.1-1.2l-.1 1.2l1.1-.4M600.1 767.5l-.1 4.8m-.6-1l.6 1l.6-1M600.1 761.8l1.2-4.9m.4 1.1l-.4-1.1l-.8 .9M600.1 756.1l-1.1 5.2m-.4-1.1l.4 1.1l.8-.9M600.1 750.4l-1.4 5.1m-.3-1.2l.3 1.2l.9-.8M600.1 744.7l-3.2 4.1m.1-1.2l-.1 1.2l1.1-.4M600.1 739l-4.4 2.4m.6-1l-.6 1l1.2 .1M600.1 733.3l3.6 3.6m-1.2-.3l1.2 .3l-.3-1.2M600.1 727.6l-2.5 3.8m.1-1.2l-.1 1.2l1.1-.5M600.1 721.9l2 5m-1-.7l1 .7l.2-1.2M600.1 716.2l-3 3.7m.2-1.2l-.2 1.2l1.1-.4M600.1 710.5l-4.7 3.3m.5-1.1l-.5 1.1l1.2-.1M600.1 704.8l-3.7 3.9m.3-1.2l-.3 1.2l1.2-.3M600.1 699.1l-2.5 4.8m-.1-1.2l.1 1.2l1-.6M600.1 693.4l-.9 4.2m-.4-1.1l.4 1.1l.8-.9M600.1 687.7l-4.8 3.5m.5-1.1l-.5 1.1l1.2-.1M600.1 682l-.8 4.9m-.4-1.1l.4 1.1l.8-.9M600.1 676.3l-2.5 3.4m.1-1.2l-.1 1.2l1.1-.5M600.1 670.6l-1.1 4.2m-.3-1.2l.3 1.2l.9-.8M600.1 664.9l-2.3 4.1m0-1.2l0 1.2l1-.6M600.1 659.2l-5 5.2m.3-1.2l-.3 1.2l1.2-.3M600.1 653.5l-6.3 1.6m.8-.9l-.8 .9l1.1 .3M600.1 647.8l-5 3.2m.5-1.1l-.5 1.1l1.2 0M607.3 830.2l-5.5 1.6m.8-.9l-.8 .9l1.2 .3M607.3 824.5l-3.3 3.9m.2-1.2l-.2 1.2l1.1-.4M607.3 818.8l.1 4.4m-.6-1l.6 1l.6-1M607.3 813.1l-.5 5.1m-.5-1.1l.5 1.1l.7-1M607.3 807.4l-3.9 4m.3-1.2l-.3 1.2l1.2-.3M607.3 801.7l-3 3.4m.2-1.2l-.2 1.2l1.1-.4M607.3 796l-2 3.9m-.1-1.2l.1 1.2l1-.6M607.3 790.3l-3 3.6m.2-1.2l-.2 1.2l1.1-.4M607.3 784.6l-.6 4.8m-.5-1.1l.5 1.1l.7-.9M607.3 778.9l-4.7 2.2m.7-1l-.7 1l1.2 .1M607.3 773.2l-4 3.5m.4-1.1l-.4 1.1l1.2-.2M607.3 767.5l-1.7 3.9m-.2-1.2l.2 1.2l1-.7M607.3 761.8l-7.2 5.2m.5-1.1l-.5 1.1l1.2-.1M607.3 756.1l-1.1 3.9m-.3-1.2l.3 1.2l.9-.8M607.3 750.4l-1.4 4.1m-.3-1.2l.3 1.2l.9-.8M607.3 744.7l-.1 4m-.6-1l.6 1l.6-1M607.3 739l-3 3.3m.2-1.2l-.2 1.2l1.2-.3M607.3 733.3l-4.7 6.4m.1-1.2l-.1 1.2l1.1-.5M607.3 727.6l-3.6 2.9m.4-1.1l-.4 1.1l1.2-.2M607.3 721.9l-3.5 3.9m.2-1.2l-.2 1.2l1.1-.4M607.3 716.2l-4 2.8m.5-1.1l-.5 1.1l1.2-.1M607.3 710.5l6.3-.4m-1 .7l1-.7l-1.1-.6M607.3 704.8l-2.8 3.8m.1-1.2l-.1 1.2l1.1-.5M607.3 699.1l-4.7 2.5m.6-1l-.6 1l1.2 .1M607.3 693.4l.2 4.1m-.7-1l.7 1l.6-1.1M607.3 687.7l-6.2 1.7m.8-.9l-.8 .9l1.2 .3M607.3 682l-.6 4.8m-.5-1.1l.5 1.1l.7-.9M607.3 676.3l-3.2 3.4m.3-1.2l-.3 1.2l1.2-.3M607.3 670.6l-2.3 3.8m0-1.2l0 1.2l1.1-.5M607.3 664.9l-5.9 .4m1-.7l-1 .7l1.1 .5M607.3 659.2l-.4 4.9m-.5-1.1l.5 1.1l.7-1M607.3 653.5l-1.4 4.5m-.3-1.2l.3 1.2l.9-.8M607.3 647.8l.4 4.6m-.7-1l.7 1l.5-1.1M614.5 830.2l-4.2 3.3m.4-1.1l-.4 1.1l1.2-.2M614.5 824.5l-2.2 4.8m-.1-1.2l.1 1.2l1-.7M614.5 818.8l-3.5 3.8m.2-1.2l-.2 1.2l1.1-.3M614.5 813.1l-.9 4.4m-.4-1.1l.4 1.1l.8-.9M614.5 807.4l-2.7 3.5m.1-1.2l-.1 1.2l1.1-.4M614.5 801.7l-4.1 2.5m.5-1.1l-.5 1.1l1.2 0M614.5 796l-2.8 4.2m.1-1.2l-.1 1.2l1.1-.5M614.5 790.3l-.9 4.5m-.4-1.1l.4 1.1l.8-.9M614.5 784.6l-4.6 3.7m.4-1.1l-.4 1.1l1.2-.2M614.5 778.9l-1.5 4.8m-.3-1.2l.3 1.2l.9-.8M614.5 773.2l-6.3 1.1m.9-.8l-.9 .8l1.1 .4M614.5 767.5l-3.5 3.7m.3-1.2l-.3 1.2l1.2-.3M614.5 761.8l-.4 6m-.5-1.1l.5 1.1l.7-1M614.5 756.1l-4.5 2.3m.6-1l-.6 1l1.2 .1M614.5 750.4l-.4 4.4m-.5-1.1l.5 1.1l.7-1M614.5 744.7l-2.8 3.9m.1-1.2l-.1 1.2l1.1-.5M614.5 739l-3.5 3.7m.3-1.2l-.3 1.2l1.2-.3M614.5 733.3l.7 5.2m-.8-.9l.8 .9l.5-1.1M614.5 727.6l-1 4.6m-.4-1.1l.4 1.1l.8-.9M614.5 721.9l-5.9 .6m1-.7l-1 .7l1.1 .5M614.5 716.2l4.9-3.1m-.5 1.1l.5-1.1l-1.2 0M614.5 710.5l-5.3 2.9m.6-1l-.6 1l1.2 0M614.5 704.8l-2.9 3.4m.2-1.2l-.2 1.2l1.1-.4M614.5 699.1l-1.6 4.5m-.2-1.2l.2 1.2l.9-.8M614.5 693.4l-.9 5.2m-.4-1.1l.4 1.1l.8-.9M614.5 687.7l-4.1 3.8m.3-1.2l-.3 1.2l1.2-.3M614.5 682l.3 5m-.7-1l.7 1l.6-1.1M614.5 676.3l-1.5 4.3m-.2-1.2l.2 1.2l.9-.8M614.5 670.6l-3.7 3.8m.3-1.2l-.3 1.2l1.2-.3M614.5 664.9l-2.1 4.6m-.1-1.2l.1 1.2l1-.7M614.5 659.2l-.4 6.8m-.6-1.1l.6 1.1l.7-1M614.5 653.5l-5.4-1.8m1.2-.3l-1.2 .3l.8 .9M614.5 647.8l-3 3.4m.2-1.2l-.2 1.2l1.1-.3M621.7 830.2l-.5 4.4m-.5-1.1l.5 1.1l.7-1M621.7 824.5l-2.6 3.4m.1-1.2l-.1 1.2l1.1-.4M621.7 818.8l-3.9 4.2m.2-1.2l-.2 1.2l1.2-.3M621.7 813.1l-1.4 4m-.2-1.2l.2 1.2l.9-.8M621.7 807.4l-3.4 4.5m.1-1.2l-.1 1.2l1.1-.4M621.7 801.7l-2.7 4.3m0-1.2l0 1.2l1.1-.5M621.7 796l-.2 4.7m-.6-1.1l.6 1.1l.7-1M621.7 790.3l-2.6 4.5m0-1.2l0 1.2l1-.6M621.7 784.6l.5 4.3m-.7-1l.7 1l.5-1.1M621.7 778.9l7.9-2.5m-.8 .9l.8-.9l-1.2-.3M621.7 773.2l-.3 5.2m-.6-1.1l.6 1.1l.7-1M621.7 767.5l-1.1 4.7m-.4-1.1l.4 1.1l.8-.9M621.7 761.8l-3.5 2.9m.4-1.1l-.4 1.1l1.2-.2M621.7 756.1l-4.8 3.3m.5-1.1l-.5 1.1l1.2-.1M621.7 750.4l-2.8 3.3m.2-1.2l-.2 1.2l1.1-.4M621.7 744.7l-5.4 1.7m.8-.9l-.8 .9l1.2 .3M621.7 739l-4.5 3.1m.5-1.1l-.5 1.1l1.2-.1M621.7 733.3l-2.4 3.8m0-1.2l0 1.2l1.1-.5M621.7 727.6l-5.4-.1m1-.6l-1 .6l1 .6M621.7 721.9l.1 4.5m-.7-1l.7 1l.6-1M621.7 716.2l-2.8 4m.1-1.2l-.1 1.2l1.1-.5M621.7 710.5l-2.8 4.2m.1-1.2l-.1 1.2l1.1-.5M621.7 704.8l-.1 4.3m-.6-1l.6 1l.6-1M621.7 699.1l-1.9 7.7m-.4-1.1l.4 1.1l.8-.9M621.7 693.4l-.4 4.8m-.5-1.1l.5 1.1l.7-1M621.7 687.7l-4.1 2.3m.6-1l-.6 1l1.2 0M621.7 682l-5.6 4.9m.4-1.1l-.4 1.1l1.2-.2M621.7 676.3l-4.4 3.7m.4-1.1l-.4 1.1l1.2-.2M621.7 670.6l-.5 4.7m-.5-1.1l.5 1.1l.7-1M621.7 664.9l-.4 6m-.6-1.1l.6 1.1l.7-1M621.7 659.2l-.7 6.2m-.5-1.1l.5 1.1l.7-.9M621.7 653.5l-3.8 2.7m.5-1.1l-.5 1.1l1.2-.1M621.7 647.8l-3.6 3.6m.3-1.2l-.3 1.2l1.2-.3M628.9 830.2l-5.8 2.1m.7-.9l-.7 .9l1.2 .2M628.9 824.5l-2.7 3.5m.1-1.2l-.1 1.2l1.1-.4M628.9 818.8l-.7 4.6m-.5-1.1l.5 1.1l.8-.9M628.9 813.1l3.6 3.3m-1.2-.2l1.2 .2l-.3-1.2M628.9 807.4l-2.5 4.1m0-1.2l0 1.2l1.1-.6M628.9 801.7l-4.3 2.9m.5-1.1l-.5 1.1l1.2-.1M628.9 796l2.5-3.5m-.1 1.2l.1-1.2l-1.1 .5M628.9 790.3l-2.7 4.2m0-1.2l0 1.2l1.1-.5M628.9 784.6l3.4-4.2m-.2 1.2l.2-1.2l-1.1 .4M628.9 778.9l-.3 4.7m-.5-1.1l.5 1.1l.7-1M628.9 773.2l-3.1 3.3m.3-1.2l-.3 1.2l1.2-.3M628.9 767.5l5.5 .3m-1.1 .6l1.1-.6l-1-.7M628.9 761.8l-3.7 4m.2-1.2l-.2 1.2l1.2-.3M628.9 756.1l.7 4.2m-.8-.9l.8 .9l.4-1.1M628.9 750.4l-2 4.5m-.2-1.2l.2 1.2l1-.7M628.9 744.7l-1.1 7.7m-.5-1.1l.5 1.1l.8-.9M628.9 739l-5.6-2.3m1.2-.2l-1.2 .2l.7 1M628.9 733.3l-3.3 3m.3-1.1l-.3 1.1l1.2-.2M628.9 727.6l-1.2 4.1m-.3-1.2l.3 1.2l.9-.8M628.9 721.9l-.3 4.1m-.5-1.1l.5 1.1l.7-1M628.9 716.2l-1.8 5m-.2-1.2l.2 1.2l.9-.8M628.9 710.5l-5.1 .8m.9-.8l-.9 .8l1.1 .4M628.9 704.8l-7.8 2m.8-.9l-.8 .9l1.1 .3M628.9 699.1l-1.1 4.1m-.3-1.2l.3 1.2l.9-.8M628.9 693.4l-2.6 4.1m0-1.2l0 1.2l1.1-.5M628.9 687.7l-3.8 4.1m.3-1.2l-.3 1.2l1.2-.3M628.9 682l-1.5 4.1m-.2-1.2l.2 1.2l.9-.8M628.9 676.3l-.6 5m-.5-1.1l.5 1.1l.7-1M628.9 670.6l-.6 4m-.5-1.1l.5 1.1l.8-.9M628.9 664.9l-3.7 2.8m.5-1.1l-.5 1.1l1.2-.1M628.9 659.2l-3.6 3.3m.3-1.2l-.3 1.2l1.2-.2M628.9 653.5l-3.6 3m.4-1.1l-.4 1.1l1.2-.2M628.9 647.8l-4 2.6m.5-1.1l-.5 1.1l1.2 0M636.2 830.2l-4.3 3.8m.4-1.1l-.4 1.1l1.2-.2M636.2 824.5l-2.3 5.8m-.2-1.2l.2 1.2l1-.7M636.2 818.8l.7 4.8m-.8-.9l.8 .9l.5-1.1M636.2 813.1l-6.1 4.1m.5-1.1l-.5 1.1l1.2-.1M636.2 807.4l.8 4.9m-.8-.9l.8 .9l.5-1.1M636.2 801.7l-4 3m.5-1.1l-.5 1.1l1.2-.1M636.2 796l-1 4.5m-.4-1.1l.4 1.1l.8-.9M636.2 790.3l-4.8 3.3m.5-1.1l-.5 1.1l1.2-.1M636.2 784.6l-.1 4.5m-.6-1l.6 1l.6-1M636.2 778.9l-4.2 3.3m.4-1.1l-.4 1.1l1.2-.2M636.2 773.2l-4.5 3.6m.4-1.1l-.4 1.1l1.2-.2M636.2 767.5l-3.8 5.9m0-1.2l0 1.2l1.1-.5M636.2 761.8l-3.5 4.1m.2-1.2l-.2 1.2l1.1-.4M636.2 756.1l-4.1 2.8m.5-1.1l-.5 1.1l1.2-.1M636.2 750.4l-4.5 3.1m.5-1.1l-.5 1.1l1.2-.1M636.2 744.7l-6 1m.9-.8l-.9 .8l1.1 .4M636.2 739l-.1 4.1m-.6-1l.6 1l.6-1M636.2 733.3l1.3 4.9m-.9-.8l.9 .8l.3-1.2M636.2 727.6l-3.9 4m.3-1.2l-.3 1.2l1.2-.3M636.2 721.9l-3.6 3.1m.4-1.1l-.4 1.1l1.2-.2M636.2 716.2l-2.4 4.7m-.1-1.2l.1 1.2l1-.6M636.2 710.5l-5 3.1m.5-1.1l-.5 1.1l1.2 0M636.2 704.8l-4 3.7m.3-1.2l-.3 1.2l1.2-.2M636.2 699.1l-.5 5.2m-.5-1.1l.5 1.1l.7-1M636.2 693.4l-5.7 6.1m.2-1.2l-.2 1.2l1.2-.3M636.2 687.7l-1.3 3.8m-.2-1.2l.2 1.2l.9-.8M636.2 682l-2.6 4.7m0-1.2l0 1.2l1-.6M636.2 676.3l.3 5.1m-.7-1l.7 1l.6-1.1M636.2 670.6l-1.2 4.7m-.3-1.2l.3 1.2l.9-.8M636.2 664.9l1.7-4.9m.3 1.2l-.3-1.2l-.9 .8M636.2 659.2l3.9 2.8m-1.2-.1l1.2 .1l-.5-1.1M636.2 653.5l-3.8 3.4m.4-1.1l-.4 1.1l1.2-.2M636.2 647.8l-1.8 4.2m-.2-1.2l.2 1.2l1-.7M643.4 830.2l-.5 4.1m-.5-1.1l.5 1.1l.7-.9M643.4 824.5l-2.8 4.2m0-1.2l0 1.2l1.1-.5M643.4 818.8l-.5 4.8m-.5-1.1l.5 1.1l.7-1M643.4 813.1l-5.2 1m.9-.8l-.9 .8l1.1 .4M643.4 807.4l-1.2 5m-.4-1.1l.4 1.1l.8-.9M643.4 801.7l-1.2 5m-.4-1.1l.4 1.1l.8-.9M643.4 796l-2.6 4.4m0-1.2l0 1.2l1.1-.6M643.4 790.3l-.4 4.4m-.5-1.1l.5 1.1l.7-1M643.4 784.6l-3.5 3m.4-1.1l-.4 1.1l1.2-.2M643.4 778.9l-4.9 3.5m.5-1.1l-.5 1.1l1.2-.1M643.4 773.2l-.4 4.7m-.5-1.1l.5 1.1l.7-1M643.4 767.5l-.4 4m-.5-1.1l.5 1.1l.7-1M643.4 761.8l-5.5 2.8m.6-1l-.6 1l1.2 .1M643.4 756.1l.4 4.2m-.7-1l.7 1l.5-1.1M643.4 750.4l-5.1 1.5m.8-.9l-.8 .9l1.2 .3M643.4 744.7l-2.8 4.2m0-1.2l0 1.2l1.1-.5M643.4 739l-2.3 3.8m0-1.2l0 1.2l1.1-.6M643.4 733.3l.4 4.3m-.7-1l.7 1l.5-1.1M643.4 727.6l3 3.8m-1.1-.4l1.1 .4l-.2-1.2M643.4 721.9l-1-7.7m.7 .9l-.7-.9l-.5 1.1M643.4 716.2l-2 3.9m-.1-1.2l.1 1.2l1-.6M643.4 710.5l2.2-3.5m0 1.2l0-1.2l-1.1 .6M643.4 704.8l-1.2 4.2m-.3-1.2l.3 1.2l.9-.8M643.4 699.1l-.1 4.1m-.6-1l.6 1l.6-1M643.4 693.4l-.3 4.2m-.5-1.1l.5 1.1l.7-1M643.4 687.7l-4.7 3.6m.4-1.1l-.4 1.1l1.2-.1M643.4 682l3.8 5.8m-1.1-.5l1.1 .5l0-1.2M643.4 676.3l-4.5 3.7m.4-1.1l-.4 1.1l1.2-.2M643.4 670.6l-2.7 3.5m.1-1.2l-.1 1.2l1.1-.4M643.4 664.9l-2.5 3.5m.1-1.2l-.1 1.2l1.1-.5M643.4 659.2l2 4m-1-.6l1 .6l.1-1.2M643.4 653.5l-.1-4.7m.6 1l-.6-1l-.6 1M643.4 647.8l-.4 5m-.5-1.1l.5 1.1l.7-1M650.6 830.2l.6 4.1m-.8-.9l.8 .9l.5-1.1M650.6 824.5l-2.9 4.2m.1-1.2l-.1 1.2l1.1-.5M650.6 818.8l-4 3.6m.3-1.2l-.3 1.2l1.2-.2M650.6 813.1l-3 4.2m.1-1.2l-.1 1.2l1.1-.5M650.6 807.4l-4.9-2m1.2-.2l-1.2 .2l.7 1M650.6 801.7l-1.9 4.9m-.2-1.2l.2 1.2l1-.7M650.6 796l-5.7 5m.4-1.1l-.4 1.1l1.2-.2M650.6 790.3l5.2-1.8m-.8 .9l.8-.9l-1.2-.3M650.6 784.6l-2.5 4.2m0-1.2l0 1.2l1.1-.6M650.6 778.9l-3.5 3.6m.3-1.2l-.3 1.2l1.2-.3M650.6 773.2l-1.7 3.8m-.1-1.2l.1 1.2l1-.7M650.6 767.5l2.4 4.8m-1-.6l1 .6l.1-1.2M650.6 761.8l5-2.1m-.7 1l.7-1l-1.2-.2M650.6 756.1l-2.6 4.6m0-1.2l0 1.2l1-.6M650.6 750.4l-.6 4.6m-.5-1.1l.5 1.1l.7-.9M650.6 744.7l-4.4 3.4m.4-1.1l-.4 1.1l1.2-.1M650.6 739l-.9 4.1m-.4-1.1l.4 1.1l.8-.9M650.6 733.3l-3 3.6m.2-1.2l-.2 1.2l1.1-.4M650.6 727.6l-1.3 5m-.3-1.2l.3 1.2l.9-.8M650.6 721.9l-2 3.6m0-1.2l0 1.2l1-.6M650.6 716.2l-3.4 3.6m.3-1.2l-.3 1.2l1.2-.3M650.6 710.5l-5.3 6.2m.2-1.2l-.2 1.2l1.1-.4M650.6 704.8l-5.4 4.8m.4-1.1l-.4 1.1l1.2-.2M650.6 699.1l-3.4 3.1m.3-1.1l-.3 1.1l1.2-.2M650.6 693.4l.2 5.1m-.7-1l.7 1l.6-1.1M650.6 687.7l-2.9 3.8m.1-1.2l-.1 1.2l1.1-.4M650.6 682l-3.8 3.6m.3-1.2l-.3 1.2l1.2-.3M650.6 676.3l-3.2 4.4m.1-1.2l-.1 1.2l1.1-.5M650.6 670.6l-.1 5m-.6-1l.6 1l.6-1M650.6 664.9l-3.8 3.4m.4-1.1l-.4 1.1l1.2-.2M650.6 659.2l-3.2 3.4m.2-1.2l-.2 1.2l1.2-.3M650.6 653.5l-4.3 3.4m.4-1.1l-.4 1.1l1.2-.1M650.6 647.8l-3.9 2.7m.5-1.1l-.5 1.1l1.2-.1" fill="none" stroke="#0072bd" stroke-width="0.48" stroke-opacity="0.9" stroke-linecap="round"/>
<path d="M390.6 625H679.5V853H390.6Z" fill="none" stroke="#a0a0a0" stroke-width="0.7"/>
<path d="M390.6 853v-2.5M390.6 625v2.5M390.6 853.0h2.5M679.5 853.0h-2.5M419.5 853v-2.5M419.5 625v2.5M390.6 830.2h2.5M679.5 830.2h-2.5M448.4 853v-2.5M448.4 625v2.5M390.6 807.4h2.5M679.5 807.4h-2.5M477.3 853v-2.5M477.3 625v2.5M390.6 784.6h2.5M679.5 784.6h-2.5M506.2 853v-2.5M506.2 625v2.5M390.6 761.8h2.5M679.5 761.8h-2.5M535.0 853v-2.5M535.0 625v2.5M390.6 739.0h2.5M679.5 739.0h-2.5M563.9 853v-2.5M563.9 625v2.5M390.6 716.2h2.5M679.5 716.2h-2.5M592.8 853v-2.5M592.8 625v2.5M390.6 693.4h2.5M679.5 693.4h-2.5M621.7 853v-2.5M621.7 625v2.5M390.6 670.6h2.5M679.5 670.6h-2.5M650.6 853v-2.5M650.6 625v2.5M390.6 647.8h2.5M679.5 647.8h-2.5M679.5 853v-2.5M679.5 625v2.5M390.6 625.0h2.5M679.5 625.0h-2.5" stroke="#707070" stroke-width="0.5" fill="none"/>
<text x="390.6" y="862.1" font-family="Liberation Sans, sans-serif" font-size="6.6" fill="#262626" text-anchor="middle">-0.5</text>
<text x="387.3" y="855.4" font-family="Liberation Sans, sans-serif" font-size="6.6" fill="#262626" text-anchor="end">-0.5</text>
<text x="419.5" y="862.1" font-family="Liberation Sans, sans-serif" font-size="6.6" fill="#262626" text-anchor="middle">0</text>
<text x="387.3" y="832.6" font-family="Liberation Sans, sans-serif" font-size="6.6" fill="#262626" text-anchor="end">0</text>
<text x="448.4" y="862.1" font-family="Liberation Sans, sans-serif" font-size="6.6" fill="#262626" text-anchor="middle">0.5</text>
<text x="387.3" y="809.8" font-family="Liberation Sans, sans-serif" font-size="6.6" fill="#262626" text-anchor="end">0.5</text>
<text x="477.3" y="862.1" font-family="Liberation Sans, sans-serif" font-size="6.6" fill="#262626" text-anchor="middle">1</text>
<text x="387.3" y="787.0" font-family="Liberation Sans, sans-serif" font-size="6.6" fill="#262626" text-anchor="end">1</text>
<text x="506.2" y="862.1" font-family="Liberation Sans, sans-serif" font-size="6.6" fill="#262626" text-anchor="middle">1.5</text>
<text x="387.3" y="764.2" font-family="Liberation Sans, sans-serif" font-size="6.6" fill="#262626" text-anchor="end">1.5</text>
<text x="535.0" y="862.1" font-family="Liberation Sans, sans-serif" font-size="6.6" fill="#262626" text-anchor="middle">2</text>
<text x="387.3" y="741.4" font-family="Liberation Sans, sans-serif" font-size="6.6" fill="#262626" text-anchor="end">2</text>
<text x="563.9" y="862.1" font-family="Liberation Sans, sans-serif" font-size="6.6" fill="#262626" text-anchor="middle">2.5</text>
<text x="387.3" y="718.6" font-family="Liberation Sans, sans-serif" font-size="6.6" fill="#262626" text-anchor="end">2.5</text>
<text x="592.8" y="862.1" font-family="Liberation Sans, sans-serif" font-size="6.6" fill="#262626" text-anchor="middle">3</text>
<text x="387.3" y="695.8" font-family="Liberation Sans, sans-serif" font-size="6.6" fill="#262626" text-anchor="end">3</text>
<text x="621.7" y="862.1" font-family="Liberation Sans, sans-serif" font-size="6.6" fill="#262626" text-anchor="middle">3.5</text>
<text x="387.3" y="673.0" font-family="Liberation Sans, sans-serif" font-size="6.6" fill="#262626" text-anchor="end">3.5</text>
<text x="650.6" y="862.1" font-family="Liberation Sans, sans-serif" font-size="6.6" fill="#262626" text-anchor="middle">4</text>
<text x="387.3" y="650.2" font-family="Liberation Sans, sans-serif" font-size="6.6" fill="#262626" text-anchor="end">4</text>
<text x="679.5" y="862.1" font-family="Liberation Sans, sans-serif" font-size="6.6" fill="#262626" text-anchor="middle">4.5</text>
<text x="387.3" y="627.4" font-family="Liberation Sans, sans-serif" font-size="6.6" fill="#262626" text-anchor="end">4.5</text>
<text id="cla" x="55.20" y="280.1" font-family="Liberation Serif, serif" font-size="18.5" font-weight="bold" fill="#000" textLength="22.86" lengthAdjust="spacingAndGlyphs">(a)</text>
<text id="cta" x="84.80" y="280.8" font-family="Liberation Serif, serif" font-size="17.9" font-style="italic" fill="#000" textLength="184.22" lengthAdjust="spacing">Cancer cell population</text>
<text id="clb" x="405.77" y="280.1" font-family="Liberation Serif, serif" font-size="18.5" font-weight="bold" fill="#000" textLength="23.46" lengthAdjust="spacingAndGlyphs">(b)</text>
<text id="ctb" x="435.00" y="280.8" font-family="Liberation Serif, serif" font-size="17.9" font-style="italic" fill="#000" textLength="194.00" lengthAdjust="spacing">cancer cell population 2</text>
<text id="clc" x="48.17" y="590.3" font-family="Liberation Serif, serif" font-size="18.5" font-weight="bold" fill="#000" textLength="22.63" lengthAdjust="spacingAndGlyphs">(c)</text>
<text id="ctc" x="76.20" y="591.0" font-family="Liberation Serif, serif" font-size="17.9" font-style="italic" fill="#000" textLength="198.61" lengthAdjust="spacing">Fibre magnitude density</text>
<text id="cld" x="385.19" y="590.3" font-family="Liberation Serif, serif" font-size="18.5" font-weight="bold" fill="#000" textLength="25.04" lengthAdjust="spacingAndGlyphs">(d)</text>
<text id="ctd" x="414.80" y="591.0" font-family="Liberation Serif, serif" font-size="17.9" font-style="italic" fill="#000" textLength="235.80" lengthAdjust="spacing">Non-fibres ECM distribution</text>
<text id="cle" x="1.16" y="898.1" font-family="Liberation Serif, serif" font-size="18.5" font-weight="bold" fill="#000" textLength="20.86" lengthAdjust="spacingAndGlyphs">(e)</text>
<text id="cte" x="30.80" y="898.8" font-family="Liberation Serif, serif" font-size="17.9" font-style="italic" fill="#000" textLength="290.01" lengthAdjust="spacing">Fibre vector field - coarsened 2 fold</text>
<text id="clf" x="356.40" y="898.1" font-family="Liberation Serif, serif" font-size="18.5" font-weight="bold" fill="#000" textLength="18.68" lengthAdjust="spacingAndGlyphs">(f)</text>
<text id="ctf" x="385.40" y="898.8" font-family="Liberation Serif, serif" font-size="17.9" font-style="italic" fill="#000" textLength="290.41" lengthAdjust="spacing">Fibre vector field - coarsened 4 fold</text>
</svg></body></html>
